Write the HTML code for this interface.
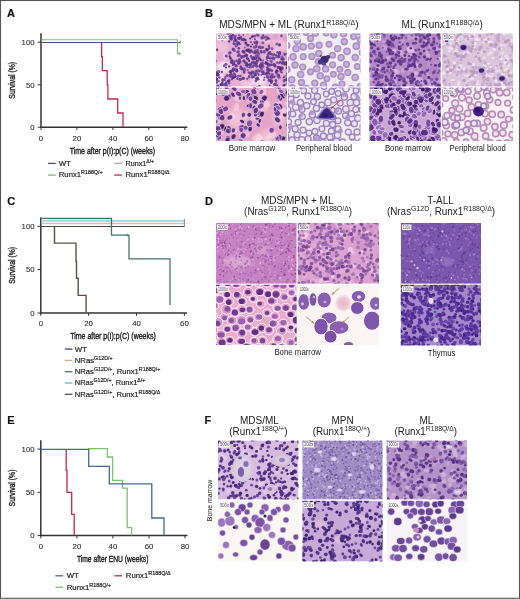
<!DOCTYPE html>
<html><head><meta charset="utf-8"><style>
html,body{margin:0;padding:0;background:#fff;}
body{width:520px;height:599px;overflow:hidden;position:relative;font-family:"Liberation Sans", sans-serif;}
svg{position:absolute;left:0;top:0;will-change:transform;}
text.p{stroke:#1e1e1e;stroke-width:.2px;}
text.yl,text.xt{stroke:#1e1e1e;stroke-width:.38px;}
text.tk{stroke:#2a2a2a;stroke-width:.08px;}
text.lb{stroke:none;}
</style></head><body>
<svg width="520" height="599" viewBox="0 0 520 599" font-family='"Liberation Sans", sans-serif'>
<text class="p" x="7" y="16.6" font-size="11" font-weight="bold" fill="#111">A</text>
<text class="p" x="205" y="16.7" font-size="11" font-weight="bold" fill="#111">B</text>
<text class="p" x="7.2" y="204.8" font-size="11" font-weight="bold" fill="#111">C</text>
<text class="p" x="205" y="204.6" font-size="11" font-weight="bold" fill="#111">D</text>
<text class="p" x="7.3" y="424.3" font-size="11" font-weight="bold" fill="#111">E</text>
<text class="p" x="204.6" y="424.2" font-size="11" font-weight="bold" fill="#111">F</text>
<line x1="41" y1="33.2" x2="41" y2="127.9" stroke="#333" stroke-width="1.5"/>
<line x1="40.3" y1="127.2" x2="187.3" y2="127.2" stroke="#333" stroke-width="1.5"/>
<line x1="37.7" y1="42.2" x2="41" y2="42.2" stroke="#333" stroke-width="1"/>
<text x="34.6" y="45.0" font-size="7.8" text-anchor="end" fill="#2a2a2a" class="tk">100</text>
<line x1="37.7" y1="84.8" x2="41" y2="84.8" stroke="#333" stroke-width="1"/>
<text x="34.6" y="87.6" font-size="7.8" text-anchor="end" fill="#2a2a2a" class="tk">50</text>
<line x1="37.7" y1="127.2" x2="41" y2="127.2" stroke="#333" stroke-width="1"/>
<text x="34.6" y="130.0" font-size="7.8" text-anchor="end" fill="#2a2a2a" class="tk">0</text>
<line x1="41" y1="127.2" x2="41" y2="130.0" stroke="#333" stroke-width="1"/>
<text x="41" y="140.6" font-size="7.8" text-anchor="middle" fill="#2a2a2a" class="tk">0</text>
<line x1="76.9" y1="127.2" x2="76.9" y2="130.0" stroke="#333" stroke-width="1"/>
<text x="76.9" y="140.6" font-size="7.8" text-anchor="middle" fill="#2a2a2a" class="tk">20</text>
<line x1="112.9" y1="127.2" x2="112.9" y2="130.0" stroke="#333" stroke-width="1"/>
<text x="112.9" y="140.6" font-size="7.8" text-anchor="middle" fill="#2a2a2a" class="tk">40</text>
<line x1="148.8" y1="127.2" x2="148.8" y2="130.0" stroke="#333" stroke-width="1"/>
<text x="148.8" y="140.6" font-size="7.8" text-anchor="middle" fill="#2a2a2a" class="tk">60</text>
<line x1="184.8" y1="127.2" x2="184.8" y2="130.0" stroke="#333" stroke-width="1"/>
<text x="184.8" y="140.6" font-size="7.8" text-anchor="middle" fill="#2a2a2a" class="tk">80</text>
<text class="yl" transform="translate(15.3,80.3) rotate(-90)" x="0" y="0" font-size="8.6" text-anchor="middle" textLength="36.7" lengthAdjust="spacingAndGlyphs" fill="#222">Survival (%)</text>
<text x="69.7" y="153.7" font-size="9" textLength="85.5" lengthAdjust="spacingAndGlyphs" fill="#1a1a1a" class="xt">Time after p(I):p(C)  (weeks)</text>
<polyline points="41.5,42.5 180.3,42.5" fill="none" stroke="#3d5378" stroke-width="1.1" stroke-linejoin="miter"/>
<polyline points="41.5,39.7 177.5,39.7 177.5,53.6 180,53.6" fill="none" stroke="#7dc26f" stroke-width="1.1" stroke-linejoin="miter"/>
<polyline points="101.6,42.4 101.6,42.4 101.6,56.5 102.3,56.5 102.3,70.6 107.2,70.6 107.2,84.9 107.9,84.9 107.9,99.0 117.7,99.0 117.7,113.0 123.0,113.0 123.0,127.0" fill="none" stroke="#c8274c" stroke-width="1.3" stroke-linejoin="miter"/>
<line x1="180.3" y1="34.5" x2="180.3" y2="37" stroke="#aaa" stroke-width="0.6"/>
<line x1="180.3" y1="40.5" x2="180.3" y2="43.5" stroke="#666" stroke-width="0.7"/>
<line x1="180" y1="52.3" x2="180" y2="55" stroke="#777" stroke-width="0.7"/>
<line x1="48" y1="163.4" x2="55.7" y2="163.4" stroke="#3d5378" stroke-width="1.3"/>
<text class="p" x="58.8" y="166" font-size="8" fill="#1a1a1a" textLength="12.2" lengthAdjust="spacingAndGlyphs">WT</text>
<line x1="114.3" y1="163.4" x2="122.0" y2="163.4" stroke="#b4a6c0" stroke-width="1.3"/>
<text class="p" x="125.6" y="166.2" font-size="8" fill="#1a1a1a" textLength="28.4" lengthAdjust="spacingAndGlyphs">Runx1<tspan font-size="5.6" dy="-3.0">Δ/+</tspan></text>
<line x1="48" y1="175.1" x2="55.7" y2="175.1" stroke="#7dc26f" stroke-width="1.3"/>
<text class="p" x="58.8" y="177.4" font-size="8" fill="#1a1a1a" textLength="43.9" lengthAdjust="spacingAndGlyphs">Runx1<tspan font-size="5.6" dy="-3.0">R188Q/+</tspan></text>
<line x1="114.3" y1="175.1" x2="122.0" y2="175.1" stroke="#c8274c" stroke-width="1.3"/>
<text class="p" x="125.6" y="177.4" font-size="8" fill="#1a1a1a" textLength="44.1" lengthAdjust="spacingAndGlyphs">Runx1<tspan font-size="5.6" dy="-3.0">R188Q/Δ</tspan></text>
<line x1="40.8" y1="217.5" x2="40.8" y2="313.7" stroke="#333" stroke-width="1.5"/>
<line x1="40.099999999999994" y1="313.0" x2="187.0" y2="313.0" stroke="#333" stroke-width="1.5"/>
<line x1="37.5" y1="226.3" x2="40.8" y2="226.3" stroke="#333" stroke-width="1"/>
<text x="34.6" y="229.10000000000002" font-size="7.8" text-anchor="end" fill="#2a2a2a" class="tk">100</text>
<line x1="37.5" y1="269.6" x2="40.8" y2="269.6" stroke="#333" stroke-width="1"/>
<text x="34.6" y="272.40000000000003" font-size="7.8" text-anchor="end" fill="#2a2a2a" class="tk">50</text>
<line x1="37.5" y1="313.0" x2="40.8" y2="313.0" stroke="#333" stroke-width="1"/>
<text x="34.6" y="315.8" font-size="7.8" text-anchor="end" fill="#2a2a2a" class="tk">0</text>
<line x1="40.8" y1="313.0" x2="40.8" y2="315.8" stroke="#333" stroke-width="1"/>
<text x="40.8" y="326.3" font-size="7.8" text-anchor="middle" fill="#2a2a2a" class="tk">0</text>
<line x1="88.6" y1="313.0" x2="88.6" y2="315.8" stroke="#333" stroke-width="1"/>
<text x="88.6" y="326.3" font-size="7.8" text-anchor="middle" fill="#2a2a2a" class="tk">20</text>
<line x1="136.5" y1="313.0" x2="136.5" y2="315.8" stroke="#333" stroke-width="1"/>
<text x="136.5" y="326.3" font-size="7.8" text-anchor="middle" fill="#2a2a2a" class="tk">40</text>
<line x1="184.4" y1="313.0" x2="184.4" y2="315.8" stroke="#333" stroke-width="1"/>
<text x="184.4" y="326.3" font-size="7.8" text-anchor="middle" fill="#2a2a2a" class="tk">60</text>
<text class="yl" transform="translate(15.3,265.3) rotate(-90)" x="0" y="0" font-size="8.6" text-anchor="middle" textLength="36.8" lengthAdjust="spacingAndGlyphs" fill="#222">Survival (%)</text>
<text x="70.2" y="339.0" font-size="9" textLength="85.6" lengthAdjust="spacingAndGlyphs" fill="#1a1a1a" class="xt">Time after p(I):p(C)  (weeks)</text>
<polyline points="41.5,223.5 184.4,223.5" fill="none" stroke="#e2c08e" stroke-width="1.3" stroke-linejoin="miter"/>
<polyline points="41.5,220.8 184.4,220.8" fill="none" stroke="#a2d6ec" stroke-width="1.8" stroke-linejoin="miter"/>
<polyline points="41.5,226.5 184.4,226.5" fill="none" stroke="#42474e" stroke-width="1.2" stroke-linejoin="miter"/>
<polyline points="41.5,218.4 111.5,218.4 111.5,235.1 129.0,235.1 129.0,258.9 170.0,258.9 170.0,305.0" fill="none" stroke="#40726a" stroke-width="1.25" stroke-linejoin="miter"/>
<polyline points="54.5,226.5 54.5,226.5 54.5,243.1 76.0,243.1 76.0,261.5 76.5,261.5 76.5,278.2 78.2,278.2 78.2,295.4 86.1,295.4 86.1,312.4" fill="none" stroke="#5c5046" stroke-width="1.4" stroke-linejoin="miter"/>
<line x1="184.4" y1="219" x2="184.4" y2="227" stroke="#555" stroke-width="0.7"/>
<line x1="127.2" y1="233.5" x2="127.2" y2="236.5" stroke="#40726a" stroke-width="0.7"/>
<line x1="64.8" y1="349.1" x2="72.5" y2="349.1" stroke="#3c4a6a" stroke-width="1.3"/>
<text class="p" x="74.8" y="351.6" font-size="8" fill="#1a1a1a" textLength="12.2" lengthAdjust="spacingAndGlyphs">WT</text>
<line x1="64.8" y1="360.4" x2="72.5" y2="360.4" stroke="#d8b080" stroke-width="1.3"/>
<text class="p" x="74.8" y="362.8" font-size="8" fill="#1a1a1a" textLength="37.9" lengthAdjust="spacingAndGlyphs">NRas<tspan font-size="5.6" dy="-3.0">G12D/+</tspan></text>
<line x1="64.8" y1="371.7" x2="72.5" y2="371.7" stroke="#4a7a6a" stroke-width="1.3"/>
<text class="p" x="74.8" y="374.1" font-size="8" fill="#1a1a1a" textLength="85.6" lengthAdjust="spacingAndGlyphs">NRas<tspan font-size="5.6" dy="-3.0">G12D/+</tspan><tspan dy="3.0">, Runx1</tspan><tspan font-size="5.6" dy="-3.0">R188Q/+</tspan></text>
<line x1="64.8" y1="383.0" x2="72.5" y2="383.0" stroke="#62b8d8" stroke-width="1.3"/>
<text class="p" x="74.8" y="385.4" font-size="8" fill="#1a1a1a" textLength="70.5" lengthAdjust="spacingAndGlyphs">NRas<tspan font-size="5.6" dy="-3.0">G12D/+</tspan><tspan dy="3.0">, Runx1</tspan><tspan font-size="5.6" dy="-3.0">Δ/+</tspan></text>
<line x1="64.8" y1="394.3" x2="72.5" y2="394.3" stroke="#5a5048" stroke-width="1.3"/>
<text class="p" x="74.8" y="396.5" font-size="8" fill="#1a1a1a" textLength="85.5" lengthAdjust="spacingAndGlyphs">NRas<tspan font-size="5.6" dy="-3.0">G12D/+</tspan><tspan dy="3.0">, Runx1</tspan><tspan font-size="5.6" dy="-3.0">R188Q/Δ</tspan></text>
<line x1="40.8" y1="440.2" x2="40.8" y2="536.3000000000001" stroke="#333" stroke-width="1.5"/>
<line x1="40.099999999999994" y1="535.6" x2="187.5" y2="535.6" stroke="#333" stroke-width="1.5"/>
<line x1="37.5" y1="449.1" x2="40.8" y2="449.1" stroke="#333" stroke-width="1"/>
<text x="34.6" y="451.90000000000003" font-size="7.8" text-anchor="end" fill="#2a2a2a" class="tk">100</text>
<line x1="37.5" y1="492.3" x2="40.8" y2="492.3" stroke="#333" stroke-width="1"/>
<text x="34.6" y="495.1" font-size="7.8" text-anchor="end" fill="#2a2a2a" class="tk">50</text>
<line x1="37.5" y1="535.6" x2="40.8" y2="535.6" stroke="#333" stroke-width="1"/>
<text x="34.6" y="538.4" font-size="7.8" text-anchor="end" fill="#2a2a2a" class="tk">0</text>
<line x1="40.8" y1="535.6" x2="40.8" y2="538.4" stroke="#333" stroke-width="1"/>
<text x="40.8" y="549.0" font-size="7.8" text-anchor="middle" fill="#2a2a2a" class="tk">0</text>
<line x1="76.9" y1="535.6" x2="76.9" y2="538.4" stroke="#333" stroke-width="1"/>
<text x="76.9" y="549.0" font-size="7.8" text-anchor="middle" fill="#2a2a2a" class="tk">20</text>
<line x1="112.9" y1="535.6" x2="112.9" y2="538.4" stroke="#333" stroke-width="1"/>
<text x="112.9" y="549.0" font-size="7.8" text-anchor="middle" fill="#2a2a2a" class="tk">40</text>
<line x1="149.0" y1="535.6" x2="149.0" y2="538.4" stroke="#333" stroke-width="1"/>
<text x="149.0" y="549.0" font-size="7.8" text-anchor="middle" fill="#2a2a2a" class="tk">60</text>
<line x1="185.0" y1="535.6" x2="185.0" y2="538.4" stroke="#333" stroke-width="1"/>
<text x="185.0" y="549.0" font-size="7.8" text-anchor="middle" fill="#2a2a2a" class="tk">80</text>
<text class="yl" transform="translate(15.3,488) rotate(-90)" x="0" y="0" font-size="8.6" text-anchor="middle" textLength="36.8" lengthAdjust="spacingAndGlyphs" fill="#222">Survival (%)</text>
<text x="76.9" y="562.3" font-size="9" textLength="71.5" lengthAdjust="spacingAndGlyphs" fill="#1a1a1a" class="xt">Time after ENU (weeks)</text>
<polyline points="88.0,448.7 107.4,448.7 107.4,457.0 112.6,457.0 112.6,480.4 122.5,480.4 122.5,488.2 127.2,488.2 127.2,527.7 131.6,527.7 131.6,535.4" fill="none" stroke="#7dc26f" stroke-width="1.3" stroke-linejoin="miter"/>
<polyline points="66.2,449.2 66.2,449.2 66.2,470.4 67.0,470.4 67.0,492.3 71.7,492.3 71.7,514.3 74.2,514.3 74.2,535.4" fill="none" stroke="#c8274c" stroke-width="1.3" stroke-linejoin="miter"/>
<polyline points="41.5,449.4 88.7,449.4 88.7,466.3 109.3,466.3 109.3,483.9 151.8,483.9 151.8,518.0 164.0,518.0 164.0,535.4" fill="none" stroke="#46689a" stroke-width="1.3" stroke-linejoin="miter"/>
<line x1="55.4" y1="575.8" x2="63.1" y2="575.8" stroke="#46689a" stroke-width="1.3"/>
<text class="p" x="66.7" y="577.8" font-size="8" fill="#1a1a1a" textLength="12.2" lengthAdjust="spacingAndGlyphs">WT</text>
<line x1="114.3" y1="575.8" x2="122.0" y2="575.8" stroke="#c8274c" stroke-width="1.3"/>
<text class="p" x="125.8" y="577.8" font-size="8" fill="#1a1a1a" textLength="44.8" lengthAdjust="spacingAndGlyphs">Runx1<tspan font-size="5.6" dy="-3.0">R188Q/Δ</tspan></text>
<line x1="55.4" y1="587.3" x2="63.1" y2="587.3" stroke="#7dc26f" stroke-width="1.3"/>
<text class="p" x="66.7" y="589.5" font-size="8" fill="#1a1a1a" textLength="44.6" lengthAdjust="spacingAndGlyphs">Runx1<tspan font-size="5.6" dy="-3.0">R188Q/+</tspan></text>
<rect x="0.5" y="0.5" width="519" height="597.8" fill="none" stroke="#555" stroke-width="1.1"/>
<defs><filter id="bl" x="-5%" y="-5%" width="110%" height="110%"><feGaussianBlur stdDeviation="0.5"/></filter></defs><clipPath id="c0"><rect x="216" y="33.3" width="71" height="53.3"/></clipPath><g clip-path="url(#c0)"><g filter="url(#bl)"><rect x="216" y="33.3" width="71" height="53.3" fill="#e6b0d2"/><g fill="#f4d2e6" fill-opacity="0.7"><ellipse cx="0" cy="0" rx="2.9" ry="2.1" transform="translate(224.1 79.9) rotate(89)"/><ellipse cx="0" cy="0" rx="2.1" ry="1.7" transform="translate(249.4 53.1) rotate(160)"/><ellipse cx="0" cy="0" rx="2.6" ry="2" transform="translate(271.3 85.1) rotate(121)"/><ellipse cx="0" cy="0" rx="3" ry="2.1" transform="translate(227.9 88.2) rotate(59)"/><ellipse cx="0" cy="0" rx="2.1" ry="1.5" transform="translate(252.1 83.5) rotate(175)"/><ellipse cx="0" cy="0" rx="2.6" ry="1.7" transform="translate(277.5 60.3) rotate(43)"/><circle cx="250.7" cy="33" r="1.9"/><ellipse cx="0" cy="0" rx="2.3" ry="1.9" transform="translate(250.9 85) rotate(3)"/><ellipse cx="0" cy="0" rx="2.3" ry="1.8" transform="translate(259 79.5) rotate(52)"/><ellipse cx="0" cy="0" rx="3" ry="2" transform="translate(220.9 37.9) rotate(43)"/><ellipse cx="0" cy="0" rx="2.8" ry="1.9" transform="translate(226.2 57.1) rotate(152)"/><circle cx="286.7" cy="86.9" r="2"/><ellipse cx="0" cy="0" rx="2.4" ry="1.9" transform="translate(272.3 70.4) rotate(45)"/><circle cx="259.9" cy="44.7" r="1.8"/><ellipse cx="0" cy="0" rx="3" ry="2.3" transform="translate(237.4 71) rotate(126)"/><ellipse cx="0" cy="0" rx="3.1" ry="2.8" transform="translate(225.7 55.8) rotate(140)"/><ellipse cx="0" cy="0" rx="3.2" ry="2.5" transform="translate(247.4 84.3) rotate(144)"/><ellipse cx="0" cy="0" rx="3" ry="2.8" transform="translate(254.9 59.4) rotate(102)"/><ellipse cx="0" cy="0" rx="2.3" ry="1.9" transform="translate(223.3 72.4) rotate(61)"/><ellipse cx="0" cy="0" rx="2.7" ry="2" transform="translate(266.7 57) rotate(94)"/><ellipse cx="0" cy="0" rx="2.7" ry="2.4" transform="translate(251 74) rotate(113)"/><ellipse cx="0" cy="0" rx="2.6" ry="2" transform="translate(271.6 78) rotate(47)"/></g><g fill="#f0c4de" fill-opacity="0.7"><circle cx="246.5" cy="75" r="1.8"/><ellipse cx="0" cy="0" rx="2.1" ry="1.7" transform="translate(284.4 53.1) rotate(5)"/><ellipse cx="0" cy="0" rx="2.1" ry="1.4" transform="translate(262.5 41) rotate(35)"/><circle cx="242.8" cy="80.4" r="3.1"/><ellipse cx="0" cy="0" rx="2.4" ry="1.6" transform="translate(252.9 63.5) rotate(156)"/><ellipse cx="0" cy="0" rx="2.2" ry="1.6" transform="translate(273.8 41.9) rotate(45)"/><ellipse cx="0" cy="0" rx="2.4" ry="1.7" transform="translate(215.8 53.4) rotate(19)"/><ellipse cx="0" cy="0" rx="2.8" ry="2.5" transform="translate(267.9 40.5) rotate(98)"/><ellipse cx="0" cy="0" rx="2.1" ry="1.8" transform="translate(242.3 51.2) rotate(77)"/><ellipse cx="0" cy="0" rx="2.1" ry="1.6" transform="translate(281.5 32.3) rotate(177)"/><circle cx="224.2" cy="62.9" r="1.9"/><ellipse cx="0" cy="0" rx="2.7" ry="2.5" transform="translate(276.1 50.8) rotate(68)"/><circle cx="232.4" cy="37.1" r="2.7"/><ellipse cx="0" cy="0" rx="2.9" ry="2.2" transform="translate(215.6 31.9) rotate(84)"/><ellipse cx="0" cy="0" rx="2.3" ry="1.9" transform="translate(221.6 75.9) rotate(119)"/><ellipse cx="0" cy="0" rx="2.6" ry="2.3" transform="translate(223.5 43.1) rotate(140)"/><ellipse cx="0" cy="0" rx="3.2" ry="2.1" transform="translate(273.5 84.7) rotate(124)"/><ellipse cx="0" cy="0" rx="3.2" ry="2.4" transform="translate(258.5 39.2) rotate(101)"/><ellipse cx="0" cy="0" rx="2.1" ry="1.6" transform="translate(283.8 67.9) rotate(123)"/><ellipse cx="0" cy="0" rx="2.7" ry="2.4" transform="translate(267.5 50.6) rotate(117)"/><circle cx="217.6" cy="35.4" r="2.5"/><circle cx="258.6" cy="80.4" r="3.1"/><ellipse cx="0" cy="0" rx="2.4" ry="2.1" transform="translate(243.8 83.4) rotate(87)"/><ellipse cx="0" cy="0" rx="2.4" ry="1.6" transform="translate(222.9 65.7) rotate(53)"/><ellipse cx="0" cy="0" rx="3" ry="2.1" transform="translate(261.1 66) rotate(51)"/><ellipse cx="0" cy="0" rx="2.2" ry="1.9" transform="translate(234.5 64.9) rotate(142)"/><ellipse cx="0" cy="0" rx="2.3" ry="2" transform="translate(222.5 83.9) rotate(179)"/><ellipse cx="0" cy="0" rx="2.9" ry="2.3" transform="translate(268.1 40.2) rotate(48)"/></g><g fill="#dc9cca" fill-opacity="0.7"><ellipse cx="0" cy="0" rx="2.2" ry="1.5" transform="translate(258.3 37.2) rotate(116)"/><circle cx="285.4" cy="84.4" r="2.4"/><ellipse cx="0" cy="0" rx="3" ry="2.3" transform="translate(244.3 51) rotate(163)"/><ellipse cx="0" cy="0" rx="2.1" ry="1.5" transform="translate(248.4 32.9) rotate(105)"/><ellipse cx="0" cy="0" rx="2.9" ry="2.2" transform="translate(273.9 77) rotate(151)"/><circle cx="220.2" cy="32.3" r="1.8"/><ellipse cx="0" cy="0" rx="2.2" ry="2" transform="translate(263.2 68.4) rotate(89)"/><ellipse cx="0" cy="0" rx="3.2" ry="2.3" transform="translate(286.4 56) rotate(71)"/><ellipse cx="0" cy="0" rx="2.8" ry="2.2" transform="translate(287.3 67.4) rotate(94)"/><ellipse cx="0" cy="0" rx="2.2" ry="1.4" transform="translate(269.8 55.1) rotate(158)"/><ellipse cx="0" cy="0" rx="3.1" ry="2.5" transform="translate(258.3 43.8) rotate(149)"/><ellipse cx="0" cy="0" rx="2.5" ry="2.3" transform="translate(282.6 79.3) rotate(95)"/><ellipse cx="0" cy="0" rx="2.3" ry="1.7" transform="translate(256.4 85.9) rotate(96)"/><circle cx="248.3" cy="47.2" r="2.9"/><ellipse cx="0" cy="0" rx="2.6" ry="1.9" transform="translate(263.6 46.1) rotate(44)"/><circle cx="215.5" cy="45.3" r="1.9"/><ellipse cx="0" cy="0" rx="2.4" ry="1.8" transform="translate(277.8 57.3) rotate(46)"/><ellipse cx="0" cy="0" rx="2.3" ry="1.9" transform="translate(265.1 72.4) rotate(29)"/><ellipse cx="0" cy="0" rx="2.2" ry="1.5" transform="translate(253.3 36.5) rotate(132)"/><circle cx="286" cy="39.3" r="2.9"/><ellipse cx="0" cy="0" rx="3.1" ry="2.6" transform="translate(242.4 63.4) rotate(104)"/><ellipse cx="0" cy="0" rx="3.1" ry="2" transform="translate(229.4 77.7) rotate(102)"/><ellipse cx="0" cy="0" rx="2.5" ry="1.9" transform="translate(256.9 49.1) rotate(95)"/><ellipse cx="0" cy="0" rx="2.3" ry="2" transform="translate(257.5 86.9) rotate(175)"/></g><g fill="#d09ccc" fill-opacity="0.7"><ellipse cx="0" cy="0" rx="2.6" ry="2.3" transform="translate(245.1 41.2) rotate(121)"/><circle cx="220.5" cy="69.3" r="2"/><ellipse cx="0" cy="0" rx="2.9" ry="2.3" transform="translate(284.6 55) rotate(0)"/><ellipse cx="0" cy="0" rx="2.2" ry="2" transform="translate(243.6 64.3) rotate(10)"/><circle cx="223.4" cy="43.5" r="1.9"/><circle cx="239.4" cy="43.5" r="2.7"/><circle cx="268.4" cy="36.2" r="2"/><circle cx="282.3" cy="53" r="3.2"/><ellipse cx="0" cy="0" rx="2.1" ry="1.6" transform="translate(267.4 49.3) rotate(4)"/><ellipse cx="0" cy="0" rx="2.3" ry="1.9" transform="translate(268.5 49.7) rotate(11)"/><ellipse cx="0" cy="0" rx="2.9" ry="1.9" transform="translate(275.5 36.4) rotate(103)"/><ellipse cx="0" cy="0" rx="2.2" ry="1.7" transform="translate(284.6 53.7) rotate(57)"/><ellipse cx="0" cy="0" rx="3" ry="2.2" transform="translate(272.2 87.7) rotate(19)"/><ellipse cx="0" cy="0" rx="2" ry="1.8" transform="translate(227.4 56.1) rotate(120)"/><circle cx="254.9" cy="86.6" r="2.9"/><ellipse cx="0" cy="0" rx="3" ry="2.4" transform="translate(288 57.7) rotate(134)"/></g><radialGradient id="g25334598"><stop offset="0" stop-color="#fcf0f6" stop-opacity="1.0"/><stop offset="0.6" stop-color="#fcf0f6" stop-opacity="0.7"/><stop offset="1" stop-color="#fcf0f6" stop-opacity="0"/></radialGradient><ellipse cx="224" cy="67" rx="9" ry="7" fill="url(#g25334598)"/><radialGradient id="g76341595"><stop offset="0" stop-color="#f8e2ee" stop-opacity="0.9"/><stop offset="0.6" stop-color="#f8e2ee" stop-opacity="0.63"/><stop offset="1" stop-color="#f8e2ee" stop-opacity="0"/></radialGradient><ellipse cx="220" cy="78" rx="5" ry="8" fill="url(#g76341595)"/><radialGradient id="g30926666"><stop offset="0" stop-color="#fae8f2" stop-opacity="1.0"/><stop offset="0.6" stop-color="#fae8f2" stop-opacity="0.7"/><stop offset="1" stop-color="#fae8f2" stop-opacity="0"/></radialGradient><ellipse cx="259" cy="80" rx="10" ry="8" fill="url(#g30926666)"/><radialGradient id="g54127196"><stop offset="0" stop-color="#f0c8dc" stop-opacity="0.9"/><stop offset="0.6" stop-color="#f0c8dc" stop-opacity="0.63"/><stop offset="1" stop-color="#f0c8dc" stop-opacity="0"/></radialGradient><ellipse cx="222" cy="47" rx="8" ry="7" fill="url(#g54127196)"/><radialGradient id="g23404595"><stop offset="0" stop-color="#f0c8dc" stop-opacity="0.9"/><stop offset="0.6" stop-color="#f0c8dc" stop-opacity="0.63"/><stop offset="1" stop-color="#f0c8dc" stop-opacity="0"/></radialGradient><ellipse cx="281" cy="46" rx="8" ry="7" fill="url(#g23404595)"/><g fill="#7650a2" fill-opacity="0.9"><circle cx="266.6" cy="59" r="1"/><circle cx="257.2" cy="34.9" r="1.4"/><circle cx="262.8" cy="42.7" r="1.5"/><circle cx="258.4" cy="56.7" r="1.4"/><circle cx="243.7" cy="72.5" r="1"/><circle cx="233.8" cy="43.8" r="1"/><circle cx="252.1" cy="58.1" r="1"/><circle cx="230.7" cy="58.4" r="1.3"/><circle cx="266" cy="36.7" r="1.1"/><circle cx="237.8" cy="76.5" r="1.4"/><circle cx="268.3" cy="49" r="1.2"/><circle cx="256.7" cy="42" r="1.7"/><circle cx="264" cy="79.9" r="1.1"/><circle cx="235" cy="69.5" r="1.8"/><circle cx="256.3" cy="73.2" r="1.6"/><circle cx="254.4" cy="47.2" r="1.8"/><circle cx="258.7" cy="53.9" r="1.6"/><circle cx="238.9" cy="35.2" r="1.1"/><circle cx="266.3" cy="39.7" r="1.3"/><circle cx="236.2" cy="45.9" r="1.6"/><circle cx="256.2" cy="71.3" r="1.7"/><circle cx="256.1" cy="75.6" r="1"/><circle cx="249.2" cy="49.6" r="1.4"/><circle cx="244.7" cy="47.4" r="1"/><circle cx="269.9" cy="74.1" r="1"/><circle cx="233.3" cy="49.4" r="1.8"/><circle cx="260.9" cy="51" r="1.5"/><circle cx="229.5" cy="53.1" r="1.6"/><circle cx="262.1" cy="63.3" r="1.8"/><circle cx="255.6" cy="59" r="1.5"/><circle cx="252.5" cy="76.7" r="1.7"/><circle cx="235.9" cy="40.1" r="1.7"/><circle cx="260.2" cy="67" r="1.6"/><circle cx="249.2" cy="77" r="1.4"/><circle cx="243.5" cy="50.9" r="1.4"/><circle cx="230.5" cy="71.5" r="1.6"/><circle cx="250.8" cy="67.2" r="1.3"/><circle cx="237.4" cy="42.3" r="1.5"/><circle cx="255" cy="36.1" r="1.3"/><circle cx="238" cy="55.9" r="1.2"/><circle cx="261.5" cy="68.8" r="1.6"/><circle cx="246.5" cy="44.7" r="0.9"/><circle cx="267.9" cy="38.5" r="1.6"/><circle cx="235.5" cy="36" r="1.2"/><circle cx="244.4" cy="69.2" r="1.7"/><circle cx="240.9" cy="55.8" r="1"/></g><g fill="#4e2a7c" fill-opacity="0.9"><circle cx="250.9" cy="46.5" r="1"/><circle cx="266.3" cy="49.2" r="1.1"/><circle cx="245.3" cy="40" r="1.3"/><circle cx="247.2" cy="64.5" r="1.5"/><circle cx="239.8" cy="78.9" r="1"/><circle cx="230.1" cy="58.1" r="1"/><circle cx="237.6" cy="51.9" r="1.2"/><circle cx="248.5" cy="50.8" r="1.6"/><circle cx="247.3" cy="65.1" r="1.4"/><circle cx="247.3" cy="50.2" r="1.8"/><circle cx="260.7" cy="60" r="1.2"/><circle cx="256.9" cy="42.6" r="0.9"/><circle cx="252.6" cy="58.6" r="1.2"/><circle cx="236.7" cy="71" r="1.5"/><circle cx="238.7" cy="63.2" r="1.6"/><circle cx="238.7" cy="43.2" r="1.4"/><circle cx="258.3" cy="79.3" r="1.2"/><circle cx="233" cy="49.1" r="0.9"/><circle cx="269.1" cy="52.8" r="1.4"/><circle cx="266.8" cy="49.9" r="1.5"/><circle cx="246.1" cy="55.4" r="1.4"/><circle cx="268.9" cy="45.9" r="1.1"/><circle cx="245.8" cy="43" r="1.5"/><circle cx="250.2" cy="64.8" r="1.7"/><circle cx="257.3" cy="61" r="1.6"/><circle cx="249.2" cy="60.8" r="1"/><circle cx="243.4" cy="78.3" r="1.6"/><circle cx="248" cy="45.2" r="1.4"/><circle cx="257.6" cy="77.8" r="1.3"/><circle cx="242" cy="69.2" r="1.3"/><circle cx="260.9" cy="48.1" r="0.9"/><circle cx="229.1" cy="66.4" r="1.2"/><circle cx="234.6" cy="76.4" r="1.8"/><circle cx="254" cy="58" r="1.7"/><circle cx="239.3" cy="59.5" r="1.3"/><circle cx="237.6" cy="44.5" r="1.1"/><circle cx="246.3" cy="50.5" r="0.9"/><circle cx="255" cy="75" r="1.4"/></g><g fill="#684096" fill-opacity="0.9"><circle cx="256.3" cy="46.7" r="1.2"/><circle cx="240.6" cy="62" r="1.1"/><circle cx="234" cy="43.5" r="1.5"/><circle cx="239" cy="54.7" r="1.6"/><circle cx="231.3" cy="38.2" r="1.6"/><circle cx="230.9" cy="71.5" r="1.5"/><circle cx="240.7" cy="68.4" r="1.4"/><circle cx="268.7" cy="70.9" r="1"/><circle cx="262.7" cy="66.3" r="1.6"/><circle cx="231.2" cy="38.6" r="1.4"/><circle cx="267.6" cy="76.6" r="1.7"/><circle cx="260.6" cy="65.2" r="1.7"/><circle cx="233.4" cy="68.9" r="1.6"/><circle cx="242.6" cy="56.7" r="1.2"/><circle cx="262.3" cy="71.8" r="1.6"/><circle cx="230.8" cy="37.6" r="1.6"/><circle cx="244.2" cy="71" r="1.5"/><circle cx="250.9" cy="42.1" r="1.1"/><circle cx="252.2" cy="77.5" r="1.1"/><circle cx="235.1" cy="74.4" r="1.1"/><circle cx="269.5" cy="38.7" r="0.9"/><circle cx="250.8" cy="50.4" r="1.1"/><circle cx="256.6" cy="56" r="1.8"/><circle cx="249.1" cy="67.3" r="1.1"/><circle cx="259" cy="71.2" r="1.3"/><circle cx="253.4" cy="72.9" r="1.6"/><circle cx="254.5" cy="62.3" r="1.6"/><circle cx="264.2" cy="51.7" r="1.7"/><circle cx="250.6" cy="73.3" r="1.8"/><circle cx="254.6" cy="42.7" r="1.4"/><circle cx="248.7" cy="72.4" r="1.1"/><circle cx="271.7" cy="70.6" r="1.7"/><circle cx="242.1" cy="68.5" r="1.6"/><circle cx="263" cy="60.5" r="1"/><circle cx="254.4" cy="52.6" r="1.7"/><circle cx="265.6" cy="62" r="0.9"/><circle cx="267.9" cy="77.8" r="1.3"/><circle cx="245.3" cy="62.6" r="1.5"/><circle cx="233.8" cy="63.7" r="1.6"/><circle cx="261.3" cy="63.4" r="1"/><circle cx="247.2" cy="66.9" r="0.9"/><circle cx="243.3" cy="34.9" r="0.9"/><circle cx="253.2" cy="57.3" r="1"/><circle cx="247.2" cy="45.4" r="0.9"/><circle cx="242.1" cy="78.7" r="1.2"/><circle cx="230.5" cy="36.2" r="1.8"/><circle cx="250.8" cy="74" r="1.7"/><circle cx="262.9" cy="73.7" r="1.3"/><circle cx="258.2" cy="73.9" r="1"/><circle cx="244" cy="56.5" r="1.4"/><circle cx="240.3" cy="79.6" r="1.5"/></g><g fill="#5e3a90" fill-opacity="0.9"><circle cx="240.6" cy="37.4" r="1.6"/><circle cx="253" cy="36.3" r="1.2"/><circle cx="248.9" cy="60.7" r="1.1"/><circle cx="263.1" cy="35.4" r="1.2"/><circle cx="239.6" cy="61" r="1.6"/><circle cx="256.5" cy="78.6" r="1.7"/><circle cx="263.7" cy="73.4" r="1.2"/><circle cx="233.5" cy="64" r="1.3"/><circle cx="239.8" cy="44.2" r="1"/><circle cx="251.1" cy="56.4" r="1.3"/><circle cx="252.3" cy="71.8" r="1.4"/><circle cx="256.7" cy="79.7" r="1.2"/><circle cx="246.6" cy="63" r="1.2"/><circle cx="231.4" cy="62.8" r="1.2"/><circle cx="240.8" cy="66.5" r="1.3"/><circle cx="240.6" cy="56.1" r="1.2"/><circle cx="234.2" cy="50" r="1"/><circle cx="246.4" cy="65.2" r="1.5"/><circle cx="269.2" cy="47.9" r="1.1"/><circle cx="232" cy="79" r="1.2"/><circle cx="258.4" cy="35.4" r="1.2"/><circle cx="234.1" cy="61.6" r="1.1"/><circle cx="270" cy="58.7" r="0.9"/><circle cx="256.8" cy="66.1" r="1.6"/><circle cx="263.5" cy="71.7" r="1.1"/><circle cx="252.4" cy="62.8" r="1.7"/><circle cx="261.9" cy="64.7" r="1.6"/><circle cx="236.6" cy="60.9" r="1.4"/><circle cx="235.4" cy="40" r="1.1"/><circle cx="230.3" cy="52.6" r="1.3"/><circle cx="244.3" cy="72.6" r="1.1"/><circle cx="241.5" cy="57.7" r="1.2"/><circle cx="252.4" cy="44.6" r="0.9"/><circle cx="231.8" cy="61.9" r="1.6"/><circle cx="267.5" cy="37.9" r="1.4"/><circle cx="261.2" cy="74.8" r="0.9"/><circle cx="247.3" cy="78.8" r="1.1"/><circle cx="255.4" cy="50.7" r="1.3"/><circle cx="256.8" cy="43" r="1.4"/><circle cx="253.2" cy="59.3" r="1.4"/><circle cx="267.9" cy="69.3" r="1.4"/><circle cx="231.3" cy="39.1" r="1.7"/><circle cx="271.7" cy="54.1" r="1.2"/><circle cx="232.8" cy="70.2" r="1.6"/><circle cx="255" cy="39.2" r="1"/><circle cx="268.4" cy="72.9" r="1.5"/><circle cx="243.7" cy="39.5" r="1.8"/><circle cx="259.6" cy="70.7" r="1"/><circle cx="238.8" cy="48.3" r="1.4"/><circle cx="242.6" cy="56.1" r="0.9"/></g><g fill="#5a3488" fill-opacity="0.9"><circle cx="265.6" cy="73.9" r="1.3"/><circle cx="254" cy="76.9" r="1"/><circle cx="235" cy="40.4" r="1.5"/><circle cx="250.2" cy="38.6" r="1.1"/><circle cx="242.7" cy="51.6" r="1.4"/><circle cx="232.9" cy="35.3" r="1.5"/><circle cx="257.5" cy="51.9" r="1.5"/><circle cx="259.2" cy="58.6" r="1.7"/><circle cx="246.3" cy="55.4" r="1.8"/><circle cx="231.9" cy="60.3" r="1.5"/><circle cx="259.5" cy="47.1" r="1.7"/><circle cx="244.2" cy="53.1" r="0.9"/><circle cx="269.8" cy="52.5" r="1.3"/><circle cx="234" cy="73.3" r="1"/><circle cx="252" cy="36.7" r="1.2"/><circle cx="251.8" cy="50.6" r="1"/><circle cx="255.5" cy="53.1" r="1.2"/><circle cx="256.3" cy="57.9" r="1"/><circle cx="229.9" cy="75.3" r="1.2"/><circle cx="247.9" cy="58.9" r="1.4"/><circle cx="264.5" cy="77.6" r="0.9"/><circle cx="252.1" cy="52" r="0.9"/><circle cx="257.5" cy="49.8" r="1.1"/><circle cx="260.2" cy="66.2" r="1.5"/><circle cx="256.2" cy="45.3" r="1.1"/><circle cx="250" cy="52.1" r="1.6"/><circle cx="233" cy="65.2" r="0.9"/><circle cx="229.1" cy="41.4" r="1.2"/><circle cx="261.4" cy="52.3" r="1.2"/><circle cx="239.1" cy="38.5" r="1.5"/><circle cx="264.3" cy="37.5" r="1.2"/><circle cx="229.6" cy="56.5" r="1"/><circle cx="261.9" cy="37.9" r="1.6"/><circle cx="238" cy="37.8" r="1"/><circle cx="262.6" cy="47.5" r="1.3"/><circle cx="247.1" cy="58.2" r="1.3"/><circle cx="247.8" cy="70.1" r="0.9"/><circle cx="232.8" cy="76.9" r="1.6"/><circle cx="244.1" cy="52.2" r="1.3"/><circle cx="242" cy="39.8" r="1.4"/><circle cx="234.8" cy="37.7" r="1.5"/><circle cx="237.4" cy="78.9" r="1.1"/><circle cx="237.4" cy="71" r="1.1"/><circle cx="229.9" cy="56.3" r="1.1"/><circle cx="236.1" cy="65.8" r="1.7"/></g><g fill="#7650a2" fill-opacity="0.9"><circle cx="271.2" cy="61.4" r="1.6"/><circle cx="266.9" cy="75" r="1"/><circle cx="279.1" cy="77.2" r="1.7"/><circle cx="273" cy="55.2" r="1.6"/><circle cx="268" cy="55.9" r="1.4"/><circle cx="276.3" cy="82.7" r="0.9"/><circle cx="283.2" cy="62" r="1.3"/><circle cx="286.4" cy="75.4" r="1"/><circle cx="269.5" cy="65.5" r="1.2"/><circle cx="282.6" cy="63.5" r="1.4"/><circle cx="270.5" cy="57.9" r="1.4"/><circle cx="270.8" cy="77.5" r="1.2"/><circle cx="276" cy="57.4" r="0.9"/><circle cx="276.8" cy="73.7" r="1"/><circle cx="280.8" cy="71.6" r="1.3"/><circle cx="283.8" cy="86.2" r="1.3"/><circle cx="276.5" cy="73.1" r="1.1"/><circle cx="284.7" cy="54.5" r="1.4"/><circle cx="270.9" cy="76.4" r="1.7"/><circle cx="284.4" cy="76.8" r="1.2"/></g><g fill="#5e3a90" fill-opacity="0.9"><circle cx="287.9" cy="62.6" r="1.5"/><circle cx="271" cy="64.8" r="1.5"/><circle cx="271.9" cy="58.2" r="1"/><circle cx="275.1" cy="65.9" r="1.6"/><circle cx="279.5" cy="53.9" r="1.6"/><circle cx="287.4" cy="53.6" r="1.2"/><circle cx="273.6" cy="58.5" r="1.7"/><circle cx="282.3" cy="68.9" r="1.4"/><circle cx="270.1" cy="79.9" r="1.4"/><circle cx="270" cy="69.6" r="1.3"/><circle cx="276" cy="81.1" r="1"/><circle cx="279.7" cy="52.7" r="1.6"/><circle cx="284.7" cy="79.8" r="1"/><circle cx="267.5" cy="60.6" r="0.9"/><circle cx="286.8" cy="80" r="1.4"/><circle cx="268.4" cy="64.8" r="1.7"/><circle cx="268" cy="70.4" r="1.7"/><circle cx="285.4" cy="63.1" r="1.8"/><circle cx="278.5" cy="56.5" r="1.8"/><circle cx="284.6" cy="80.3" r="1.2"/><circle cx="281.9" cy="72.4" r="1"/><circle cx="283.3" cy="59.2" r="1.4"/><circle cx="274.1" cy="76.8" r="1.4"/><circle cx="271.9" cy="76.9" r="1.8"/><circle cx="282.1" cy="67.7" r="1.4"/><circle cx="268.7" cy="69.9" r="1.5"/></g><g fill="#5a3488" fill-opacity="0.9"><circle cx="282" cy="58.9" r="1.8"/><circle cx="277.3" cy="52.3" r="1.1"/><circle cx="277.7" cy="87.6" r="1.8"/><circle cx="284.7" cy="64.3" r="1.3"/><circle cx="278.4" cy="67.4" r="1.7"/><circle cx="273.3" cy="64.6" r="1"/><circle cx="284.9" cy="84.7" r="1"/><circle cx="274.9" cy="84.5" r="1.8"/><circle cx="278.5" cy="75" r="1.5"/><circle cx="277.2" cy="85.2" r="1"/><circle cx="287.4" cy="65.8" r="1.3"/><circle cx="280.1" cy="62.2" r="1.3"/><circle cx="274.2" cy="64.8" r="1.7"/><circle cx="284.6" cy="54.1" r="1"/><circle cx="266" cy="63.2" r="1.6"/><circle cx="276" cy="71.9" r="1.3"/></g><g fill="#4e2a7c" fill-opacity="0.9"><circle cx="288" cy="73.3" r="1.6"/><circle cx="280.2" cy="67.8" r="1.6"/><circle cx="271.3" cy="82.6" r="1.3"/><circle cx="267.2" cy="63.6" r="1.5"/><circle cx="286.9" cy="63.3" r="1.8"/><circle cx="271.4" cy="81.6" r="1.2"/><circle cx="276.9" cy="71" r="1.7"/><circle cx="282.6" cy="62.9" r="1.1"/><circle cx="276.1" cy="55.4" r="1.1"/><circle cx="274.4" cy="54.2" r="1"/><circle cx="280.7" cy="69.4" r="1.6"/><circle cx="267.4" cy="67.4" r="1.2"/><circle cx="288.7" cy="72.2" r="1.3"/><circle cx="287.3" cy="68.1" r="1.4"/></g><g fill="#684096" fill-opacity="0.9"><circle cx="277.2" cy="62.5" r="1.2"/><circle cx="282.5" cy="62.9" r="1.5"/><circle cx="273.3" cy="87.8" r="1.3"/><circle cx="273.9" cy="65" r="1.4"/><circle cx="284.2" cy="81.4" r="1.1"/><circle cx="279.5" cy="56.7" r="1"/><circle cx="278" cy="75.5" r="1.5"/><circle cx="275.9" cy="80.3" r="1.3"/><circle cx="285.1" cy="63.4" r="1"/><circle cx="272.4" cy="74.3" r="1.3"/><circle cx="267.5" cy="57.3" r="1.8"/><circle cx="288.9" cy="88" r="1.7"/><circle cx="270.3" cy="54" r="1"/><circle cx="278.3" cy="52.9" r="1.1"/></g><g fill="#5e3a90" fill-opacity="0.9"><circle cx="221.9" cy="72" r="1.2"/><circle cx="224.8" cy="80.1" r="1.1"/><circle cx="229.3" cy="80.5" r="1.3"/><circle cx="231" cy="73.9" r="1.5"/><circle cx="214.8" cy="72.2" r="1.1"/><circle cx="222.2" cy="83.4" r="1.4"/><circle cx="232.9" cy="71.2" r="1"/><circle cx="214.3" cy="76.7" r="1.3"/><circle cx="218.2" cy="87.2" r="1.1"/></g><g fill="#5a3488" fill-opacity="0.9"><circle cx="218.7" cy="81.1" r="1.1"/><circle cx="215.9" cy="72.4" r="1.5"/><circle cx="230.5" cy="76.5" r="1.2"/><circle cx="216.1" cy="75.1" r="1"/><circle cx="215.8" cy="78" r="1.3"/><circle cx="230.6" cy="71.7" r="1.4"/><circle cx="224.9" cy="84.8" r="1.7"/><circle cx="227.2" cy="75.7" r="1.4"/></g><g fill="#684096" fill-opacity="0.9"><circle cx="226.9" cy="86.5" r="1.6"/><circle cx="225.3" cy="77" r="1"/><circle cx="217.9" cy="75.2" r="1.6"/><circle cx="232.1" cy="74.6" r="0.9"/><circle cx="229.2" cy="83.3" r="1.2"/><circle cx="218.1" cy="74.6" r="1.4"/><circle cx="214.8" cy="80.2" r="1.1"/><circle cx="219.4" cy="77.5" r="1.2"/><circle cx="217.8" cy="86.3" r="1.7"/><circle cx="226.1" cy="84" r="1.7"/><circle cx="213.6" cy="79.5" r="1"/><circle cx="226.1" cy="82.3" r="1.1"/></g><g fill="#7650a2" fill-opacity="0.9"><circle cx="213.6" cy="84.7" r="1.3"/><circle cx="230.1" cy="87.4" r="1.6"/><circle cx="218.6" cy="71.8" r="1.7"/><circle cx="223.9" cy="85.4" r="1"/><circle cx="217" cy="79.9" r="1.4"/><circle cx="225" cy="78.3" r="1.2"/></g><g fill="#4e2a7c" fill-opacity="0.9"><circle cx="214.8" cy="81.4" r="1.2"/><circle cx="222.6" cy="81.2" r="1.1"/><circle cx="213.9" cy="72.3" r="1.3"/><circle cx="217.1" cy="74.3" r="1.7"/><circle cx="233.7" cy="77.6" r="1.3"/><circle cx="216.8" cy="79.1" r="1.3"/><circle cx="228.3" cy="81.1" r="1.6"/><circle cx="216.5" cy="82.2" r="1.3"/><circle cx="214.6" cy="78.1" r="1.4"/><circle cx="221.4" cy="84.8" r="1.8"/></g><g fill="#4e2a7c" fill-opacity="0.85"><circle cx="256.2" cy="63.5" r="1.6"/><circle cx="279.5" cy="44.9" r="1.6"/><circle cx="217.1" cy="49.7" r="1.2"/><circle cx="267.2" cy="73" r="1.2"/><circle cx="257.2" cy="86.9" r="1"/><circle cx="214.8" cy="61.8" r="1.5"/><circle cx="288" cy="83.7" r="1.5"/><circle cx="226" cy="67.6" r="1.1"/><circle cx="248.9" cy="76.1" r="0.9"/><circle cx="243.9" cy="60.7" r="1.5"/><circle cx="283.8" cy="77.6" r="0.9"/><circle cx="237" cy="69.4" r="1"/></g><g fill="#7650a2" fill-opacity="0.85"><circle cx="234.2" cy="41.4" r="1.2"/><circle cx="215.7" cy="60.6" r="1.2"/><circle cx="276.8" cy="44" r="1.6"/><circle cx="228.2" cy="33.6" r="1.5"/><circle cx="234.4" cy="50.6" r="1.5"/><circle cx="260.7" cy="46.6" r="1.2"/><circle cx="233.8" cy="75.4" r="1.3"/><circle cx="240.7" cy="56.4" r="1.1"/><circle cx="235.8" cy="44.4" r="1.4"/><circle cx="272" cy="48.4" r="1.5"/><circle cx="282.2" cy="56.7" r="1.3"/><circle cx="257.8" cy="70.5" r="1.5"/><circle cx="257.7" cy="87.3" r="1.1"/></g><g fill="#5e3a90" fill-opacity="0.85"><circle cx="226.2" cy="56" r="1.5"/><circle cx="279.3" cy="62.9" r="1.1"/><circle cx="222.3" cy="40" r="1.2"/><circle cx="281.5" cy="35.9" r="1.3"/><circle cx="271.8" cy="80.8" r="1.5"/><circle cx="269.2" cy="80.4" r="1.6"/><circle cx="254.4" cy="65.3" r="1.5"/><circle cx="225.9" cy="64.2" r="1.5"/><circle cx="247.8" cy="31.3" r="1.4"/></g><g fill="#5a3488" fill-opacity="0.85"><circle cx="230.9" cy="32.4" r="1.4"/><circle cx="268.7" cy="58.1" r="0.9"/><circle cx="253.9" cy="58.6" r="1.4"/><circle cx="240.3" cy="76" r="1.3"/><circle cx="269.7" cy="85.6" r="1"/><circle cx="286.8" cy="79.1" r="1.5"/><circle cx="222.6" cy="79.6" r="1.5"/><circle cx="283.9" cy="85.5" r="1.4"/></g><g fill="#684096" fill-opacity="0.85"><circle cx="238.8" cy="51.5" r="1.2"/><circle cx="268" cy="54.3" r="1.3"/><circle cx="255.8" cy="81.1" r="1.4"/><circle cx="224.1" cy="65.9" r="1.3"/><circle cx="258.7" cy="75" r="1.1"/><circle cx="252.7" cy="66.4" r="1.5"/><circle cx="259.4" cy="86" r="1.2"/><circle cx="268.6" cy="64.5" r="1"/></g></g><rect x="217.2" y="34.8" width="10.5" height="5.6" fill="#fbf8fb"/><text class="lb" x="218" y="39.3" font-size="4.6" fill="#555" textLength="8.9" lengthAdjust="spacingAndGlyphs">500x</text></g><clipPath id="c1"><rect x="288" y="33.3" width="72.5" height="53.3"/></clipPath><g clip-path="url(#c1)"><g filter="url(#bl)"><rect x="288" y="33.3" width="72.5" height="53.3" fill="#f2ecf3"/><g fill="#c8b2da" stroke="#ae90c6" stroke-width="1.6"><circle cx="360" cy="86.5" r="2.7"/><circle cx="291.7" cy="79.8" r="3"/><circle cx="337.6" cy="48.6" r="2.9"/><circle cx="332.6" cy="64.8" r="2.8"/><circle cx="318.8" cy="53.6" r="3"/><circle cx="306.1" cy="32.4" r="2.7"/><circle cx="314.8" cy="83.2" r="2.9"/><circle cx="329" cy="44.3" r="2.7"/><circle cx="310.5" cy="38.4" r="2.9"/><circle cx="363.4" cy="70.3" r="2.8"/><circle cx="355.1" cy="77.5" r="3"/><circle cx="347" cy="51.3" r="3.1"/><circle cx="360.5" cy="39.9" r="3"/><circle cx="341.1" cy="57.7" r="2.9"/><circle cx="323.5" cy="85.1" r="2.9"/><circle cx="310.5" cy="71.8" r="2.8"/><circle cx="356.3" cy="46.2" r="3.1"/><circle cx="325.6" cy="68.9" r="2.9"/><circle cx="333.9" cy="34.8" r="3"/><circle cx="342" cy="84.1" r="2.8"/><circle cx="343.5" cy="33.8" r="3"/><circle cx="353.7" cy="36.6" r="2.9"/><circle cx="301.5" cy="82.5" r="2.9"/><circle cx="359.9" cy="31.8" r="3"/><circle cx="286.7" cy="45.5" r="3"/><circle cx="297.3" cy="41.2" r="3"/><circle cx="315.3" cy="32.9" r="3.1"/><circle cx="296.9" cy="32.5" r="2.8"/><circle cx="333.3" cy="74.3" r="2.7"/><circle cx="320.2" cy="75.7" r="3"/><circle cx="293" cy="56.9" r="3"/><circle cx="295" cy="65" r="2.9"/><circle cx="332.6" cy="55.2" r="2.7"/><circle cx="289.5" cy="32.3" r="2.8"/><circle cx="303.2" cy="56.7" r="2.8"/><circle cx="347.8" cy="72.4" r="2.8"/><circle cx="318.2" cy="61.5" r="2.7"/><circle cx="357.3" cy="66.5" r="2.8"/><circle cx="362.2" cy="52.4" r="2.7"/><circle cx="344.3" cy="41.7" r="2.9"/><circle cx="335.3" cy="87.2" r="3"/><circle cx="286.9" cy="69.4" r="3"/><circle cx="355.2" cy="57.6" r="3"/><circle cx="346.5" cy="64.3" r="2.8"/><circle cx="302.7" cy="67.1" r="2.9"/><circle cx="300.7" cy="74.4" r="2.9"/><circle cx="319.1" cy="45.3" r="2.9"/><circle cx="285.2" cy="59.1" r="3"/><circle cx="311.3" cy="46.1" r="2.9"/><circle cx="303.2" cy="46.8" r="3.1"/><circle cx="326.2" cy="33" r="2.7"/><circle cx="292.2" cy="87.9" r="3"/><circle cx="339.9" cy="69.3" r="2.7"/><circle cx="311.9" cy="56.4" r="2.9"/><circle cx="326.8" cy="78.8" r="2.7"/><circle cx="296" cy="48.7" r="3"/><circle cx="316.8" cy="68.7" r="3"/><circle cx="351.4" cy="88.5" r="2.8"/><circle cx="285.1" cy="84.5" r="2.7"/><circle cx="363.1" cy="61.3" r="2.7"/><circle cx="306.6" cy="88.6" r="3.1"/><circle cx="341" cy="76.6" r="3"/></g><ellipse cx="324.5" cy="59.5" rx="4.2" ry="3.8" fill="#3a2a7a"/><ellipse cx="320.5" cy="62" rx="2.6" ry="2.4" fill="#4a3688"/><ellipse cx="328" cy="57" rx="2.2" ry="2" fill="#40307e"/><ellipse cx="324" cy="64" rx="2.4" ry="1.8" fill="#5a4898"/><ellipse cx="320.5" cy="55.8" rx="0.9" ry="0.9" fill="#8a3040"/></g><rect x="289.2" y="34.8" width="10.5" height="5.6" fill="#fbf8fb"/><text class="lb" x="290" y="39.3" font-size="4.6" fill="#555" textLength="8.9" lengthAdjust="spacingAndGlyphs">500x</text></g><clipPath id="c2"><rect x="216" y="87.6" width="71" height="53.4"/></clipPath><g clip-path="url(#c2)"><g filter="url(#bl)"><rect x="216" y="87.6" width="71" height="53.4" fill="#e6a4c6"/><radialGradient id="g21907248"><stop offset="0" stop-color="#f4c4d8" stop-opacity="1.0"/><stop offset="0.6" stop-color="#f4c4d8" stop-opacity="0.7"/><stop offset="1" stop-color="#f4c4d8" stop-opacity="0"/></radialGradient><ellipse cx="236" cy="118" rx="11" ry="13" fill="url(#g21907248)"/><radialGradient id="g93601870"><stop offset="0" stop-color="#f4c4d8" stop-opacity="1.0"/><stop offset="0.6" stop-color="#f4c4d8" stop-opacity="0.7"/><stop offset="1" stop-color="#f4c4d8" stop-opacity="0"/></radialGradient><ellipse cx="263" cy="105" rx="8" ry="10" fill="url(#g93601870)"/><radialGradient id="g3695801"><stop offset="0" stop-color="#f2bed4" stop-opacity="1.0"/><stop offset="0.6" stop-color="#f2bed4" stop-opacity="0.7"/><stop offset="1" stop-color="#f2bed4" stop-opacity="0"/></radialGradient><ellipse cx="279" cy="116" rx="9" ry="13" fill="url(#g3695801)"/><radialGradient id="g92472400"><stop offset="0" stop-color="#f2bed4" stop-opacity="1.0"/><stop offset="0.6" stop-color="#f2bed4" stop-opacity="0.7"/><stop offset="1" stop-color="#f2bed4" stop-opacity="0"/></radialGradient><ellipse cx="268" cy="135" rx="11" ry="8" fill="url(#g92472400)"/><g fill="#f8dcea" fill-opacity="0.5"><ellipse cx="0" cy="0" rx="3.6" ry="3.1" transform="translate(231.8 116.8) rotate(112)"/><ellipse cx="0" cy="0" rx="3.7" ry="3.1" transform="translate(259.4 137.8) rotate(34)"/><circle cx="254.6" cy="117.1" r="3.6"/><ellipse cx="0" cy="0" rx="4.1" ry="3.6" transform="translate(279.1 115.6) rotate(11)"/><ellipse cx="0" cy="0" rx="4.3" ry="3.5" transform="translate(236.6 87.4) rotate(129)"/><circle cx="267.6" cy="138.5" r="3.6"/><ellipse cx="0" cy="0" rx="3.2" ry="2.3" transform="translate(279.9 91.2) rotate(173)"/><circle cx="272.4" cy="134.7" r="3.6"/><circle cx="257.8" cy="137.5" r="4"/><ellipse cx="0" cy="0" rx="3.8" ry="3.2" transform="translate(266.4 104.3) rotate(18)"/><ellipse cx="0" cy="0" rx="3.4" ry="2.4" transform="translate(261.5 142.3) rotate(86)"/><ellipse cx="0" cy="0" rx="3.6" ry="2.5" transform="translate(220.6 131.6) rotate(52)"/><ellipse cx="0" cy="0" rx="3.9" ry="2.6" transform="translate(279.5 88.1) rotate(129)"/><ellipse cx="0" cy="0" rx="3.4" ry="2.5" transform="translate(255.3 138.5) rotate(6)"/><ellipse cx="0" cy="0" rx="3" ry="2.2" transform="translate(219.8 120) rotate(73)"/><ellipse cx="0" cy="0" rx="4.3" ry="3.3" transform="translate(225.7 88) rotate(172)"/><circle cx="242.3" cy="135.5" r="3.6"/><ellipse cx="0" cy="0" rx="3.8" ry="3" transform="translate(260.5 139.6) rotate(129)"/><ellipse cx="0" cy="0" rx="3.4" ry="2.6" transform="translate(284.2 110.7) rotate(61)"/><ellipse cx="0" cy="0" rx="3.6" ry="3.1" transform="translate(288.1 103.7) rotate(23)"/><ellipse cx="0" cy="0" rx="3.5" ry="3.2" transform="translate(249 124.6) rotate(132)"/><ellipse cx="0" cy="0" rx="3" ry="2.4" transform="translate(258.2 140.4) rotate(113)"/><ellipse cx="0" cy="0" rx="3.5" ry="2.7" transform="translate(258.5 104) rotate(66)"/><ellipse cx="0" cy="0" rx="4.2" ry="2.7" transform="translate(236.5 107.2) rotate(102)"/><ellipse cx="0" cy="0" rx="4.2" ry="3.1" transform="translate(237.3 98.4) rotate(33)"/><circle cx="262.7" cy="91.2" r="3.9"/><ellipse cx="0" cy="0" rx="3.3" ry="2.5" transform="translate(246.9 134.7) rotate(117)"/><circle cx="234.3" cy="130.8" r="3.1"/><ellipse cx="0" cy="0" rx="4.2" ry="2.9" transform="translate(278.8 105.1) rotate(111)"/><ellipse cx="0" cy="0" rx="4.3" ry="3.5" transform="translate(245.6 115.4) rotate(114)"/></g><g fill="#4a2270" stroke="#f6e0ec" stroke-width="0.6"><ellipse cx="0" cy="0" rx="3.5" ry="2.3" transform="translate(245.9 91.7) rotate(0)"/><ellipse cx="0" cy="0" rx="3.5" ry="3.2" transform="translate(282.7 95.7) rotate(161)"/><ellipse cx="0" cy="0" rx="2.4" ry="1.6" transform="translate(286.2 91.9) rotate(48)"/><ellipse cx="0" cy="0" rx="3.4" ry="2.8" transform="translate(264.3 98.4) rotate(132)"/><ellipse cx="0" cy="0" rx="3.4" ry="2.1" transform="translate(286.4 94.1) rotate(138)"/><ellipse cx="0" cy="0" rx="3.1" ry="1.9" transform="translate(254.2 89.3) rotate(99)"/><ellipse cx="0" cy="0" rx="3.2" ry="2.9" transform="translate(254.9 96.9) rotate(107)"/></g><g fill="#62388e" stroke="#f6e0ec" stroke-width="0.6"><ellipse cx="0" cy="0" rx="3.5" ry="3.3" transform="translate(289 92.1) rotate(39)"/><ellipse cx="0" cy="0" rx="3.4" ry="2.2" transform="translate(287.6 93.8) rotate(124)"/><ellipse cx="0" cy="0" rx="2.4" ry="1.6" transform="translate(240 97.9) rotate(86)"/><ellipse cx="0" cy="0" rx="2.9" ry="1.9" transform="translate(256.3 99.5) rotate(167)"/><ellipse cx="0" cy="0" rx="3.1" ry="2.5" transform="translate(287.5 91.8) rotate(166)"/><ellipse cx="0" cy="0" rx="3.5" ry="2.3" transform="translate(250.8 95) rotate(17)"/><ellipse cx="0" cy="0" rx="3.1" ry="2.2" transform="translate(234.3 88.8) rotate(41)"/></g><g fill="#6d3792" stroke="#f6e0ec" stroke-width="0.6"><circle cx="248.7" cy="96.5" r="3.3"/><ellipse cx="0" cy="0" rx="2.6" ry="2.3" transform="translate(254.6 97.4) rotate(165)"/><ellipse cx="0" cy="0" rx="3.3" ry="2.4" transform="translate(223.4 93.8) rotate(14)"/><ellipse cx="0" cy="0" rx="3.4" ry="2.3" transform="translate(238.6 93.9) rotate(32)"/><ellipse cx="0" cy="0" rx="3.5" ry="2.9" transform="translate(250.7 95.8) rotate(154)"/></g><g fill="#5a2a80" stroke="#f6e0ec" stroke-width="0.6"><ellipse cx="0" cy="0" rx="3.6" ry="2.3" transform="translate(279.5 98) rotate(44)"/><ellipse cx="0" cy="0" rx="2.5" ry="2" transform="translate(217.8 92.7) rotate(43)"/><ellipse cx="0" cy="0" rx="3.4" ry="2.1" transform="translate(287.9 93.6) rotate(39)"/><ellipse cx="0" cy="0" rx="3" ry="1.9" transform="translate(232.9 94.7) rotate(58)"/><ellipse cx="0" cy="0" rx="2.5" ry="1.5" transform="translate(279.1 96.9) rotate(86)"/><ellipse cx="0" cy="0" rx="3.2" ry="2.5" transform="translate(217.3 92.5) rotate(114)"/><ellipse cx="0" cy="0" rx="2.5" ry="2.3" transform="translate(217.4 87.3) rotate(32)"/></g><g fill="#7a449c" stroke="#f6e0ec" stroke-width="0.6"><ellipse cx="0" cy="0" rx="3.5" ry="2.9" transform="translate(253.9 91.8) rotate(61)"/><ellipse cx="0" cy="0" rx="3.2" ry="2.8" transform="translate(276.6 86.1) rotate(8)"/><ellipse cx="0" cy="0" rx="3" ry="2.1" transform="translate(278.9 87.2) rotate(56)"/><ellipse cx="0" cy="0" rx="2.9" ry="2.6" transform="translate(219.4 91.9) rotate(168)"/><ellipse cx="0" cy="0" rx="3.5" ry="2.4" transform="translate(248.5 95.8) rotate(107)"/></g><g fill="#8a55a8" stroke="#f6e0ec" stroke-width="0.6"><ellipse cx="0" cy="0" rx="2.8" ry="1.9" transform="translate(243.3 91.5) rotate(177)"/><ellipse cx="0" cy="0" rx="2.8" ry="2.2" transform="translate(261.3 92) rotate(126)"/><ellipse cx="0" cy="0" rx="3.3" ry="2.5" transform="translate(254.4 97.4) rotate(42)"/></g><g fill="#8a55a8" stroke="#f6e0ec" stroke-width="0.6"><ellipse cx="0" cy="0" rx="2.7" ry="1.6" transform="translate(222.5 107.6) rotate(86)"/><ellipse cx="0" cy="0" rx="2.7" ry="2.1" transform="translate(215.6 121.8) rotate(155)"/><ellipse cx="0" cy="0" rx="2.7" ry="2.1" transform="translate(219.9 117.8) rotate(171)"/><ellipse cx="0" cy="0" rx="3.5" ry="2.2" transform="translate(214.3 110) rotate(77)"/><ellipse cx="0" cy="0" rx="2.6" ry="1.9" transform="translate(223.6 129.3) rotate(165)"/></g><g fill="#62388e" stroke="#f6e0ec" stroke-width="0.6"><ellipse cx="0" cy="0" rx="3.1" ry="2.4" transform="translate(229.8 117.5) rotate(150)"/><ellipse cx="0" cy="0" rx="3.3" ry="2.9" transform="translate(222 117.6) rotate(72)"/><ellipse cx="0" cy="0" rx="3.5" ry="3.2" transform="translate(227.9 97.2) rotate(116)"/><ellipse cx="0" cy="0" rx="2.8" ry="2.2" transform="translate(213.9 139.4) rotate(94)"/><ellipse cx="0" cy="0" rx="2.6" ry="2" transform="translate(219.6 109.1) rotate(140)"/></g><g fill="#6d3792" stroke="#f6e0ec" stroke-width="0.6"><ellipse cx="0" cy="0" rx="2.7" ry="2.5" transform="translate(213.2 105.2) rotate(139)"/><ellipse cx="0" cy="0" rx="3.3" ry="2.7" transform="translate(220.9 111.6) rotate(101)"/><ellipse cx="0" cy="0" rx="3.3" ry="2.8" transform="translate(213.8 100.3) rotate(33)"/></g><g fill="#5a2a80" stroke="#f6e0ec" stroke-width="0.6"><ellipse cx="0" cy="0" rx="3.4" ry="3.1" transform="translate(215.4 128.1) rotate(45)"/></g><g fill="#7a449c" stroke="#f6e0ec" stroke-width="0.6"><ellipse cx="0" cy="0" rx="3.3" ry="2.1" transform="translate(217.6 114.9) rotate(16)"/><ellipse cx="0" cy="0" rx="3.3" ry="2.4" transform="translate(212.7 116.3) rotate(5)"/><ellipse cx="0" cy="0" rx="2.5" ry="2.3" transform="translate(228 137.7) rotate(67)"/><ellipse cx="0" cy="0" rx="3.2" ry="2.7" transform="translate(225.6 108.9) rotate(145)"/><ellipse cx="0" cy="0" rx="3.3" ry="2.6" transform="translate(213.2 128.6) rotate(133)"/><ellipse cx="0" cy="0" rx="2.5" ry="1.6" transform="translate(213.8 107.7) rotate(86)"/></g><g fill="#4a2270" stroke="#f6e0ec" stroke-width="0.6"><ellipse cx="0" cy="0" rx="2.6" ry="1.8" transform="translate(214.2 138.8) rotate(129)"/><ellipse cx="0" cy="0" rx="2.8" ry="2" transform="translate(216.4 131.1) rotate(72)"/><circle cx="226.6" cy="98.3" r="3"/><circle cx="222.2" cy="126.5" r="2.9"/></g><g fill="#6d3792" stroke="#f6e0ec" stroke-width="0.6"><ellipse cx="0" cy="0" rx="2.6" ry="2.1" transform="translate(243.4 114.9) rotate(102)"/><ellipse cx="0" cy="0" rx="2.5" ry="1.6" transform="translate(257.4 118.8) rotate(14)"/><ellipse cx="0" cy="0" rx="3" ry="1.9" transform="translate(256.2 114.6) rotate(153)"/><ellipse cx="0" cy="0" rx="3" ry="2.6" transform="translate(254.9 110.7) rotate(72)"/><ellipse cx="0" cy="0" rx="2.4" ry="1.6" transform="translate(253.7 107.1) rotate(140)"/><ellipse cx="0" cy="0" rx="2.8" ry="1.7" transform="translate(259.4 115.1) rotate(128)"/></g><g fill="#8a55a8" stroke="#f6e0ec" stroke-width="0.6"><ellipse cx="0" cy="0" rx="2.8" ry="2.5" transform="translate(260 113.6) rotate(80)"/><ellipse cx="0" cy="0" rx="2.7" ry="2.3" transform="translate(261.8 102) rotate(27)"/></g><g fill="#4a2270" stroke="#f6e0ec" stroke-width="0.6"><ellipse cx="0" cy="0" rx="3.1" ry="2.5" transform="translate(261.8 114.2) rotate(114)"/><ellipse cx="0" cy="0" rx="2.6" ry="1.6" transform="translate(259.7 121) rotate(105)"/><ellipse cx="0" cy="0" rx="2.8" ry="1.8" transform="translate(248.9 105.6) rotate(164)"/><ellipse cx="0" cy="0" rx="3" ry="2.3" transform="translate(255.7 97.9) rotate(34)"/></g><g fill="#62388e" stroke="#f6e0ec" stroke-width="0.6"><ellipse cx="0" cy="0" rx="3.4" ry="2.6" transform="translate(255.8 110.5) rotate(108)"/><ellipse cx="0" cy="0" rx="3.3" ry="2.3" transform="translate(254.6 101.8) rotate(31)"/><ellipse cx="0" cy="0" rx="3" ry="1.9" transform="translate(250.6 105.7) rotate(90)"/><ellipse cx="0" cy="0" rx="2.8" ry="2" transform="translate(251.5 97.9) rotate(61)"/><ellipse cx="0" cy="0" rx="3.1" ry="2.9" transform="translate(243.1 135.6) rotate(128)"/><ellipse cx="0" cy="0" rx="2.6" ry="1.6" transform="translate(262.9 141.9) rotate(35)"/></g><g fill="#5a2a80" stroke="#f6e0ec" stroke-width="0.6"><ellipse cx="0" cy="0" rx="2.5" ry="1.8" transform="translate(258.2 125) rotate(42)"/><ellipse cx="0" cy="0" rx="2.5" ry="1.7" transform="translate(243.9 98.2) rotate(88)"/><circle cx="249.3" cy="114.8" r="2.4"/><ellipse cx="0" cy="0" rx="3.6" ry="2.9" transform="translate(242.2 127.7) rotate(0)"/></g><g fill="#7a449c" stroke="#f6e0ec" stroke-width="0.6"><ellipse cx="0" cy="0" rx="2.7" ry="2.4" transform="translate(250.5 98.7) rotate(80)"/><ellipse cx="0" cy="0" rx="2.7" ry="2.4" transform="translate(241.2 129.7) rotate(83)"/><ellipse cx="0" cy="0" rx="2.4" ry="1.7" transform="translate(251.2 122.3) rotate(178)"/><ellipse cx="0" cy="0" rx="3.6" ry="2.7" transform="translate(260.7 106) rotate(144)"/></g><g fill="#5a2a80" stroke="#f6e0ec" stroke-width="0.6"><ellipse cx="0" cy="0" rx="2.8" ry="2.2" transform="translate(249.8 126.5) rotate(170)"/><ellipse cx="0" cy="0" rx="2.5" ry="1.8" transform="translate(228 131.9) rotate(172)"/><ellipse cx="0" cy="0" rx="3.3" ry="2.5" transform="translate(227.5 140.1) rotate(112)"/><ellipse cx="0" cy="0" rx="3.2" ry="2.4" transform="translate(233.5 136.7) rotate(118)"/></g><g fill="#4a2270" stroke="#f6e0ec" stroke-width="0.6"><ellipse cx="0" cy="0" rx="2.9" ry="2.3" transform="translate(250.1 128.9) rotate(98)"/><ellipse cx="0" cy="0" rx="2.6" ry="2.2" transform="translate(240.5 140.9) rotate(132)"/><ellipse cx="0" cy="0" rx="3.4" ry="2.7" transform="translate(226.4 129.3) rotate(90)"/></g><g fill="#62388e" stroke="#f6e0ec" stroke-width="0.6"><ellipse cx="0" cy="0" rx="3.4" ry="2.5" transform="translate(228.9 128.9) rotate(80)"/><ellipse cx="0" cy="0" rx="2.6" ry="2.2" transform="translate(233.3 130.3) rotate(109)"/><ellipse cx="0" cy="0" rx="3.2" ry="2.3" transform="translate(219.3 137.1) rotate(108)"/><ellipse cx="0" cy="0" rx="2.5" ry="1.9" transform="translate(218 135.8) rotate(156)"/><ellipse cx="0" cy="0" rx="2.9" ry="2.6" transform="translate(228.2 131) rotate(37)"/><ellipse cx="0" cy="0" rx="2.7" ry="2.4" transform="translate(219.1 133.4) rotate(110)"/></g><g fill="#8a55a8" stroke="#f6e0ec" stroke-width="0.6"><ellipse cx="0" cy="0" rx="2.5" ry="1.6" transform="translate(241.1 141.2) rotate(135)"/></g><g fill="#6d3792" stroke="#f6e0ec" stroke-width="0.6"><ellipse cx="0" cy="0" rx="3.2" ry="2.6" transform="translate(217.8 128.4) rotate(2)"/></g><g fill="#7a449c" stroke="#f6e0ec" stroke-width="0.6"><circle cx="245.7" cy="127.8" r="2.4"/></g><g fill="#5a2a80" stroke="#f6e0ec" stroke-width="0.6"><ellipse cx="0" cy="0" rx="2.9" ry="2.1" transform="translate(277.3 139) rotate(21)"/><ellipse cx="0" cy="0" rx="2.5" ry="1.8" transform="translate(280.4 127.3) rotate(87)"/><ellipse cx="0" cy="0" rx="3.6" ry="2.6" transform="translate(275.9 106.9) rotate(77)"/><ellipse cx="0" cy="0" rx="3.3" ry="2.5" transform="translate(289.1 114.1) rotate(179)"/><ellipse cx="0" cy="0" rx="3.3" ry="2.8" transform="translate(279.8 106.6) rotate(51)"/></g><g fill="#4a2270" stroke="#f6e0ec" stroke-width="0.6"><ellipse cx="0" cy="0" rx="2.8" ry="2.5" transform="translate(288.6 125.1) rotate(12)"/><ellipse cx="0" cy="0" rx="3" ry="2.3" transform="translate(283 138.3) rotate(170)"/></g><g fill="#62388e" stroke="#f6e0ec" stroke-width="0.6"><ellipse cx="0" cy="0" rx="3.3" ry="2.2" transform="translate(276.5 105.5) rotate(39)"/><ellipse cx="0" cy="0" rx="2.9" ry="2" transform="translate(280 137.1) rotate(87)"/></g><g fill="#7a449c" stroke="#f6e0ec" stroke-width="0.6"><ellipse cx="0" cy="0" rx="2.6" ry="1.7" transform="translate(277.3 138.4) rotate(130)"/><ellipse cx="0" cy="0" rx="3" ry="2.4" transform="translate(277.6 113) rotate(64)"/></g><g fill="#8a55a8" stroke="#f6e0ec" stroke-width="0.6"><ellipse cx="0" cy="0" rx="3" ry="2" transform="translate(281.1 91.3) rotate(37)"/><ellipse cx="0" cy="0" rx="3.4" ry="2.8" transform="translate(277.1 108.3) rotate(169)"/></g><g fill="#6d3792" stroke="#f6e0ec" stroke-width="0.6"><ellipse cx="0" cy="0" rx="3.5" ry="3.1" transform="translate(277.1 113) rotate(53)"/></g><g fill="#5a2a80" stroke="#f6e0ec" stroke-width="0.6"><ellipse cx="0" cy="0" rx="2.4" ry="2" transform="translate(284.7 115.1) rotate(26)"/></g><g fill="#7a449c" stroke="#f6e0ec" stroke-width="0.6"><ellipse cx="0" cy="0" rx="2.6" ry="2.3" transform="translate(226.6 88.8) rotate(83)"/><ellipse cx="0" cy="0" rx="2.6" ry="1.6" transform="translate(288.4 88) rotate(77)"/><ellipse cx="0" cy="0" rx="3" ry="2.7" transform="translate(271.6 130.2) rotate(99)"/></g><g fill="#62388e" stroke="#f6e0ec" stroke-width="0.6"><ellipse cx="0" cy="0" rx="3.4" ry="2.6" transform="translate(277.5 119.8) rotate(47)"/><ellipse cx="0" cy="0" rx="2.7" ry="1.7" transform="translate(275 109.4) rotate(77)"/><ellipse cx="0" cy="0" rx="3.3" ry="2.6" transform="translate(289.7 95.3) rotate(171)"/></g><g fill="#8a55a8" stroke="#f6e0ec" stroke-width="0.6"><ellipse cx="0" cy="0" rx="3" ry="1.9" transform="translate(215.3 88.5) rotate(146)"/><ellipse cx="0" cy="0" rx="3.5" ry="3.1" transform="translate(249.5 123.3) rotate(108)"/></g><g fill="#4a2270" stroke="#f6e0ec" stroke-width="0.6"><ellipse cx="0" cy="0" rx="2.8" ry="1.7" transform="translate(242.2 121.4) rotate(25)"/></g></g><rect x="217.2" y="89.1" width="11.5" height="5.6" fill="#fbf8fb"/><text class="lb" x="218" y="93.6" font-size="4.6" fill="#555" textLength="9.9" lengthAdjust="spacingAndGlyphs">1000x</text></g><clipPath id="c3"><rect x="288" y="87.6" width="72.5" height="53.4"/></clipPath><g clip-path="url(#c3)"><g filter="url(#bl)"><rect x="288" y="87.6" width="72.5" height="53.4" fill="#f3edf5"/><g fill="#ece2f2" stroke="#9c82bc" stroke-width="1.3"><circle cx="303.5" cy="90.7" r="3"/><circle cx="297.2" cy="88.6" r="3"/><circle cx="357.1" cy="132.1" r="3.1"/><circle cx="302.4" cy="116.5" r="2.9"/><circle cx="301.8" cy="139.7" r="3.1"/><circle cx="348.3" cy="132.1" r="2.9"/><circle cx="309.3" cy="121.8" r="3.1"/><circle cx="352.1" cy="136.9" r="2.8"/><circle cx="332.6" cy="124.5" r="3"/><circle cx="292" cy="140.1" r="3.1"/><circle cx="328" cy="102.4" r="3.2"/><circle cx="329.9" cy="137" r="3.1"/><circle cx="332" cy="110.2" r="2.9"/><circle cx="309" cy="132.9" r="2.8"/><circle cx="288.6" cy="121.8" r="2.9"/><circle cx="311.9" cy="143.8" r="2.9"/><circle cx="317.4" cy="96.6" r="3.1"/><circle cx="306.7" cy="105.7" r="3.1"/><circle cx="356" cy="90.6" r="2.8"/><circle cx="303" cy="130.1" r="3"/><circle cx="342.7" cy="141.6" r="2.8"/><circle cx="345.9" cy="109" r="3.2"/><circle cx="308" cy="96" r="3"/><circle cx="295.7" cy="107.3" r="3.2"/><circle cx="311" cy="85.2" r="2.8"/><circle cx="313.5" cy="101.8" r="2.8"/><circle cx="362.1" cy="109.8" r="2.9"/><circle cx="289.7" cy="87.9" r="2.9"/><circle cx="338.1" cy="93.5" r="2.8"/><circle cx="363.3" cy="91.9" r="3"/><circle cx="287.9" cy="109.6" r="2.9"/><circle cx="324.1" cy="86.5" r="2.9"/><circle cx="357.9" cy="118.2" r="3.2"/><circle cx="316.6" cy="138.1" r="3.1"/><circle cx="347.8" cy="122.8" r="3.1"/><circle cx="326.4" cy="123.5" r="3.1"/><circle cx="361.2" cy="141.7" r="3.1"/><circle cx="298.1" cy="122.3" r="3"/><circle cx="302.2" cy="84.8" r="3.2"/><circle cx="286" cy="136.7" r="2.8"/><circle cx="354" cy="96.6" r="3.1"/><circle cx="323.4" cy="136" r="3"/><circle cx="345.3" cy="115.7" r="2.8"/><circle cx="314.9" cy="131.4" r="2.9"/><circle cx="346" cy="88.6" r="3.2"/><circle cx="300.4" cy="102.6" r="3.1"/><circle cx="340.8" cy="84.9" r="2.9"/><circle cx="290.9" cy="99.2" r="3.1"/><circle cx="338.1" cy="120.8" r="2.9"/><circle cx="356.5" cy="102.8" r="3.1"/><circle cx="338" cy="128.9" r="3"/><circle cx="350.3" cy="102.6" r="3.2"/><circle cx="316.9" cy="120.2" r="3.2"/><circle cx="340.2" cy="103" r="2.9"/><circle cx="316.4" cy="108.4" r="3.1"/><circle cx="286" cy="95.5" r="3"/><circle cx="326.2" cy="94" r="2.8"/><circle cx="362.9" cy="101.8" r="3.2"/><circle cx="336.4" cy="141.2" r="3.2"/><circle cx="297.1" cy="134.8" r="3"/><circle cx="363.2" cy="126.6" r="3.2"/><circle cx="354.3" cy="123.7" r="3.1"/><circle cx="333.8" cy="85.7" r="3.1"/><circle cx="333.7" cy="99.8" r="3"/><circle cx="287.1" cy="130.1" r="2.9"/><circle cx="322.8" cy="142.4" r="3"/><circle cx="332.5" cy="116.9" r="2.9"/><circle cx="317.7" cy="84.8" r="3"/><circle cx="363.4" cy="85.2" r="2.8"/><circle cx="353.1" cy="84.8" r="3.1"/><circle cx="354.2" cy="142.8" r="3.1"/><circle cx="321.9" cy="128.7" r="2.9"/><circle cx="312.3" cy="114.8" r="3.1"/><circle cx="296.3" cy="94.7" r="3"/><circle cx="292.9" cy="114" r="2.9"/><circle cx="351.4" cy="113.7" r="3"/><circle cx="302" cy="109.5" r="2.9"/><circle cx="344.4" cy="97" r="3.1"/><circle cx="338.4" cy="111.1" r="3.1"/><circle cx="331.4" cy="131" r="3"/><circle cx="331.7" cy="91.5" r="2.8"/><circle cx="321.8" cy="104.8" r="2.8"/><circle cx="355.8" cy="109.4" r="3"/><circle cx="337.6" cy="135.1" r="3.2"/><circle cx="363.2" cy="133.1" r="3.1"/><circle cx="314.6" cy="90.4" r="3"/><circle cx="295.2" cy="128.9" r="3"/><circle cx="285.3" cy="142.6" r="2.9"/><circle cx="286" cy="103.5" r="3.1"/><circle cx="297.2" cy="143.8" r="2.8"/><circle cx="330.7" cy="143.2" r="3.1"/><circle cx="286.3" cy="115.9" r="3.1"/><circle cx="308.1" cy="138.9" r="3"/></g><g fill="#a890c8" fill-opacity="0.8"><ellipse cx="0" cy="0" rx="2.6" ry="2.4" transform="translate(290.5 126.6) rotate(117)"/><ellipse cx="0" cy="0" rx="3.1" ry="2.5" transform="translate(292.4 102.3) rotate(27)"/><ellipse cx="0" cy="0" rx="3.1" ry="2.2" transform="translate(347.6 118.1) rotate(61)"/><ellipse cx="0" cy="0" rx="2.6" ry="1.9" transform="translate(301 108.2) rotate(86)"/><circle cx="336.8" cy="110" r="2.6"/><ellipse cx="0" cy="0" rx="3.3" ry="2.6" transform="translate(344.5 94.5) rotate(177)"/><ellipse cx="0" cy="0" rx="2.9" ry="1.9" transform="translate(300.5 116) rotate(148)"/><ellipse cx="0" cy="0" rx="2.6" ry="2.3" transform="translate(357.9 97.9) rotate(74)"/><circle cx="311.7" cy="112.7" r="2.5"/><ellipse cx="0" cy="0" rx="2.8" ry="2.4" transform="translate(340.3 131.3) rotate(145)"/><ellipse cx="0" cy="0" rx="3.2" ry="2.9" transform="translate(316.9 139) rotate(27)"/><ellipse cx="0" cy="0" rx="3" ry="2.1" transform="translate(360 87.9) rotate(60)"/><ellipse cx="0" cy="0" rx="2.7" ry="1.9" transform="translate(356.6 94.7) rotate(71)"/><ellipse cx="0" cy="0" rx="3" ry="2.6" transform="translate(362 86.7) rotate(162)"/></g><path d="M316,118.5 C319,113 323,107 327,106 C330,107 333,112 337,118 C334,120 320,120.5 316,118.5 Z" fill="#8a74bc" opacity="0.8"/><path d="M318.5,117.5 C321,113 324,109 327,108 C329.5,109 332,113 334.5,117 C331,119 322,119 318.5,117.5 Z" fill="#3e2688"/><ellipse cx="325" cy="115" rx="3" ry="2" fill="#2e1a70"/><line x1="340.5" y1="100.5" x2="331" y2="108.5" stroke="#d8302a" stroke-width="0.9"/><polygon points="331,108.5 332.1,106.1 333.5,107.9" fill="#d8302a"/></g><rect x="289.2" y="89.1" width="11.5" height="5.6" fill="#fbf8fb"/><text class="lb" x="290" y="93.6" font-size="4.6" fill="#555" textLength="9.9" lengthAdjust="spacingAndGlyphs">1000x</text></g><clipPath id="c4"><rect x="369.3" y="33.3" width="71.5" height="53.3"/></clipPath><g clip-path="url(#c4)"><g filter="url(#bl)"><rect x="369.3" y="33.3" width="71.5" height="53.3" fill="#b488c6"/><g fill="#dcb8de" fill-opacity="0.75"><circle cx="414.3" cy="73.8" r="2.6"/><ellipse cx="0" cy="0" rx="2.1" ry="1.4" transform="translate(395.4 81.1) rotate(44)"/><ellipse cx="0" cy="0" rx="2.7" ry="2.1" transform="translate(386.6 85.1) rotate(72)"/><ellipse cx="0" cy="0" rx="2.2" ry="2.1" transform="translate(393.3 51.6) rotate(19)"/><ellipse cx="0" cy="0" rx="2.7" ry="2.1" transform="translate(393 66.3) rotate(166)"/><circle cx="374.3" cy="70.6" r="2"/><circle cx="419.3" cy="88.4" r="1.8"/><ellipse cx="0" cy="0" rx="2.5" ry="1.9" transform="translate(437 33.1) rotate(45)"/><circle cx="380" cy="52.7" r="1.7"/><ellipse cx="0" cy="0" rx="2.7" ry="1.8" transform="translate(388 58.2) rotate(147)"/><circle cx="416.4" cy="64.6" r="1.6"/><ellipse cx="0" cy="0" rx="2.6" ry="2" transform="translate(415.9 73.6) rotate(151)"/><ellipse cx="0" cy="0" rx="2.2" ry="1.9" transform="translate(430.5 85) rotate(129)"/><circle cx="411.6" cy="67.1" r="1.8"/><ellipse cx="0" cy="0" rx="2.3" ry="1.8" transform="translate(440.4 59) rotate(63)"/><ellipse cx="0" cy="0" rx="2.7" ry="1.7" transform="translate(413.3 51.4) rotate(19)"/><ellipse cx="0" cy="0" rx="2.7" ry="1.9" transform="translate(438.7 48.9) rotate(4)"/><ellipse cx="0" cy="0" rx="2.6" ry="1.8" transform="translate(393.7 70.4) rotate(0)"/><circle cx="442.7" cy="71.5" r="1.7"/><circle cx="423.3" cy="81.6" r="1.8"/><circle cx="378.7" cy="67.5" r="2.2"/><ellipse cx="0" cy="0" rx="2.4" ry="1.6" transform="translate(416.8 36.2) rotate(22)"/><circle cx="401.5" cy="53.6" r="2.2"/><circle cx="369.5" cy="72.8" r="1.7"/><ellipse cx="0" cy="0" rx="2" ry="1.5" transform="translate(377.9 67.1) rotate(59)"/><ellipse cx="0" cy="0" rx="2.6" ry="2.2" transform="translate(428 56.1) rotate(106)"/><ellipse cx="0" cy="0" rx="2.7" ry="2.1" transform="translate(403.7 33.1) rotate(168)"/><circle cx="410.7" cy="68.9" r="2.3"/><circle cx="425.9" cy="41.4" r="1.9"/><ellipse cx="0" cy="0" rx="2.6" ry="2.2" transform="translate(369.8 79.2) rotate(169)"/><circle cx="390.4" cy="34.2" r="1.6"/><circle cx="440.4" cy="69.5" r="1.9"/><ellipse cx="0" cy="0" rx="2.6" ry="2.3" transform="translate(410.7 56.6) rotate(171)"/><circle cx="394.7" cy="50.2" r="1.6"/><ellipse cx="0" cy="0" rx="2.2" ry="1.5" transform="translate(403.3 58.2) rotate(35)"/><ellipse cx="0" cy="0" rx="2.2" ry="1.8" transform="translate(418.5 66.3) rotate(98)"/></g><g fill="#d0a8d8" fill-opacity="0.75"><ellipse cx="0" cy="0" rx="2.7" ry="2.4" transform="translate(369.5 58) rotate(162)"/><ellipse cx="0" cy="0" rx="2.7" ry="2.5" transform="translate(383.7 47.3) rotate(28)"/><circle cx="377.8" cy="66.7" r="1.8"/><circle cx="425.7" cy="86.3" r="1.8"/><circle cx="429.1" cy="58.8" r="2"/><ellipse cx="0" cy="0" rx="2.3" ry="1.5" transform="translate(426.8 52.3) rotate(8)"/><circle cx="426.3" cy="52.3" r="2"/><ellipse cx="0" cy="0" rx="2.7" ry="1.8" transform="translate(399.1 34.5) rotate(88)"/><ellipse cx="0" cy="0" rx="2.7" ry="2.4" transform="translate(377.2 73.2) rotate(141)"/><ellipse cx="0" cy="0" rx="2" ry="1.4" transform="translate(401.3 52.2) rotate(176)"/><ellipse cx="0" cy="0" rx="2.4" ry="2.1" transform="translate(414.4 75.7) rotate(4)"/><ellipse cx="0" cy="0" rx="2.6" ry="2.4" transform="translate(439.2 80.3) rotate(98)"/><ellipse cx="0" cy="0" rx="2.1" ry="1.7" transform="translate(402.6 40.3) rotate(35)"/><circle cx="399.9" cy="44.3" r="1.9"/><circle cx="414.2" cy="56.7" r="2"/><circle cx="406.4" cy="80.8" r="2.7"/><circle cx="403.2" cy="70.4" r="2.5"/><ellipse cx="0" cy="0" rx="2.4" ry="1.6" transform="translate(429.2 76.7) rotate(130)"/><ellipse cx="0" cy="0" rx="2.1" ry="1.5" transform="translate(378.6 66.3) rotate(112)"/><ellipse cx="0" cy="0" rx="2.5" ry="1.9" transform="translate(409.2 69.1) rotate(102)"/><circle cx="384" cy="34.9" r="1.9"/><ellipse cx="0" cy="0" rx="2.1" ry="1.7" transform="translate(428.3 80.8) rotate(23)"/><circle cx="427.3" cy="74.3" r="1.7"/><circle cx="383.5" cy="41.6" r="1.7"/><ellipse cx="0" cy="0" rx="2.7" ry="2.1" transform="translate(390 84.9) rotate(83)"/><ellipse cx="0" cy="0" rx="2" ry="1.6" transform="translate(379 40.4) rotate(158)"/><ellipse cx="0" cy="0" rx="2.6" ry="2.4" transform="translate(409 37.6) rotate(120)"/><ellipse cx="0" cy="0" rx="2.5" ry="1.8" transform="translate(389.3 69.9) rotate(36)"/><circle cx="390.8" cy="58.1" r="1.9"/><circle cx="440.9" cy="31.7" r="1.7"/><circle cx="372.7" cy="82.8" r="2.2"/><circle cx="415.7" cy="42.1" r="1.9"/><circle cx="408.2" cy="84.1" r="2.3"/><ellipse cx="0" cy="0" rx="2.1" ry="1.9" transform="translate(400.6 51.8) rotate(94)"/><circle cx="422.1" cy="83.6" r="2"/><circle cx="396" cy="75.4" r="1.6"/><circle cx="372.3" cy="41" r="1.9"/><ellipse cx="0" cy="0" rx="2.7" ry="1.8" transform="translate(400.2 46.1) rotate(94)"/><ellipse cx="0" cy="0" rx="2.6" ry="2.1" transform="translate(412.3 37.2) rotate(9)"/><circle cx="369.8" cy="64.4" r="2.2"/><circle cx="382.5" cy="78.4" r="2"/><ellipse cx="0" cy="0" rx="2.6" ry="2.3" transform="translate(395 77.6) rotate(163)"/><circle cx="414" cy="54.3" r="1.8"/></g><g fill="#c098cc" fill-opacity="0.75"><circle cx="408" cy="70.1" r="1.8"/><circle cx="389.9" cy="52" r="1.8"/><ellipse cx="0" cy="0" rx="2.3" ry="2.1" transform="translate(429 64.9) rotate(11)"/><circle cx="414.4" cy="86" r="1.7"/><ellipse cx="0" cy="0" rx="2.1" ry="1.8" transform="translate(431.6 87.2) rotate(131)"/><ellipse cx="0" cy="0" rx="2.2" ry="1.7" transform="translate(439.8 67.2) rotate(16)"/><ellipse cx="0" cy="0" rx="2.2" ry="1.5" transform="translate(406.2 62.7) rotate(143)"/><ellipse cx="0" cy="0" rx="2.5" ry="2" transform="translate(419.7 69.3) rotate(126)"/><ellipse cx="0" cy="0" rx="2.8" ry="2.5" transform="translate(430.4 46.5) rotate(172)"/><ellipse cx="0" cy="0" rx="2.2" ry="1.9" transform="translate(388 47.8) rotate(64)"/><ellipse cx="0" cy="0" rx="2.7" ry="2.3" transform="translate(398.8 66.6) rotate(168)"/><circle cx="370.5" cy="58.3" r="1.9"/><circle cx="413.5" cy="65.1" r="1.9"/><circle cx="408.8" cy="48.6" r="2"/><circle cx="439.7" cy="78.2" r="2.1"/><circle cx="436.5" cy="62.2" r="2"/><ellipse cx="0" cy="0" rx="2.8" ry="2.3" transform="translate(412.3 46.2) rotate(74)"/><circle cx="403.6" cy="63.4" r="1.9"/><ellipse cx="0" cy="0" rx="2.8" ry="2.1" transform="translate(387.5 40.2) rotate(109)"/><ellipse cx="0" cy="0" rx="2" ry="1.5" transform="translate(390 61.9) rotate(95)"/><ellipse cx="0" cy="0" rx="2.7" ry="2.2" transform="translate(401.7 83.8) rotate(2)"/><ellipse cx="0" cy="0" rx="2.7" ry="2.4" transform="translate(412.2 70.8) rotate(154)"/><ellipse cx="0" cy="0" rx="2.5" ry="2.2" transform="translate(390.2 31.5) rotate(116)"/><ellipse cx="0" cy="0" rx="2.2" ry="1.8" transform="translate(436.1 39.5) rotate(89)"/><ellipse cx="0" cy="0" rx="2.2" ry="1.5" transform="translate(407.9 55.7) rotate(131)"/><circle cx="429.5" cy="37.7" r="2.7"/><circle cx="404.3" cy="51.5" r="2.4"/><ellipse cx="0" cy="0" rx="2.1" ry="1.9" transform="translate(420.6 76.9) rotate(64)"/><ellipse cx="0" cy="0" rx="2.2" ry="2" transform="translate(370.3 82.3) rotate(0)"/><ellipse cx="0" cy="0" rx="2.6" ry="1.8" transform="translate(368.9 57.5) rotate(141)"/><ellipse cx="0" cy="0" rx="2.5" ry="1.7" transform="translate(415.9 59.8) rotate(150)"/><ellipse cx="0" cy="0" rx="2.2" ry="2" transform="translate(409.2 39.2) rotate(47)"/><circle cx="390.9" cy="38.7" r="1.7"/><ellipse cx="0" cy="0" rx="2" ry="1.4" transform="translate(382.4 47.7) rotate(75)"/><circle cx="370.9" cy="55.8" r="1.7"/><circle cx="408.3" cy="73.6" r="1.6"/><ellipse cx="0" cy="0" rx="2.3" ry="2" transform="translate(441.5 46.7) rotate(25)"/><circle cx="427.3" cy="38.1" r="2"/><ellipse cx="0" cy="0" rx="2.4" ry="1.7" transform="translate(380.3 34.1) rotate(85)"/><ellipse cx="0" cy="0" rx="2.5" ry="1.9" transform="translate(374.4 54) rotate(165)"/><ellipse cx="0" cy="0" rx="2.3" ry="1.6" transform="translate(368.1 60.6) rotate(70)"/></g><radialGradient id="g94463871"><stop offset="0" stop-color="#e8cde8" stop-opacity="0.9"/><stop offset="0.6" stop-color="#e8cde8" stop-opacity="0.63"/><stop offset="1" stop-color="#e8cde8" stop-opacity="0"/></radialGradient><ellipse cx="410" cy="50" rx="5" ry="4" fill="url(#g94463871)"/><radialGradient id="g94209143"><stop offset="0" stop-color="#e6c4e4" stop-opacity="0.8"/><stop offset="0.6" stop-color="#e6c4e4" stop-opacity="0.5599999999999999"/><stop offset="1" stop-color="#e6c4e4" stop-opacity="0"/></radialGradient><ellipse cx="395" cy="72" rx="6" ry="4" fill="url(#g94209143)"/><radialGradient id="g89889432"><stop offset="0" stop-color="#e6c4e4" stop-opacity="0.8"/><stop offset="0.6" stop-color="#e6c4e4" stop-opacity="0.5599999999999999"/><stop offset="1" stop-color="#e6c4e4" stop-opacity="0"/></radialGradient><ellipse cx="418" cy="80" rx="6" ry="4" fill="url(#g89889432)"/><g fill="#4e2a7c" fill-opacity="0.92"><circle cx="397.4" cy="87.6" r="1.7"/><circle cx="390.5" cy="84.5" r="1.2"/><circle cx="430.8" cy="58.6" r="1.1"/><circle cx="428.9" cy="77.4" r="1.6"/><circle cx="394.9" cy="78" r="1.2"/><circle cx="424" cy="42.5" r="1.3"/><circle cx="410.8" cy="48.3" r="1.3"/><circle cx="383.9" cy="87.8" r="1.2"/><circle cx="428.5" cy="32.5" r="1.5"/><circle cx="371.3" cy="43.8" r="1.9"/><circle cx="399.1" cy="46.8" r="1.4"/><circle cx="401.9" cy="58.1" r="1.1"/><circle cx="378.8" cy="61" r="1.9"/><circle cx="438.1" cy="85.7" r="1.9"/><circle cx="367.6" cy="63.7" r="1.5"/><circle cx="377.7" cy="34.3" r="1.7"/><circle cx="376.2" cy="72.6" r="1.6"/><circle cx="399.4" cy="79.8" r="1.5"/><circle cx="422" cy="46.2" r="1.4"/><circle cx="389.4" cy="50.6" r="1.9"/><circle cx="380.9" cy="85.4" r="1.7"/><circle cx="402.2" cy="35.4" r="1.4"/><circle cx="396" cy="37.9" r="1.3"/><circle cx="427.8" cy="58.9" r="1.3"/><circle cx="393" cy="73.2" r="1.5"/><circle cx="424.5" cy="56.8" r="1.6"/><circle cx="382.5" cy="61.9" r="1.8"/><circle cx="399.7" cy="48.5" r="1.7"/><circle cx="391" cy="35.9" r="1.3"/><circle cx="390.7" cy="70.1" r="1.1"/><circle cx="413.8" cy="64.1" r="1.9"/><circle cx="373.9" cy="50.9" r="1.2"/><circle cx="430" cy="59.8" r="1"/><circle cx="413.7" cy="54.5" r="1.4"/><circle cx="378.1" cy="48.8" r="1.5"/><circle cx="372.4" cy="36" r="1.6"/><circle cx="390.4" cy="50.7" r="1.6"/><circle cx="383.8" cy="69.4" r="1.1"/><circle cx="416" cy="39" r="1.4"/><circle cx="368.3" cy="71.3" r="1.6"/><circle cx="429.8" cy="35" r="1.4"/><circle cx="389" cy="44.8" r="1.8"/><circle cx="391.3" cy="85.5" r="1"/><circle cx="375.9" cy="79.1" r="1.5"/><circle cx="410.6" cy="80.8" r="1.4"/><circle cx="412.4" cy="74.4" r="1.8"/><circle cx="426" cy="83.4" r="1.4"/><circle cx="413.2" cy="75.7" r="1.2"/><circle cx="388.5" cy="67.1" r="1.5"/><circle cx="414.7" cy="54.7" r="1.2"/><circle cx="376.4" cy="72.7" r="1.8"/><circle cx="442.1" cy="50.7" r="1.4"/><circle cx="380.4" cy="77.5" r="1"/><circle cx="409.9" cy="78.5" r="1.1"/><circle cx="440.6" cy="85.6" r="1.5"/><circle cx="404.2" cy="85.4" r="1.9"/><circle cx="388.8" cy="87.9" r="1.4"/><circle cx="369.4" cy="68.8" r="1.5"/><circle cx="377.4" cy="69.6" r="1.5"/><circle cx="424.1" cy="50.9" r="1.1"/><circle cx="406" cy="52" r="1.4"/><circle cx="407.5" cy="43.9" r="1.3"/><circle cx="433.9" cy="41.7" r="1.5"/><circle cx="414.9" cy="66.5" r="1.4"/><circle cx="410.6" cy="31.4" r="1.2"/><circle cx="393.6" cy="67.9" r="1.2"/></g><g fill="#5a368c" fill-opacity="0.92"><circle cx="407.8" cy="77.1" r="1.3"/><circle cx="417.9" cy="86.1" r="1.8"/><circle cx="413.4" cy="43.3" r="1.5"/><circle cx="399.3" cy="86.8" r="1.6"/><circle cx="435.2" cy="83.5" r="1.6"/><circle cx="381.6" cy="58.1" r="1.3"/><circle cx="397" cy="75.9" r="1.4"/><circle cx="434.1" cy="42.6" r="1"/><circle cx="375" cy="38.4" r="1.8"/><circle cx="416" cy="34.5" r="1.2"/><circle cx="420.3" cy="65.2" r="1.8"/><circle cx="425.3" cy="37.9" r="1.5"/><circle cx="416" cy="84" r="1.2"/><circle cx="395.5" cy="64.7" r="1.2"/><circle cx="434.4" cy="82.8" r="1.4"/><circle cx="414.4" cy="79.1" r="1.6"/><circle cx="424.9" cy="81.2" r="1.8"/><circle cx="381.1" cy="62.5" r="1.6"/><circle cx="375.5" cy="60.8" r="1.7"/><circle cx="412.2" cy="82.3" r="1.3"/><circle cx="400" cy="48.3" r="1.6"/><circle cx="368" cy="70.5" r="1.3"/><circle cx="385.7" cy="59.9" r="1.5"/><circle cx="375.5" cy="71" r="1.1"/><circle cx="402.8" cy="44.6" r="1"/><circle cx="401.8" cy="38.2" r="1.1"/><circle cx="382.9" cy="84.1" r="1.1"/><circle cx="411.8" cy="77.2" r="1.6"/><circle cx="403.2" cy="61.2" r="1.8"/><circle cx="379.4" cy="76.4" r="1.3"/><circle cx="405.4" cy="69.2" r="1.3"/><circle cx="421.2" cy="86.9" r="1.4"/><circle cx="394.7" cy="86.5" r="1.8"/><circle cx="367.9" cy="58.8" r="1.7"/><circle cx="426" cy="45.3" r="1.4"/><circle cx="434.2" cy="48.3" r="1.9"/><circle cx="384" cy="67.9" r="1.3"/><circle cx="400.4" cy="76.7" r="1.8"/><circle cx="404.8" cy="55.5" r="1.4"/><circle cx="435.6" cy="65.3" r="1.2"/><circle cx="398.8" cy="52.5" r="1.5"/><circle cx="420.6" cy="53.6" r="1.7"/><circle cx="373.3" cy="52.6" r="1.1"/><circle cx="419.7" cy="35.9" r="1.3"/><circle cx="379.2" cy="37" r="1.7"/><circle cx="398.5" cy="61.5" r="1.8"/><circle cx="386.1" cy="77" r="1.4"/><circle cx="407.1" cy="68.9" r="1.6"/><circle cx="390" cy="83.8" r="1.9"/><circle cx="380.1" cy="85.4" r="1.8"/><circle cx="378.3" cy="78.4" r="1.2"/><circle cx="422.3" cy="71.7" r="1.2"/><circle cx="404.4" cy="59.9" r="1.9"/><circle cx="369.2" cy="41.5" r="1.6"/><circle cx="397.1" cy="55.2" r="1.2"/><circle cx="399" cy="38.2" r="1.4"/><circle cx="391.9" cy="58.8" r="1.6"/><circle cx="428.2" cy="42.3" r="1.6"/></g><g fill="#7e52a4" fill-opacity="0.92"><circle cx="382.9" cy="47.7" r="1"/><circle cx="384.3" cy="34.9" r="1.5"/><circle cx="377.3" cy="31.5" r="1.3"/><circle cx="415.3" cy="33.4" r="1"/><circle cx="390.2" cy="42.2" r="1.8"/><circle cx="425.4" cy="74.7" r="1.1"/><circle cx="375.3" cy="54.2" r="1.3"/><circle cx="440.2" cy="45.1" r="1.5"/><circle cx="377.4" cy="58.9" r="1.6"/><circle cx="370.2" cy="53.4" r="1.3"/><circle cx="389.9" cy="62.9" r="1.7"/><circle cx="419.7" cy="66.3" r="1.6"/><circle cx="391.1" cy="66.4" r="1.4"/><circle cx="391.9" cy="77.8" r="1.5"/><circle cx="408.3" cy="63.1" r="1.2"/><circle cx="390.9" cy="80.2" r="1.6"/><circle cx="378.4" cy="34.6" r="1"/><circle cx="434.8" cy="70.8" r="1.2"/><circle cx="402.5" cy="78.8" r="1.8"/><circle cx="378.7" cy="31.7" r="1.1"/><circle cx="387.3" cy="64" r="1.8"/><circle cx="411.8" cy="35.5" r="1.3"/><circle cx="390.4" cy="52.2" r="1.5"/><circle cx="431.7" cy="79.5" r="1.6"/><circle cx="378.2" cy="77.2" r="1.5"/><circle cx="406.3" cy="38.1" r="1.3"/><circle cx="404.1" cy="79.3" r="1.7"/><circle cx="394" cy="46.6" r="1.2"/><circle cx="390.8" cy="37.8" r="1.2"/><circle cx="400.7" cy="46.1" r="1.4"/><circle cx="410" cy="76.3" r="1.6"/><circle cx="404.5" cy="61.3" r="1.6"/><circle cx="400.8" cy="35.1" r="1.4"/><circle cx="382.5" cy="72" r="1"/><circle cx="392.8" cy="44.7" r="1.3"/><circle cx="419.1" cy="75.7" r="1.4"/><circle cx="439" cy="51.3" r="1.4"/><circle cx="392.1" cy="71.3" r="1.7"/><circle cx="420.1" cy="75.4" r="1.8"/><circle cx="419.5" cy="87.6" r="1.3"/><circle cx="420.9" cy="39.2" r="1.7"/><circle cx="391.6" cy="46.5" r="1.3"/><circle cx="398.7" cy="87.9" r="1.5"/><circle cx="428.9" cy="50" r="1.3"/><circle cx="381.9" cy="77.6" r="1.5"/><circle cx="418" cy="60.8" r="1.1"/><circle cx="373.6" cy="69.2" r="1.9"/><circle cx="387.4" cy="80.4" r="1.9"/><circle cx="439.3" cy="70.8" r="1.6"/><circle cx="433.6" cy="72.9" r="1.7"/><circle cx="382" cy="75.8" r="1.9"/><circle cx="414.4" cy="87.4" r="1.6"/><circle cx="416.4" cy="34.9" r="1.6"/><circle cx="420.9" cy="84.9" r="1.1"/><circle cx="432.6" cy="44.2" r="1.8"/><circle cx="399.8" cy="59.4" r="1.4"/><circle cx="393.3" cy="82.2" r="1.8"/><circle cx="384.2" cy="36.1" r="1.5"/><circle cx="387.3" cy="70.5" r="1.6"/><circle cx="392.9" cy="81.1" r="1.4"/><circle cx="379.1" cy="74.3" r="1.2"/><circle cx="389.4" cy="72.7" r="1.1"/><circle cx="416.2" cy="33" r="1.3"/><circle cx="405.8" cy="52.4" r="1.4"/></g><g fill="#6e4098" fill-opacity="0.92"><circle cx="419.3" cy="87.7" r="1.2"/><circle cx="398.8" cy="55.7" r="1.5"/><circle cx="373.7" cy="82.3" r="1.3"/><circle cx="409.8" cy="65.9" r="1.2"/><circle cx="422.3" cy="34.8" r="1.4"/><circle cx="392.6" cy="52.4" r="1.7"/><circle cx="385.9" cy="85.2" r="1.4"/><circle cx="424.7" cy="72.6" r="1.3"/><circle cx="374.2" cy="51.7" r="1.7"/><circle cx="420.6" cy="72.5" r="1.5"/><circle cx="416.3" cy="82.4" r="1.6"/><circle cx="376.4" cy="74.5" r="1.2"/><circle cx="406.2" cy="83" r="1.4"/><circle cx="419.2" cy="56.9" r="1.5"/><circle cx="399" cy="76.2" r="1.8"/><circle cx="439.5" cy="38" r="1.7"/><circle cx="431" cy="64.7" r="1"/><circle cx="415.6" cy="59.3" r="1.8"/><circle cx="379.3" cy="59.6" r="1"/><circle cx="382.7" cy="68.6" r="1.4"/><circle cx="439.9" cy="47" r="1.5"/><circle cx="433.9" cy="72.2" r="1.4"/><circle cx="394.9" cy="36.7" r="1.5"/><circle cx="380.2" cy="55.7" r="1.4"/><circle cx="370.4" cy="60.7" r="1.4"/><circle cx="442.6" cy="80" r="1.1"/><circle cx="382.1" cy="33.2" r="1.4"/><circle cx="436.8" cy="79.2" r="1.7"/><circle cx="390.4" cy="53.7" r="1.2"/><circle cx="378.6" cy="31.8" r="1.5"/><circle cx="387.7" cy="40.6" r="1.4"/><circle cx="392.5" cy="75.4" r="1.5"/><circle cx="386.9" cy="52.1" r="1"/><circle cx="414.2" cy="61.3" r="1.6"/><circle cx="403.8" cy="35.2" r="1.1"/><circle cx="437.9" cy="73" r="1.1"/><circle cx="399.6" cy="42.4" r="1.2"/><circle cx="392" cy="44.5" r="1.8"/><circle cx="381.9" cy="55.2" r="1.1"/><circle cx="411.7" cy="64.3" r="1.1"/><circle cx="377.2" cy="74.8" r="1.2"/><circle cx="412.8" cy="32" r="1.4"/><circle cx="426.5" cy="59.7" r="1.4"/><circle cx="407.9" cy="44.9" r="1.4"/><circle cx="375.9" cy="75.1" r="1.6"/><circle cx="433.9" cy="38.4" r="1.5"/><circle cx="378.1" cy="83.8" r="1.2"/><circle cx="387.1" cy="42.8" r="1.6"/><circle cx="435.9" cy="86.8" r="1.1"/><circle cx="426.2" cy="44.7" r="1.2"/><circle cx="415.6" cy="42.8" r="1.6"/><circle cx="377" cy="87.1" r="1.3"/><circle cx="395.8" cy="57.6" r="1.4"/><circle cx="415.7" cy="50.2" r="1.2"/><circle cx="386.5" cy="79.6" r="1.8"/><circle cx="381.8" cy="70.4" r="1.3"/><circle cx="367.9" cy="88.6" r="1.7"/><circle cx="431.9" cy="84" r="1.2"/><circle cx="415.6" cy="56" r="1.8"/><circle cx="375.2" cy="32.3" r="1.3"/><circle cx="428.6" cy="39.4" r="1.7"/><circle cx="380.9" cy="57.1" r="1.5"/><circle cx="409.5" cy="64.8" r="1.1"/><circle cx="436.9" cy="43.6" r="1"/><circle cx="424.5" cy="32.5" r="1.1"/><circle cx="394.1" cy="66.3" r="1.3"/><circle cx="379.1" cy="55.8" r="1.2"/><circle cx="426.9" cy="70.8" r="1.5"/></g><g fill="#5e348a" fill-opacity="0.92"><circle cx="427.5" cy="35.8" r="1.9"/><circle cx="409.1" cy="56.1" r="1.2"/><circle cx="439.5" cy="65.6" r="1.8"/><circle cx="436.4" cy="53" r="1.9"/><circle cx="381.3" cy="55.9" r="1.2"/><circle cx="384.8" cy="72.3" r="1.2"/><circle cx="393.1" cy="39.5" r="1.9"/><circle cx="423.3" cy="46.3" r="1.7"/><circle cx="400.4" cy="61" r="1.4"/><circle cx="409.8" cy="60.1" r="1.9"/><circle cx="418.8" cy="49.8" r="1.3"/><circle cx="383.1" cy="60.8" r="1.8"/><circle cx="390.4" cy="63" r="1.7"/><circle cx="423.5" cy="46" r="1.4"/><circle cx="412.3" cy="57.5" r="1.9"/><circle cx="377.4" cy="40.9" r="1.1"/><circle cx="371.7" cy="47.8" r="1.5"/><circle cx="389.2" cy="42.5" r="1.9"/><circle cx="370.6" cy="62" r="1.4"/><circle cx="431.7" cy="44.9" r="1.7"/><circle cx="421.4" cy="81" r="1"/><circle cx="393.5" cy="60.3" r="1.8"/><circle cx="438.5" cy="85.2" r="1.4"/><circle cx="426.8" cy="44" r="1.4"/><circle cx="374" cy="44.9" r="1.3"/><circle cx="404.1" cy="81.2" r="1.6"/><circle cx="413.4" cy="79.6" r="1.8"/><circle cx="438.2" cy="34.8" r="1.9"/><circle cx="428.3" cy="70.1" r="1.1"/><circle cx="400.7" cy="63.8" r="1.9"/><circle cx="373.7" cy="75.8" r="1.6"/><circle cx="391.7" cy="75.4" r="1.5"/><circle cx="381.7" cy="84.5" r="1.2"/><circle cx="414.8" cy="58.7" r="1.1"/><circle cx="417.7" cy="80.8" r="1.1"/><circle cx="367.8" cy="48.9" r="1.4"/><circle cx="441.9" cy="56.1" r="1.6"/><circle cx="371.1" cy="55.7" r="1.8"/><circle cx="418.7" cy="33.5" r="1.3"/><circle cx="396.1" cy="54.8" r="1.5"/><circle cx="419.2" cy="82.3" r="1.1"/><circle cx="411.2" cy="65.6" r="1.9"/><circle cx="386.7" cy="79.8" r="1.9"/><circle cx="423.8" cy="37" r="1.5"/><circle cx="411.2" cy="82.5" r="1.5"/><circle cx="408.7" cy="66.1" r="1.8"/><circle cx="424.3" cy="51.1" r="1.2"/><circle cx="440.4" cy="63.7" r="1.5"/><circle cx="437.6" cy="58.8" r="1"/><circle cx="381.2" cy="56" r="1.2"/><circle cx="435.7" cy="52.1" r="1.4"/><circle cx="374.9" cy="45.6" r="1.1"/><circle cx="435.2" cy="65.5" r="1.3"/><circle cx="378.6" cy="81.9" r="1.2"/><circle cx="420.3" cy="41.5" r="1.4"/><circle cx="392.2" cy="38.5" r="1.8"/><circle cx="392.8" cy="54" r="1.2"/><circle cx="379.8" cy="53.1" r="1.7"/><circle cx="390.2" cy="53.4" r="1.7"/><circle cx="377.1" cy="85.4" r="1.8"/><circle cx="422.1" cy="72.5" r="1.2"/><circle cx="378" cy="65.6" r="1.6"/><circle cx="415.2" cy="55.8" r="1.4"/><circle cx="388.6" cy="48.7" r="1.5"/></g></g><rect x="370.5" y="34.8" width="10.5" height="5.6" fill="#fbf8fb"/><text class="lb" x="371.3" y="39.3" font-size="4.6" fill="#555" textLength="8.9" lengthAdjust="spacingAndGlyphs">500x</text></g><clipPath id="c5"><rect x="441.8" y="33.3" width="71.3" height="53.3"/></clipPath><g clip-path="url(#c5)"><g filter="url(#bl)"><rect x="441.8" y="33.3" width="71.3" height="53.3" fill="#dcc6dc"/><g fill="#d0b4d2" fill-opacity="0.9"><circle cx="499.5" cy="78.4" r="1.5"/><circle cx="494.8" cy="55" r="1.5"/><circle cx="502.1" cy="83.6" r="1.5"/><circle cx="458.2" cy="55.9" r="1.4"/><circle cx="479.5" cy="47.9" r="1.7"/><circle cx="496" cy="54.1" r="2"/><circle cx="490.3" cy="82.3" r="1.4"/><circle cx="488.5" cy="87.2" r="1.7"/><circle cx="451.4" cy="46.7" r="1"/><circle cx="454" cy="49.9" r="1.4"/><circle cx="490.5" cy="65.4" r="1.1"/><circle cx="451.2" cy="53.8" r="1.5"/><circle cx="496.5" cy="83.6" r="1.1"/><circle cx="498.3" cy="59.3" r="1.4"/><circle cx="456.8" cy="38.5" r="1.5"/><circle cx="447.6" cy="56.8" r="1"/><circle cx="473.9" cy="87.5" r="1.7"/><circle cx="494.6" cy="71.6" r="1.9"/><circle cx="514.6" cy="62.5" r="1.9"/><circle cx="476" cy="67.8" r="1.6"/><circle cx="484" cy="37.9" r="1.3"/><circle cx="509.1" cy="85.4" r="1.6"/><circle cx="447.7" cy="60.6" r="1.2"/><circle cx="480.7" cy="74.4" r="1.9"/><circle cx="470.4" cy="51.8" r="1.4"/><circle cx="472.2" cy="82.8" r="1.6"/><circle cx="496.6" cy="53.2" r="1.6"/><circle cx="485.5" cy="51.6" r="1.6"/><circle cx="456.1" cy="63.8" r="1.6"/><circle cx="460.7" cy="63.6" r="1.4"/><circle cx="503.5" cy="69.5" r="1.9"/><circle cx="503.7" cy="43.6" r="1"/><circle cx="498.3" cy="78.9" r="1.9"/><circle cx="512.7" cy="32.1" r="1.9"/><circle cx="473.4" cy="55.6" r="1.4"/><circle cx="460.7" cy="73.4" r="1.5"/><circle cx="474.7" cy="56.8" r="1.5"/><circle cx="490.3" cy="68.7" r="1.9"/><circle cx="443.2" cy="47.4" r="1.4"/><circle cx="451.8" cy="37.9" r="1.6"/><circle cx="453.8" cy="80.9" r="1.6"/><circle cx="493.4" cy="68.7" r="1.8"/><circle cx="495.6" cy="42.1" r="1.1"/><circle cx="454.2" cy="57.9" r="1"/><circle cx="465.3" cy="56.5" r="2"/><circle cx="496.5" cy="36.4" r="1.4"/><circle cx="463.3" cy="87.1" r="1.5"/><circle cx="450.2" cy="63.9" r="1.7"/><circle cx="500.8" cy="84.4" r="1.6"/><circle cx="473.2" cy="77.3" r="1.7"/><circle cx="481.4" cy="31.6" r="1.2"/><circle cx="484.4" cy="59.1" r="1.2"/><circle cx="494.7" cy="37.5" r="1.2"/><circle cx="509.2" cy="73.9" r="1.9"/><circle cx="465.8" cy="69.8" r="1.9"/><circle cx="456.4" cy="69" r="1.2"/><circle cx="471.4" cy="41.7" r="1.1"/><circle cx="494.8" cy="41.6" r="1.1"/><circle cx="483.1" cy="78.6" r="2"/><circle cx="447.2" cy="75.8" r="1"/><circle cx="512.4" cy="39.1" r="1.1"/><circle cx="448.4" cy="72.2" r="1.5"/><circle cx="493.1" cy="33.8" r="1.5"/><circle cx="481.3" cy="88.2" r="1.7"/><circle cx="480.4" cy="86.9" r="1.2"/><circle cx="474.4" cy="42.4" r="1.8"/><circle cx="475.9" cy="41.4" r="1.5"/><circle cx="449" cy="64" r="1.7"/><circle cx="457.8" cy="62.8" r="1.3"/><circle cx="444.9" cy="80.2" r="1.9"/><circle cx="454.5" cy="72.1" r="1.4"/><circle cx="487.9" cy="31.8" r="1.3"/><circle cx="511.3" cy="75.4" r="1.5"/><circle cx="472.3" cy="83.6" r="1.5"/><circle cx="468.6" cy="34.5" r="1.2"/><circle cx="503.8" cy="38.8" r="1.6"/></g><g fill="#ecdcec" fill-opacity="0.9"><circle cx="475.2" cy="74.8" r="1.4"/><circle cx="496.7" cy="71.5" r="1.8"/><circle cx="454.8" cy="66.2" r="1.3"/><circle cx="450.2" cy="43.3" r="1.9"/><circle cx="491.2" cy="52.6" r="2"/><circle cx="476.8" cy="58.2" r="1.1"/><circle cx="460.4" cy="58.4" r="1.4"/><circle cx="495.7" cy="67.9" r="1.1"/><circle cx="499.8" cy="85.5" r="1.7"/><circle cx="459.1" cy="44.6" r="1.8"/><circle cx="446.4" cy="65.1" r="1.3"/><circle cx="486.7" cy="75.3" r="1.9"/><circle cx="456.1" cy="50.7" r="2"/><circle cx="468.7" cy="67" r="1.1"/><circle cx="467.7" cy="75" r="1.7"/><circle cx="476" cy="35.3" r="1.1"/><circle cx="512.9" cy="34.4" r="1.9"/><circle cx="488.1" cy="80.8" r="1.9"/><circle cx="481.9" cy="33.1" r="1.3"/><circle cx="454.3" cy="41.5" r="1.1"/><circle cx="484" cy="58" r="1.8"/><circle cx="488.3" cy="63.5" r="1.5"/><circle cx="459.2" cy="42.6" r="1.5"/><circle cx="450.1" cy="47.9" r="2"/><circle cx="504" cy="66" r="1.5"/><circle cx="464.4" cy="67.9" r="1.4"/><circle cx="493" cy="37" r="1.2"/><circle cx="458.3" cy="39.6" r="1.4"/><circle cx="471.6" cy="38.5" r="1"/><circle cx="488.8" cy="54.1" r="1.9"/><circle cx="480.3" cy="84.9" r="1.4"/><circle cx="487.3" cy="71.6" r="1.5"/><circle cx="449" cy="37.5" r="1.5"/><circle cx="461.1" cy="44.2" r="1"/><circle cx="441.8" cy="39.8" r="1.6"/><circle cx="451.3" cy="80.2" r="1.2"/><circle cx="456.9" cy="32.5" r="1.9"/><circle cx="465.6" cy="75.6" r="1.4"/><circle cx="457" cy="45.1" r="1.8"/><circle cx="443.4" cy="73.1" r="1.4"/><circle cx="502" cy="53.5" r="1.8"/><circle cx="466.7" cy="39" r="1.7"/><circle cx="458.7" cy="82.3" r="1.8"/><circle cx="484.2" cy="87.1" r="1.5"/><circle cx="507.2" cy="40.1" r="1.1"/><circle cx="508.7" cy="44.3" r="1.2"/><circle cx="504.1" cy="45.3" r="1.5"/><circle cx="464.9" cy="49.8" r="1.2"/><circle cx="470.4" cy="52.6" r="1.5"/><circle cx="448.8" cy="38.6" r="1.3"/><circle cx="493.1" cy="48.7" r="1.1"/><circle cx="467.6" cy="40.1" r="1.6"/><circle cx="496.8" cy="83.7" r="1.8"/><circle cx="478.5" cy="81.3" r="1.1"/><circle cx="462.7" cy="48" r="2"/><circle cx="485.6" cy="80.3" r="1.6"/><circle cx="483" cy="75.5" r="1.9"/><circle cx="459.5" cy="36.8" r="1.5"/><circle cx="453.6" cy="51.8" r="1"/><circle cx="461.9" cy="37.2" r="1.3"/><circle cx="474.8" cy="34.7" r="1.4"/><circle cx="455.1" cy="74.8" r="1.1"/><circle cx="499.2" cy="70.9" r="1.1"/><circle cx="462.3" cy="87.6" r="1.4"/><circle cx="481.7" cy="52.4" r="1.6"/><circle cx="477.4" cy="56.1" r="1.1"/><circle cx="443.4" cy="44.4" r="1.2"/><circle cx="488.8" cy="38.1" r="1.8"/><circle cx="500.4" cy="64.6" r="1.8"/><circle cx="505.2" cy="59.6" r="2"/></g><g fill="#f2e6f2" fill-opacity="0.9"><circle cx="492.5" cy="73.1" r="1.7"/><circle cx="441.1" cy="50.4" r="1.9"/><circle cx="513.7" cy="84.4" r="1.4"/><circle cx="485.5" cy="39.6" r="1.6"/><circle cx="451.9" cy="67.5" r="1.3"/><circle cx="492" cy="76.6" r="1.1"/><circle cx="442.2" cy="85.8" r="1.7"/><circle cx="465.7" cy="35.7" r="1.7"/><circle cx="479.4" cy="39.9" r="1.3"/><circle cx="496.8" cy="88.2" r="1.6"/><circle cx="458.1" cy="69.3" r="2"/><circle cx="500.9" cy="58.3" r="1.8"/><circle cx="484.1" cy="70.2" r="1.2"/><circle cx="440" cy="78" r="1.8"/><circle cx="463.8" cy="69.3" r="1.5"/><circle cx="506.8" cy="40.1" r="1.9"/><circle cx="507.5" cy="58.5" r="1.6"/><circle cx="508.9" cy="33.3" r="1.3"/><circle cx="468.2" cy="52" r="1.7"/><circle cx="487.9" cy="41.6" r="1.3"/><circle cx="479.5" cy="88.5" r="1.2"/><circle cx="458.8" cy="84.2" r="1.5"/><circle cx="442.6" cy="62.4" r="1.2"/><circle cx="503.1" cy="73.9" r="1.9"/><circle cx="490.1" cy="42.4" r="2"/><circle cx="473.4" cy="47.2" r="1.8"/><circle cx="443.6" cy="73.2" r="1.9"/><circle cx="503.5" cy="85.6" r="1.9"/><circle cx="474.3" cy="55.9" r="1.3"/><circle cx="497.8" cy="85.2" r="1.1"/><circle cx="492.4" cy="42.3" r="1.1"/><circle cx="493.1" cy="58.1" r="1.2"/><circle cx="449" cy="51.4" r="1.1"/><circle cx="457.4" cy="41.5" r="1.1"/><circle cx="512.2" cy="40.6" r="1.9"/><circle cx="507.3" cy="68.6" r="1.4"/><circle cx="453.5" cy="80" r="1.3"/><circle cx="478.5" cy="36.4" r="1.6"/><circle cx="506" cy="56.1" r="1.7"/><circle cx="451.9" cy="48.6" r="1.6"/><circle cx="446.5" cy="35.4" r="1.1"/><circle cx="476" cy="39.9" r="1.2"/><circle cx="472.7" cy="78.6" r="1.5"/><circle cx="503" cy="52.5" r="1.1"/><circle cx="476.2" cy="57.1" r="1.7"/><circle cx="474.3" cy="50.1" r="1.2"/><circle cx="475.1" cy="43.6" r="1.9"/><circle cx="483.3" cy="43.1" r="1.5"/><circle cx="473.7" cy="34.7" r="1.2"/><circle cx="468.3" cy="82" r="1.7"/><circle cx="501" cy="49.2" r="1.1"/><circle cx="514.9" cy="45.5" r="1.6"/><circle cx="477.7" cy="51.7" r="1.8"/><circle cx="486.9" cy="70.8" r="1.7"/><circle cx="464.6" cy="53.5" r="1.9"/><circle cx="508.7" cy="65.2" r="1.7"/><circle cx="454.4" cy="62.8" r="1.6"/><circle cx="477.2" cy="83.8" r="1.7"/><circle cx="450.1" cy="72.7" r="1.8"/><circle cx="505" cy="82.2" r="1.4"/><circle cx="458.4" cy="69.4" r="1.2"/><circle cx="490.5" cy="66.9" r="1.1"/><circle cx="473.2" cy="87.3" r="1.1"/><circle cx="460.6" cy="65.9" r="1.8"/><circle cx="445.9" cy="42.5" r="2"/><circle cx="470.5" cy="78.6" r="1.5"/><circle cx="456.7" cy="45.6" r="1.4"/><circle cx="447.8" cy="69.4" r="1.3"/><circle cx="510.6" cy="72.1" r="1.9"/><circle cx="500.7" cy="84.1" r="1.8"/><circle cx="484.3" cy="65.4" r="1.9"/><circle cx="470.1" cy="62.4" r="1.2"/><circle cx="473.5" cy="64.6" r="1.6"/><circle cx="458.3" cy="45.5" r="1.3"/><circle cx="450" cy="88.5" r="2"/><circle cx="501.8" cy="83.4" r="1.7"/><circle cx="501.4" cy="45.2" r="1.1"/><circle cx="505" cy="62.7" r="1.7"/><circle cx="468.9" cy="35.8" r="1.6"/><circle cx="495.9" cy="80.9" r="1.6"/><circle cx="475.6" cy="74.3" r="1.4"/><circle cx="473.2" cy="44.3" r="1.6"/><circle cx="504.3" cy="33.7" r="1.7"/><circle cx="506.4" cy="76.6" r="1.4"/><circle cx="500.2" cy="57.9" r="1.4"/><circle cx="476.5" cy="39.2" r="1.9"/><circle cx="506.2" cy="33.6" r="1"/><circle cx="473.3" cy="87.6" r="1.7"/><circle cx="489.8" cy="76.4" r="1.4"/><circle cx="494.4" cy="49.3" r="1.5"/></g><g fill="#c4a4c8" fill-opacity="0.9"><circle cx="465.1" cy="36.6" r="1.8"/><circle cx="440.3" cy="57" r="1.1"/><circle cx="474.6" cy="82.8" r="1.6"/><circle cx="460.3" cy="41.9" r="1.1"/><circle cx="444.4" cy="33.6" r="1.8"/><circle cx="491.6" cy="85.8" r="1.1"/><circle cx="452.5" cy="69.2" r="1.1"/><circle cx="498.3" cy="36.7" r="1.6"/><circle cx="456.8" cy="75" r="1.4"/><circle cx="509.7" cy="45.8" r="1.3"/><circle cx="500.7" cy="64.3" r="1.9"/><circle cx="469.1" cy="46.9" r="1.7"/><circle cx="448" cy="65.9" r="1.7"/><circle cx="498.7" cy="75.2" r="2"/><circle cx="486.9" cy="83.5" r="1.3"/><circle cx="475.9" cy="67.4" r="1.3"/><circle cx="512.9" cy="61.5" r="1.8"/><circle cx="509.4" cy="44" r="1.4"/><circle cx="479" cy="68" r="1.4"/><circle cx="465.8" cy="54.4" r="1.7"/><circle cx="461.1" cy="59.7" r="1.7"/><circle cx="482.7" cy="44.2" r="1"/><circle cx="445.2" cy="56.1" r="1.5"/><circle cx="513.3" cy="61.6" r="1.9"/><circle cx="513.1" cy="82" r="1.2"/><circle cx="460.1" cy="49.7" r="1.7"/><circle cx="483.4" cy="83.5" r="1.2"/><circle cx="447.9" cy="60.6" r="1.3"/><circle cx="498.7" cy="31.6" r="1.6"/><circle cx="461.1" cy="56.7" r="1.8"/><circle cx="497.6" cy="37.9" r="1.8"/><circle cx="460.5" cy="56.1" r="1.9"/><circle cx="483.9" cy="81.3" r="1.3"/><circle cx="445.7" cy="84" r="1.2"/><circle cx="497.8" cy="88.3" r="1.7"/><circle cx="487.7" cy="48.5" r="1.1"/><circle cx="487.7" cy="78.6" r="1.8"/><circle cx="505.7" cy="71.6" r="1.2"/><circle cx="458.4" cy="45.6" r="1.5"/><circle cx="489.1" cy="32.1" r="1.9"/><circle cx="511.6" cy="76.4" r="1"/><circle cx="445.1" cy="87.2" r="1.2"/><circle cx="480.2" cy="48.1" r="1.5"/><circle cx="511.9" cy="46.7" r="1.9"/><circle cx="509.3" cy="87.5" r="1.8"/><circle cx="515" cy="73.9" r="1.8"/><circle cx="474.1" cy="70" r="1.2"/><circle cx="440.7" cy="48.6" r="1.3"/><circle cx="482.2" cy="75.2" r="1.1"/><circle cx="456.9" cy="43.3" r="1.6"/><circle cx="505.7" cy="88.3" r="1.5"/><circle cx="452.7" cy="69.5" r="1.6"/><circle cx="487.2" cy="34.7" r="1.4"/><circle cx="488.7" cy="39" r="1.5"/><circle cx="462.2" cy="31.5" r="1.7"/><circle cx="440.1" cy="66.2" r="1.7"/><circle cx="458.1" cy="72.1" r="1.6"/><circle cx="461.7" cy="71.3" r="1.8"/><circle cx="474.3" cy="71.3" r="1.4"/><circle cx="508.9" cy="83.6" r="1.6"/><circle cx="498.2" cy="40.5" r="1.9"/><circle cx="508.4" cy="40.3" r="1.8"/><circle cx="491.9" cy="44.9" r="1.4"/><circle cx="512.8" cy="51.1" r="1.6"/><circle cx="470.3" cy="50.2" r="1.9"/><circle cx="479.4" cy="36.4" r="1.4"/><circle cx="494.8" cy="46.5" r="1.8"/><circle cx="498.9" cy="34.5" r="1.7"/><circle cx="450.5" cy="37.5" r="1.8"/><circle cx="487.7" cy="79.1" r="2"/><circle cx="454.1" cy="46.4" r="1.9"/><circle cx="482.1" cy="85" r="1.4"/><circle cx="448.7" cy="44.6" r="1"/><circle cx="459.4" cy="88.4" r="1.1"/><circle cx="485" cy="88.3" r="1.8"/><circle cx="496.7" cy="65.9" r="1.1"/><circle cx="479.1" cy="49.6" r="1.7"/><circle cx="515" cy="72.2" r="1.6"/><circle cx="446.8" cy="34.3" r="1.2"/><circle cx="498.4" cy="86" r="1.4"/><circle cx="467.3" cy="36.8" r="1.7"/><circle cx="475.6" cy="50" r="1.6"/><circle cx="484.9" cy="63" r="1.8"/><circle cx="512.5" cy="85.4" r="1.4"/><circle cx="468.7" cy="48.6" r="1.4"/><circle cx="445.1" cy="88.1" r="1.3"/><circle cx="461.8" cy="46" r="1.5"/><circle cx="510.5" cy="55.4" r="1.2"/><circle cx="503.9" cy="71.5" r="2"/><circle cx="508.6" cy="71.1" r="1.8"/><circle cx="488.2" cy="80.6" r="1.8"/><circle cx="490.4" cy="84.2" r="1.7"/><circle cx="466.3" cy="71.6" r="2"/><circle cx="513.5" cy="75.3" r="1.7"/><circle cx="486.2" cy="41.9" r="1.7"/><circle cx="472.9" cy="67.6" r="1.5"/><circle cx="447.3" cy="88.1" r="1.7"/></g><g fill="#b898c0" fill-opacity="0.9"><circle cx="488.3" cy="71.3" r="1.8"/><circle cx="471.9" cy="48.7" r="1.8"/><circle cx="473.8" cy="72.7" r="2"/><circle cx="484.2" cy="52" r="1.3"/><circle cx="476.8" cy="72.6" r="1.5"/><circle cx="489.4" cy="86.9" r="1.9"/><circle cx="475.9" cy="56.5" r="1.6"/><circle cx="513.4" cy="47.7" r="1.9"/><circle cx="501.3" cy="67.9" r="1.5"/><circle cx="481.3" cy="69.2" r="1.7"/><circle cx="491.3" cy="33" r="1.8"/><circle cx="460.7" cy="32.1" r="1.5"/><circle cx="465.7" cy="33" r="1.3"/><circle cx="505.3" cy="80.3" r="1.3"/><circle cx="450.1" cy="86.9" r="1.2"/><circle cx="472.8" cy="45.9" r="1.5"/><circle cx="464" cy="80.5" r="1.6"/><circle cx="487.9" cy="87" r="1.5"/><circle cx="472.2" cy="36.5" r="1.7"/><circle cx="509.2" cy="75.7" r="1.5"/><circle cx="506.7" cy="40.5" r="1.6"/><circle cx="467" cy="85.5" r="1.6"/><circle cx="468" cy="39.5" r="1.2"/><circle cx="471.2" cy="51.7" r="1.4"/><circle cx="456.4" cy="43.6" r="1.6"/><circle cx="504.8" cy="82.8" r="1.9"/><circle cx="471.5" cy="71.2" r="1.7"/><circle cx="457.3" cy="56" r="1.8"/><circle cx="444.7" cy="61.9" r="1.5"/><circle cx="444.2" cy="80.9" r="1.6"/><circle cx="499.9" cy="57.2" r="1.1"/><circle cx="454.9" cy="40.4" r="1"/><circle cx="459.1" cy="67.6" r="1.3"/><circle cx="456.5" cy="37.3" r="1.2"/><circle cx="482.6" cy="73.7" r="1.4"/><circle cx="463.7" cy="56.5" r="1.8"/><circle cx="460.5" cy="33.7" r="1.7"/><circle cx="514" cy="65.3" r="1.5"/><circle cx="492.4" cy="71.5" r="1.8"/><circle cx="495.9" cy="85" r="1.9"/><circle cx="483.6" cy="67.6" r="1.4"/><circle cx="480.9" cy="47.1" r="1.7"/><circle cx="484.1" cy="88.2" r="1.2"/><circle cx="440.4" cy="71.7" r="1.9"/><circle cx="505.7" cy="60" r="1.2"/><circle cx="509" cy="87.3" r="1.5"/><circle cx="496" cy="44.6" r="1.8"/><circle cx="506.2" cy="85.4" r="1.2"/><circle cx="478.1" cy="52.7" r="1.3"/><circle cx="479.9" cy="35.7" r="1.6"/><circle cx="472.8" cy="42.8" r="1.5"/><circle cx="507.1" cy="64" r="1"/><circle cx="491" cy="44.8" r="2"/><circle cx="511" cy="60.3" r="1.4"/><circle cx="447.1" cy="66.4" r="1.2"/><circle cx="493.9" cy="78" r="1.6"/><circle cx="511.7" cy="47.3" r="1"/><circle cx="499.5" cy="49" r="1.4"/><circle cx="446.3" cy="66.7" r="1.3"/><circle cx="447.1" cy="44" r="1.2"/><circle cx="455.7" cy="53.8" r="1.9"/><circle cx="471.9" cy="75.1" r="1.6"/><circle cx="454.3" cy="66.4" r="1.6"/><circle cx="440.8" cy="38.8" r="1.1"/><circle cx="484.6" cy="73.7" r="1.3"/><circle cx="458.2" cy="35.5" r="1.7"/><circle cx="449.6" cy="84.1" r="1.1"/><circle cx="504.9" cy="31.5" r="1.1"/><circle cx="469.8" cy="77.1" r="1.3"/><circle cx="483.8" cy="76.9" r="1.8"/><circle cx="510.9" cy="82.3" r="1.2"/><circle cx="468.6" cy="82.5" r="1"/><circle cx="447.4" cy="72" r="1.5"/><circle cx="444.4" cy="55.8" r="1.6"/><circle cx="480.3" cy="61.1" r="1.3"/><circle cx="506" cy="41.8" r="1.8"/><circle cx="485.5" cy="79.7" r="1.1"/><circle cx="450.5" cy="70.7" r="1.6"/><circle cx="479.1" cy="58.4" r="1.6"/><circle cx="450.8" cy="70.2" r="1.4"/><circle cx="508.4" cy="83.6" r="1.1"/><circle cx="448.7" cy="62.4" r="1.2"/><circle cx="499.4" cy="84.7" r="1.9"/><circle cx="481.5" cy="39.6" r="1"/><circle cx="470.8" cy="63.9" r="1.1"/><circle cx="469" cy="63.4" r="1.8"/><circle cx="501.4" cy="77.8" r="1.8"/></g><ellipse cx="463.5" cy="47.5" rx="4.4" ry="3.8" fill="#c0a8d4"/><ellipse cx="481.5" cy="70.5" rx="4" ry="3.6" fill="#c0a8d4"/><ellipse cx="502" cy="78.5" rx="4.2" ry="3.6" fill="#c0a8d4"/><ellipse cx="463.5" cy="47.5" rx="3" ry="2.4" fill="#3e1f6e"/><ellipse cx="481.5" cy="70.5" rx="2.6" ry="2.3" fill="#432575"/><ellipse cx="502" cy="78.5" rx="2.8" ry="2.2" fill="#3a2070"/><ellipse cx="446.5" cy="41" rx="1.9" ry="1.3" fill="#4e3080"/><radialGradient id="g99293796"><stop offset="0" stop-color="#f8f0d8" stop-opacity="0.8"/><stop offset="0.6" stop-color="#f8f0d8" stop-opacity="0.5599999999999999"/><stop offset="1" stop-color="#f8f0d8" stop-opacity="0"/></radialGradient><ellipse cx="505" cy="70" rx="3" ry="3" fill="url(#g99293796)"/></g><rect x="443" y="34.8" width="10.5" height="5.6" fill="#fbf8fb"/><text class="lb" x="443.8" y="39.3" font-size="4.6" fill="#555" textLength="8.9" lengthAdjust="spacingAndGlyphs">500x</text></g><clipPath id="c6"><rect x="369.3" y="87.6" width="71.5" height="53.4"/></clipPath><g clip-path="url(#c6)"><g filter="url(#bl)"><rect x="369.3" y="87.6" width="71.5" height="53.4" fill="#caa6d6"/><g fill="#8d5cb0" stroke="#f2e2f4" stroke-width="0.6"><ellipse cx="0" cy="0" rx="3.7" ry="2.3" transform="translate(391.7 94.3) rotate(96)"/><ellipse cx="0" cy="0" rx="2.9" ry="2.3" transform="translate(399.1 140.8) rotate(142)"/><ellipse cx="0" cy="0" rx="3.4" ry="2.9" transform="translate(410.9 124.7) rotate(159)"/><ellipse cx="0" cy="0" rx="3" ry="1.9" transform="translate(369 112.1) rotate(10)"/><ellipse cx="0" cy="0" rx="2.8" ry="2.5" transform="translate(378.7 123.4) rotate(32)"/><ellipse cx="0" cy="0" rx="3.5" ry="3" transform="translate(428 97.1) rotate(178)"/><ellipse cx="0" cy="0" rx="3.6" ry="2.7" transform="translate(421.8 86.7) rotate(3)"/><ellipse cx="0" cy="0" rx="3.2" ry="1.9" transform="translate(440.7 91.6) rotate(140)"/><ellipse cx="0" cy="0" rx="4" ry="2.7" transform="translate(391.7 87.6) rotate(32)"/><ellipse cx="0" cy="0" rx="3" ry="2.4" transform="translate(374.2 132.5) rotate(70)"/><ellipse cx="0" cy="0" rx="3.1" ry="1.9" transform="translate(418.9 125.4) rotate(23)"/><circle cx="368.6" cy="111.9" r="3.9"/><ellipse cx="0" cy="0" rx="3.6" ry="2.6" transform="translate(397 142.9) rotate(77)"/><ellipse cx="0" cy="0" rx="3.9" ry="3.1" transform="translate(373 114.3) rotate(81)"/><ellipse cx="0" cy="0" rx="3" ry="2" transform="translate(442.5 111.4) rotate(16)"/><ellipse cx="0" cy="0" rx="3.4" ry="2.6" transform="translate(423.9 109.3) rotate(67)"/><ellipse cx="0" cy="0" rx="3.4" ry="3" transform="translate(414.6 115.9) rotate(17)"/><circle cx="403.2" cy="99.1" r="3.1"/><ellipse cx="0" cy="0" rx="3.2" ry="2.2" transform="translate(424.6 130.4) rotate(48)"/><ellipse cx="0" cy="0" rx="2.9" ry="2.1" transform="translate(420.9 105.7) rotate(7)"/><ellipse cx="0" cy="0" rx="3.8" ry="2.8" transform="translate(374.2 95) rotate(50)"/><ellipse cx="0" cy="0" rx="4" ry="3.5" transform="translate(396.7 111.8) rotate(116)"/><ellipse cx="0" cy="0" rx="3.4" ry="2.1" transform="translate(430.5 132.1) rotate(64)"/><ellipse cx="0" cy="0" rx="3.1" ry="2.8" transform="translate(419.1 127) rotate(109)"/><ellipse cx="0" cy="0" rx="3.6" ry="3" transform="translate(440.1 113.2) rotate(42)"/><ellipse cx="0" cy="0" rx="3" ry="2.3" transform="translate(380 130.7) rotate(114)"/><ellipse cx="0" cy="0" rx="3.5" ry="3" transform="translate(440.2 111.6) rotate(161)"/><ellipse cx="0" cy="0" rx="3.4" ry="2.9" transform="translate(442.3 121.7) rotate(47)"/><ellipse cx="0" cy="0" rx="3.8" ry="3.3" transform="translate(437.4 137) rotate(39)"/><ellipse cx="0" cy="0" rx="4" ry="3.5" transform="translate(374.5 122.2) rotate(72)"/></g><g fill="#7c4ca4" stroke="#f2e2f4" stroke-width="0.6"><ellipse cx="0" cy="0" rx="3.1" ry="2" transform="translate(411.3 137.8) rotate(75)"/><ellipse cx="0" cy="0" rx="3.2" ry="2.8" transform="translate(411.5 111.6) rotate(125)"/><circle cx="398.7" cy="106.2" r="4"/><ellipse cx="0" cy="0" rx="2.9" ry="2.1" transform="translate(367.3 94.3) rotate(4)"/><ellipse cx="0" cy="0" rx="4.2" ry="3.2" transform="translate(376 113.6) rotate(56)"/><ellipse cx="0" cy="0" rx="2.9" ry="2.6" transform="translate(389.8 122.5) rotate(93)"/><ellipse cx="0" cy="0" rx="3.3" ry="2.2" transform="translate(441.9 140.4) rotate(40)"/><ellipse cx="0" cy="0" rx="4.1" ry="3.5" transform="translate(397.2 108.6) rotate(30)"/><ellipse cx="0" cy="0" rx="2.9" ry="2.5" transform="translate(427.7 127.3) rotate(25)"/><ellipse cx="0" cy="0" rx="3.5" ry="3.1" transform="translate(417.3 132.4) rotate(158)"/><ellipse cx="0" cy="0" rx="3.5" ry="3.1" transform="translate(382.4 101.5) rotate(91)"/><ellipse cx="0" cy="0" rx="4.1" ry="2.8" transform="translate(420.1 135.9) rotate(100)"/><ellipse cx="0" cy="0" rx="3" ry="2.2" transform="translate(430.7 93.5) rotate(13)"/><circle cx="439.2" cy="108.5" r="3.5"/><ellipse cx="0" cy="0" rx="4.1" ry="2.7" transform="translate(406.4 102.6) rotate(165)"/><ellipse cx="0" cy="0" rx="3" ry="1.9" transform="translate(407.1 99.3) rotate(9)"/><ellipse cx="0" cy="0" rx="2.9" ry="2.4" transform="translate(431.8 101.7) rotate(114)"/><ellipse cx="0" cy="0" rx="4.1" ry="3.1" transform="translate(382.7 90.2) rotate(110)"/><ellipse cx="0" cy="0" rx="3.6" ry="2.6" transform="translate(416.8 102.9) rotate(30)"/><ellipse cx="0" cy="0" rx="3.2" ry="2.9" transform="translate(416.1 110.4) rotate(174)"/><ellipse cx="0" cy="0" rx="4.1" ry="3.4" transform="translate(426.4 98.9) rotate(54)"/><ellipse cx="0" cy="0" rx="3.2" ry="2.3" transform="translate(407.9 142.8) rotate(151)"/><ellipse cx="0" cy="0" rx="4" ry="3.3" transform="translate(371.5 96.7) rotate(14)"/><ellipse cx="0" cy="0" rx="3.2" ry="2.9" transform="translate(382.8 141.3) rotate(41)"/><ellipse cx="0" cy="0" rx="3" ry="2.4" transform="translate(387.3 136.6) rotate(109)"/><ellipse cx="0" cy="0" rx="3.2" ry="2.1" transform="translate(401.2 126.5) rotate(14)"/><ellipse cx="0" cy="0" rx="4.1" ry="2.7" transform="translate(388.4 105.8) rotate(173)"/><ellipse cx="0" cy="0" rx="3.5" ry="3" transform="translate(373.6 91.1) rotate(80)"/><ellipse cx="0" cy="0" rx="4.2" ry="2.7" transform="translate(428.3 123.1) rotate(85)"/><ellipse cx="0" cy="0" rx="2.9" ry="2" transform="translate(430.8 138.1) rotate(21)"/><ellipse cx="0" cy="0" rx="3.1" ry="1.9" transform="translate(412.6 133.1) rotate(92)"/><ellipse cx="0" cy="0" rx="3.3" ry="2.2" transform="translate(432.6 142.8) rotate(131)"/><ellipse cx="0" cy="0" rx="3.6" ry="3.3" transform="translate(428.2 108.4) rotate(132)"/><circle cx="379.1" cy="106.2" r="3"/><ellipse cx="0" cy="0" rx="4.2" ry="3.2" transform="translate(428.8 96.7) rotate(172)"/><ellipse cx="0" cy="0" rx="3.5" ry="3.2" transform="translate(413.8 110.4) rotate(23)"/></g><g fill="#4a2274" stroke="#f2e2f4" stroke-width="0.6"><ellipse cx="0" cy="0" rx="4" ry="2.5" transform="translate(374.1 110) rotate(40)"/><ellipse cx="0" cy="0" rx="3" ry="1.9" transform="translate(432.1 102.2) rotate(55)"/><ellipse cx="0" cy="0" rx="3.7" ry="2.3" transform="translate(438.6 112.8) rotate(126)"/><ellipse cx="0" cy="0" rx="3" ry="2.2" transform="translate(397.6 101.5) rotate(99)"/><ellipse cx="0" cy="0" rx="3.3" ry="2.6" transform="translate(367.6 109.6) rotate(171)"/><ellipse cx="0" cy="0" rx="3.7" ry="3.2" transform="translate(432.2 140.1) rotate(82)"/><ellipse cx="0" cy="0" rx="4" ry="3.5" transform="translate(428.6 142.1) rotate(147)"/><ellipse cx="0" cy="0" rx="3.6" ry="2.6" transform="translate(403 96.7) rotate(145)"/><ellipse cx="0" cy="0" rx="4.2" ry="3.4" transform="translate(392.8 113.3) rotate(0)"/><ellipse cx="0" cy="0" rx="4" ry="2.5" transform="translate(393.3 122.5) rotate(69)"/><ellipse cx="0" cy="0" rx="3" ry="2.7" transform="translate(423.9 113) rotate(59)"/><ellipse cx="0" cy="0" rx="3.2" ry="2.1" transform="translate(399.6 97.8) rotate(139)"/><ellipse cx="0" cy="0" rx="3.2" ry="2" transform="translate(415.9 106.6) rotate(84)"/><ellipse cx="0" cy="0" rx="3.5" ry="2.4" transform="translate(437.7 121.7) rotate(80)"/><ellipse cx="0" cy="0" rx="2.8" ry="1.9" transform="translate(380.7 105.5) rotate(2)"/><ellipse cx="0" cy="0" rx="3.5" ry="2.4" transform="translate(405.5 141.7) rotate(80)"/><ellipse cx="0" cy="0" rx="3.1" ry="2.1" transform="translate(390.5 98) rotate(158)"/><ellipse cx="0" cy="0" rx="3.6" ry="2.8" transform="translate(390.3 99) rotate(135)"/><ellipse cx="0" cy="0" rx="2.8" ry="2.4" transform="translate(410.2 132.3) rotate(143)"/><ellipse cx="0" cy="0" rx="3.6" ry="2.6" transform="translate(415.1 97) rotate(117)"/><ellipse cx="0" cy="0" rx="2.8" ry="1.8" transform="translate(390.3 118.2) rotate(48)"/><ellipse cx="0" cy="0" rx="4.1" ry="2.6" transform="translate(396.5 138.2) rotate(16)"/><ellipse cx="0" cy="0" rx="3" ry="2.4" transform="translate(386.1 91.9) rotate(122)"/><ellipse cx="0" cy="0" rx="4.1" ry="3.5" transform="translate(392.2 96.2) rotate(5)"/><ellipse cx="0" cy="0" rx="3.2" ry="2.8" transform="translate(396 129.7) rotate(15)"/><ellipse cx="0" cy="0" rx="4.1" ry="3.4" transform="translate(392.9 101.2) rotate(47)"/><ellipse cx="0" cy="0" rx="3.2" ry="2.7" transform="translate(419.4 138.7) rotate(107)"/><ellipse cx="0" cy="0" rx="4" ry="2.8" transform="translate(377.3 112.1) rotate(96)"/><ellipse cx="0" cy="0" rx="3.2" ry="2.2" transform="translate(381.5 89.3) rotate(94)"/><ellipse cx="0" cy="0" rx="3" ry="1.8" transform="translate(434 112.1) rotate(99)"/><ellipse cx="0" cy="0" rx="2.9" ry="2.7" transform="translate(441 113.3) rotate(69)"/><ellipse cx="0" cy="0" rx="2.8" ry="1.8" transform="translate(416.6 130.6) rotate(110)"/><ellipse cx="0" cy="0" rx="3.9" ry="2.9" transform="translate(410.9 106.3) rotate(31)"/></g><g fill="#9a6ab8" stroke="#f2e2f4" stroke-width="0.6"><ellipse cx="0" cy="0" rx="3.6" ry="2.2" transform="translate(411.3 89.2) rotate(39)"/><ellipse cx="0" cy="0" rx="3.5" ry="2.5" transform="translate(373.5 102.8) rotate(80)"/><ellipse cx="0" cy="0" rx="3.3" ry="2.8" transform="translate(382.8 140.2) rotate(164)"/><ellipse cx="0" cy="0" rx="3.6" ry="2.8" transform="translate(394.2 98.4) rotate(114)"/><ellipse cx="0" cy="0" rx="3.5" ry="2.9" transform="translate(369.4 119.5) rotate(110)"/><ellipse cx="0" cy="0" rx="3.2" ry="2.2" transform="translate(429.7 97.7) rotate(43)"/><ellipse cx="0" cy="0" rx="3.6" ry="3.1" transform="translate(391.9 115.4) rotate(19)"/><ellipse cx="0" cy="0" rx="3.4" ry="2.8" transform="translate(424.7 138) rotate(90)"/><ellipse cx="0" cy="0" rx="3.5" ry="3.1" transform="translate(429.1 110.4) rotate(70)"/><ellipse cx="0" cy="0" rx="2.8" ry="2" transform="translate(381.3 101) rotate(59)"/><ellipse cx="0" cy="0" rx="3.7" ry="2.3" transform="translate(378.6 127.2) rotate(150)"/><ellipse cx="0" cy="0" rx="3.9" ry="2.6" transform="translate(414.7 127.7) rotate(94)"/><ellipse cx="0" cy="0" rx="3.4" ry="2.1" transform="translate(439.7 107.2) rotate(3)"/><ellipse cx="0" cy="0" rx="2.8" ry="2.5" transform="translate(418.7 113.7) rotate(134)"/><ellipse cx="0" cy="0" rx="3.5" ry="2.9" transform="translate(404.6 107.6) rotate(138)"/><ellipse cx="0" cy="0" rx="3.7" ry="3.4" transform="translate(434.1 132.2) rotate(169)"/><ellipse cx="0" cy="0" rx="3.6" ry="2.6" transform="translate(424.1 114.2) rotate(123)"/><ellipse cx="0" cy="0" rx="2.9" ry="1.9" transform="translate(402.3 131.7) rotate(11)"/><ellipse cx="0" cy="0" rx="3.8" ry="3.4" transform="translate(381.1 131.7) rotate(139)"/><ellipse cx="0" cy="0" rx="3.4" ry="3" transform="translate(385.1 135) rotate(107)"/><ellipse cx="0" cy="0" rx="3.1" ry="2" transform="translate(382.2 128.8) rotate(6)"/><ellipse cx="0" cy="0" rx="3.4" ry="2.2" transform="translate(408.4 94.8) rotate(12)"/><ellipse cx="0" cy="0" rx="3.1" ry="2.2" transform="translate(423 97) rotate(27)"/><circle cx="401.2" cy="100.5" r="3.9"/><ellipse cx="0" cy="0" rx="3.2" ry="2.2" transform="translate(418.5 96.2) rotate(143)"/><ellipse cx="0" cy="0" rx="3.9" ry="3.3" transform="translate(403.8 109) rotate(27)"/><ellipse cx="0" cy="0" rx="3" ry="1.9" transform="translate(438.4 110.5) rotate(16)"/><ellipse cx="0" cy="0" rx="3.5" ry="2.8" transform="translate(413.7 96.9) rotate(7)"/><ellipse cx="0" cy="0" rx="3.2" ry="2.8" transform="translate(379.3 137.1) rotate(25)"/><ellipse cx="0" cy="0" rx="3.5" ry="2.5" transform="translate(439.6 102.6) rotate(173)"/><ellipse cx="0" cy="0" rx="2.9" ry="2.3" transform="translate(413.5 88.2) rotate(54)"/><ellipse cx="0" cy="0" rx="3.6" ry="2.9" transform="translate(394.3 98.5) rotate(36)"/><ellipse cx="0" cy="0" rx="3.9" ry="3.6" transform="translate(440.3 88.8) rotate(107)"/><ellipse cx="0" cy="0" rx="4.1" ry="2.7" transform="translate(368.2 117.2) rotate(35)"/></g><g fill="#6a3c96" stroke="#f2e2f4" stroke-width="0.6"><ellipse cx="0" cy="0" rx="3.7" ry="2.7" transform="translate(380.9 119) rotate(98)"/><ellipse cx="0" cy="0" rx="3.5" ry="3.1" transform="translate(393 105.7) rotate(12)"/><ellipse cx="0" cy="0" rx="3.4" ry="2.1" transform="translate(427.5 108.1) rotate(114)"/><ellipse cx="0" cy="0" rx="3.4" ry="2.2" transform="translate(381.7 142.1) rotate(108)"/><ellipse cx="0" cy="0" rx="3.2" ry="2.3" transform="translate(413.7 94.1) rotate(65)"/><ellipse cx="0" cy="0" rx="3.2" ry="2.8" transform="translate(375 105.3) rotate(29)"/><ellipse cx="0" cy="0" rx="3.3" ry="2.6" transform="translate(441.3 123.3) rotate(23)"/><ellipse cx="0" cy="0" rx="2.8" ry="2.1" transform="translate(407.5 115.6) rotate(32)"/><ellipse cx="0" cy="0" rx="3" ry="2.4" transform="translate(425.9 94.2) rotate(21)"/><ellipse cx="0" cy="0" rx="2.9" ry="1.8" transform="translate(371.6 96.6) rotate(81)"/><ellipse cx="0" cy="0" rx="3.4" ry="2.5" transform="translate(420.6 142.7) rotate(64)"/><ellipse cx="0" cy="0" rx="3.6" ry="3" transform="translate(378.6 138.4) rotate(16)"/><ellipse cx="0" cy="0" rx="4.1" ry="2.8" transform="translate(427.7 96.1) rotate(3)"/><ellipse cx="0" cy="0" rx="3.4" ry="3.1" transform="translate(368.2 142.7) rotate(111)"/><ellipse cx="0" cy="0" rx="3.3" ry="2" transform="translate(415.3 108.8) rotate(23)"/><ellipse cx="0" cy="0" rx="3.5" ry="2.3" transform="translate(396.1 112.8) rotate(90)"/><ellipse cx="0" cy="0" rx="3.5" ry="3" transform="translate(435.1 90.9) rotate(85)"/><ellipse cx="0" cy="0" rx="3" ry="2.6" transform="translate(406.9 140.3) rotate(91)"/><ellipse cx="0" cy="0" rx="4.1" ry="3.1" transform="translate(420.4 98.9) rotate(4)"/><ellipse cx="0" cy="0" rx="2.8" ry="2.4" transform="translate(391.2 133.8) rotate(151)"/><ellipse cx="0" cy="0" rx="2.8" ry="2.4" transform="translate(438.3 96.8) rotate(45)"/><ellipse cx="0" cy="0" rx="3.3" ry="2.9" transform="translate(409.3 103.9) rotate(36)"/><ellipse cx="0" cy="0" rx="4.1" ry="3.1" transform="translate(369.7 126.3) rotate(105)"/><ellipse cx="0" cy="0" rx="4.1" ry="2.6" transform="translate(420.2 134.2) rotate(139)"/><ellipse cx="0" cy="0" rx="3.3" ry="2.3" transform="translate(406.9 119.1) rotate(108)"/><ellipse cx="0" cy="0" rx="2.8" ry="2" transform="translate(394.7 108.4) rotate(152)"/><ellipse cx="0" cy="0" rx="2.9" ry="2.3" transform="translate(403.9 137.9) rotate(165)"/><ellipse cx="0" cy="0" rx="4.2" ry="3.2" transform="translate(422.1 133.8) rotate(19)"/><ellipse cx="0" cy="0" rx="3.9" ry="3.4" transform="translate(369.6 109.2) rotate(7)"/><ellipse cx="0" cy="0" rx="3.8" ry="3.5" transform="translate(398.8 88.5) rotate(74)"/><ellipse cx="0" cy="0" rx="3.9" ry="2.8" transform="translate(424.2 131.1) rotate(150)"/><ellipse cx="0" cy="0" rx="3.9" ry="2.4" transform="translate(370.4 117.9) rotate(150)"/><ellipse cx="0" cy="0" rx="3.7" ry="2.8" transform="translate(411.3 110) rotate(78)"/><ellipse cx="0" cy="0" rx="3.5" ry="2.2" transform="translate(374.2 111) rotate(114)"/><ellipse cx="0" cy="0" rx="3.8" ry="2.6" transform="translate(400.8 139.4) rotate(162)"/><ellipse cx="0" cy="0" rx="3.1" ry="2" transform="translate(371.9 87) rotate(164)"/><ellipse cx="0" cy="0" rx="3.4" ry="2.8" transform="translate(415.8 122.8) rotate(91)"/></g><g fill="#5a2e88" stroke="#f2e2f4" stroke-width="0.6"><ellipse cx="0" cy="0" rx="3.5" ry="2.7" transform="translate(409.9 121.1) rotate(139)"/><ellipse cx="0" cy="0" rx="3.4" ry="2.9" transform="translate(441.3 92.4) rotate(27)"/><ellipse cx="0" cy="0" rx="3.3" ry="3" transform="translate(377.1 99.8) rotate(14)"/><ellipse cx="0" cy="0" rx="4" ry="2.5" transform="translate(391.9 116.8) rotate(133)"/><ellipse cx="0" cy="0" rx="4" ry="3.3" transform="translate(424.4 132.7) rotate(170)"/><ellipse cx="0" cy="0" rx="4" ry="2.5" transform="translate(427.8 90.4) rotate(155)"/><ellipse cx="0" cy="0" rx="3.4" ry="2.1" transform="translate(414.5 136.1) rotate(119)"/><ellipse cx="0" cy="0" rx="3.2" ry="2.2" transform="translate(433 124.1) rotate(52)"/><ellipse cx="0" cy="0" rx="3.6" ry="3.2" transform="translate(434.7 130.6) rotate(129)"/><ellipse cx="0" cy="0" rx="3.9" ry="2.6" transform="translate(431.2 99.1) rotate(116)"/><ellipse cx="0" cy="0" rx="3.5" ry="3" transform="translate(374.8 98.1) rotate(51)"/><ellipse cx="0" cy="0" rx="4.1" ry="2.7" transform="translate(402.5 92.4) rotate(176)"/><ellipse cx="0" cy="0" rx="3.4" ry="2.9" transform="translate(439 124.7) rotate(74)"/><ellipse cx="0" cy="0" rx="3.5" ry="2.3" transform="translate(386.1 100.9) rotate(67)"/><ellipse cx="0" cy="0" rx="2.9" ry="2.7" transform="translate(416 102) rotate(22)"/><ellipse cx="0" cy="0" rx="3.2" ry="2.7" transform="translate(398.6 101.8) rotate(117)"/><ellipse cx="0" cy="0" rx="3.1" ry="2.2" transform="translate(414.8 135.1) rotate(44)"/><ellipse cx="0" cy="0" rx="4.1" ry="3.2" transform="translate(372.8 139) rotate(84)"/><ellipse cx="0" cy="0" rx="3.1" ry="1.9" transform="translate(417.7 138.7) rotate(60)"/><ellipse cx="0" cy="0" rx="3" ry="1.9" transform="translate(383.4 141.5) rotate(10)"/><ellipse cx="0" cy="0" rx="4.1" ry="2.7" transform="translate(403 107) rotate(65)"/><ellipse cx="0" cy="0" rx="4" ry="2.5" transform="translate(438.8 89.4) rotate(128)"/><ellipse cx="0" cy="0" rx="3.2" ry="2.4" transform="translate(439.3 107.8) rotate(88)"/><ellipse cx="0" cy="0" rx="4.1" ry="3.6" transform="translate(370.2 127.6) rotate(147)"/><ellipse cx="0" cy="0" rx="3.5" ry="3.3" transform="translate(378.3 101.9) rotate(19)"/><ellipse cx="0" cy="0" rx="3" ry="2.6" transform="translate(414.1 132.9) rotate(39)"/><ellipse cx="0" cy="0" rx="3.5" ry="2.6" transform="translate(367.6 142.2) rotate(111)"/><ellipse cx="0" cy="0" rx="3.8" ry="2.4" transform="translate(436.9 103.6) rotate(135)"/><ellipse cx="0" cy="0" rx="3" ry="2.8" transform="translate(370.1 96.1) rotate(122)"/><ellipse cx="0" cy="0" rx="2.8" ry="2.5" transform="translate(429.8 94.7) rotate(127)"/></g><g fill="#3e1a68"><ellipse cx="0" cy="0" rx="2.3" ry="2.1" transform="translate(390 88.4) rotate(128)"/><ellipse cx="0" cy="0" rx="2.3" ry="1.6" transform="translate(395.6 110.7) rotate(117)"/><ellipse cx="0" cy="0" rx="2.3" ry="1.6" transform="translate(389.6 138.9) rotate(91)"/><circle cx="402.9" cy="116.1" r="1.4"/><circle cx="410.4" cy="103.3" r="1.6"/><circle cx="378.2" cy="87.1" r="1.5"/><circle cx="420.2" cy="87.4" r="1.5"/><circle cx="422.9" cy="89.4" r="2"/><ellipse cx="0" cy="0" rx="2.1" ry="1.7" transform="translate(433.7 129) rotate(44)"/><ellipse cx="0" cy="0" rx="2" ry="1.6" transform="translate(436 129.8) rotate(51)"/><circle cx="426.9" cy="87.4" r="1.9"/><ellipse cx="0" cy="0" rx="2.3" ry="1.5" transform="translate(407.9 98) rotate(147)"/><circle cx="439.6" cy="115.2" r="2"/><ellipse cx="0" cy="0" rx="2" ry="1.4" transform="translate(404.9 91.9) rotate(141)"/><circle cx="414.7" cy="106" r="1.8"/><circle cx="399.2" cy="122.7" r="1.8"/><circle cx="395.9" cy="136.3" r="1.6"/><circle cx="415.8" cy="125.6" r="1.9"/><ellipse cx="0" cy="0" rx="2.1" ry="1.8" transform="translate(421.9 141.6) rotate(62)"/></g><g fill="#4a2474"><circle cx="384.4" cy="91.6" r="1.6"/><circle cx="421" cy="100.9" r="2"/><circle cx="387" cy="99.2" r="2.1"/><ellipse cx="0" cy="0" rx="2" ry="1.6" transform="translate(381.8 107.9) rotate(153)"/><circle cx="375.8" cy="87.6" r="2.2"/><ellipse cx="0" cy="0" rx="2.2" ry="1.9" transform="translate(403.3 93.2) rotate(53)"/><circle cx="399.3" cy="86.8" r="1.7"/><circle cx="400.2" cy="115.7" r="1.7"/><ellipse cx="0" cy="0" rx="2.2" ry="1.6" transform="translate(404.4 113.8) rotate(89)"/><circle cx="393.6" cy="104.4" r="1.6"/><ellipse cx="0" cy="0" rx="2.2" ry="1.9" transform="translate(380.1 110.8) rotate(22)"/></g></g><rect x="370.5" y="89.1" width="11.5" height="5.6" fill="#fbf8fb"/><text class="lb" x="371.3" y="93.6" font-size="4.6" fill="#555" textLength="9.9" lengthAdjust="spacingAndGlyphs">1000x</text></g><clipPath id="c7"><rect x="441.8" y="87.6" width="71.3" height="53.4"/></clipPath><g clip-path="url(#c7)"><g filter="url(#bl)"><rect x="441.8" y="87.6" width="71.3" height="53.4" fill="#f8f2f6"/><g fill="#f2e4ee" stroke="#b88cb8" stroke-width="1.6"><circle cx="456.3" cy="141.8" r="2.9"/><circle cx="493.3" cy="89.7" r="2.9"/><circle cx="516" cy="97" r="3.1"/><circle cx="477.1" cy="96" r="3.2"/><circle cx="445.7" cy="98.5" r="2.8"/><circle cx="459.4" cy="108.8" r="3.3"/><circle cx="468.1" cy="91.4" r="2.9"/><circle cx="515.5" cy="88.3" r="3.1"/><circle cx="468" cy="123.9" r="3"/><circle cx="492.2" cy="114.2" r="3.1"/><circle cx="508.5" cy="119.1" r="2.9"/><circle cx="443.8" cy="140.8" r="3"/><circle cx="483.6" cy="127.9" r="3.2"/><circle cx="506.7" cy="92.6" r="3.2"/><circle cx="446.3" cy="125.6" r="3.2"/><circle cx="512.2" cy="134.7" r="3.1"/><circle cx="454.1" cy="93.5" r="3.1"/><circle cx="478.2" cy="88.8" r="3.3"/><circle cx="439.7" cy="105" r="2.9"/><circle cx="471.5" cy="107" r="3.2"/><circle cx="490.1" cy="142.5" r="2.9"/><circle cx="498" cy="102.4" r="2.8"/><circle cx="452" cy="110.5" r="2.9"/><circle cx="461.1" cy="90.2" r="2.8"/><circle cx="447" cy="115.5" r="3"/><circle cx="501.2" cy="114.6" r="3.2"/><circle cx="440.1" cy="92.9" r="3"/><circle cx="466" cy="141.9" r="2.8"/><circle cx="494.9" cy="126.7" r="3.1"/><circle cx="461.7" cy="117.1" r="3.3"/><circle cx="503.9" cy="125.2" r="3.3"/><circle cx="485.6" cy="106.1" r="3"/><circle cx="447.8" cy="133.9" r="2.9"/><circle cx="461.3" cy="132.4" r="3.1"/><circle cx="499.1" cy="143.6" r="3.3"/><circle cx="499.6" cy="92.7" r="3.1"/><circle cx="474.6" cy="136.2" r="3.3"/><circle cx="485.7" cy="136" r="3.1"/><circle cx="502.8" cy="133" r="3.2"/><circle cx="495.7" cy="133.6" r="3.1"/><circle cx="486.8" cy="93.1" r="3.1"/><circle cx="513.4" cy="109.9" r="3.1"/><circle cx="507.6" cy="103.2" r="2.8"/><circle cx="477.4" cy="123.4" r="3"/><circle cx="447.7" cy="86.8" r="3.2"/><circle cx="455.2" cy="103.3" r="3.3"/><circle cx="439.7" cy="132.9" r="3"/><circle cx="509.2" cy="84.6" r="3.3"/><circle cx="476" cy="143.2" r="3.2"/><circle cx="489.6" cy="99.6" r="3.1"/><circle cx="454.9" cy="125.7" r="3.2"/><circle cx="485.1" cy="113.6" r="3.1"/><circle cx="507.1" cy="142.6" r="2.9"/><circle cx="467.6" cy="113.4" r="3.1"/><circle cx="462" cy="97.6" r="3.3"/><circle cx="515.8" cy="126.3" r="2.8"/><circle cx="487.4" cy="121.6" r="3.1"/><circle cx="485.2" cy="86.2" r="3.1"/><circle cx="440" cy="119.1" r="3.1"/><circle cx="514.6" cy="141.8" r="3.1"/><circle cx="469.1" cy="100.1" r="3"/><circle cx="455" cy="86.7" r="3"/><circle cx="440.7" cy="84.6" r="3.2"/><circle cx="453.9" cy="117.4" r="3"/><circle cx="499" cy="85.5" r="3.1"/><circle cx="515.6" cy="119.1" r="2.9"/><circle cx="469.8" cy="84.7" r="2.9"/><circle cx="469.7" cy="131.3" r="3.3"/><circle cx="478.5" cy="104.8" r="3.1"/><circle cx="454.7" cy="135" r="3.2"/></g><g fill="#ece2f0" stroke="#9c84b8" stroke-width="1.5"><circle cx="444.8" cy="122.2" r="3.2"/><circle cx="460.2" cy="88.7" r="2.8"/><circle cx="466.1" cy="130.2" r="3"/><circle cx="456.4" cy="124.9" r="3.2"/><circle cx="474.1" cy="123.4" r="3.1"/><circle cx="487.7" cy="96.2" r="2.9"/><circle cx="483.7" cy="106.2" r="2.9"/><circle cx="483.9" cy="87.2" r="2.8"/><circle cx="457.6" cy="118" r="2.8"/></g><ellipse cx="478.5" cy="111.5" rx="5.4" ry="5" fill="#40208a"/><ellipse cx="477" cy="110" rx="2.8" ry="2.4" fill="#32186e"/><ellipse cx="452" cy="94" rx="2.5" ry="2" fill="#6a4a98"/></g><rect x="443" y="89.1" width="11.5" height="5.6" fill="#fbf8fb"/><text class="lb" x="443.8" y="93.6" font-size="4.6" fill="#555" textLength="9.9" lengthAdjust="spacingAndGlyphs">1000x</text></g><clipPath id="c8"><rect x="216" y="223" width="80.7" height="60.8"/></clipPath><g clip-path="url(#c8)"><g filter="url(#bl)"><rect x="216" y="223" width="80.7" height="60.8" fill="#c682c2"/><radialGradient id="g81210662"><stop offset="0" stop-color="#e4b4dc" stop-opacity="0.8"/><stop offset="0.6" stop-color="#e4b4dc" stop-opacity="0.5599999999999999"/><stop offset="1" stop-color="#e4b4dc" stop-opacity="0"/></radialGradient><ellipse cx="238" cy="262" rx="18" ry="9" fill="url(#g81210662)"/><radialGradient id="g23715212"><stop offset="0" stop-color="#dcaad6" stop-opacity="0.7"/><stop offset="0.6" stop-color="#dcaad6" stop-opacity="0.48999999999999994"/><stop offset="1" stop-color="#dcaad6" stop-opacity="0"/></radialGradient><ellipse cx="262" cy="250" rx="12" ry="6" fill="url(#g23715212)"/><radialGradient id="g28384682"><stop offset="0" stop-color="#b878bc" stop-opacity="0.6"/><stop offset="0.6" stop-color="#b878bc" stop-opacity="0.42"/><stop offset="1" stop-color="#b878bc" stop-opacity="0"/></radialGradient><ellipse cx="280" cy="270" rx="10" ry="8" fill="url(#g28384682)"/><g fill="#8a4c9c"><circle cx="252.3" cy="257.3" r="1"/><circle cx="295.7" cy="263.4" r="0.8"/><circle cx="249.5" cy="245.9" r="0.7"/><circle cx="239.8" cy="278.3" r="0.6"/><circle cx="264.9" cy="245.1" r="0.7"/><circle cx="225.5" cy="246" r="0.8"/><circle cx="258.1" cy="281.2" r="1"/><circle cx="221.8" cy="230" r="0.7"/><circle cx="275.7" cy="246.2" r="0.9"/><circle cx="292.4" cy="274.8" r="0.7"/><circle cx="229.2" cy="238.6" r="0.7"/><circle cx="263" cy="265.7" r="0.9"/><circle cx="294.9" cy="277.4" r="0.8"/><circle cx="258.4" cy="258.1" r="0.6"/><circle cx="245.9" cy="255.9" r="0.5"/><circle cx="274.8" cy="266.4" r="0.9"/><circle cx="222.1" cy="257.9" r="0.7"/><circle cx="220" cy="243.1" r="0.7"/><circle cx="235.3" cy="279.7" r="0.8"/><circle cx="246.7" cy="281.8" r="0.7"/><circle cx="265.8" cy="224.8" r="1"/><circle cx="244.2" cy="231" r="0.7"/><circle cx="294.7" cy="268.6" r="0.6"/><circle cx="266.9" cy="244.3" r="0.6"/><circle cx="288.4" cy="223.6" r="0.5"/><circle cx="255.9" cy="229.6" r="0.9"/><circle cx="251.1" cy="273" r="0.7"/><circle cx="281.4" cy="268.9" r="0.7"/><circle cx="282.3" cy="275" r="0.9"/><circle cx="268.9" cy="271.3" r="0.6"/><circle cx="254.7" cy="272.9" r="0.7"/><circle cx="248.1" cy="280" r="1"/><circle cx="254.6" cy="237.9" r="0.9"/><circle cx="290.9" cy="273.5" r="0.6"/><circle cx="269.4" cy="221.8" r="0.7"/><circle cx="223.6" cy="271" r="0.9"/><circle cx="297.6" cy="249.1" r="0.9"/><circle cx="223" cy="245.5" r="0.8"/><circle cx="274.4" cy="237.5" r="0.8"/><circle cx="288.8" cy="250.3" r="0.9"/><circle cx="241.2" cy="224.5" r="0.9"/><circle cx="287.4" cy="248.3" r="0.9"/><circle cx="224.4" cy="225.6" r="0.8"/><circle cx="285" cy="243.9" r="0.7"/><circle cx="280.3" cy="254.5" r="0.8"/><circle cx="266.8" cy="224.5" r="0.7"/><circle cx="249.9" cy="226" r="0.5"/><circle cx="263.6" cy="285.5" r="0.9"/><circle cx="225.6" cy="254.5" r="0.7"/><circle cx="261.9" cy="238" r="0.8"/><circle cx="288.5" cy="245.7" r="1"/><circle cx="214.3" cy="256.4" r="0.9"/><circle cx="285.4" cy="274.7" r="0.8"/><circle cx="218.1" cy="267.2" r="0.6"/><circle cx="288.6" cy="249" r="0.6"/><circle cx="255" cy="247.9" r="0.9"/><circle cx="294" cy="255.9" r="0.8"/><circle cx="248.1" cy="266.7" r="0.6"/><circle cx="267.1" cy="250.1" r="0.7"/><circle cx="222" cy="242.7" r="0.9"/><circle cx="250.5" cy="221.6" r="0.8"/><circle cx="285.1" cy="270.3" r="0.5"/><circle cx="250.9" cy="251.3" r="0.9"/><circle cx="262.5" cy="254.4" r="0.5"/><circle cx="246" cy="273.9" r="0.8"/><circle cx="271.3" cy="250.5" r="1"/><circle cx="264.3" cy="277.1" r="0.7"/><circle cx="282.6" cy="253.6" r="0.6"/><circle cx="281.5" cy="228.1" r="0.9"/><circle cx="241.8" cy="252.7" r="0.8"/><circle cx="297.1" cy="281.1" r="0.5"/><circle cx="270.4" cy="256.5" r="0.6"/><circle cx="241.8" cy="266.2" r="0.6"/><circle cx="246.8" cy="228.6" r="0.6"/><circle cx="265.6" cy="256.2" r="0.9"/><circle cx="279.7" cy="237.8" r="0.5"/><circle cx="233.8" cy="250.3" r="0.7"/><circle cx="236.9" cy="268.1" r="0.9"/><circle cx="293.7" cy="263.6" r="0.5"/><circle cx="225.9" cy="247.8" r="0.6"/><circle cx="259.9" cy="249.3" r="0.8"/><circle cx="286.7" cy="281.6" r="0.5"/><circle cx="280.4" cy="242.6" r="0.6"/><circle cx="262.6" cy="258.2" r="0.5"/><circle cx="224.4" cy="241.8" r="0.8"/><circle cx="295.7" cy="262.4" r="0.6"/><circle cx="235.2" cy="269.1" r="0.6"/><circle cx="271.4" cy="261.3" r="0.9"/><circle cx="297.4" cy="239.7" r="0.6"/><circle cx="272.1" cy="263.9" r="0.7"/><circle cx="281.6" cy="237.5" r="1"/><circle cx="218.9" cy="225.7" r="0.9"/><circle cx="287.8" cy="241.1" r="0.6"/><circle cx="219.6" cy="227.3" r="0.9"/><circle cx="242.8" cy="283.1" r="0.6"/><circle cx="250.4" cy="251.8" r="0.7"/><circle cx="229.4" cy="285" r="0.8"/><circle cx="256.2" cy="271.8" r="0.6"/><circle cx="287.9" cy="261.3" r="0.5"/><circle cx="289.1" cy="225.9" r="0.6"/><circle cx="270.2" cy="239.7" r="0.9"/><circle cx="259.7" cy="246.8" r="0.7"/><circle cx="274.9" cy="224.1" r="0.8"/><circle cx="264.8" cy="276.9" r="0.5"/><circle cx="223.6" cy="275.8" r="0.7"/><circle cx="215.1" cy="230.6" r="0.7"/><circle cx="219.8" cy="269.2" r="0.6"/><circle cx="265.2" cy="236.7" r="0.7"/><circle cx="216.4" cy="284.7" r="0.7"/><circle cx="268.5" cy="260.4" r="0.6"/><circle cx="220" cy="274.6" r="0.9"/><circle cx="223.5" cy="284.5" r="0.9"/><circle cx="285.1" cy="263.5" r="1"/><circle cx="240.9" cy="246.8" r="0.7"/><circle cx="286.2" cy="252.2" r="1"/><circle cx="231.7" cy="262.7" r="0.5"/><circle cx="229.3" cy="224.9" r="0.7"/><circle cx="271.1" cy="277.3" r="1"/><circle cx="292" cy="240.6" r="0.7"/><circle cx="243.9" cy="284" r="0.7"/><circle cx="224.5" cy="243.1" r="0.8"/><circle cx="227.4" cy="255.3" r="0.7"/><circle cx="250.3" cy="223.7" r="0.5"/><circle cx="291.1" cy="251.7" r="0.6"/><circle cx="231" cy="273.1" r="0.6"/><circle cx="279.6" cy="240.9" r="0.6"/><circle cx="284.6" cy="274.5" r="0.8"/><circle cx="295.4" cy="247.5" r="0.7"/><circle cx="269.8" cy="227.5" r="0.6"/><circle cx="294.5" cy="281" r="0.9"/><circle cx="291.9" cy="275.1" r="0.6"/><circle cx="295.3" cy="273.7" r="1"/><circle cx="219.1" cy="257.9" r="0.7"/><circle cx="258.3" cy="248" r="0.8"/><circle cx="236.5" cy="255.7" r="0.5"/><circle cx="285.1" cy="285.1" r="0.9"/><circle cx="228.4" cy="250.4" r="0.7"/><circle cx="237" cy="226.5" r="0.5"/><circle cx="249.6" cy="244.8" r="1"/><circle cx="232.9" cy="285" r="0.8"/><circle cx="225.6" cy="229.7" r="0.8"/><circle cx="239.6" cy="256.7" r="1"/><circle cx="265.7" cy="277.2" r="0.8"/><circle cx="284.2" cy="275.1" r="1"/><circle cx="214.6" cy="263.8" r="0.6"/><circle cx="281.4" cy="271.8" r="0.7"/><circle cx="272.3" cy="235" r="0.9"/><circle cx="283.2" cy="221.2" r="0.8"/></g><g fill="#d8a2d4"><circle cx="230.1" cy="273.1" r="0.7"/><circle cx="239.7" cy="226.9" r="0.9"/><circle cx="240.7" cy="235.9" r="0.6"/><circle cx="235.1" cy="233.3" r="0.9"/><circle cx="281.2" cy="280.3" r="0.7"/><circle cx="294" cy="223" r="0.7"/><circle cx="263.4" cy="260.5" r="0.5"/><circle cx="262.3" cy="241" r="0.9"/><circle cx="298.4" cy="231.3" r="0.9"/><circle cx="245.9" cy="257.9" r="0.9"/><circle cx="250.3" cy="223.3" r="0.8"/><circle cx="226.6" cy="254.5" r="0.9"/><circle cx="268.1" cy="254.9" r="0.9"/><circle cx="224.3" cy="227" r="0.6"/><circle cx="236.8" cy="251.7" r="0.6"/><circle cx="267.8" cy="243.3" r="1"/><circle cx="263.1" cy="229.7" r="0.8"/><circle cx="265.2" cy="227.1" r="0.9"/><circle cx="218.2" cy="238.7" r="1"/><circle cx="216.3" cy="271.1" r="0.8"/><circle cx="235" cy="244.4" r="0.7"/><circle cx="232.7" cy="224.7" r="0.6"/><circle cx="290.2" cy="226.5" r="0.8"/><circle cx="234.8" cy="235.3" r="0.9"/><circle cx="276.8" cy="285.2" r="0.7"/><circle cx="283.6" cy="226.3" r="0.6"/><circle cx="226.9" cy="261.7" r="1"/><circle cx="225.8" cy="234.3" r="0.6"/><circle cx="269.9" cy="260.4" r="0.5"/><circle cx="262.1" cy="222.7" r="0.8"/><circle cx="262.8" cy="266.2" r="0.7"/><circle cx="278.2" cy="244.5" r="0.6"/><circle cx="227.4" cy="247.7" r="0.5"/><circle cx="248.8" cy="261.4" r="0.8"/><circle cx="241.3" cy="272.2" r="0.9"/><circle cx="217.9" cy="223" r="0.9"/><circle cx="297.7" cy="223.2" r="0.7"/><circle cx="219.1" cy="225.1" r="0.9"/><circle cx="277" cy="255.5" r="0.8"/><circle cx="280.1" cy="270.6" r="0.7"/><circle cx="214.3" cy="247.6" r="0.8"/><circle cx="244.8" cy="242.8" r="1"/><circle cx="292.3" cy="232.5" r="0.9"/><circle cx="254.7" cy="246.9" r="0.8"/><circle cx="235.7" cy="277.9" r="0.8"/><circle cx="217.5" cy="230.8" r="0.8"/><circle cx="254.5" cy="266" r="0.8"/><circle cx="270.4" cy="230.5" r="0.6"/><circle cx="294.9" cy="277.3" r="0.6"/><circle cx="267.1" cy="261.2" r="0.7"/><circle cx="233.4" cy="265.1" r="0.6"/><circle cx="223.6" cy="250.3" r="0.9"/><circle cx="287.7" cy="224.5" r="0.6"/><circle cx="298.2" cy="228.8" r="0.7"/><circle cx="214.3" cy="242.8" r="0.6"/><circle cx="282" cy="274.6" r="0.9"/><circle cx="223.2" cy="285" r="0.7"/><circle cx="288.7" cy="271.4" r="0.8"/><circle cx="291.2" cy="224.6" r="0.8"/><circle cx="256.8" cy="257.8" r="0.6"/><circle cx="274.3" cy="237.2" r="0.9"/><circle cx="230.6" cy="239.1" r="0.8"/><circle cx="259.1" cy="241.5" r="1"/><circle cx="214.7" cy="225.5" r="0.6"/><circle cx="270.6" cy="231.1" r="0.5"/><circle cx="270.8" cy="260.2" r="1"/><circle cx="250.7" cy="235.9" r="0.8"/><circle cx="269.6" cy="272.2" r="1"/><circle cx="295.2" cy="266.1" r="0.9"/><circle cx="257.2" cy="241" r="0.7"/><circle cx="247" cy="240.4" r="0.6"/><circle cx="235.9" cy="244.8" r="0.7"/><circle cx="242.3" cy="228.6" r="0.7"/><circle cx="228.6" cy="226.4" r="0.8"/><circle cx="271.1" cy="281.1" r="0.7"/><circle cx="283.7" cy="263.2" r="0.7"/><circle cx="262.6" cy="275.6" r="0.7"/><circle cx="250.7" cy="261" r="0.8"/><circle cx="214.1" cy="225.4" r="0.9"/><circle cx="252.9" cy="260.1" r="0.9"/><circle cx="217.9" cy="247" r="0.9"/><circle cx="228.1" cy="284" r="0.7"/><circle cx="243.4" cy="257.2" r="0.7"/><circle cx="237.7" cy="249.7" r="0.5"/><circle cx="295" cy="263.6" r="0.7"/><circle cx="269" cy="269.5" r="0.8"/><circle cx="280.5" cy="277.6" r="0.8"/><circle cx="233.6" cy="261.1" r="0.6"/><circle cx="295.5" cy="271.2" r="0.7"/><circle cx="275.6" cy="241.7" r="0.9"/><circle cx="260.6" cy="221.1" r="0.7"/><circle cx="248.6" cy="226.6" r="0.8"/><circle cx="242.4" cy="222.4" r="0.9"/><circle cx="245" cy="249.3" r="0.7"/><circle cx="252.5" cy="245.4" r="0.9"/><circle cx="259.7" cy="284.5" r="0.7"/><circle cx="278.1" cy="243.2" r="1"/><circle cx="279.2" cy="241.6" r="0.9"/><circle cx="293.7" cy="222.6" r="0.7"/><circle cx="228.9" cy="238.7" r="0.8"/><circle cx="238.1" cy="240.2" r="0.7"/><circle cx="246.4" cy="274.4" r="0.6"/><circle cx="297" cy="264.4" r="0.8"/><circle cx="238.3" cy="271.2" r="0.8"/><circle cx="220.3" cy="260.4" r="0.7"/><circle cx="292.7" cy="265.2" r="0.9"/><circle cx="289.4" cy="269.5" r="0.5"/><circle cx="229.5" cy="284.6" r="0.6"/><circle cx="284.2" cy="280" r="0.6"/><circle cx="273.5" cy="259.7" r="0.8"/><circle cx="239.9" cy="252.1" r="0.6"/><circle cx="234.5" cy="251.3" r="0.7"/><circle cx="261.8" cy="239.1" r="0.9"/><circle cx="230.7" cy="255.5" r="0.8"/><circle cx="267.1" cy="251.8" r="0.8"/><circle cx="279.7" cy="249.3" r="0.7"/><circle cx="217.8" cy="246.1" r="0.7"/><circle cx="239" cy="280.1" r="0.9"/><circle cx="238.6" cy="222.1" r="0.8"/><circle cx="216.5" cy="252.1" r="0.5"/><circle cx="259.4" cy="231.5" r="0.7"/><circle cx="289.9" cy="270.2" r="0.6"/><circle cx="220.5" cy="249.6" r="0.6"/><circle cx="271.6" cy="278.2" r="1"/><circle cx="219.2" cy="268.3" r="0.7"/><circle cx="252.2" cy="265.1" r="0.8"/><circle cx="274.7" cy="255.2" r="0.5"/><circle cx="222.5" cy="226.9" r="1"/><circle cx="239" cy="253.6" r="0.7"/><circle cx="214.2" cy="280.4" r="0.9"/><circle cx="251.4" cy="273.4" r="0.6"/><circle cx="283.8" cy="238.2" r="0.8"/><circle cx="226.3" cy="257.9" r="0.5"/><circle cx="263.5" cy="262.9" r="0.8"/><circle cx="233.6" cy="261" r="0.6"/><circle cx="287.2" cy="267.7" r="0.6"/><circle cx="271.4" cy="257.1" r="0.8"/><circle cx="240.4" cy="227.9" r="1"/><circle cx="236.8" cy="269.9" r="0.6"/><circle cx="276.2" cy="267.6" r="0.6"/><circle cx="264.1" cy="267.6" r="0.8"/><circle cx="286.4" cy="244.9" r="0.6"/><circle cx="255.3" cy="239.7" r="0.6"/><circle cx="234.1" cy="284.3" r="0.8"/><circle cx="256.1" cy="285.3" r="0.8"/></g><g fill="#e2b2dc"><circle cx="219.4" cy="223.3" r="0.9"/><circle cx="252.7" cy="239" r="1"/><circle cx="222.5" cy="285.1" r="0.6"/><circle cx="288.7" cy="260.1" r="0.7"/><circle cx="234.2" cy="266.7" r="0.6"/><circle cx="266" cy="239.2" r="1"/><circle cx="263.5" cy="230.1" r="0.5"/><circle cx="295.5" cy="222.4" r="0.8"/><circle cx="245.2" cy="230.3" r="0.8"/><circle cx="274.2" cy="282.6" r="0.6"/><circle cx="252.3" cy="225.8" r="0.5"/><circle cx="232.1" cy="279.3" r="1"/><circle cx="236.2" cy="267.5" r="0.5"/><circle cx="266.5" cy="227.8" r="0.9"/><circle cx="286.1" cy="260.6" r="0.9"/><circle cx="262.3" cy="233.4" r="0.8"/><circle cx="291.2" cy="269.2" r="0.9"/><circle cx="278.5" cy="284.5" r="0.5"/><circle cx="251.6" cy="253.7" r="0.9"/><circle cx="240.5" cy="255.4" r="0.7"/><circle cx="218.5" cy="241.4" r="0.7"/><circle cx="260.6" cy="261.9" r="0.7"/><circle cx="220.4" cy="234.8" r="0.8"/><circle cx="241.3" cy="249.6" r="0.8"/><circle cx="258.8" cy="238.8" r="0.9"/><circle cx="233.9" cy="267.5" r="0.8"/><circle cx="274.4" cy="260.3" r="0.6"/><circle cx="217.2" cy="247.8" r="0.7"/><circle cx="240.3" cy="225.9" r="0.7"/><circle cx="261.1" cy="226.6" r="0.6"/><circle cx="261.5" cy="257.3" r="0.6"/><circle cx="216.7" cy="232.7" r="1"/><circle cx="275.1" cy="272" r="0.7"/><circle cx="260.2" cy="263.6" r="1"/><circle cx="288.4" cy="234.1" r="0.9"/><circle cx="242.4" cy="283" r="0.9"/><circle cx="224.2" cy="265.8" r="0.6"/><circle cx="264.8" cy="239.4" r="0.6"/><circle cx="218" cy="238.9" r="1"/><circle cx="215.7" cy="241.9" r="0.7"/><circle cx="232.3" cy="223.6" r="0.5"/><circle cx="224.1" cy="252.9" r="0.7"/><circle cx="258.1" cy="269.1" r="1"/><circle cx="273.4" cy="256.8" r="0.9"/><circle cx="291.1" cy="280.1" r="0.6"/><circle cx="253.7" cy="242.1" r="0.6"/><circle cx="237.1" cy="253.1" r="0.7"/><circle cx="227.5" cy="261.3" r="0.7"/><circle cx="291.7" cy="268.8" r="0.9"/><circle cx="276.7" cy="238.4" r="0.6"/><circle cx="260.2" cy="272.9" r="0.6"/><circle cx="226.2" cy="261.5" r="0.6"/><circle cx="279" cy="238.2" r="0.6"/><circle cx="225.9" cy="242" r="0.9"/><circle cx="280.1" cy="278.5" r="0.9"/><circle cx="217.9" cy="224.5" r="0.7"/><circle cx="281.5" cy="230.8" r="0.7"/><circle cx="231" cy="225.6" r="0.6"/><circle cx="232.7" cy="262.4" r="0.7"/><circle cx="260.4" cy="246.9" r="0.6"/><circle cx="244.5" cy="282.6" r="0.8"/><circle cx="248.4" cy="283.6" r="0.5"/><circle cx="232.1" cy="259.2" r="0.9"/><circle cx="248.1" cy="239.5" r="0.8"/><circle cx="298.7" cy="252.8" r="0.7"/><circle cx="281.9" cy="249.8" r="0.9"/><circle cx="222.9" cy="269.1" r="0.6"/><circle cx="285.8" cy="223.3" r="0.8"/><circle cx="227.8" cy="233.3" r="0.6"/><circle cx="244.8" cy="282.6" r="0.9"/><circle cx="223.4" cy="244.2" r="0.6"/><circle cx="235.4" cy="229.5" r="0.7"/><circle cx="272.7" cy="222.9" r="1"/><circle cx="249.5" cy="264.4" r="0.6"/><circle cx="256.6" cy="281" r="0.8"/><circle cx="296.9" cy="280.4" r="0.8"/><circle cx="293" cy="262.7" r="0.5"/><circle cx="237.1" cy="233.1" r="0.8"/><circle cx="241.8" cy="224.5" r="0.5"/><circle cx="243.2" cy="248.6" r="0.5"/><circle cx="284.9" cy="246.4" r="0.8"/><circle cx="225.6" cy="271.6" r="0.7"/><circle cx="218.1" cy="251" r="0.8"/><circle cx="243.9" cy="270.2" r="0.5"/><circle cx="236.4" cy="252.7" r="0.8"/><circle cx="285.6" cy="266.4" r="0.5"/><circle cx="280" cy="235.3" r="0.5"/><circle cx="281.7" cy="249.8" r="0.9"/><circle cx="238.2" cy="233.4" r="0.9"/><circle cx="220.3" cy="237" r="1"/><circle cx="241.1" cy="228.5" r="0.5"/><circle cx="222.2" cy="221.4" r="0.7"/><circle cx="293.2" cy="248.4" r="0.9"/><circle cx="273.2" cy="280.9" r="0.6"/><circle cx="246.2" cy="260.4" r="0.9"/><circle cx="281.9" cy="232.5" r="0.7"/><circle cx="272" cy="248.3" r="0.9"/><circle cx="296" cy="224.8" r="0.5"/><circle cx="254.3" cy="227.5" r="0.8"/><circle cx="224.8" cy="260.1" r="0.9"/><circle cx="288.9" cy="256.9" r="0.8"/><circle cx="225.1" cy="260.3" r="0.8"/><circle cx="260.7" cy="241.6" r="0.6"/><circle cx="222.1" cy="232" r="0.9"/><circle cx="248.4" cy="263" r="0.7"/><circle cx="243.9" cy="243.8" r="0.9"/><circle cx="243.9" cy="251.7" r="0.6"/><circle cx="221.8" cy="247.6" r="0.6"/><circle cx="214.1" cy="256.5" r="0.5"/><circle cx="291.9" cy="259.9" r="1"/><circle cx="214.6" cy="235.6" r="0.9"/><circle cx="229.4" cy="245.9" r="0.8"/><circle cx="230.8" cy="280.2" r="0.7"/><circle cx="222.7" cy="283.7" r="1"/><circle cx="279" cy="254" r="0.6"/><circle cx="291.3" cy="264.8" r="0.5"/><circle cx="265" cy="232" r="0.9"/><circle cx="253.2" cy="279.1" r="0.7"/><circle cx="292.4" cy="264.9" r="0.6"/><circle cx="274.9" cy="275.5" r="0.6"/><circle cx="227.8" cy="224.2" r="0.8"/><circle cx="294.3" cy="266" r="0.6"/><circle cx="238.5" cy="248.9" r="0.9"/><circle cx="248.9" cy="227" r="0.9"/><circle cx="262.8" cy="237" r="0.8"/><circle cx="257.9" cy="242.9" r="0.6"/><circle cx="285.5" cy="222.3" r="0.6"/></g><g fill="#9c58a6"><circle cx="251.3" cy="275.6" r="0.8"/><circle cx="231.8" cy="280" r="0.7"/><circle cx="262" cy="233.9" r="0.8"/><circle cx="295.7" cy="270.1" r="0.6"/><circle cx="284.3" cy="246" r="0.5"/><circle cx="295.1" cy="228.3" r="0.9"/><circle cx="263.4" cy="241.5" r="0.6"/><circle cx="230.1" cy="270.8" r="0.6"/><circle cx="230.9" cy="251.8" r="0.6"/><circle cx="293" cy="267.8" r="0.6"/><circle cx="241.7" cy="284.7" r="0.5"/><circle cx="260.6" cy="270.8" r="0.7"/><circle cx="258.5" cy="228" r="0.7"/><circle cx="289.2" cy="229.7" r="0.6"/><circle cx="250.8" cy="282" r="0.8"/><circle cx="230.1" cy="228.4" r="0.6"/><circle cx="253.6" cy="254.4" r="0.7"/><circle cx="262.2" cy="255.5" r="0.7"/><circle cx="285.7" cy="227.5" r="0.7"/><circle cx="265.1" cy="228.5" r="0.8"/><circle cx="250.2" cy="244.9" r="0.5"/><circle cx="250.6" cy="257.8" r="0.9"/><circle cx="238" cy="230.3" r="0.7"/><circle cx="261.7" cy="232.4" r="0.9"/><circle cx="219.4" cy="256.4" r="0.9"/><circle cx="243.7" cy="273.3" r="0.7"/><circle cx="274" cy="280.3" r="0.7"/><circle cx="281.9" cy="245.9" r="0.8"/><circle cx="272.8" cy="226.4" r="0.9"/><circle cx="220.3" cy="230.1" r="0.8"/><circle cx="294" cy="257.5" r="0.9"/><circle cx="278" cy="275.9" r="1"/><circle cx="228.7" cy="254.7" r="0.6"/><circle cx="289.3" cy="251" r="1"/><circle cx="261.9" cy="279.7" r="0.8"/><circle cx="294.5" cy="221" r="0.6"/><circle cx="231.1" cy="262" r="0.6"/><circle cx="296.8" cy="279" r="0.6"/><circle cx="253.2" cy="225.9" r="1"/><circle cx="265.5" cy="260.4" r="0.9"/><circle cx="235.6" cy="231.4" r="0.8"/><circle cx="255.5" cy="270.3" r="1"/><circle cx="298.1" cy="265" r="0.9"/><circle cx="257.4" cy="257.8" r="0.8"/><circle cx="227" cy="281.7" r="0.7"/><circle cx="269.9" cy="225.3" r="0.9"/><circle cx="242.9" cy="279.2" r="0.5"/><circle cx="288.9" cy="265.8" r="0.9"/><circle cx="260.7" cy="257.2" r="0.6"/><circle cx="298.2" cy="249.7" r="0.9"/><circle cx="240.3" cy="254.3" r="0.5"/><circle cx="284.2" cy="272.7" r="0.8"/><circle cx="288.3" cy="225.7" r="0.7"/><circle cx="294.9" cy="235.2" r="0.6"/><circle cx="231.7" cy="234.6" r="0.9"/><circle cx="255.7" cy="228.6" r="0.6"/><circle cx="222.8" cy="263.6" r="0.7"/><circle cx="245.7" cy="267.9" r="0.8"/><circle cx="279.7" cy="228.8" r="0.7"/><circle cx="223.2" cy="247.8" r="0.8"/><circle cx="239.5" cy="253.9" r="0.6"/><circle cx="218.6" cy="235.1" r="0.7"/><circle cx="216.4" cy="228.1" r="0.7"/><circle cx="295.6" cy="266" r="0.9"/><circle cx="240.7" cy="253.2" r="0.8"/><circle cx="241.8" cy="241.6" r="0.9"/><circle cx="268.1" cy="222.4" r="1"/><circle cx="283.8" cy="252.1" r="0.7"/><circle cx="223.6" cy="277.2" r="0.5"/><circle cx="280.4" cy="235.2" r="0.6"/><circle cx="295.4" cy="233.7" r="0.7"/><circle cx="256.3" cy="233.8" r="0.9"/><circle cx="265.9" cy="260.7" r="1"/><circle cx="284.3" cy="265.6" r="0.8"/><circle cx="243.7" cy="235.2" r="0.7"/><circle cx="241.9" cy="268.1" r="0.8"/><circle cx="261.6" cy="282.2" r="0.5"/><circle cx="288.8" cy="268.1" r="1"/><circle cx="292.2" cy="230.5" r="0.9"/><circle cx="251.5" cy="273.1" r="0.6"/><circle cx="281.7" cy="253.3" r="0.8"/><circle cx="248.2" cy="266.5" r="0.7"/><circle cx="253.2" cy="226.8" r="0.7"/><circle cx="281.9" cy="232.4" r="0.9"/><circle cx="235.2" cy="233.9" r="0.8"/><circle cx="249.1" cy="247.4" r="0.6"/><circle cx="219.1" cy="284.2" r="1"/><circle cx="286.2" cy="252.5" r="0.8"/><circle cx="269.5" cy="264.3" r="0.7"/><circle cx="263" cy="237.3" r="0.9"/><circle cx="284.2" cy="245.6" r="0.6"/><circle cx="217.3" cy="239.8" r="0.7"/><circle cx="218.8" cy="223.2" r="0.9"/><circle cx="269.5" cy="223.3" r="0.8"/><circle cx="219.6" cy="233.1" r="0.6"/><circle cx="214.6" cy="247.6" r="0.8"/><circle cx="267.1" cy="250.1" r="0.7"/><circle cx="266.1" cy="279.1" r="0.6"/><circle cx="293.6" cy="229.6" r="0.7"/><circle cx="290.9" cy="223.6" r="0.6"/><circle cx="241.3" cy="260.3" r="0.6"/><circle cx="271.9" cy="256.5" r="0.9"/><circle cx="259.2" cy="283.3" r="1"/><circle cx="275.7" cy="221.2" r="0.6"/><circle cx="230.8" cy="226" r="0.6"/><circle cx="289.6" cy="226.4" r="0.6"/><circle cx="230.2" cy="228.8" r="0.5"/><circle cx="295" cy="270.1" r="0.8"/><circle cx="262.3" cy="272.1" r="0.9"/><circle cx="293.4" cy="234.5" r="0.6"/><circle cx="270.6" cy="235.5" r="0.7"/><circle cx="229.6" cy="243.1" r="0.7"/><circle cx="230.9" cy="245.5" r="0.7"/><circle cx="252.3" cy="244" r="0.7"/><circle cx="271.7" cy="234.2" r="0.9"/><circle cx="220" cy="236.9" r="0.9"/><circle cx="271.1" cy="250.9" r="0.8"/><circle cx="293.2" cy="229" r="0.7"/><circle cx="240.5" cy="222.3" r="0.5"/><circle cx="276.8" cy="229.8" r="0.6"/><circle cx="286.4" cy="233.9" r="0.7"/><circle cx="266" cy="244" r="0.7"/><circle cx="286" cy="256.6" r="0.5"/><circle cx="239.9" cy="246.6" r="0.6"/><circle cx="242.8" cy="284.3" r="0.6"/><circle cx="225.3" cy="241.1" r="0.7"/><circle cx="251.1" cy="251" r="0.7"/><circle cx="297.9" cy="278.6" r="1"/><circle cx="286.6" cy="253.1" r="0.7"/><circle cx="272.3" cy="240" r="0.5"/><circle cx="218.3" cy="244.9" r="1"/><circle cx="253.9" cy="243.4" r="0.9"/><circle cx="254.7" cy="234.5" r="0.5"/><circle cx="294.2" cy="228.9" r="0.8"/><circle cx="225.6" cy="254" r="0.8"/><circle cx="261.3" cy="247.5" r="1"/><circle cx="289.5" cy="243.4" r="1"/><circle cx="240.3" cy="228.3" r="0.5"/><circle cx="230.2" cy="264.5" r="0.9"/><circle cx="225.5" cy="273.2" r="0.6"/><circle cx="265.2" cy="262.1" r="0.8"/><circle cx="228.4" cy="254.5" r="1"/><circle cx="294.5" cy="269.1" r="0.5"/><circle cx="288" cy="279.8" r="1"/></g><g fill="#a866b0"><circle cx="223.1" cy="239.9" r="0.5"/><circle cx="253.4" cy="252.5" r="0.8"/><circle cx="248.8" cy="237.1" r="0.5"/><circle cx="225.6" cy="225.7" r="0.7"/><circle cx="221.1" cy="269.6" r="0.5"/><circle cx="269.9" cy="249.6" r="0.9"/><circle cx="267.7" cy="273.1" r="0.9"/><circle cx="251.8" cy="261.8" r="0.8"/><circle cx="217" cy="231.1" r="0.5"/><circle cx="266.2" cy="255.9" r="0.9"/><circle cx="290.5" cy="241.5" r="0.7"/><circle cx="223" cy="223.4" r="0.8"/><circle cx="285.5" cy="232.7" r="0.7"/><circle cx="288.5" cy="266" r="0.9"/><circle cx="220.2" cy="279.7" r="0.7"/><circle cx="217.8" cy="227.4" r="0.9"/><circle cx="236.2" cy="258.7" r="0.7"/><circle cx="230.1" cy="239.1" r="0.6"/><circle cx="217.2" cy="235.4" r="0.6"/><circle cx="285" cy="270.8" r="0.7"/><circle cx="245.3" cy="263.4" r="1"/><circle cx="244.7" cy="221.7" r="0.6"/><circle cx="279.4" cy="227" r="0.9"/><circle cx="269.7" cy="236.4" r="0.5"/><circle cx="259.3" cy="230.8" r="0.9"/><circle cx="280.9" cy="248" r="1"/><circle cx="222.6" cy="261.3" r="0.6"/><circle cx="248.1" cy="275.2" r="0.8"/><circle cx="266.8" cy="268.1" r="0.8"/><circle cx="256.4" cy="230.2" r="0.9"/><circle cx="264.9" cy="228.9" r="0.9"/><circle cx="234.5" cy="277.6" r="1"/><circle cx="251.3" cy="250.2" r="0.8"/><circle cx="239.9" cy="274" r="1"/><circle cx="281" cy="245.1" r="0.8"/><circle cx="297.7" cy="233.3" r="0.6"/><circle cx="233.9" cy="249.5" r="0.9"/><circle cx="236" cy="256.3" r="0.9"/><circle cx="264.6" cy="267.3" r="0.8"/><circle cx="220.1" cy="279.8" r="0.8"/><circle cx="240.7" cy="251.3" r="0.8"/><circle cx="233.5" cy="237.4" r="0.8"/><circle cx="280.2" cy="235" r="0.7"/><circle cx="232.8" cy="281" r="0.6"/><circle cx="240.5" cy="267.4" r="0.8"/><circle cx="245.1" cy="264.3" r="0.7"/><circle cx="235.4" cy="262.1" r="0.7"/><circle cx="233.6" cy="233" r="0.5"/><circle cx="236.7" cy="238.6" r="0.6"/><circle cx="228.5" cy="225.4" r="0.7"/><circle cx="247.2" cy="261" r="0.9"/><circle cx="266.2" cy="274.6" r="0.6"/><circle cx="239.8" cy="234.3" r="0.7"/><circle cx="276.5" cy="241.3" r="0.9"/><circle cx="277.8" cy="279.1" r="0.6"/><circle cx="285.9" cy="261" r="1"/><circle cx="224.9" cy="228.5" r="1"/><circle cx="252.7" cy="253.8" r="1"/><circle cx="238.8" cy="266" r="0.8"/><circle cx="245.3" cy="230.3" r="0.7"/><circle cx="265.9" cy="277" r="1"/><circle cx="227.1" cy="238.8" r="0.7"/><circle cx="217.8" cy="280.7" r="0.9"/><circle cx="255.5" cy="249.9" r="1"/><circle cx="293.9" cy="230.9" r="0.7"/><circle cx="235.7" cy="235.2" r="0.6"/><circle cx="223.2" cy="240.3" r="0.7"/><circle cx="263.6" cy="255.1" r="0.7"/><circle cx="292.9" cy="247.8" r="0.6"/><circle cx="272" cy="253.6" r="0.7"/><circle cx="245.4" cy="244.1" r="1"/><circle cx="256.3" cy="245.6" r="0.5"/><circle cx="227.5" cy="252.9" r="0.6"/><circle cx="226" cy="267.3" r="1"/><circle cx="220.5" cy="241" r="0.9"/><circle cx="296.8" cy="222.6" r="0.9"/><circle cx="249.3" cy="256" r="0.7"/><circle cx="233.1" cy="267.1" r="0.5"/><circle cx="290.4" cy="237.3" r="0.8"/><circle cx="215.4" cy="225.7" r="0.7"/><circle cx="287.7" cy="233.4" r="0.5"/><circle cx="298.2" cy="233.7" r="1"/><circle cx="235.2" cy="232.5" r="0.6"/><circle cx="231.9" cy="266.6" r="0.8"/><circle cx="265.6" cy="285" r="0.6"/><circle cx="268.8" cy="280.7" r="0.9"/><circle cx="291.5" cy="264.9" r="0.6"/><circle cx="239.4" cy="222" r="0.7"/><circle cx="256.7" cy="251.4" r="0.8"/><circle cx="277.1" cy="250.5" r="0.7"/><circle cx="297.8" cy="279.1" r="0.8"/><circle cx="282.8" cy="285.1" r="1"/><circle cx="222.6" cy="262.3" r="0.6"/><circle cx="276.7" cy="278.4" r="0.8"/><circle cx="225" cy="245.9" r="0.6"/><circle cx="278.5" cy="267.8" r="0.5"/><circle cx="225.8" cy="243.2" r="1"/><circle cx="238.3" cy="233.4" r="0.6"/><circle cx="271.3" cy="258.4" r="0.9"/><circle cx="221.6" cy="271.4" r="0.8"/><circle cx="236.2" cy="244.7" r="0.8"/><circle cx="268.3" cy="251.4" r="0.8"/><circle cx="226.9" cy="271.7" r="1"/><circle cx="265" cy="270.5" r="0.7"/><circle cx="280.1" cy="228.1" r="0.5"/><circle cx="234.2" cy="275.7" r="0.8"/><circle cx="246.7" cy="262.6" r="0.6"/><circle cx="287" cy="283.4" r="0.9"/><circle cx="268.9" cy="264.2" r="0.9"/><circle cx="256.8" cy="282.6" r="0.9"/><circle cx="240.4" cy="229.9" r="0.8"/><circle cx="221.9" cy="261.3" r="0.5"/><circle cx="222.2" cy="246" r="0.6"/><circle cx="254.2" cy="245.3" r="1"/><circle cx="293.6" cy="281.4" r="1"/><circle cx="278.5" cy="245.5" r="0.9"/><circle cx="266.9" cy="284.8" r="0.8"/><circle cx="297.1" cy="245.9" r="0.5"/><circle cx="264.8" cy="273.5" r="0.7"/><circle cx="250.5" cy="251" r="0.7"/><circle cx="273.5" cy="236.1" r="0.8"/><circle cx="234.2" cy="276.3" r="0.6"/><circle cx="224.2" cy="281.6" r="0.9"/><circle cx="228.4" cy="268" r="1"/><circle cx="225.6" cy="240.7" r="0.6"/><circle cx="271.7" cy="273.4" r="0.7"/><circle cx="240.9" cy="234.1" r="0.7"/><circle cx="222.1" cy="269.6" r="0.6"/><circle cx="275.7" cy="257.4" r="0.6"/><circle cx="253.9" cy="283" r="0.8"/><circle cx="286.9" cy="256.5" r="0.5"/><circle cx="247.2" cy="261.2" r="0.6"/><circle cx="260.5" cy="234" r="1"/><circle cx="271.8" cy="243.1" r="0.8"/><circle cx="243.7" cy="278.6" r="0.7"/><circle cx="247.3" cy="248.4" r="0.6"/></g></g><rect x="217.2" y="224.5" width="10.5" height="5.6" fill="#fbf8fb"/><text class="lb" x="218" y="229" font-size="4.6" fill="#555" textLength="8.9" lengthAdjust="spacingAndGlyphs">200x</text></g><clipPath id="c9"><rect x="297.7" y="223" width="81.3" height="60.8"/></clipPath><g clip-path="url(#c9)"><g filter="url(#bl)"><rect x="297.7" y="223" width="81.3" height="60.8" fill="#dca2d0"/><g fill="#e6b2da" fill-opacity="0.8"><ellipse cx="0" cy="0" rx="2.6" ry="1.8" transform="translate(336.2 263.6) rotate(1)"/><ellipse cx="0" cy="0" rx="2.9" ry="2.4" transform="translate(297.3 224.9) rotate(16)"/><ellipse cx="0" cy="0" rx="2" ry="1.9" transform="translate(350.4 226.4) rotate(47)"/><ellipse cx="0" cy="0" rx="2.2" ry="1.6" transform="translate(369.6 246) rotate(60)"/><ellipse cx="0" cy="0" rx="2.4" ry="1.6" transform="translate(339.3 273.5) rotate(148)"/><ellipse cx="0" cy="0" rx="2" ry="1.8" transform="translate(304.5 256.6) rotate(6)"/><ellipse cx="0" cy="0" rx="2.7" ry="2.2" transform="translate(338.2 260) rotate(66)"/><ellipse cx="0" cy="0" rx="2.4" ry="1.8" transform="translate(362.6 253.5) rotate(123)"/><circle cx="312.8" cy="251.6" r="1.9"/><ellipse cx="0" cy="0" rx="2.8" ry="2.5" transform="translate(312.8 281.1) rotate(34)"/><ellipse cx="0" cy="0" rx="2.2" ry="1.5" transform="translate(351.9 281.6) rotate(87)"/><ellipse cx="0" cy="0" rx="2.2" ry="1.7" transform="translate(376.2 221.5) rotate(36)"/><ellipse cx="0" cy="0" rx="2.9" ry="2.5" transform="translate(297.2 271.2) rotate(30)"/><ellipse cx="0" cy="0" rx="2.1" ry="1.4" transform="translate(315 256.3) rotate(144)"/><circle cx="323.1" cy="229.2" r="2.6"/><ellipse cx="0" cy="0" rx="2.1" ry="1.7" transform="translate(330.9 261) rotate(68)"/><ellipse cx="0" cy="0" rx="2.2" ry="1.5" transform="translate(309.6 267.4) rotate(33)"/><ellipse cx="0" cy="0" rx="2.8" ry="2.3" transform="translate(304.5 275.6) rotate(173)"/><ellipse cx="0" cy="0" rx="2.8" ry="2.4" transform="translate(346.3 259) rotate(82)"/><ellipse cx="0" cy="0" rx="2.9" ry="2.7" transform="translate(306.5 256.1) rotate(45)"/><ellipse cx="0" cy="0" rx="2.3" ry="1.7" transform="translate(346.5 258.4) rotate(63)"/><circle cx="376.2" cy="259.8" r="1.9"/><circle cx="363.4" cy="235.8" r="1.9"/><ellipse cx="0" cy="0" rx="2.5" ry="2.1" transform="translate(350.1 262.3) rotate(172)"/><ellipse cx="0" cy="0" rx="2.3" ry="1.5" transform="translate(367.3 262.7) rotate(88)"/><ellipse cx="0" cy="0" rx="2.4" ry="1.9" transform="translate(329.8 221.5) rotate(25)"/><circle cx="363.6" cy="255.2" r="2.5"/><circle cx="366.7" cy="222.3" r="2"/><ellipse cx="0" cy="0" rx="2.7" ry="2" transform="translate(359.8 274.4) rotate(135)"/><circle cx="332.4" cy="274.1" r="2.6"/><ellipse cx="0" cy="0" rx="2.2" ry="1.9" transform="translate(314.4 245.2) rotate(177)"/><ellipse cx="0" cy="0" rx="2.8" ry="2" transform="translate(352.7 253) rotate(36)"/><circle cx="351.2" cy="263.1" r="2"/><ellipse cx="0" cy="0" rx="2.5" ry="2.1" transform="translate(371.9 254.5) rotate(113)"/><ellipse cx="0" cy="0" rx="2.4" ry="1.7" transform="translate(374.3 275.4) rotate(31)"/><ellipse cx="0" cy="0" rx="3" ry="2.4" transform="translate(370.6 249.3) rotate(170)"/><ellipse cx="0" cy="0" rx="2.1" ry="1.9" transform="translate(380.9 227.9) rotate(159)"/><circle cx="315.2" cy="281.4" r="2.6"/><circle cx="321.1" cy="268.1" r="1.9"/><circle cx="343.5" cy="270" r="3"/><ellipse cx="0" cy="0" rx="3" ry="1.9" transform="translate(306.9 261.4) rotate(83)"/><circle cx="378.2" cy="261.4" r="1.9"/><ellipse cx="0" cy="0" rx="2.3" ry="1.6" transform="translate(311.6 230.8) rotate(11)"/><ellipse cx="0" cy="0" rx="2.1" ry="1.6" transform="translate(300.6 254.3) rotate(2)"/><ellipse cx="0" cy="0" rx="2.5" ry="2.2" transform="translate(377.9 271.4) rotate(86)"/><ellipse cx="0" cy="0" rx="2.3" ry="2" transform="translate(345 256.5) rotate(105)"/></g><g fill="#f0d0e8" fill-opacity="0.8"><circle cx="336.9" cy="262.7" r="2.4"/><ellipse cx="0" cy="0" rx="2.3" ry="1.6" transform="translate(352.1 230.4) rotate(163)"/><circle cx="344.9" cy="233.9" r="2.4"/><ellipse cx="0" cy="0" rx="2.9" ry="2.4" transform="translate(343.3 284.3) rotate(91)"/><ellipse cx="0" cy="0" rx="2.5" ry="2.1" transform="translate(329.9 248.1) rotate(69)"/><ellipse cx="0" cy="0" rx="3" ry="2.4" transform="translate(319.7 251.9) rotate(172)"/><ellipse cx="0" cy="0" rx="2.7" ry="2.1" transform="translate(296.3 238.4) rotate(43)"/><circle cx="338.5" cy="237" r="1.9"/><circle cx="297.7" cy="241.9" r="2.7"/><ellipse cx="0" cy="0" rx="2.8" ry="2.5" transform="translate(350.3 249.8) rotate(93)"/><circle cx="354" cy="266" r="2"/><ellipse cx="0" cy="0" rx="2.5" ry="1.7" transform="translate(346.8 265) rotate(64)"/><ellipse cx="0" cy="0" rx="2.5" ry="2" transform="translate(337.1 224.7) rotate(159)"/><ellipse cx="0" cy="0" rx="2.8" ry="2.1" transform="translate(335.3 260.3) rotate(82)"/><ellipse cx="0" cy="0" rx="2" ry="1.9" transform="translate(375.9 273.8) rotate(150)"/><ellipse cx="0" cy="0" rx="2.2" ry="1.5" transform="translate(326.3 268.6) rotate(155)"/><ellipse cx="0" cy="0" rx="2.5" ry="1.6" transform="translate(359.6 276.7) rotate(145)"/><ellipse cx="0" cy="0" rx="2.9" ry="2.2" transform="translate(342.3 222.4) rotate(89)"/><circle cx="320.7" cy="244.1" r="2.8"/><circle cx="360" cy="275.4" r="2"/><ellipse cx="0" cy="0" rx="3" ry="2.7" transform="translate(348.2 283.6) rotate(170)"/><ellipse cx="0" cy="0" rx="2.8" ry="2.5" transform="translate(324.5 224.8) rotate(177)"/><ellipse cx="0" cy="0" rx="2.5" ry="2.2" transform="translate(321.1 280.8) rotate(2)"/><ellipse cx="0" cy="0" rx="2.5" ry="2.1" transform="translate(380.2 228.7) rotate(65)"/><circle cx="304.3" cy="237.2" r="2.8"/><ellipse cx="0" cy="0" rx="2.3" ry="1.8" transform="translate(307 252.3) rotate(49)"/><ellipse cx="0" cy="0" rx="2.1" ry="1.7" transform="translate(331.6 241.4) rotate(9)"/><circle cx="328.1" cy="252.8" r="2.5"/><circle cx="328.1" cy="255.3" r="2.1"/><ellipse cx="0" cy="0" rx="2.8" ry="1.9" transform="translate(306.4 234.4) rotate(43)"/><ellipse cx="0" cy="0" rx="2.3" ry="1.5" transform="translate(319.6 254.4) rotate(122)"/><ellipse cx="0" cy="0" rx="2.2" ry="1.7" transform="translate(369.8 263.1) rotate(14)"/><circle cx="341.1" cy="232.5" r="2.8"/><circle cx="348.8" cy="257" r="1.8"/><ellipse cx="0" cy="0" rx="2" ry="1.5" transform="translate(352 252.1) rotate(12)"/><ellipse cx="0" cy="0" rx="2.2" ry="1.6" transform="translate(341.2 246.3) rotate(165)"/><ellipse cx="0" cy="0" rx="2.4" ry="1.9" transform="translate(346.1 231.9) rotate(27)"/><circle cx="343.6" cy="235.9" r="2.9"/><ellipse cx="0" cy="0" rx="2" ry="1.4" transform="translate(332.8 276.9) rotate(163)"/><circle cx="301.6" cy="231.6" r="2.3"/><ellipse cx="0" cy="0" rx="2.5" ry="2" transform="translate(326.2 280.4) rotate(143)"/><ellipse cx="0" cy="0" rx="2.2" ry="1.5" transform="translate(362 252) rotate(72)"/><ellipse cx="0" cy="0" rx="2.3" ry="1.5" transform="translate(371.2 270.6) rotate(160)"/><circle cx="302.2" cy="242.9" r="1.8"/><ellipse cx="0" cy="0" rx="2.9" ry="2.6" transform="translate(300.8 229.7) rotate(176)"/><circle cx="356.1" cy="222.4" r="2.2"/><ellipse cx="0" cy="0" rx="2.6" ry="2.3" transform="translate(367.3 233) rotate(60)"/><ellipse cx="0" cy="0" rx="2.3" ry="1.6" transform="translate(309.8 248.3) rotate(154)"/></g><g fill="#d294c8" fill-opacity="0.8"><ellipse cx="0" cy="0" rx="2.3" ry="1.6" transform="translate(376.5 228.3) rotate(56)"/><ellipse cx="0" cy="0" rx="2.6" ry="1.7" transform="translate(298.5 222.7) rotate(36)"/><ellipse cx="0" cy="0" rx="2" ry="1.9" transform="translate(335.3 256.6) rotate(39)"/><circle cx="372" cy="231.5" r="2.1"/><circle cx="360.6" cy="248.1" r="2.5"/><ellipse cx="0" cy="0" rx="2.6" ry="2" transform="translate(343.2 284.5) rotate(28)"/><circle cx="356.3" cy="279.6" r="2.8"/><ellipse cx="0" cy="0" rx="2.4" ry="2.1" transform="translate(375.4 265.7) rotate(22)"/><circle cx="354.2" cy="230.2" r="1.9"/><circle cx="321" cy="254.5" r="2"/><ellipse cx="0" cy="0" rx="2.4" ry="2.2" transform="translate(366.6 235.7) rotate(71)"/><circle cx="333.2" cy="224.4" r="1.9"/><circle cx="330.5" cy="261.7" r="2.1"/><circle cx="378.5" cy="254.9" r="1.9"/><circle cx="334" cy="255.2" r="2.6"/><ellipse cx="0" cy="0" rx="2.9" ry="2.4" transform="translate(356.7 239) rotate(153)"/><ellipse cx="0" cy="0" rx="2.9" ry="1.9" transform="translate(364.4 275.2) rotate(123)"/><ellipse cx="0" cy="0" rx="2.2" ry="1.6" transform="translate(331.8 256.2) rotate(15)"/><ellipse cx="0" cy="0" rx="2.2" ry="1.7" transform="translate(306.2 249.2) rotate(57)"/><ellipse cx="0" cy="0" rx="3" ry="2.4" transform="translate(328.3 276.9) rotate(35)"/><circle cx="349.9" cy="261.1" r="1.9"/><ellipse cx="0" cy="0" rx="2.8" ry="2" transform="translate(348.6 260.9) rotate(60)"/><ellipse cx="0" cy="0" rx="2.2" ry="1.8" transform="translate(350.5 223.8) rotate(150)"/><ellipse cx="0" cy="0" rx="2.7" ry="2.2" transform="translate(316.1 255.1) rotate(119)"/><ellipse cx="0" cy="0" rx="2.3" ry="1.6" transform="translate(368.1 243) rotate(13)"/><circle cx="363.1" cy="246.3" r="3"/><ellipse cx="0" cy="0" rx="2.1" ry="1.5" transform="translate(334.3 255.4) rotate(140)"/><circle cx="341.2" cy="279.7" r="1.9"/><circle cx="367.5" cy="226.5" r="2.5"/><ellipse cx="0" cy="0" rx="2.8" ry="1.9" transform="translate(366.1 228.4) rotate(27)"/><ellipse cx="0" cy="0" rx="2.9" ry="2.3" transform="translate(313.3 282.8) rotate(52)"/><ellipse cx="0" cy="0" rx="2.2" ry="1.9" transform="translate(337.5 247.9) rotate(96)"/><circle cx="375.6" cy="224.7" r="2.2"/><circle cx="371.9" cy="278.3" r="1.9"/><ellipse cx="0" cy="0" rx="2.1" ry="1.4" transform="translate(351.1 234.8) rotate(84)"/><circle cx="334.1" cy="226.9" r="2.6"/><circle cx="349.1" cy="264" r="1.9"/><circle cx="371.6" cy="231.3" r="1.9"/><circle cx="302.4" cy="231.6" r="2.1"/><ellipse cx="0" cy="0" rx="2.3" ry="1.9" transform="translate(298.2 259.9) rotate(173)"/><ellipse cx="0" cy="0" rx="2.3" ry="1.9" transform="translate(306.1 255.5) rotate(16)"/><circle cx="308.6" cy="226.2" r="2.1"/><circle cx="347.5" cy="231.9" r="3"/><circle cx="358.7" cy="235.7" r="1.9"/><circle cx="337.2" cy="275.8" r="1.9"/><ellipse cx="0" cy="0" rx="2.7" ry="1.9" transform="translate(361.6 242.4) rotate(86)"/></g><g fill="#7a4a9a" fill-opacity="0.85"><circle cx="346.4" cy="271.5" r="1.4"/><circle cx="298.4" cy="270.5" r="1.6"/><circle cx="331.4" cy="241.2" r="1.9"/><circle cx="306" cy="270.3" r="1.9"/><circle cx="372.5" cy="275.1" r="1.7"/><circle cx="324.6" cy="278.8" r="1.9"/><circle cx="297.5" cy="247.7" r="1.8"/><circle cx="329" cy="253.3" r="1.9"/><circle cx="304.1" cy="274.4" r="1.4"/><circle cx="320.6" cy="263.9" r="1.6"/><circle cx="337.9" cy="277.1" r="1.3"/><circle cx="354.7" cy="227" r="1.6"/><circle cx="326.5" cy="248" r="1.6"/><circle cx="362.5" cy="237.5" r="1.4"/><circle cx="378" cy="276.9" r="1.6"/><circle cx="350.8" cy="266.4" r="2"/><circle cx="375.1" cy="235.7" r="1.5"/><circle cx="330.6" cy="237.7" r="1.3"/><circle cx="307.6" cy="258.6" r="1.2"/><circle cx="342.9" cy="248.6" r="1.4"/><circle cx="302.4" cy="282.3" r="1.2"/><circle cx="327.2" cy="235.3" r="1.9"/><circle cx="311.7" cy="263.6" r="1.8"/><circle cx="304" cy="262.7" r="1.5"/><circle cx="329.5" cy="223.2" r="1.7"/><circle cx="342.3" cy="262.9" r="1.7"/><circle cx="303.7" cy="224.6" r="1.5"/><circle cx="331" cy="259.2" r="1.3"/><circle cx="338.7" cy="275.6" r="2"/><circle cx="371" cy="258.2" r="1.6"/><circle cx="363.7" cy="235.3" r="1.9"/><circle cx="307.1" cy="266.5" r="1.4"/><circle cx="374.4" cy="285.1" r="1.2"/><circle cx="325.9" cy="222.3" r="1.8"/><circle cx="319.8" cy="258" r="1.3"/><circle cx="337.9" cy="247.7" r="1.3"/><circle cx="336.6" cy="221.8" r="1.4"/><circle cx="367.5" cy="238.9" r="1.9"/><circle cx="376.6" cy="222.9" r="1.5"/><circle cx="338.6" cy="276" r="1.6"/><circle cx="303.5" cy="228.7" r="1.3"/><circle cx="301.2" cy="258.5" r="1.6"/><circle cx="352.7" cy="222.9" r="1.5"/><circle cx="308.9" cy="269.7" r="1.3"/><circle cx="371.5" cy="255.1" r="1.8"/><circle cx="345.7" cy="257" r="1.9"/><circle cx="370.6" cy="234.2" r="1.5"/><circle cx="346.9" cy="231.3" r="1.2"/><circle cx="327.6" cy="278.9" r="1.7"/><circle cx="362.3" cy="276" r="1.9"/><circle cx="303.5" cy="235.6" r="1.2"/><circle cx="340.6" cy="228.6" r="1.3"/><circle cx="364" cy="228.9" r="1.9"/><circle cx="314" cy="273.3" r="1.4"/><circle cx="381" cy="232.6" r="1.2"/><circle cx="360.1" cy="283.3" r="1.5"/><circle cx="329.1" cy="227.9" r="2"/><circle cx="320.7" cy="228.3" r="1.6"/><circle cx="322.2" cy="225.2" r="1.3"/><circle cx="317" cy="268.9" r="1.4"/><circle cx="366.7" cy="271.1" r="1.7"/><circle cx="362.3" cy="268.3" r="1.4"/><circle cx="335.7" cy="284.7" r="1.7"/><circle cx="370.5" cy="262.4" r="1.5"/><circle cx="330.9" cy="237.4" r="1.8"/><circle cx="347.8" cy="270.6" r="1.9"/><circle cx="298.5" cy="283.3" r="1.6"/><circle cx="336.3" cy="256" r="1.3"/><circle cx="380.8" cy="275.6" r="2"/><circle cx="325.3" cy="261.5" r="1.2"/><circle cx="337.3" cy="231.2" r="1.8"/><circle cx="348.9" cy="277.2" r="1.2"/><circle cx="315.9" cy="260.6" r="1.9"/><circle cx="330.2" cy="250.2" r="1.2"/></g><g fill="#a070b4" fill-opacity="0.85"><circle cx="310.2" cy="257.3" r="1.9"/><circle cx="355.1" cy="264" r="1.3"/><circle cx="338.1" cy="265.2" r="1.9"/><circle cx="304.5" cy="282.5" r="1.8"/><circle cx="319.9" cy="242.8" r="2"/><circle cx="296.2" cy="262.4" r="1.8"/><circle cx="299.4" cy="243.7" r="1.4"/><circle cx="315.4" cy="223.8" r="1.7"/><circle cx="326.6" cy="270.8" r="1.9"/><circle cx="301.2" cy="269.7" r="1.3"/><circle cx="313" cy="282.6" r="1.5"/><circle cx="337.9" cy="238.5" r="1.9"/><circle cx="359" cy="233.8" r="1.7"/><circle cx="336.1" cy="260.8" r="1.7"/><circle cx="365.6" cy="273.9" r="1.5"/><circle cx="364.2" cy="230.3" r="1.7"/><circle cx="343.5" cy="231.4" r="1.9"/><circle cx="374.7" cy="268.2" r="1.6"/><circle cx="357.7" cy="247.3" r="1.9"/><circle cx="338.8" cy="247.5" r="1.7"/><circle cx="366.5" cy="235.3" r="1.8"/><circle cx="341" cy="248.8" r="1.8"/><circle cx="329.9" cy="262.9" r="1.7"/><circle cx="308.8" cy="284.6" r="1.6"/><circle cx="362.4" cy="225.7" r="1.7"/><circle cx="326.8" cy="234.1" r="1.9"/><circle cx="358.3" cy="242.7" r="1.9"/><circle cx="305.1" cy="269.5" r="1.9"/><circle cx="366.2" cy="241.1" r="1.4"/><circle cx="348.7" cy="262.2" r="1.6"/><circle cx="367.2" cy="257.1" r="1.3"/><circle cx="370.8" cy="226.4" r="2"/><circle cx="329.1" cy="232.5" r="1.7"/><circle cx="353.7" cy="231" r="2"/><circle cx="321.3" cy="231" r="1.7"/><circle cx="361.2" cy="284.8" r="1.4"/><circle cx="378.3" cy="258.2" r="1.2"/><circle cx="316.7" cy="274.9" r="1.5"/><circle cx="333.4" cy="263.2" r="1.8"/><circle cx="314.3" cy="237.3" r="1.7"/><circle cx="308" cy="252.4" r="2"/><circle cx="374.2" cy="280.2" r="1.6"/><circle cx="319" cy="259.7" r="1.5"/><circle cx="353" cy="237.7" r="1.4"/><circle cx="307.3" cy="245.3" r="1.3"/><circle cx="338.8" cy="235.2" r="1.5"/><circle cx="322.5" cy="244.8" r="1.8"/><circle cx="349.6" cy="278.4" r="1.6"/><circle cx="339.9" cy="243.1" r="1.7"/><circle cx="353.1" cy="274.2" r="1.9"/><circle cx="378.9" cy="232.9" r="1.8"/><circle cx="315.6" cy="262" r="1.4"/><circle cx="379.8" cy="238.6" r="1.8"/><circle cx="330" cy="232.9" r="2"/><circle cx="308.4" cy="281.5" r="1.9"/><circle cx="334.4" cy="273.9" r="1.3"/><circle cx="340.4" cy="264.9" r="2"/><circle cx="373.4" cy="244.1" r="1.7"/><circle cx="334.5" cy="229.7" r="1.4"/><circle cx="330.8" cy="268.4" r="1.7"/><circle cx="352.6" cy="229.3" r="1.4"/><circle cx="330.2" cy="246.4" r="1.8"/><circle cx="340.2" cy="221.4" r="1.3"/><circle cx="367.1" cy="239.8" r="1.8"/><circle cx="321.7" cy="238.1" r="1.6"/><circle cx="341.2" cy="260.4" r="1.6"/></g><g fill="#6a3a8c" fill-opacity="0.85"><circle cx="332.6" cy="249.4" r="2"/><circle cx="349.1" cy="256" r="1.3"/><circle cx="327.3" cy="253.7" r="1.7"/><circle cx="346.1" cy="261.3" r="1.9"/><circle cx="327.6" cy="257.5" r="1.8"/><circle cx="318.6" cy="252.1" r="1.7"/><circle cx="348.1" cy="254.9" r="1.6"/><circle cx="344.6" cy="235.2" r="1.9"/><circle cx="296.3" cy="282.9" r="1.9"/><circle cx="317.5" cy="227.7" r="1.9"/><circle cx="299.5" cy="273" r="2"/><circle cx="297.4" cy="250.8" r="1.9"/><circle cx="308.6" cy="223" r="1.6"/><circle cx="309.2" cy="242.2" r="1.8"/><circle cx="323.9" cy="225.2" r="1.9"/><circle cx="379.7" cy="243.3" r="1.8"/><circle cx="297.8" cy="232" r="1.7"/><circle cx="323.1" cy="243.1" r="1.2"/><circle cx="345" cy="277.9" r="1.6"/><circle cx="304.2" cy="240.6" r="1.7"/><circle cx="374.4" cy="221.8" r="1.9"/><circle cx="359.5" cy="230.9" r="1.4"/><circle cx="321.5" cy="237.3" r="1.3"/><circle cx="332" cy="264.2" r="1.8"/><circle cx="317.2" cy="237.2" r="1.3"/><circle cx="341.9" cy="266.7" r="1.3"/><circle cx="306.7" cy="247.1" r="1.8"/><circle cx="327.2" cy="268.3" r="1.8"/><circle cx="332.6" cy="273.2" r="1.7"/><circle cx="361.8" cy="278.3" r="1.4"/><circle cx="309.5" cy="269.7" r="1.9"/><circle cx="323.3" cy="265.4" r="1.3"/><circle cx="371.1" cy="241.1" r="1.7"/><circle cx="299.9" cy="224.7" r="1.6"/><circle cx="342.1" cy="244.3" r="1.5"/><circle cx="342.6" cy="267.3" r="1.2"/><circle cx="363.9" cy="270.8" r="1.9"/><circle cx="303.6" cy="246.6" r="2"/><circle cx="323.1" cy="260.1" r="1.8"/><circle cx="347.2" cy="266.1" r="1.4"/><circle cx="303.3" cy="250.3" r="1.3"/><circle cx="359.8" cy="253" r="1.4"/><circle cx="318.4" cy="251.6" r="1.6"/><circle cx="348.8" cy="280.1" r="1.4"/><circle cx="351" cy="234.1" r="2"/><circle cx="377.2" cy="260.5" r="1.9"/><circle cx="331.8" cy="231.7" r="1.6"/><circle cx="378" cy="279.7" r="1.4"/><circle cx="365" cy="249.8" r="1.8"/><circle cx="360.9" cy="274.4" r="1.7"/><circle cx="336.8" cy="268.4" r="1.5"/><circle cx="305.8" cy="267.3" r="1.5"/><circle cx="342.6" cy="240.6" r="1.4"/><circle cx="378.7" cy="281.1" r="1.5"/><circle cx="326.5" cy="262.9" r="1.5"/><circle cx="325.6" cy="279.3" r="1.5"/><circle cx="310.6" cy="267.4" r="1.9"/><circle cx="361.3" cy="224" r="1.8"/><circle cx="339.1" cy="267.8" r="1.4"/><circle cx="342.7" cy="266.4" r="1.7"/><circle cx="303" cy="266.4" r="1.3"/></g><g fill="#8a5aa6" fill-opacity="0.85"><circle cx="319.6" cy="257.1" r="1.7"/><circle cx="313.4" cy="252.7" r="1.6"/><circle cx="320.1" cy="234.3" r="1.8"/><circle cx="331.5" cy="270.5" r="1.7"/><circle cx="374.9" cy="271.3" r="1.9"/><circle cx="307.1" cy="253.1" r="1.5"/><circle cx="374" cy="266.8" r="1.3"/><circle cx="373" cy="264" r="1.3"/><circle cx="301.2" cy="249.9" r="2"/><circle cx="354.3" cy="230.5" r="1.4"/><circle cx="349" cy="257.4" r="1.5"/><circle cx="339.2" cy="263" r="1.8"/><circle cx="311.3" cy="232.2" r="1.5"/><circle cx="341.4" cy="231.5" r="1.6"/><circle cx="335.1" cy="248.2" r="1.2"/><circle cx="324.4" cy="261.8" r="1.9"/><circle cx="313.5" cy="257.9" r="1.9"/><circle cx="325.6" cy="242" r="1.6"/><circle cx="314.8" cy="230.8" r="1.5"/><circle cx="359.3" cy="265.6" r="1.4"/><circle cx="375.2" cy="280.7" r="1.4"/><circle cx="304.5" cy="260.2" r="1.6"/><circle cx="321.7" cy="284.8" r="1.5"/><circle cx="336.3" cy="252.3" r="1.5"/><circle cx="364.9" cy="238.4" r="1.7"/><circle cx="348.7" cy="234.8" r="1.3"/><circle cx="368.7" cy="264.3" r="1.9"/><circle cx="379.2" cy="267.1" r="1.6"/><circle cx="312.8" cy="236.5" r="1.7"/><circle cx="371" cy="241.9" r="1.2"/><circle cx="331.8" cy="238" r="1.6"/><circle cx="360.4" cy="275.5" r="1.4"/><circle cx="324.3" cy="237.6" r="1.8"/><circle cx="370.9" cy="250" r="1.6"/><circle cx="339.1" cy="224.3" r="1.7"/><circle cx="352.2" cy="239.4" r="1.8"/><circle cx="333.9" cy="280.7" r="1.7"/><circle cx="372" cy="285.4" r="1.3"/><circle cx="357.3" cy="277.3" r="1.2"/><circle cx="334" cy="268.5" r="1.5"/><circle cx="298.6" cy="239" r="1.9"/><circle cx="320.4" cy="276.3" r="1.8"/><circle cx="313.8" cy="252.9" r="1.9"/><circle cx="367.3" cy="266.8" r="1.4"/><circle cx="324.6" cy="239.2" r="1.3"/><circle cx="320.2" cy="272.9" r="1.8"/><circle cx="344.4" cy="267" r="1.2"/><circle cx="369.1" cy="269.6" r="2"/><circle cx="309.3" cy="246.9" r="1.4"/><circle cx="376.7" cy="274.8" r="1.3"/><circle cx="349.7" cy="253" r="1.6"/><circle cx="320.2" cy="248.8" r="1.3"/><circle cx="366.9" cy="234.1" r="1.2"/><circle cx="341.3" cy="238.6" r="2"/></g><g fill="#9a6ab0" fill-opacity="0.85"><circle cx="300.5" cy="235.4" r="1.4"/><circle cx="303.1" cy="283.9" r="1.9"/><circle cx="347.8" cy="223.8" r="1.5"/><circle cx="347" cy="279" r="1.4"/><circle cx="338.8" cy="261.7" r="1.3"/><circle cx="327.1" cy="244.8" r="1.8"/><circle cx="298" cy="255.6" r="1.8"/><circle cx="326" cy="266.4" r="1.6"/><circle cx="365.7" cy="244.4" r="1.4"/><circle cx="327.3" cy="235" r="1.4"/><circle cx="364" cy="253.5" r="1.5"/><circle cx="317.9" cy="244.6" r="1.5"/><circle cx="303.8" cy="283.9" r="1.6"/><circle cx="336.7" cy="265.8" r="1.3"/><circle cx="322.1" cy="227.9" r="2"/><circle cx="377" cy="261.3" r="1.4"/><circle cx="308" cy="241.4" r="1.6"/><circle cx="313" cy="271.3" r="1.5"/><circle cx="334.4" cy="233.1" r="1.8"/><circle cx="324.1" cy="222.5" r="1.3"/><circle cx="314.6" cy="249.7" r="1.8"/><circle cx="301.4" cy="265.9" r="1.5"/><circle cx="325" cy="228.4" r="1.3"/><circle cx="318" cy="247.2" r="1.9"/><circle cx="324.2" cy="237.7" r="1.8"/><circle cx="370.6" cy="246.2" r="1.9"/><circle cx="377" cy="278.2" r="2"/><circle cx="296.9" cy="259.8" r="1.4"/><circle cx="324.7" cy="244.4" r="1.7"/><circle cx="368" cy="245.4" r="1.8"/><circle cx="312.2" cy="238.7" r="2"/><circle cx="331.2" cy="273.8" r="1.4"/><circle cx="301.7" cy="240.9" r="1.5"/><circle cx="338.5" cy="282.6" r="1.5"/><circle cx="330" cy="227.2" r="1.9"/><circle cx="304.5" cy="263.7" r="1.7"/><circle cx="347.3" cy="262" r="1.4"/><circle cx="328.9" cy="271.7" r="1.7"/><circle cx="341.6" cy="248" r="1.8"/><circle cx="301.3" cy="244.1" r="1.4"/><circle cx="358" cy="267.6" r="1.6"/><circle cx="369.7" cy="233.7" r="1.8"/><circle cx="361.5" cy="237.4" r="1.7"/><circle cx="369.2" cy="243.9" r="1.5"/><circle cx="340.9" cy="224.5" r="1.6"/><circle cx="319.5" cy="235.5" r="1.3"/><circle cx="299.2" cy="267" r="1.3"/><circle cx="314" cy="285.6" r="1.4"/><circle cx="361.4" cy="281.1" r="1.9"/><circle cx="380.1" cy="243.4" r="1.6"/><circle cx="329.7" cy="258.3" r="1.3"/><circle cx="346.9" cy="283.7" r="1.9"/><circle cx="378.9" cy="277.8" r="1.9"/><circle cx="316.6" cy="269.3" r="1.9"/><circle cx="362.5" cy="258.3" r="1.7"/><circle cx="366.6" cy="285.7" r="1.7"/><circle cx="333" cy="285.6" r="1.8"/><circle cx="302.1" cy="229.7" r="1.7"/><circle cx="311.6" cy="254.4" r="1.5"/><circle cx="352.4" cy="241.8" r="1.3"/><circle cx="378" cy="237.7" r="1.3"/><circle cx="339.4" cy="285.7" r="1.3"/><circle cx="337.9" cy="254.8" r="1.6"/><circle cx="301.9" cy="268.1" r="1.9"/><circle cx="323.9" cy="254.4" r="1.4"/><circle cx="359.1" cy="265.9" r="1.6"/><circle cx="299" cy="227.2" r="1.7"/><circle cx="296.8" cy="243.2" r="1.8"/><circle cx="379.7" cy="222.5" r="1.4"/><circle cx="360" cy="268.8" r="1.4"/><circle cx="304.2" cy="241.1" r="1.3"/><circle cx="368" cy="223" r="1.4"/><circle cx="363.6" cy="261.2" r="1.3"/><circle cx="372.9" cy="221.5" r="1.7"/><circle cx="370.1" cy="243.1" r="2"/></g></g><rect x="298.9" y="224.5" width="10.5" height="5.6" fill="#fbf8fb"/><text class="lb" x="299.7" y="229" font-size="4.6" fill="#555" textLength="8.9" lengthAdjust="spacingAndGlyphs">500x</text></g><clipPath id="c10"><rect x="216" y="284.8" width="80.7" height="60.2"/></clipPath><g clip-path="url(#c10)"><g filter="url(#bl)"><rect x="216" y="284.8" width="80.7" height="60.2" fill="#e9aacb"/><ellipse cx="235.3" cy="327.2" rx="5" ry="4.9" fill="#e4a0c8" stroke="#fbeef6" stroke-width="1.0"/><ellipse cx="224.2" cy="317.1" rx="4.5" ry="3.8" fill="#dc98c4" stroke="#fbeef6" stroke-width="1.0"/><ellipse cx="220.3" cy="334.4" rx="5.3" ry="4.5" fill="#dc98c4" stroke="#fbeef6" stroke-width="1.0"/><ellipse cx="254.9" cy="331.8" rx="4.9" ry="4.3" fill="#dc98c4" stroke="#fbeef6" stroke-width="1.0"/><ellipse cx="281.7" cy="347.1" rx="5" ry="4.6" fill="#eab0d2" stroke="#fbeef6" stroke-width="1.0"/><ellipse cx="234.8" cy="312.3" rx="4.9" ry="4.3" fill="#e4a0c8" stroke="#fbeef6" stroke-width="1.0"/><ellipse cx="267.1" cy="312.6" rx="4.2" ry="3.7" fill="#e4a0c8" stroke="#fbeef6" stroke-width="1.0"/><ellipse cx="226.7" cy="309.3" rx="5.2" ry="5.1" fill="#dc98c4" stroke="#fbeef6" stroke-width="1.0"/><ellipse cx="290.5" cy="328.5" rx="4.5" ry="4" fill="#eab0d2" stroke="#fbeef6" stroke-width="1.0"/><ellipse cx="242.4" cy="301.5" rx="4.4" ry="4.1" fill="#e4a0c8" stroke="#fbeef6" stroke-width="1.0"/><ellipse cx="272.8" cy="346.1" rx="5.2" ry="4.8" fill="#eab0d2" stroke="#fbeef6" stroke-width="1.0"/><ellipse cx="261.6" cy="328.1" rx="5.3" ry="4.8" fill="#e4a0c8" stroke="#fbeef6" stroke-width="1.0"/><ellipse cx="283.9" cy="296.7" rx="4.4" ry="4.3" fill="#dc98c4" stroke="#fbeef6" stroke-width="1.0"/><ellipse cx="237.7" cy="295.5" rx="4.6" ry="3.7" fill="#dc98c4" stroke="#fbeef6" stroke-width="1.0"/><ellipse cx="260.7" cy="304" rx="4.5" ry="4" fill="#e4a0c8" stroke="#fbeef6" stroke-width="1.0"/><ellipse cx="215.9" cy="290.5" rx="4.6" ry="4.1" fill="#eab0d2" stroke="#fbeef6" stroke-width="1.0"/><ellipse cx="240.8" cy="340.9" rx="4.9" ry="4" fill="#e4a0c8" stroke="#fbeef6" stroke-width="1.0"/><ellipse cx="219.1" cy="299.4" rx="5.2" ry="4.2" fill="#e4a0c8" stroke="#fbeef6" stroke-width="1.0"/><ellipse cx="217.5" cy="322.5" rx="5.3" ry="5.1" fill="#dc98c4" stroke="#fbeef6" stroke-width="1.0"/><ellipse cx="227.4" cy="283" rx="4.8" ry="4.1" fill="#e4a0c8" stroke="#fbeef6" stroke-width="1.0"/><ellipse cx="292" cy="284.7" rx="4.3" ry="3.8" fill="#dc98c4" stroke="#fbeef6" stroke-width="1.0"/><ellipse cx="258.3" cy="317.1" rx="4.5" ry="3.8" fill="#e4a0c8" stroke="#fbeef6" stroke-width="1.0"/><ellipse cx="248.2" cy="292.2" rx="4.9" ry="4.9" fill="#dc98c4" stroke="#fbeef6" stroke-width="1.0"/><ellipse cx="290.9" cy="313.8" rx="4.8" ry="4" fill="#e4a0c8" stroke="#fbeef6" stroke-width="1.0"/><ellipse cx="275.3" cy="285.7" rx="5" ry="5" fill="#eab0d2" stroke="#fbeef6" stroke-width="1.0"/><ellipse cx="268.9" cy="330.3" rx="4.7" ry="4.5" fill="#e4a0c8" stroke="#fbeef6" stroke-width="1.0"/><ellipse cx="262.1" cy="340.9" rx="5.3" ry="4.9" fill="#eab0d2" stroke="#fbeef6" stroke-width="1.0"/><ellipse cx="221.6" cy="342.3" rx="5.3" ry="5.1" fill="#e4a0c8" stroke="#fbeef6" stroke-width="1.0"/><ellipse cx="260" cy="291.4" rx="5.1" ry="4.1" fill="#dc98c4" stroke="#fbeef6" stroke-width="1.0"/><ellipse cx="241.2" cy="320.3" rx="5.1" ry="5" fill="#dc98c4" stroke="#fbeef6" stroke-width="1.0"/><ellipse cx="254.4" cy="341" rx="4.3" ry="3.6" fill="#e4a0c8" stroke="#fbeef6" stroke-width="1.0"/><ellipse cx="250.1" cy="319.1" rx="4.2" ry="3.9" fill="#e4a0c8" stroke="#fbeef6" stroke-width="1.0"/><ellipse cx="226.8" cy="294.2" rx="4.3" ry="3.8" fill="#e4a0c8" stroke="#fbeef6" stroke-width="1.0"/><ellipse cx="249.7" cy="309.8" rx="4.5" ry="3.8" fill="#eab0d2" stroke="#fbeef6" stroke-width="1.0"/><ellipse cx="296" cy="298.8" rx="5.2" ry="4.4" fill="#dc98c4" stroke="#fbeef6" stroke-width="1.0"/><ellipse cx="273.7" cy="323.7" rx="4.4" ry="3.8" fill="#dc98c4" stroke="#fbeef6" stroke-width="1.0"/><ellipse cx="283.3" cy="322.9" rx="4.7" ry="3.7" fill="#dc98c4" stroke="#fbeef6" stroke-width="1.0"/><ellipse cx="229.5" cy="340" rx="4.4" ry="3.6" fill="#e4a0c8" stroke="#fbeef6" stroke-width="1.0"/><ellipse cx="267.7" cy="293.6" rx="4.4" ry="3.7" fill="#eab0d2" stroke="#fbeef6" stroke-width="1.0"/><ellipse cx="275.1" cy="315.8" rx="4.4" ry="4.1" fill="#e4a0c8" stroke="#fbeef6" stroke-width="1.0"/><ellipse cx="213.1" cy="315.8" rx="4.2" ry="3.9" fill="#eab0d2" stroke="#fbeef6" stroke-width="1.0"/><ellipse cx="272.1" cy="300.8" rx="5.2" ry="4.6" fill="#e4a0c8" stroke="#fbeef6" stroke-width="1.0"/><ellipse cx="281.6" cy="331" rx="5.1" ry="4.5" fill="#dc98c4" stroke="#fbeef6" stroke-width="1.0"/><ellipse cx="267.3" cy="282.8" rx="5.1" ry="4.3" fill="#dc98c4" stroke="#fbeef6" stroke-width="1.0"/><ellipse cx="248.4" cy="327.4" rx="4.7" ry="3.8" fill="#eab0d2" stroke="#fbeef6" stroke-width="1.0"/><ellipse cx="277.1" cy="307.6" rx="4.4" ry="4.1" fill="#eab0d2" stroke="#fbeef6" stroke-width="1.0"/><ellipse cx="296" cy="306.7" rx="4.5" ry="3.9" fill="#dc98c4" stroke="#fbeef6" stroke-width="1.0"/><ellipse cx="277.9" cy="339.1" rx="5.3" ry="5.2" fill="#eab0d2" stroke="#fbeef6" stroke-width="1.0"/><ellipse cx="290.5" cy="342.4" rx="4.8" ry="4.1" fill="#dc98c4" stroke="#fbeef6" stroke-width="1.0"/><ellipse cx="253.4" cy="298.8" rx="4.3" ry="4" fill="#eab0d2" stroke="#fbeef6" stroke-width="1.0"/><ellipse cx="236.8" cy="283.9" rx="4.9" ry="4.1" fill="#dc98c4" stroke="#fbeef6" stroke-width="1.0"/><ellipse cx="298.5" cy="338.6" rx="4.5" ry="4.5" fill="#e4a0c8" stroke="#fbeef6" stroke-width="1.0"/><ellipse cx="285.9" cy="307.4" rx="4.8" ry="4.1" fill="#e4a0c8" stroke="#fbeef6" stroke-width="1.0"/><ellipse cx="241.7" cy="333.2" rx="4.7" ry="4.6" fill="#dc98c4" stroke="#fbeef6" stroke-width="1.0"/><ellipse cx="248.7" cy="283.3" rx="4.6" ry="3.9" fill="#e4a0c8" stroke="#fbeef6" stroke-width="1.0"/><ellipse cx="214.7" cy="347.1" rx="4.8" ry="4" fill="#eab0d2" stroke="#fbeef6" stroke-width="1.0"/><ellipse cx="227.5" cy="328.8" rx="4.4" ry="3.6" fill="#e4a0c8" stroke="#fbeef6" stroke-width="1.0"/><ellipse cx="241.8" cy="309.2" rx="5" ry="4.6" fill="#eab0d2" stroke="#fbeef6" stroke-width="1.0"/><ellipse cx="296.1" cy="320.9" rx="5.3" ry="4.6" fill="#eab0d2" stroke="#fbeef6" stroke-width="1.0"/><ellipse cx="298.7" cy="289.3" rx="4.6" ry="4.3" fill="#eab0d2" stroke="#fbeef6" stroke-width="1.0"/><ellipse cx="229.2" cy="301.5" rx="4.5" ry="4.1" fill="#e4a0c8" stroke="#fbeef6" stroke-width="1.0"/><ellipse cx="214.3" cy="305.8" rx="4.6" ry="4.1" fill="#dc98c4" stroke="#fbeef6" stroke-width="1.0"/><ellipse cx="283.1" cy="285.7" rx="4.8" ry="4.2" fill="#dc98c4" stroke="#fbeef6" stroke-width="1.0"/><ellipse cx="234.2" cy="347.9" rx="4.5" ry="3.8" fill="#eab0d2" stroke="#fbeef6" stroke-width="1.0"/><ellipse cx="218.3" cy="283.2" rx="4.6" ry="4.2" fill="#eab0d2" stroke="#fbeef6" stroke-width="1.0"/><ellipse cx="213.1" cy="329.9" rx="4.9" ry="4.2" fill="#dc98c4" stroke="#fbeef6" stroke-width="1.0"/><ellipse cx="298.5" cy="346.5" rx="5" ry="4.3" fill="#dc98c4" stroke="#fbeef6" stroke-width="1.0"/><ellipse cx="257.9" cy="282.2" rx="4.6" ry="4.2" fill="#dc98c4" stroke="#fbeef6" stroke-width="1.0"/><ellipse cx="246.9" cy="347.3" rx="5.2" ry="4.7" fill="#dc98c4" stroke="#fbeef6" stroke-width="1.0"/><ellipse cx="291.6" cy="292.5" rx="4.3" ry="4.1" fill="#eab0d2" stroke="#fbeef6" stroke-width="1.0"/><ellipse cx="258.3" cy="347.7" rx="4.5" ry="4.1" fill="#eab0d2" stroke="#fbeef6" stroke-width="1.0"/><ellipse cx="213.2" cy="337.8" rx="4.7" ry="3.9" fill="#eab0d2" stroke="#fbeef6" stroke-width="1.0"/><ellipse cx="232" cy="320.4" rx="5" ry="4.3" fill="#dc98c4" stroke="#fbeef6" stroke-width="1.0"/><ellipse cx="298.5" cy="330" rx="5.1" ry="4.6" fill="#eab0d2" stroke="#fbeef6" stroke-width="1.0"/><ellipse cx="276.1" cy="293.9" rx="4.6" ry="4.3" fill="#dc98c4" stroke="#fbeef6" stroke-width="1.0"/><ellipse cx="235.6" cy="328" rx="3.2" ry="2.9" fill="#8a54a6"/><ellipse cx="224.6" cy="318.1" rx="2.4" ry="2.3" fill="#8a54a6"/><ellipse cx="221.2" cy="335" rx="3.5" ry="2.8" fill="#8a54a6"/><ellipse cx="255.1" cy="332.1" rx="3.4" ry="2.8" fill="#5e2e84"/><ellipse cx="281.5" cy="347.5" rx="3.6" ry="3.2" fill="#6a3a8e"/><ellipse cx="234.9" cy="312.5" rx="3.1" ry="3" fill="#6a3a8e"/><ellipse cx="267.1" cy="313" rx="2.3" ry="2" fill="#6a3a8e"/><ellipse cx="227.4" cy="309" rx="2.9" ry="2.7" fill="#8a54a6"/><ellipse cx="290.9" cy="327.5" rx="2.3" ry="2" fill="#5e2e84"/><ellipse cx="241.7" cy="301.3" rx="3.1" ry="2.8" fill="#5e2e84"/><ellipse cx="273.8" cy="345.3" rx="2.6" ry="2.1" fill="#6a3a8e"/><ellipse cx="261.3" cy="328.1" rx="2.7" ry="2.6" fill="#5e2e84"/><ellipse cx="284.7" cy="297.2" rx="2.7" ry="2.2" fill="#8a54a6"/><ellipse cx="236.8" cy="294.5" rx="2.8" ry="2.7" fill="#6a3a8e"/><ellipse cx="259.8" cy="303.7" rx="2.4" ry="1.9" fill="#6a3a8e"/><ellipse cx="215" cy="290.5" rx="3.3" ry="2.6" fill="#7a449a"/><ellipse cx="241.6" cy="341.3" rx="3.4" ry="2.6" fill="#6a3a8e"/><ellipse cx="219.9" cy="299.5" rx="3.4" ry="3.3" fill="#9a62b0"/><ellipse cx="217.1" cy="323.4" rx="3.3" ry="2.7" fill="#7a449a"/><ellipse cx="228" cy="282.9" rx="3.5" ry="3.1" fill="#6a3a8e"/><ellipse cx="291.5" cy="285.3" rx="2.6" ry="2.2" fill="#7a449a"/><ellipse cx="259.2" cy="316.9" rx="3.2" ry="2.5" fill="#9a62b0"/><ellipse cx="247.9" cy="292.2" rx="2.7" ry="2.1" fill="#5e2e84"/><ellipse cx="290.5" cy="314.6" rx="3" ry="2.6" fill="#5e2e84"/><ellipse cx="276.2" cy="284.7" rx="3" ry="2.9" fill="#8a54a6"/><ellipse cx="269.1" cy="329.8" rx="2.9" ry="2.5" fill="#7a449a"/><ellipse cx="262.5" cy="340.7" rx="2.7" ry="2.6" fill="#7a449a"/><ellipse cx="222.1" cy="342.7" rx="3.5" ry="3.1" fill="#6a3a8e"/><ellipse cx="259.8" cy="292" rx="3.5" ry="3.1" fill="#5e2e84"/><ellipse cx="241.7" cy="321.2" rx="3.5" ry="3" fill="#9a62b0"/><ellipse cx="254.1" cy="340.6" rx="2.3" ry="2.3" fill="#8a54a6"/><ellipse cx="250.4" cy="320" rx="2.8" ry="2.5" fill="#8a54a6"/><ellipse cx="227.2" cy="294.6" rx="2.8" ry="2.6" fill="#5e2e84"/><ellipse cx="249.5" cy="309.4" rx="3" ry="2.8" fill="#8a54a6"/><ellipse cx="296" cy="299" rx="2.7" ry="2.1" fill="#5e2e84"/><ellipse cx="272.8" cy="323.4" rx="3.1" ry="2.9" fill="#8a54a6"/><ellipse cx="283.2" cy="322.5" rx="2.7" ry="2.4" fill="#9a62b0"/><ellipse cx="229.9" cy="340.2" rx="2.7" ry="2.3" fill="#5e2e84"/><ellipse cx="268.1" cy="294.2" rx="3.1" ry="2.9" fill="#5e2e84"/><ellipse cx="274.7" cy="316.4" rx="3" ry="2.2" fill="#9a62b0"/><ellipse cx="212.8" cy="316.5" rx="2.8" ry="2.6" fill="#7a449a"/><ellipse cx="271.3" cy="300.9" rx="3.2" ry="2.6" fill="#7a449a"/><ellipse cx="282.5" cy="330.1" rx="2.7" ry="2.1" fill="#6a3a8e"/><ellipse cx="266.4" cy="283.2" rx="3.6" ry="2.9" fill="#7a449a"/><ellipse cx="247.8" cy="327" rx="2.8" ry="2.5" fill="#9a62b0"/><ellipse cx="277.8" cy="308.3" rx="3.1" ry="2.4" fill="#8a54a6"/><ellipse cx="295.1" cy="307.6" rx="3.1" ry="2.9" fill="#8a54a6"/><ellipse cx="277.9" cy="338.5" rx="3.1" ry="2.6" fill="#9a62b0"/><ellipse cx="291.1" cy="342.7" rx="2.4" ry="2.4" fill="#9a62b0"/><ellipse cx="252.9" cy="298.8" rx="2.2" ry="1.9" fill="#5e2e84"/><ellipse cx="235.9" cy="284" rx="3.1" ry="2.9" fill="#7a449a"/><ellipse cx="297.6" cy="339.4" rx="3.2" ry="2.5" fill="#7a449a"/><ellipse cx="285.8" cy="308" rx="3.1" ry="2.8" fill="#7a449a"/><ellipse cx="242.2" cy="332.6" rx="2.9" ry="2.8" fill="#6a3a8e"/><ellipse cx="248.7" cy="283.3" rx="3.3" ry="2.7" fill="#6a3a8e"/><ellipse cx="214.9" cy="346.4" rx="3.3" ry="3" fill="#9a62b0"/><ellipse cx="227.4" cy="329.2" rx="2.8" ry="2.5" fill="#6a3a8e"/><ellipse cx="242.4" cy="309.7" rx="2.9" ry="2.3" fill="#6a3a8e"/><ellipse cx="296.6" cy="320" rx="3.7" ry="3.6" fill="#5e2e84"/><ellipse cx="299.5" cy="290" rx="2.6" ry="2.4" fill="#7a449a"/><ellipse cx="228.8" cy="302.2" rx="2.7" ry="2.7" fill="#5e2e84"/><ellipse cx="213.6" cy="305.4" rx="3" ry="2.9" fill="#5e2e84"/><ellipse cx="283.2" cy="286" rx="2.9" ry="2.2" fill="#9a62b0"/><ellipse cx="234.7" cy="348.4" rx="2.4" ry="1.8" fill="#9a62b0"/><ellipse cx="217.7" cy="283.5" rx="2.6" ry="2.6" fill="#5e2e84"/><ellipse cx="212.8" cy="329.8" rx="2.8" ry="2.5" fill="#9a62b0"/><ellipse cx="298.1" cy="346.5" rx="3.4" ry="2.9" fill="#8a54a6"/><ellipse cx="257.4" cy="282.7" rx="2.4" ry="2.3" fill="#7a449a"/><ellipse cx="246.4" cy="346.9" rx="3.6" ry="3.2" fill="#7a449a"/><ellipse cx="291.5" cy="292.7" rx="2.7" ry="2.2" fill="#9a62b0"/><ellipse cx="258.6" cy="348.5" rx="2.4" ry="1.8" fill="#7a449a"/><ellipse cx="212.8" cy="337.9" rx="3.2" ry="3" fill="#8a54a6"/><ellipse cx="231.4" cy="320.6" rx="2.5" ry="2.5" fill="#8a54a6"/><ellipse cx="298.1" cy="330.6" rx="3.6" ry="3.2" fill="#6a3a8e"/><ellipse cx="276" cy="294.4" rx="3.3" ry="3.1" fill="#6a3a8e"/></g><rect x="217.2" y="286.3" width="11.5" height="5.6" fill="#fbf8fb"/><text class="lb" x="218" y="290.8" font-size="4.6" fill="#555" textLength="9.9" lengthAdjust="spacingAndGlyphs">1000x</text></g><clipPath id="c11"><rect x="297.7" y="284.8" width="81.3" height="60.2"/></clipPath><g clip-path="url(#c11)"><g filter="url(#bl)"><rect x="297.7" y="284.8" width="81.3" height="60.2" fill="#faf5f4"/><radialGradient id="g76702141"><stop offset="0" stop-color="#e2a0b8" stop-opacity="0.75"/><stop offset="0.6" stop-color="#e2a0b8" stop-opacity="0.5249999999999999"/><stop offset="1" stop-color="#e2a0b8" stop-opacity="0"/></radialGradient><ellipse cx="343.3" cy="303.2" rx="9" ry="9" fill="url(#g76702141)"/><ellipse cx="303.8" cy="302" rx="6" ry="8.3" fill="#8a5cb0" stroke="#fbf6fa" stroke-width="1.0"/><ellipse cx="313" cy="299.5" rx="4" ry="6.8" fill="#7e54a8" stroke="#fbf6fa" stroke-width="1.0"/><ellipse cx="324.2" cy="300" rx="7.2" ry="8" fill="#8a5eb0" stroke="#fbf6fa" stroke-width="1.0"/><ellipse cx="329" cy="318" rx="8" ry="6" fill="#8c60b2" stroke="#fbf6fa" stroke-width="1.0"/><ellipse cx="321" cy="326.6" rx="7.2" ry="8.4" fill="#7e54a8" stroke="#fbf6fa" stroke-width="1.0"/><ellipse cx="339" cy="327.5" rx="10" ry="6.8" fill="#8a5eae" stroke="#fbf6fa" stroke-width="1.0"/><ellipse cx="330.5" cy="336.7" rx="6.5" ry="6.4" fill="#7a50a6" stroke="#fbf6fa" stroke-width="1.0"/><ellipse cx="358.5" cy="296.4" rx="7.2" ry="6" fill="#8660b0" stroke="#fbf6fa" stroke-width="1.0"/><ellipse cx="357.3" cy="308" rx="6.8" ry="6.4" fill="#7a52a8" stroke="#fbf6fa" stroke-width="1.0"/><ellipse cx="375.5" cy="303.5" rx="6" ry="6.8" fill="#8a62b2" stroke="#fbf6fa" stroke-width="1.0"/><ellipse cx="372" cy="320.7" rx="8.5" ry="9.6" fill="#7e56aa" stroke="#fbf6fa" stroke-width="1.0"/><ellipse cx="348.5" cy="345" rx="5.2" ry="3.5" fill="#8058ac" stroke="#fbf6fa" stroke-width="1.0"/><ellipse cx="302.5" cy="304" rx="1.6" ry="1.4" fill="#d8c0e6"/><ellipse cx="325" cy="302" rx="1.6" ry="1.3" fill="#c8aede"/><ellipse cx="359" cy="297" rx="2" ry="1.8" fill="#efe0f2"/><ellipse cx="376" cy="305" rx="1.3" ry="1.3" fill="#d8c2e6"/><ellipse cx="342" cy="329" rx="1.5" ry="1.5" fill="#a888c8"/><ellipse cx="314" cy="297" rx="1.2" ry="1.2" fill="#d0b8e0"/><line x1="339.3" y1="288" x2="332.1" y2="294.4" stroke="#c8703a" stroke-width="0.8"/><polygon points="332.1,294.4 333.1,292 334.6,293.7" fill="#c8703a"/><line x1="305.8" y1="316.7" x2="313.8" y2="323.1" stroke="#c8703a" stroke-width="0.8"/><polygon points="313.8,323.1 311.3,322.5 312.7,320.8" fill="#c8703a"/><line x1="348.9" y1="316.7" x2="342.5" y2="323.1" stroke="#c8703a" stroke-width="0.8"/><polygon points="342.5,323.1 343.4,320.6 345,322.2" fill="#c8703a"/><text class="lb" x="300" y="290.5" font-size="4.6" fill="#444" textLength="8.6" lengthAdjust="spacingAndGlyphs">1000x</text></g></g><clipPath id="c12"><rect x="400.7" y="223" width="80.3" height="60.8"/></clipPath><g clip-path="url(#c12)"><g filter="url(#bl)"><rect x="400.7" y="223" width="80.3" height="60.8" fill="#7a56ac"/><g fill="#5e3896"><circle cx="480.1" cy="221.8" r="1"/><circle cx="403.3" cy="273.2" r="0.7"/><circle cx="446.7" cy="281.3" r="1"/><circle cx="440" cy="282.2" r="0.6"/><circle cx="422.9" cy="253.1" r="1.1"/><circle cx="438.7" cy="228.5" r="0.9"/><circle cx="446.3" cy="277.5" r="0.9"/><circle cx="428" cy="261.1" r="1"/><circle cx="462" cy="244.9" r="0.7"/><circle cx="443.8" cy="278.3" r="0.7"/><circle cx="404.5" cy="238.8" r="0.9"/><circle cx="436.8" cy="247.2" r="1"/><circle cx="442.5" cy="234.8" r="0.7"/><circle cx="425.8" cy="245.7" r="1.2"/><circle cx="464" cy="253.2" r="1.2"/><circle cx="443.9" cy="249.2" r="0.7"/><circle cx="422.4" cy="225.7" r="0.9"/><circle cx="460.4" cy="261.2" r="0.7"/><circle cx="446.4" cy="237.2" r="0.6"/><circle cx="453.3" cy="266.1" r="1.1"/><circle cx="430.6" cy="230.3" r="1"/><circle cx="404.5" cy="285.8" r="0.7"/><circle cx="480.9" cy="232.8" r="0.8"/><circle cx="479" cy="266.9" r="0.8"/><circle cx="452" cy="238.7" r="0.7"/><circle cx="458.8" cy="248.6" r="1.1"/><circle cx="444.1" cy="229.5" r="0.7"/><circle cx="420.7" cy="279.5" r="1"/><circle cx="404.7" cy="232.9" r="0.7"/><circle cx="404.2" cy="281.4" r="1.2"/><circle cx="421.7" cy="222.1" r="0.9"/><circle cx="470.6" cy="250.4" r="0.8"/><circle cx="462" cy="257.4" r="1"/><circle cx="472.5" cy="244.3" r="1.1"/><circle cx="409.6" cy="269.3" r="1"/><circle cx="461" cy="229.1" r="0.6"/><circle cx="444.2" cy="262" r="0.9"/><circle cx="409.6" cy="236.3" r="0.9"/><circle cx="480.7" cy="254.6" r="0.6"/><circle cx="440.4" cy="227.1" r="0.6"/><circle cx="421.9" cy="260.3" r="1.1"/><circle cx="474.9" cy="244.3" r="0.8"/><circle cx="480.5" cy="284.6" r="0.7"/><circle cx="438.8" cy="249.1" r="1.1"/><circle cx="468.7" cy="224.2" r="0.9"/><circle cx="473.3" cy="225" r="1.1"/><circle cx="399.6" cy="264.4" r="0.6"/><circle cx="434.9" cy="284.8" r="1.1"/><circle cx="458.8" cy="259.5" r="1.1"/><circle cx="424.6" cy="230.8" r="1.2"/><circle cx="438" cy="284" r="1.1"/><circle cx="439.8" cy="223.9" r="0.6"/><circle cx="475.5" cy="231.2" r="0.8"/><circle cx="407.1" cy="241.5" r="0.7"/><circle cx="422.5" cy="276.1" r="0.8"/><circle cx="438" cy="246.3" r="0.8"/><circle cx="478" cy="247.3" r="1.1"/><circle cx="452.9" cy="226" r="0.7"/><circle cx="398.9" cy="240.3" r="1.1"/><circle cx="457.9" cy="267.9" r="0.8"/><circle cx="474.1" cy="266.7" r="0.6"/><circle cx="459.3" cy="236.2" r="1.1"/><circle cx="472.6" cy="248.6" r="0.7"/><circle cx="414.9" cy="250.4" r="0.9"/><circle cx="443.3" cy="265.6" r="0.7"/><circle cx="416.5" cy="274.8" r="1.1"/><circle cx="461.6" cy="268.5" r="1.1"/><circle cx="473.4" cy="231.4" r="1"/><circle cx="439.5" cy="259.1" r="1.1"/><circle cx="473.1" cy="229.7" r="0.8"/><circle cx="440.7" cy="236.4" r="0.9"/><circle cx="462.4" cy="226.2" r="0.8"/><circle cx="429" cy="265.1" r="1"/><circle cx="425.6" cy="258.2" r="0.7"/><circle cx="436.5" cy="276.1" r="1"/><circle cx="457.9" cy="264.9" r="0.8"/><circle cx="412.3" cy="223.1" r="0.9"/><circle cx="476.6" cy="258.4" r="1"/><circle cx="430" cy="243.2" r="0.7"/><circle cx="453.3" cy="227.3" r="1"/><circle cx="432.2" cy="258.3" r="0.9"/><circle cx="439.2" cy="229.7" r="0.6"/><circle cx="430.3" cy="223.2" r="0.6"/><circle cx="422.7" cy="245.5" r="1"/><circle cx="473.7" cy="224.3" r="0.8"/><circle cx="428.1" cy="242.5" r="0.8"/><circle cx="475.2" cy="271.9" r="0.8"/><circle cx="463.2" cy="264.6" r="0.8"/><circle cx="467.7" cy="225.8" r="1"/><circle cx="481.3" cy="269.8" r="1"/><circle cx="481.2" cy="225.6" r="0.9"/><circle cx="465.7" cy="236.7" r="0.7"/><circle cx="462.8" cy="262.1" r="1.1"/><circle cx="465.8" cy="251.4" r="0.7"/><circle cx="465.6" cy="233" r="1.1"/><circle cx="427.7" cy="277" r="1.1"/><circle cx="436.5" cy="279.4" r="0.6"/><circle cx="431" cy="277.2" r="1.1"/><circle cx="451.2" cy="252" r="0.7"/><circle cx="474.8" cy="222.1" r="1.1"/><circle cx="419" cy="235.5" r="0.8"/><circle cx="451.4" cy="223" r="0.9"/><circle cx="420.7" cy="257.3" r="1.1"/><circle cx="453.1" cy="285.4" r="0.7"/><circle cx="458.3" cy="239.4" r="0.9"/><circle cx="432.7" cy="240.2" r="0.8"/><circle cx="438.5" cy="235.8" r="1.1"/><circle cx="440.3" cy="233.1" r="1.1"/><circle cx="436.8" cy="265.3" r="0.7"/><circle cx="407.5" cy="256.1" r="0.8"/><circle cx="408.3" cy="246.8" r="0.7"/><circle cx="441.5" cy="266.5" r="1"/><circle cx="473.1" cy="233.8" r="0.7"/></g><g fill="#6c44a0"><circle cx="427.2" cy="266.9" r="0.8"/><circle cx="472.4" cy="272.7" r="0.7"/><circle cx="404.9" cy="268" r="1.2"/><circle cx="460.1" cy="228" r="1.1"/><circle cx="475.1" cy="246.5" r="1.1"/><circle cx="429.7" cy="235.6" r="1"/><circle cx="431.6" cy="273.2" r="0.8"/><circle cx="457.3" cy="265.2" r="0.8"/><circle cx="477.4" cy="238.6" r="0.8"/><circle cx="421.5" cy="258.3" r="1.2"/><circle cx="479.3" cy="252.2" r="0.9"/><circle cx="453.4" cy="264.8" r="1"/><circle cx="473.5" cy="275.5" r="1"/><circle cx="417.4" cy="230.4" r="0.7"/><circle cx="423.7" cy="265.2" r="0.7"/><circle cx="482.9" cy="278.1" r="0.8"/><circle cx="469" cy="236.1" r="1"/><circle cx="449.6" cy="279" r="0.7"/><circle cx="450.3" cy="278.9" r="0.6"/><circle cx="461" cy="285.5" r="1.1"/><circle cx="479.3" cy="265.1" r="0.9"/><circle cx="476.7" cy="250.8" r="0.7"/><circle cx="455.3" cy="272.5" r="1"/><circle cx="441.8" cy="252.3" r="0.9"/><circle cx="464.8" cy="222.5" r="1.1"/><circle cx="442" cy="238.2" r="0.6"/><circle cx="422" cy="244.5" r="0.7"/><circle cx="473.2" cy="276.8" r="0.9"/><circle cx="449.3" cy="224.4" r="0.7"/><circle cx="448.4" cy="233.1" r="0.9"/><circle cx="433.2" cy="232.7" r="1"/><circle cx="481" cy="228.6" r="1.1"/><circle cx="462.2" cy="275.4" r="0.8"/><circle cx="476.5" cy="269.9" r="1.1"/><circle cx="427.8" cy="282.1" r="0.6"/><circle cx="421.2" cy="278.6" r="0.8"/><circle cx="448.3" cy="275.8" r="0.9"/><circle cx="449.2" cy="272.4" r="0.9"/><circle cx="420.2" cy="254.9" r="1.1"/><circle cx="456.5" cy="283.6" r="1.1"/><circle cx="446.2" cy="241.1" r="1"/><circle cx="462.4" cy="255.3" r="1.1"/><circle cx="427.9" cy="226.1" r="1.2"/><circle cx="421.7" cy="247" r="1.2"/><circle cx="445" cy="262.2" r="0.9"/><circle cx="422.3" cy="251.6" r="0.8"/><circle cx="462.7" cy="259.9" r="1.2"/><circle cx="405.6" cy="242.7" r="0.7"/><circle cx="407.4" cy="281.5" r="0.7"/><circle cx="439.7" cy="263" r="1"/><circle cx="410.8" cy="256.7" r="0.7"/><circle cx="482.2" cy="281" r="1.2"/><circle cx="430.8" cy="249.8" r="1.1"/><circle cx="466.2" cy="270" r="0.6"/><circle cx="465.7" cy="269.5" r="0.8"/><circle cx="406.2" cy="229.6" r="1"/><circle cx="400.7" cy="255.3" r="1.2"/><circle cx="420.4" cy="276.6" r="0.9"/><circle cx="417.3" cy="232.3" r="0.8"/><circle cx="472.9" cy="243.3" r="1.1"/><circle cx="403.7" cy="260.5" r="0.6"/><circle cx="415.6" cy="234.9" r="0.8"/><circle cx="479.8" cy="233.6" r="0.8"/><circle cx="470.4" cy="238.8" r="1.2"/><circle cx="405.7" cy="226.8" r="1.2"/><circle cx="444.8" cy="267.1" r="0.8"/><circle cx="439.9" cy="275.4" r="1.2"/><circle cx="472.8" cy="225.2" r="0.8"/><circle cx="429.5" cy="240.6" r="1.1"/><circle cx="419.1" cy="231.8" r="0.9"/><circle cx="401.4" cy="229.7" r="0.8"/><circle cx="460.8" cy="268.1" r="0.9"/><circle cx="430.8" cy="237.7" r="0.9"/><circle cx="469.7" cy="248.3" r="1.1"/><circle cx="465.9" cy="260.4" r="1.1"/><circle cx="462.4" cy="234.4" r="0.9"/><circle cx="425.3" cy="257.9" r="0.8"/><circle cx="403.2" cy="236.8" r="1.1"/><circle cx="417.3" cy="276.6" r="1"/><circle cx="478.6" cy="247.9" r="0.7"/><circle cx="475.1" cy="228.9" r="0.7"/><circle cx="411.1" cy="263.5" r="0.8"/><circle cx="445.1" cy="232.4" r="1.1"/><circle cx="435.9" cy="270.5" r="1"/><circle cx="430.5" cy="278.6" r="0.7"/><circle cx="477.4" cy="254.1" r="0.7"/><circle cx="428.9" cy="222" r="0.9"/><circle cx="430.6" cy="265" r="0.7"/><circle cx="413.6" cy="283" r="0.8"/><circle cx="434.7" cy="242.1" r="0.9"/><circle cx="413.9" cy="263.2" r="0.7"/><circle cx="420.7" cy="279.5" r="1.1"/><circle cx="424.1" cy="242.4" r="1.1"/><circle cx="480.6" cy="239.9" r="0.7"/><circle cx="422" cy="251.2" r="1.1"/><circle cx="473.9" cy="252.5" r="1"/><circle cx="481.2" cy="262" r="0.9"/><circle cx="430.5" cy="284.7" r="0.9"/><circle cx="411.7" cy="243.3" r="0.7"/><circle cx="445.2" cy="222.1" r="1.1"/><circle cx="414.3" cy="222.2" r="0.8"/><circle cx="472.3" cy="240.6" r="0.6"/><circle cx="480.1" cy="244.4" r="1"/><circle cx="401.9" cy="224" r="0.8"/><circle cx="480.5" cy="276.2" r="1"/><circle cx="466.9" cy="257.7" r="0.7"/><circle cx="469.3" cy="255" r="1.1"/><circle cx="480" cy="226" r="0.6"/><circle cx="473.3" cy="269.6" r="0.9"/><circle cx="407.5" cy="227.5" r="0.9"/><circle cx="458.9" cy="232.8" r="1.1"/><circle cx="412.4" cy="250.1" r="0.6"/><circle cx="432.7" cy="274.1" r="1"/></g><g fill="#8c60b4"><circle cx="447.4" cy="275.5" r="0.9"/><circle cx="422.9" cy="223.7" r="1.1"/><circle cx="455.9" cy="260.6" r="0.6"/><circle cx="464.8" cy="227.4" r="1"/><circle cx="441" cy="252" r="0.9"/><circle cx="455.1" cy="241.3" r="1.1"/><circle cx="432" cy="248.8" r="1"/><circle cx="413.8" cy="255.3" r="0.8"/><circle cx="429.1" cy="263.5" r="1.2"/><circle cx="402.8" cy="253.5" r="0.7"/><circle cx="481.4" cy="283.7" r="1.2"/><circle cx="480.3" cy="254.5" r="0.6"/><circle cx="465.9" cy="262.6" r="1.1"/><circle cx="441.4" cy="282.1" r="1.1"/><circle cx="472.8" cy="224.5" r="1.1"/><circle cx="445.1" cy="258.7" r="1.2"/><circle cx="446.5" cy="240.3" r="1"/><circle cx="435.7" cy="237.4" r="0.9"/><circle cx="410.3" cy="247" r="1.1"/><circle cx="475.8" cy="274.3" r="0.6"/><circle cx="453" cy="284.4" r="0.8"/><circle cx="415.9" cy="257.8" r="0.7"/><circle cx="482.3" cy="280.3" r="0.9"/><circle cx="410" cy="232.6" r="1.2"/><circle cx="478.6" cy="270.5" r="1.1"/><circle cx="454.7" cy="246.8" r="0.7"/><circle cx="426.3" cy="283.1" r="0.9"/><circle cx="473.1" cy="229.3" r="0.8"/><circle cx="438.3" cy="259.5" r="1"/><circle cx="410.9" cy="257.1" r="0.6"/><circle cx="445.6" cy="223.5" r="1.2"/><circle cx="457" cy="281.8" r="1.2"/><circle cx="481.7" cy="263.9" r="0.8"/><circle cx="399.2" cy="250.6" r="0.7"/><circle cx="419.4" cy="223.2" r="1"/><circle cx="432.5" cy="284" r="0.9"/><circle cx="463.7" cy="244.7" r="1"/><circle cx="416.5" cy="232.1" r="1.1"/><circle cx="468.3" cy="226.3" r="1.1"/><circle cx="461.6" cy="224.7" r="1"/><circle cx="409.5" cy="224.2" r="1"/><circle cx="430.3" cy="227.6" r="1"/><circle cx="406.5" cy="284.7" r="0.8"/><circle cx="439.9" cy="228.3" r="0.9"/><circle cx="477.6" cy="250.6" r="1.1"/><circle cx="467.7" cy="223.9" r="1.1"/><circle cx="461.3" cy="270.3" r="0.9"/><circle cx="442.1" cy="281.2" r="0.7"/><circle cx="479.9" cy="232.8" r="0.7"/><circle cx="471.6" cy="280.9" r="1"/><circle cx="439.9" cy="257.8" r="0.7"/><circle cx="467.1" cy="242.1" r="0.9"/><circle cx="446.1" cy="240.1" r="1"/><circle cx="472.1" cy="237.7" r="1"/><circle cx="466.4" cy="241.9" r="0.8"/><circle cx="413.2" cy="224.8" r="1.2"/><circle cx="403.9" cy="284.9" r="1.1"/><circle cx="467.9" cy="235.6" r="1"/><circle cx="424.2" cy="239.1" r="0.8"/><circle cx="439.2" cy="253.5" r="0.7"/><circle cx="431.4" cy="247.3" r="0.8"/><circle cx="404.9" cy="266.9" r="0.7"/><circle cx="434.7" cy="265.1" r="1"/><circle cx="429.8" cy="235.9" r="0.8"/><circle cx="427.8" cy="232.5" r="1.1"/><circle cx="469.3" cy="243.5" r="0.9"/><circle cx="448.4" cy="254.6" r="0.7"/><circle cx="398.9" cy="223.3" r="0.9"/><circle cx="460.9" cy="274.5" r="0.9"/><circle cx="429" cy="257.4" r="1.2"/><circle cx="431.8" cy="241.8" r="0.8"/><circle cx="418.4" cy="223.1" r="0.6"/><circle cx="445.8" cy="262.7" r="0.7"/><circle cx="424.5" cy="223.9" r="0.9"/><circle cx="434.7" cy="230.8" r="0.8"/><circle cx="461.4" cy="249" r="0.8"/><circle cx="409.4" cy="242.2" r="0.9"/><circle cx="430.4" cy="231.2" r="0.6"/><circle cx="480.7" cy="258.9" r="0.6"/><circle cx="439.4" cy="242" r="0.7"/><circle cx="402.3" cy="279" r="1.1"/><circle cx="415.1" cy="246.1" r="1"/><circle cx="459.8" cy="234.1" r="0.9"/><circle cx="482.3" cy="280.8" r="1"/><circle cx="406" cy="239.1" r="0.8"/><circle cx="459.2" cy="258" r="0.6"/><circle cx="429.9" cy="240.4" r="0.7"/><circle cx="480.2" cy="284.1" r="0.8"/><circle cx="418.6" cy="244.5" r="0.9"/><circle cx="425.8" cy="255.5" r="0.7"/><circle cx="416" cy="272.7" r="0.6"/><circle cx="471.3" cy="260" r="0.9"/><circle cx="464.1" cy="284.8" r="0.8"/><circle cx="400.9" cy="264.2" r="0.6"/><circle cx="414.4" cy="248.6" r="0.6"/><circle cx="415.5" cy="233.8" r="0.6"/><circle cx="482.3" cy="237.3" r="1.1"/><circle cx="420.1" cy="284.4" r="1"/><circle cx="467.1" cy="280" r="1.2"/><circle cx="432.5" cy="265.3" r="1.2"/><circle cx="459.2" cy="259.4" r="1.1"/><circle cx="452.1" cy="279.3" r="0.6"/><circle cx="476.8" cy="268.3" r="1"/></g><g fill="#9a72c0"><circle cx="413.8" cy="282.4" r="0.8"/><circle cx="431.3" cy="251.9" r="1.1"/><circle cx="446.7" cy="251" r="1.1"/><circle cx="466.2" cy="278.9" r="1.1"/><circle cx="482.6" cy="267.9" r="1"/><circle cx="437.4" cy="260.2" r="0.9"/><circle cx="450.3" cy="250.8" r="0.6"/><circle cx="453.3" cy="234.9" r="1.2"/><circle cx="451.2" cy="273.6" r="0.6"/><circle cx="470.1" cy="242.4" r="0.8"/><circle cx="422.6" cy="279.7" r="1.1"/><circle cx="482.8" cy="263.7" r="1"/><circle cx="435.8" cy="258.6" r="1.1"/><circle cx="429.8" cy="263.7" r="1.1"/><circle cx="405.2" cy="233.9" r="1.2"/><circle cx="462.8" cy="277.9" r="0.8"/><circle cx="477.6" cy="255.9" r="0.7"/><circle cx="418.6" cy="267" r="0.8"/><circle cx="409.3" cy="243.8" r="0.9"/><circle cx="420" cy="271.1" r="1.1"/><circle cx="458.4" cy="278.4" r="0.9"/><circle cx="401" cy="282.7" r="1.2"/><circle cx="411" cy="250" r="0.7"/><circle cx="426.4" cy="234.5" r="1.1"/><circle cx="400.9" cy="283" r="0.6"/><circle cx="429.7" cy="281.4" r="0.7"/><circle cx="431.1" cy="242.6" r="0.6"/><circle cx="473" cy="227.1" r="1"/><circle cx="442.6" cy="256.9" r="0.7"/><circle cx="418.8" cy="230.7" r="0.7"/><circle cx="444.3" cy="234.7" r="0.9"/><circle cx="465.3" cy="237.5" r="0.8"/><circle cx="441.9" cy="226.6" r="0.6"/><circle cx="472.5" cy="264.2" r="0.8"/><circle cx="424.2" cy="234.9" r="1.1"/><circle cx="406.2" cy="278.1" r="0.8"/><circle cx="477.1" cy="238.3" r="0.6"/><circle cx="435.6" cy="259.5" r="0.9"/><circle cx="410.9" cy="280.2" r="0.8"/><circle cx="427.1" cy="244.6" r="0.9"/><circle cx="399.4" cy="254.5" r="0.6"/><circle cx="442.6" cy="269.8" r="0.9"/><circle cx="458.1" cy="277.1" r="1.1"/><circle cx="461.8" cy="248.9" r="1.1"/><circle cx="446" cy="264" r="0.8"/><circle cx="433" cy="246.3" r="0.9"/><circle cx="416" cy="242.2" r="0.9"/><circle cx="476.8" cy="236.8" r="1"/><circle cx="432.5" cy="221.2" r="0.8"/><circle cx="421.3" cy="244.8" r="0.7"/><circle cx="428.5" cy="223.8" r="0.9"/><circle cx="451.2" cy="238.9" r="1"/><circle cx="441.2" cy="275.3" r="0.8"/><circle cx="442.2" cy="236.8" r="1.1"/><circle cx="426.7" cy="253.1" r="1"/><circle cx="428.4" cy="231.1" r="0.9"/><circle cx="429" cy="268" r="1.1"/><circle cx="431.7" cy="249.1" r="1"/><circle cx="451" cy="246.8" r="0.7"/><circle cx="471.8" cy="270.7" r="0.9"/><circle cx="477.6" cy="257.5" r="0.8"/><circle cx="463.7" cy="278.7" r="1"/><circle cx="454.3" cy="251.7" r="0.7"/><circle cx="468.6" cy="239.3" r="0.7"/><circle cx="426.4" cy="263" r="0.9"/><circle cx="444.8" cy="239.9" r="0.9"/><circle cx="451.1" cy="274.1" r="1"/><circle cx="409.9" cy="238.8" r="0.8"/><circle cx="405.9" cy="224.5" r="0.7"/><circle cx="462.2" cy="246.8" r="0.9"/><circle cx="467.2" cy="263.8" r="0.6"/><circle cx="427.1" cy="230.3" r="0.7"/><circle cx="463.9" cy="265.4" r="0.8"/><circle cx="451.7" cy="233.3" r="0.6"/><circle cx="471.8" cy="228.4" r="0.8"/><circle cx="447.5" cy="250.1" r="0.7"/><circle cx="457.2" cy="237.5" r="1.1"/><circle cx="466.1" cy="238.4" r="1.2"/><circle cx="404.9" cy="238.9" r="0.7"/><circle cx="414.7" cy="249.3" r="1"/><circle cx="448.7" cy="252.8" r="1.1"/><circle cx="479.4" cy="274" r="1"/><circle cx="408" cy="270.9" r="0.9"/><circle cx="461.9" cy="230.6" r="0.8"/><circle cx="460" cy="223.9" r="0.6"/><circle cx="455.1" cy="266.4" r="0.9"/><circle cx="433.6" cy="272.7" r="0.7"/><circle cx="412.7" cy="255.1" r="0.7"/><circle cx="447" cy="251" r="0.9"/><circle cx="481.4" cy="256" r="1"/><circle cx="439.4" cy="270" r="0.8"/><circle cx="423.4" cy="247" r="0.8"/><circle cx="417.4" cy="233.9" r="1.1"/><circle cx="407.2" cy="261.2" r="0.9"/><circle cx="474.2" cy="254.6" r="1.2"/><circle cx="454.9" cy="230.8" r="0.9"/><circle cx="446.7" cy="260.8" r="0.8"/></g><g fill="#a07cc4"><circle cx="450.7" cy="279.9" r="0.6"/><circle cx="426.6" cy="280.2" r="1"/><circle cx="428.7" cy="235.6" r="1.2"/><circle cx="427" cy="241.4" r="0.9"/><circle cx="458.4" cy="250.9" r="0.7"/><circle cx="409.7" cy="238.7" r="1.2"/><circle cx="470.6" cy="275.3" r="1.1"/><circle cx="435.5" cy="228.9" r="1"/><circle cx="478" cy="224.5" r="0.9"/><circle cx="402.7" cy="270.8" r="0.9"/><circle cx="468.4" cy="245.7" r="0.7"/><circle cx="409.5" cy="239.4" r="0.9"/><circle cx="462.2" cy="269.3" r="1.2"/><circle cx="403" cy="258.3" r="1.1"/><circle cx="442.3" cy="257.7" r="1.1"/><circle cx="429.2" cy="280.9" r="0.8"/><circle cx="437.3" cy="281.6" r="0.9"/><circle cx="469.7" cy="231.4" r="1.1"/><circle cx="430.3" cy="260.2" r="0.7"/><circle cx="441.3" cy="236.1" r="1"/><circle cx="413.5" cy="230.3" r="0.9"/><circle cx="450" cy="244.6" r="1.1"/><circle cx="434.5" cy="229.5" r="0.7"/><circle cx="471.8" cy="233.2" r="0.7"/><circle cx="409.1" cy="243" r="0.8"/><circle cx="443.5" cy="223.9" r="0.9"/><circle cx="459.1" cy="250.2" r="0.8"/><circle cx="453.9" cy="228.7" r="0.8"/><circle cx="420.2" cy="257.3" r="1"/><circle cx="462.5" cy="283.5" r="1.1"/><circle cx="456.3" cy="273.1" r="0.6"/><circle cx="447.9" cy="237.9" r="0.9"/><circle cx="415.3" cy="239.9" r="1.2"/><circle cx="434.9" cy="285.6" r="1.1"/><circle cx="473.9" cy="283.1" r="0.7"/><circle cx="455" cy="279.4" r="1"/><circle cx="409.2" cy="240.3" r="1.1"/><circle cx="422.7" cy="242" r="0.9"/><circle cx="446.5" cy="243.7" r="0.7"/><circle cx="473.9" cy="254.2" r="1.1"/><circle cx="460.8" cy="249.3" r="1.1"/><circle cx="431.9" cy="227.9" r="1.1"/><circle cx="423.1" cy="272.7" r="0.8"/><circle cx="449" cy="285.4" r="1.2"/><circle cx="472.2" cy="270" r="0.8"/><circle cx="421.4" cy="276" r="1"/><circle cx="418" cy="280.3" r="1"/><circle cx="464.3" cy="270.6" r="0.9"/><circle cx="464" cy="275" r="0.9"/><circle cx="482.6" cy="221.1" r="0.8"/><circle cx="408.8" cy="254" r="0.7"/><circle cx="405.3" cy="273.1" r="0.9"/><circle cx="480.5" cy="270.4" r="1.1"/><circle cx="403.8" cy="233.6" r="1.1"/><circle cx="470" cy="255.1" r="1.1"/><circle cx="435.5" cy="266.1" r="0.7"/><circle cx="466.2" cy="229.3" r="0.9"/><circle cx="469" cy="284" r="1.1"/><circle cx="436.7" cy="244.4" r="0.7"/><circle cx="418.5" cy="228.5" r="1.2"/><circle cx="473.8" cy="234.8" r="1"/><circle cx="433.7" cy="243.9" r="0.9"/><circle cx="470.1" cy="266.6" r="1.1"/><circle cx="459.2" cy="233.7" r="0.9"/><circle cx="415.7" cy="279.7" r="0.6"/><circle cx="453.4" cy="275.5" r="1.1"/><circle cx="480" cy="234.7" r="0.7"/><circle cx="419.2" cy="284.8" r="1.2"/><circle cx="453" cy="260.1" r="1"/><circle cx="418.1" cy="239.6" r="1.1"/><circle cx="432.8" cy="262.1" r="1.1"/><circle cx="431.9" cy="274.5" r="0.9"/><circle cx="442.7" cy="244" r="1.1"/><circle cx="457" cy="224.4" r="0.6"/><circle cx="428.5" cy="268.1" r="0.9"/><circle cx="413.4" cy="223.1" r="1.1"/><circle cx="480" cy="265.4" r="0.9"/><circle cx="409.3" cy="272.3" r="1"/><circle cx="419.8" cy="244.1" r="0.8"/><circle cx="415.8" cy="273.1" r="1"/><circle cx="437.3" cy="264" r="1.1"/><circle cx="433.7" cy="253.9" r="0.6"/><circle cx="409.4" cy="261.6" r="0.7"/><circle cx="476.1" cy="223.1" r="1.1"/><circle cx="404.9" cy="233.6" r="1"/><circle cx="414.4" cy="227.6" r="1.1"/><circle cx="412.3" cy="281.6" r="1.2"/><circle cx="449.4" cy="242.1" r="0.9"/><circle cx="469.9" cy="285.3" r="1"/><circle cx="425.9" cy="233.5" r="0.7"/><circle cx="465.1" cy="229.8" r="0.7"/><circle cx="433" cy="271.8" r="0.8"/><circle cx="422" cy="259.5" r="0.7"/><circle cx="421.8" cy="232.4" r="0.6"/></g><radialGradient id="g86782072"><stop offset="0" stop-color="#a488cc" stop-opacity="0.6"/><stop offset="0.6" stop-color="#a488cc" stop-opacity="0.42"/><stop offset="1" stop-color="#a488cc" stop-opacity="0"/></radialGradient><ellipse cx="447" cy="262" rx="8" ry="6" fill="url(#g86782072)"/><radialGradient id="g96937974"><stop offset="0" stop-color="#9a7cc4" stop-opacity="0.5"/><stop offset="0.6" stop-color="#9a7cc4" stop-opacity="0.35"/><stop offset="1" stop-color="#9a7cc4" stop-opacity="0"/></radialGradient><ellipse cx="430" cy="250" rx="7" ry="5" fill="url(#g96937974)"/><g fill="#c8b4e4"><circle cx="400.1" cy="277.7" r="0.9"/><circle cx="421.2" cy="222.1" r="0.8"/><circle cx="411.6" cy="261.4" r="1.1"/><circle cx="424" cy="260" r="0.9"/><circle cx="414.5" cy="265.1" r="1"/></g><g fill="#d8c8ec"><circle cx="470.7" cy="226.9" r="0.7"/><circle cx="451.3" cy="277.9" r="0.8"/><circle cx="446.2" cy="236.1" r="0.8"/><circle cx="471.8" cy="277.4" r="0.7"/><circle cx="439.4" cy="285.3" r="1.1"/><circle cx="441.2" cy="260" r="0.8"/><circle cx="405.3" cy="281.4" r="0.8"/><circle cx="406.9" cy="275.1" r="0.9"/><circle cx="417.4" cy="268.2" r="1.1"/><circle cx="446" cy="280.8" r="0.6"/><circle cx="435.7" cy="284.8" r="0.7"/><circle cx="419.9" cy="230.8" r="0.7"/><circle cx="442.5" cy="231.4" r="1.1"/></g></g><rect x="401.9" y="224.5" width="9.5" height="5.6" fill="#fbf8fb"/><text class="lb" x="402.7" y="229" font-size="4.6" fill="#555" textLength="7.9" lengthAdjust="spacingAndGlyphs">100x</text></g><clipPath id="c13"><rect x="400.7" y="284.8" width="80.3" height="60.7"/></clipPath><g clip-path="url(#c13)"><g filter="url(#bl)"><rect x="400.7" y="284.8" width="80.3" height="60.7" fill="#a888cc"/><g fill="#3e2480"><circle cx="429.2" cy="313.9" r="1.6"/><circle cx="468.3" cy="338.5" r="1.4"/><circle cx="441.2" cy="337.5" r="1.9"/><circle cx="403" cy="341" r="1.7"/><circle cx="449.8" cy="288" r="1.7"/><circle cx="450.7" cy="302.1" r="1.5"/><circle cx="472.3" cy="334.5" r="1.4"/><circle cx="406.4" cy="299.9" r="2"/><circle cx="469.2" cy="298.6" r="1.6"/><circle cx="418.5" cy="343.2" r="1.5"/><circle cx="458.4" cy="303.8" r="1.5"/><circle cx="403.7" cy="305.3" r="1.3"/><circle cx="434.5" cy="301.5" r="1.4"/><circle cx="431.4" cy="306.2" r="1.5"/><circle cx="430.3" cy="309.5" r="1.3"/><circle cx="422.6" cy="289" r="1.6"/><circle cx="425.9" cy="336.4" r="1.6"/><circle cx="474.7" cy="343.1" r="1.4"/><circle cx="424.7" cy="301.2" r="1.9"/><circle cx="400.6" cy="285.3" r="1.9"/><circle cx="476.1" cy="328.6" r="1.5"/><circle cx="428.1" cy="305.4" r="1.8"/><circle cx="408.5" cy="337.3" r="1.9"/><circle cx="404.1" cy="293.7" r="1.8"/><circle cx="455.3" cy="334.1" r="1.3"/><circle cx="473.9" cy="314.6" r="1.4"/><circle cx="452.6" cy="339" r="1.3"/><circle cx="464.7" cy="287.1" r="1.4"/><circle cx="400.4" cy="298.2" r="1.5"/><circle cx="414.9" cy="331.8" r="1.7"/><circle cx="438.3" cy="305" r="1.7"/><circle cx="435.4" cy="284.4" r="1.8"/><circle cx="434" cy="305.6" r="1.4"/><circle cx="470.3" cy="326" r="1.4"/><circle cx="400.9" cy="331.3" r="1.6"/><circle cx="424.3" cy="304" r="1.5"/><circle cx="472.3" cy="301.2" r="2"/><circle cx="482.4" cy="306.5" r="1.6"/><circle cx="459.5" cy="325.6" r="1.3"/><circle cx="433.2" cy="295.3" r="1.7"/><circle cx="480.4" cy="325.8" r="1.5"/><circle cx="479.1" cy="310.8" r="1.7"/><circle cx="455.5" cy="294.8" r="1.9"/><circle cx="451.2" cy="310.1" r="1.7"/><circle cx="452.8" cy="334.2" r="1.8"/><circle cx="456.6" cy="311.3" r="1.3"/><circle cx="431.3" cy="338.9" r="1.9"/><circle cx="420.8" cy="299.8" r="1.6"/><circle cx="430.8" cy="288.5" r="2"/><circle cx="414.2" cy="337.9" r="1.9"/><circle cx="464.3" cy="313.1" r="1.9"/><circle cx="480.4" cy="347.4" r="1.9"/><circle cx="431.7" cy="318.2" r="1.5"/><circle cx="405.4" cy="286.6" r="1.5"/><circle cx="462.3" cy="318" r="1.7"/><circle cx="436.5" cy="289.8" r="1.3"/><circle cx="441.4" cy="322.3" r="1.9"/><circle cx="464.7" cy="334.6" r="2"/><circle cx="442.2" cy="330.6" r="1.9"/><circle cx="412.5" cy="284.7" r="1.6"/><circle cx="480.4" cy="311.5" r="1.8"/><circle cx="422.5" cy="303.1" r="1.5"/><circle cx="475.3" cy="328.1" r="1.9"/><circle cx="420.5" cy="339.2" r="1.3"/><circle cx="411.3" cy="321.3" r="1.6"/><circle cx="403" cy="313.9" r="1.8"/><circle cx="406.2" cy="284.6" r="1.6"/><circle cx="410.5" cy="347" r="1.5"/><circle cx="422.7" cy="339" r="1.8"/><circle cx="422.3" cy="337.8" r="1.4"/><circle cx="426.4" cy="289.5" r="2"/><circle cx="440.4" cy="304.2" r="1.9"/><circle cx="451.9" cy="347" r="1.3"/><circle cx="418.1" cy="293.4" r="1.9"/><circle cx="408.9" cy="302.9" r="1.6"/><circle cx="460.3" cy="316.2" r="1.4"/><circle cx="477" cy="330.7" r="1.9"/><circle cx="463.5" cy="285.1" r="1.6"/><circle cx="462.4" cy="299.9" r="1.6"/><circle cx="438.9" cy="302.3" r="1.9"/><circle cx="471.6" cy="330.4" r="1.3"/><circle cx="411.4" cy="295.7" r="1.8"/><circle cx="422.4" cy="340.4" r="1.6"/><circle cx="403" cy="319.1" r="1.9"/><circle cx="477.2" cy="292.4" r="1.5"/><circle cx="405" cy="328.7" r="1.4"/><circle cx="401.6" cy="343.6" r="1.7"/><circle cx="463.9" cy="337.8" r="1.9"/><circle cx="414.4" cy="309.8" r="1.9"/><circle cx="457.1" cy="322.5" r="1.4"/><circle cx="447.4" cy="327.1" r="1.4"/><circle cx="460.8" cy="330.1" r="1.4"/><circle cx="422.9" cy="329.9" r="1.7"/><circle cx="467.8" cy="306.7" r="1.3"/><circle cx="472.8" cy="309.1" r="1.5"/><circle cx="461.5" cy="310.6" r="1.6"/><circle cx="437.5" cy="308.3" r="1.5"/><circle cx="419.6" cy="340.1" r="1.8"/><circle cx="452.1" cy="321.7" r="1.6"/><circle cx="474.5" cy="283.5" r="1.8"/><circle cx="413.1" cy="317.8" r="1.4"/><circle cx="476.5" cy="335.4" r="1.9"/><circle cx="447.8" cy="288.2" r="1.5"/><circle cx="474.9" cy="328.9" r="1.5"/><circle cx="482.3" cy="333.8" r="1.6"/><circle cx="451.9" cy="293.3" r="1.7"/><circle cx="418.6" cy="328.6" r="1.3"/><circle cx="398.9" cy="310.7" r="1.7"/><circle cx="449.3" cy="317.7" r="1.9"/><circle cx="404.2" cy="328.9" r="1.4"/><circle cx="460.3" cy="308" r="1.5"/><circle cx="482" cy="306.6" r="1.5"/></g><g fill="#6a48a8"><circle cx="418.8" cy="297.2" r="1.5"/><circle cx="424.8" cy="333.9" r="2"/><circle cx="464.7" cy="306.2" r="1.6"/><circle cx="419.1" cy="324.5" r="1.4"/><circle cx="442" cy="322.6" r="1.9"/><circle cx="416.6" cy="307.6" r="1.9"/><circle cx="405" cy="335.5" r="1.9"/><circle cx="480.3" cy="324.4" r="1.7"/><circle cx="475.7" cy="325.6" r="1.3"/><circle cx="452" cy="298.7" r="1.5"/><circle cx="446.8" cy="333.9" r="1.4"/><circle cx="449.1" cy="332" r="1.6"/><circle cx="427.6" cy="322.3" r="1.4"/><circle cx="432.6" cy="337.5" r="1.7"/><circle cx="452.7" cy="291.8" r="1.6"/><circle cx="424.8" cy="332.1" r="1.8"/><circle cx="405.4" cy="306.1" r="1.9"/><circle cx="403.2" cy="322.5" r="1.4"/><circle cx="422.5" cy="302.6" r="2"/><circle cx="430.6" cy="289.4" r="1.6"/><circle cx="481.3" cy="340.8" r="1.9"/><circle cx="480.2" cy="343.6" r="1.5"/><circle cx="410.5" cy="314.3" r="1.3"/><circle cx="469.6" cy="334.8" r="1.5"/><circle cx="431.2" cy="302.6" r="1.8"/><circle cx="401.6" cy="286.2" r="1.6"/><circle cx="481.2" cy="294.2" r="1.4"/><circle cx="462.2" cy="325.1" r="1.8"/><circle cx="453.4" cy="328.4" r="1.9"/><circle cx="449.7" cy="319.4" r="1.8"/><circle cx="437.9" cy="305.8" r="1.6"/><circle cx="469.1" cy="289" r="1.6"/><circle cx="414.4" cy="340.6" r="1.6"/><circle cx="427.5" cy="311.8" r="1.8"/><circle cx="426.4" cy="299.9" r="1.5"/><circle cx="466.8" cy="325.7" r="1.5"/><circle cx="407.1" cy="336.6" r="1.7"/><circle cx="430.8" cy="316" r="1.4"/><circle cx="451.7" cy="331.3" r="1.9"/><circle cx="482.7" cy="308.3" r="2"/><circle cx="423.1" cy="343.1" r="1.7"/><circle cx="425.8" cy="301.6" r="1.3"/><circle cx="447.5" cy="333.2" r="1.5"/><circle cx="406.6" cy="287.6" r="1.8"/><circle cx="475.9" cy="347.3" r="1.3"/><circle cx="467.4" cy="306.6" r="1.5"/><circle cx="443.6" cy="305.8" r="2"/><circle cx="479.1" cy="289.6" r="1.5"/><circle cx="427" cy="317.6" r="1.3"/><circle cx="430" cy="333.1" r="1.5"/><circle cx="410.1" cy="342.5" r="1.5"/><circle cx="478.2" cy="321.7" r="1.9"/><circle cx="449.2" cy="338.1" r="1.4"/><circle cx="426.9" cy="292.5" r="1.7"/><circle cx="431.1" cy="296.6" r="1.7"/><circle cx="444.7" cy="288.9" r="1.9"/><circle cx="419.9" cy="327.1" r="1.3"/><circle cx="456.7" cy="297.3" r="1.8"/><circle cx="465.1" cy="320.1" r="1.5"/><circle cx="480.2" cy="308.1" r="1.4"/><circle cx="474.5" cy="305.3" r="1.5"/><circle cx="462.8" cy="286.1" r="1.4"/><circle cx="408.3" cy="321.6" r="1.8"/><circle cx="477.2" cy="331.4" r="2"/><circle cx="473.8" cy="295" r="1.6"/><circle cx="425.3" cy="302.9" r="1.7"/><circle cx="420.3" cy="331.6" r="1.8"/><circle cx="438.2" cy="314.9" r="1.8"/><circle cx="443.7" cy="314.5" r="1.8"/><circle cx="438.7" cy="329.3" r="1.6"/><circle cx="418.1" cy="340.9" r="1.5"/><circle cx="445.7" cy="321.4" r="1.9"/><circle cx="436.6" cy="316.3" r="1.7"/><circle cx="414.6" cy="311.9" r="1.9"/><circle cx="481.5" cy="345.5" r="1.6"/><circle cx="441.4" cy="324.2" r="1.5"/><circle cx="410.9" cy="311.3" r="1.7"/><circle cx="476.2" cy="328.9" r="1.4"/><circle cx="420.5" cy="300.3" r="1.7"/><circle cx="460.8" cy="335.9" r="1.6"/><circle cx="412.7" cy="329.9" r="1.4"/><circle cx="460.9" cy="342.4" r="1.9"/><circle cx="461.4" cy="302.2" r="1.8"/><circle cx="462.2" cy="328.9" r="1.9"/><circle cx="470.9" cy="311.2" r="1.5"/><circle cx="408.8" cy="325.3" r="2"/><circle cx="433.1" cy="324.4" r="1.9"/><circle cx="460" cy="334.5" r="1.4"/><circle cx="454.1" cy="289" r="2"/><circle cx="445.5" cy="326.4" r="1.7"/><circle cx="473.4" cy="328.8" r="1.7"/><circle cx="476.7" cy="327.6" r="1.8"/><circle cx="403.9" cy="313.7" r="1.8"/><circle cx="433.5" cy="284.7" r="1.4"/><circle cx="434.8" cy="307.9" r="1.7"/><circle cx="460.9" cy="340.9" r="2"/><circle cx="404.8" cy="345" r="1.5"/><circle cx="429" cy="336.6" r="1.9"/><circle cx="463.9" cy="317.6" r="1.7"/><circle cx="451.6" cy="340.1" r="1.4"/><circle cx="460.7" cy="341.4" r="1.4"/><circle cx="452.7" cy="317.7" r="1.9"/><circle cx="465.7" cy="326.5" r="1.5"/><circle cx="402.4" cy="312.6" r="1.4"/><circle cx="452.9" cy="321.5" r="1.9"/><circle cx="407.6" cy="293.8" r="1.8"/><circle cx="419.3" cy="315.6" r="1.3"/><circle cx="417.4" cy="343.4" r="1.7"/><circle cx="438.9" cy="293.3" r="2"/><circle cx="450.2" cy="326.7" r="1.9"/><circle cx="441.6" cy="321.9" r="1.8"/><circle cx="450.1" cy="287.3" r="2"/><circle cx="402.3" cy="294.6" r="1.4"/><circle cx="423.2" cy="344.9" r="1.6"/><circle cx="482.4" cy="291.7" r="1.5"/><circle cx="481.8" cy="329.7" r="1.9"/><circle cx="447.3" cy="337" r="1.8"/><circle cx="451.5" cy="324.7" r="1.7"/><circle cx="468.6" cy="294.5" r="1.5"/><circle cx="455" cy="336.7" r="1.8"/></g><g fill="#54309a"><circle cx="455" cy="284.6" r="1.6"/><circle cx="476.2" cy="290.1" r="1.8"/><circle cx="474.5" cy="327.7" r="1.5"/><circle cx="452" cy="301.2" r="1.6"/><circle cx="431.3" cy="286.5" r="1.8"/><circle cx="439.3" cy="291.6" r="1.6"/><circle cx="411.8" cy="294.8" r="1.7"/><circle cx="427.5" cy="316.2" r="1.6"/><circle cx="453.6" cy="285.1" r="1.9"/><circle cx="446.2" cy="334.9" r="1.7"/><circle cx="423.1" cy="333.5" r="1.5"/><circle cx="425.5" cy="293.8" r="1.6"/><circle cx="426.4" cy="321.4" r="1.6"/><circle cx="417.5" cy="294.6" r="1.6"/><circle cx="475.9" cy="288.6" r="1.4"/><circle cx="402.3" cy="299.8" r="1.6"/><circle cx="419.3" cy="309.6" r="1.3"/><circle cx="425.1" cy="304.4" r="1.5"/><circle cx="429.6" cy="315.9" r="1.5"/><circle cx="445.3" cy="330.5" r="1.7"/><circle cx="466.4" cy="328.1" r="1.8"/><circle cx="451.4" cy="308.4" r="2"/><circle cx="482" cy="335" r="1.3"/><circle cx="419.8" cy="322.4" r="1.8"/><circle cx="468.2" cy="311.6" r="1.5"/><circle cx="436.4" cy="286.6" r="1.9"/><circle cx="439.3" cy="339.9" r="1.6"/><circle cx="474.8" cy="343.9" r="1.4"/><circle cx="440.7" cy="342.1" r="1.4"/><circle cx="411.3" cy="322.5" r="1.9"/><circle cx="471.1" cy="311.7" r="1.8"/><circle cx="413.7" cy="332.4" r="1.8"/><circle cx="441.1" cy="336.1" r="1.6"/><circle cx="419.6" cy="319.6" r="1.7"/><circle cx="399.7" cy="285.5" r="1.3"/><circle cx="472.5" cy="295.7" r="1.3"/><circle cx="447.8" cy="298.3" r="1.9"/><circle cx="447.4" cy="345.5" r="2"/><circle cx="411.8" cy="290" r="1.4"/><circle cx="420.1" cy="298.6" r="1.7"/><circle cx="428.2" cy="313.1" r="2"/><circle cx="420.1" cy="289.7" r="1.3"/><circle cx="421.9" cy="309.4" r="1.4"/><circle cx="473.2" cy="343.7" r="2"/><circle cx="421.1" cy="322" r="1.9"/><circle cx="476.4" cy="285.7" r="1.6"/><circle cx="448.5" cy="338.3" r="1.6"/><circle cx="458" cy="310.8" r="1.8"/><circle cx="441.4" cy="346" r="1.3"/><circle cx="436.8" cy="287.7" r="1.5"/><circle cx="460.3" cy="296.5" r="1.8"/><circle cx="407.7" cy="345.1" r="1.5"/><circle cx="469" cy="332.9" r="1.4"/><circle cx="462.9" cy="299" r="1.6"/><circle cx="440.5" cy="316.1" r="1.8"/><circle cx="452.6" cy="286.4" r="1.8"/><circle cx="406.5" cy="319.1" r="1.6"/><circle cx="401" cy="284.3" r="1.5"/><circle cx="410.7" cy="304.1" r="1.9"/><circle cx="474.5" cy="288.3" r="1.9"/><circle cx="475.7" cy="327.2" r="1.5"/><circle cx="412.8" cy="317.5" r="1.9"/><circle cx="427.5" cy="324.1" r="1.4"/><circle cx="408.7" cy="325.4" r="1.8"/><circle cx="473.9" cy="333.2" r="1.7"/><circle cx="424.3" cy="332.1" r="1.4"/><circle cx="475.9" cy="344.4" r="1.6"/><circle cx="414.5" cy="327.7" r="2"/><circle cx="481.4" cy="299.5" r="1.6"/><circle cx="399.9" cy="335.1" r="1.6"/><circle cx="412.6" cy="314.1" r="1.7"/><circle cx="425.5" cy="297.7" r="1.6"/><circle cx="459" cy="297.6" r="1.9"/><circle cx="443.8" cy="295.1" r="1.9"/><circle cx="436.9" cy="340.8" r="1.9"/><circle cx="452.2" cy="333.6" r="1.6"/><circle cx="481.4" cy="324.9" r="1.4"/><circle cx="467.1" cy="342.7" r="1.3"/><circle cx="463.7" cy="337.7" r="1.7"/><circle cx="406.4" cy="333.1" r="1.7"/><circle cx="459.5" cy="309.8" r="1.7"/><circle cx="471" cy="304.3" r="1.7"/><circle cx="441.1" cy="346.5" r="1.3"/><circle cx="408.8" cy="315.7" r="1.8"/><circle cx="421.9" cy="312.8" r="1.8"/><circle cx="411.3" cy="284.2" r="1.6"/><circle cx="424.7" cy="340.4" r="1.3"/><circle cx="454.5" cy="298.3" r="1.8"/><circle cx="420.2" cy="307.1" r="1.5"/><circle cx="448.1" cy="331.7" r="1.9"/><circle cx="455.9" cy="293.7" r="1.8"/><circle cx="462.8" cy="308.9" r="1.5"/><circle cx="442" cy="339.3" r="1.4"/><circle cx="420.6" cy="330.2" r="1.4"/><circle cx="407.6" cy="301.9" r="2"/><circle cx="465.2" cy="337.7" r="1.9"/><circle cx="478.2" cy="293.5" r="1.4"/><circle cx="414.8" cy="343.2" r="1.8"/><circle cx="440.7" cy="306.6" r="2"/><circle cx="425.8" cy="319" r="1.7"/><circle cx="480.8" cy="322.7" r="1.9"/><circle cx="466.9" cy="341.8" r="1.9"/><circle cx="462.9" cy="317.9" r="1.6"/><circle cx="404.8" cy="337" r="1.5"/><circle cx="420.3" cy="311" r="1.7"/><circle cx="445" cy="342.3" r="1.7"/><circle cx="399.1" cy="316.6" r="1.4"/><circle cx="467.9" cy="328.9" r="1.9"/><circle cx="460.4" cy="295.7" r="1.4"/><circle cx="443.7" cy="314.2" r="1.9"/><circle cx="438" cy="303.8" r="1.8"/><circle cx="423.3" cy="345.3" r="1.9"/><circle cx="456.3" cy="330.1" r="1.5"/></g><g fill="#4a2a8c"><circle cx="452.9" cy="344.2" r="1.5"/><circle cx="442.8" cy="298" r="1.4"/><circle cx="412.5" cy="314" r="1.9"/><circle cx="453.9" cy="345.4" r="1.8"/><circle cx="444.2" cy="325.5" r="1.6"/><circle cx="417.9" cy="289.3" r="1.4"/><circle cx="405.5" cy="314.9" r="1.8"/><circle cx="458.6" cy="308.8" r="1.6"/><circle cx="451.9" cy="297.1" r="1.6"/><circle cx="400.6" cy="343.1" r="1.8"/><circle cx="427.7" cy="319.5" r="1.4"/><circle cx="447.1" cy="292.7" r="1.8"/><circle cx="448.9" cy="305.7" r="1.6"/><circle cx="454.8" cy="301.8" r="1.8"/><circle cx="433.2" cy="332.6" r="1.8"/><circle cx="453.9" cy="334.9" r="1.7"/><circle cx="428.8" cy="283" r="1.3"/><circle cx="457.3" cy="303.8" r="2"/><circle cx="469.1" cy="318.9" r="1.5"/><circle cx="447.1" cy="283.7" r="1.8"/><circle cx="429.1" cy="303.2" r="1.7"/><circle cx="430.3" cy="295.6" r="1.9"/><circle cx="419.2" cy="345.6" r="1.7"/><circle cx="408.2" cy="326" r="1.4"/><circle cx="406.4" cy="298.5" r="1.6"/><circle cx="422.7" cy="337.7" r="1.7"/><circle cx="414.5" cy="308.2" r="1.6"/><circle cx="471.2" cy="283.4" r="1.9"/><circle cx="470.7" cy="329" r="1.8"/><circle cx="471" cy="323.7" r="1.5"/><circle cx="411.6" cy="317.9" r="1.9"/><circle cx="414.6" cy="317.1" r="2"/><circle cx="441.7" cy="344.9" r="1.5"/><circle cx="409.3" cy="339.6" r="1.9"/><circle cx="464.4" cy="311.2" r="1.8"/><circle cx="457.9" cy="284.7" r="1.6"/><circle cx="481.8" cy="302" r="1.5"/><circle cx="443" cy="313.1" r="1.6"/><circle cx="404" cy="320.6" r="1.7"/><circle cx="402" cy="290.9" r="1.8"/><circle cx="424.9" cy="284" r="2"/><circle cx="422.5" cy="301.6" r="1.4"/><circle cx="482.9" cy="305" r="1.6"/><circle cx="478.8" cy="304.6" r="2"/><circle cx="415.4" cy="308.4" r="1.3"/><circle cx="406.3" cy="295.7" r="1.9"/><circle cx="450.2" cy="326.2" r="1.9"/><circle cx="435.3" cy="331.6" r="1.4"/><circle cx="427.8" cy="339.8" r="1.3"/><circle cx="467.6" cy="306.9" r="1.7"/><circle cx="444.4" cy="337.9" r="1.5"/><circle cx="410.3" cy="326.3" r="1.7"/><circle cx="408.5" cy="294.3" r="1.3"/><circle cx="420.8" cy="297.1" r="1.8"/><circle cx="428.5" cy="292.9" r="1.5"/><circle cx="447.5" cy="285.1" r="1.7"/><circle cx="431.4" cy="314.5" r="1.9"/><circle cx="422.8" cy="337" r="1.8"/><circle cx="439.5" cy="314.6" r="1.9"/><circle cx="470.5" cy="346" r="1.9"/><circle cx="454.6" cy="317" r="1.9"/><circle cx="444.3" cy="339.4" r="1.5"/><circle cx="474.5" cy="325.7" r="1.7"/><circle cx="439" cy="289.6" r="1.4"/><circle cx="410.3" cy="283.1" r="1.5"/><circle cx="443.7" cy="290.8" r="1.6"/><circle cx="455.6" cy="314.5" r="1.4"/><circle cx="453.2" cy="344.7" r="1.5"/><circle cx="471.1" cy="317.4" r="2"/><circle cx="450.4" cy="331.7" r="1.7"/><circle cx="461.4" cy="288.2" r="1.9"/><circle cx="433.5" cy="294.4" r="1.5"/><circle cx="403" cy="295.3" r="1.5"/><circle cx="413.6" cy="344.4" r="1.5"/><circle cx="427" cy="290.9" r="1.6"/><circle cx="473" cy="320.7" r="1.8"/><circle cx="460.2" cy="290.3" r="1.4"/><circle cx="469.1" cy="342.8" r="1.7"/><circle cx="429.1" cy="309.4" r="1.4"/><circle cx="444.1" cy="339.2" r="1.9"/><circle cx="400" cy="329.4" r="1.3"/><circle cx="438" cy="346.3" r="1.6"/><circle cx="420.5" cy="330.2" r="1.9"/><circle cx="449.8" cy="308.5" r="1.5"/><circle cx="451.7" cy="290" r="1.3"/><circle cx="406.4" cy="333" r="1.4"/><circle cx="467.7" cy="311.7" r="1.9"/><circle cx="480.9" cy="331.2" r="1.4"/><circle cx="406.4" cy="293.2" r="1.8"/><circle cx="410.3" cy="345.8" r="1.8"/><circle cx="413.1" cy="304.7" r="1.7"/><circle cx="402.1" cy="312.7" r="1.5"/><circle cx="428.3" cy="345.7" r="1.7"/><circle cx="449.8" cy="332.8" r="1.7"/><circle cx="468.4" cy="333.3" r="1.8"/><circle cx="408.1" cy="310.8" r="1.5"/><circle cx="414.2" cy="297.6" r="2"/><circle cx="439.9" cy="305.5" r="1.4"/><circle cx="441" cy="336.6" r="1.3"/><circle cx="467.6" cy="302.2" r="1.8"/><circle cx="461.8" cy="305.6" r="1.9"/><circle cx="401.3" cy="303.2" r="1.8"/><circle cx="441.2" cy="291.8" r="1.9"/><circle cx="452" cy="307.8" r="1.7"/><circle cx="482.3" cy="312.1" r="1.8"/><circle cx="445.4" cy="283.3" r="1.9"/><circle cx="467.7" cy="316.4" r="1.3"/><circle cx="474.8" cy="345.7" r="1.3"/><circle cx="401.7" cy="286.5" r="1.7"/><circle cx="431.1" cy="295.8" r="1.5"/><circle cx="453.4" cy="288.8" r="1.3"/></g><g fill="#5e3aa0"><circle cx="476.2" cy="313.5" r="1.9"/><circle cx="476.2" cy="289.5" r="1.4"/><circle cx="473.2" cy="313" r="1.5"/><circle cx="454.9" cy="342.6" r="1.7"/><circle cx="473.1" cy="339.5" r="1.6"/><circle cx="447" cy="345.8" r="1.9"/><circle cx="405.4" cy="323.7" r="1.8"/><circle cx="462.2" cy="290.3" r="1.9"/><circle cx="479.8" cy="293.6" r="1.3"/><circle cx="465" cy="284.2" r="1.4"/><circle cx="445.1" cy="337.4" r="1.9"/><circle cx="401" cy="296" r="1.4"/><circle cx="444.1" cy="284" r="1.3"/><circle cx="450.4" cy="340.6" r="1.8"/><circle cx="444" cy="309.3" r="1.4"/><circle cx="440" cy="292" r="1.5"/><circle cx="454.1" cy="306.9" r="1.7"/><circle cx="445.7" cy="304.4" r="1.9"/><circle cx="412.6" cy="317.2" r="1.5"/><circle cx="430.7" cy="319.7" r="1.5"/><circle cx="424.7" cy="289.5" r="1.7"/><circle cx="441" cy="287.4" r="1.4"/><circle cx="399.6" cy="285.2" r="1.8"/><circle cx="419" cy="312.6" r="2"/><circle cx="419.6" cy="293.4" r="1.5"/><circle cx="446.9" cy="338.4" r="1.4"/><circle cx="445" cy="285.4" r="1.4"/><circle cx="451.8" cy="310.2" r="1.8"/><circle cx="444.6" cy="290.5" r="1.9"/><circle cx="401.3" cy="319.8" r="1.5"/><circle cx="442.9" cy="312.9" r="1.5"/><circle cx="405.1" cy="283.8" r="1.5"/><circle cx="403.9" cy="310.8" r="1.4"/><circle cx="471.8" cy="326" r="1.7"/><circle cx="461" cy="329.1" r="1.6"/><circle cx="417.7" cy="325.8" r="1.5"/><circle cx="400.6" cy="345.3" r="1.8"/><circle cx="439.6" cy="335.8" r="1.8"/><circle cx="429.1" cy="304.4" r="2"/><circle cx="441.4" cy="286" r="1.4"/><circle cx="440.6" cy="346.5" r="1.5"/><circle cx="468.3" cy="316.5" r="1.8"/><circle cx="471" cy="309.1" r="1.8"/><circle cx="453.4" cy="283.3" r="1.7"/><circle cx="437.2" cy="324.1" r="1.4"/><circle cx="467.3" cy="335.1" r="1.9"/><circle cx="482.2" cy="303.4" r="1.4"/><circle cx="407.8" cy="312.3" r="2"/><circle cx="440.8" cy="298.5" r="1.7"/><circle cx="436.2" cy="288.7" r="2"/><circle cx="478.6" cy="303.8" r="1.3"/><circle cx="465.9" cy="333.3" r="1.4"/><circle cx="438.1" cy="300.6" r="1.9"/><circle cx="406" cy="341.2" r="2"/><circle cx="426.8" cy="334.9" r="2"/><circle cx="407.8" cy="283.5" r="1.9"/><circle cx="412.5" cy="339" r="1.7"/><circle cx="452.8" cy="307.7" r="1.4"/><circle cx="420.5" cy="337" r="1.8"/><circle cx="471.7" cy="341.5" r="1.5"/><circle cx="462.8" cy="301" r="1.7"/><circle cx="423.1" cy="342.9" r="1.3"/><circle cx="435.4" cy="332.5" r="1.7"/><circle cx="417.3" cy="338.8" r="1.5"/><circle cx="467.2" cy="341.1" r="1.6"/><circle cx="438.2" cy="288.1" r="1.7"/><circle cx="438.7" cy="298.6" r="1.4"/><circle cx="426.7" cy="296.1" r="1.3"/><circle cx="471" cy="325.8" r="1.4"/><circle cx="462.8" cy="298.5" r="1.6"/><circle cx="482.6" cy="341.3" r="1.7"/><circle cx="406.4" cy="316.4" r="1.5"/><circle cx="479.1" cy="308" r="1.7"/><circle cx="461.1" cy="287" r="2"/><circle cx="440.5" cy="285.7" r="1.9"/><circle cx="406.9" cy="322.7" r="1.9"/><circle cx="406.8" cy="338.7" r="1.7"/><circle cx="476.2" cy="332.7" r="1.7"/><circle cx="470.8" cy="291.9" r="1.9"/><circle cx="462" cy="307.2" r="1.6"/><circle cx="448.4" cy="296.5" r="1.6"/><circle cx="457.2" cy="307.4" r="1.5"/><circle cx="409" cy="303" r="1.4"/><circle cx="473.4" cy="298" r="1.7"/><circle cx="419.9" cy="297.5" r="1.7"/><circle cx="457.5" cy="337.8" r="1.5"/><circle cx="448.7" cy="323.1" r="1.9"/><circle cx="456.2" cy="304.9" r="1.4"/><circle cx="402" cy="295.2" r="1.5"/><circle cx="467.4" cy="319.6" r="2"/><circle cx="429.8" cy="305.7" r="1.4"/><circle cx="472.3" cy="306.3" r="1.5"/><circle cx="440.4" cy="319.5" r="1.9"/><circle cx="459.4" cy="330.9" r="1.6"/><circle cx="481.4" cy="313.6" r="1.4"/><circle cx="471.2" cy="306.4" r="1.7"/><circle cx="462.7" cy="298.8" r="1.4"/><circle cx="401.5" cy="336.9" r="1.9"/><circle cx="416.7" cy="307.9" r="2"/><circle cx="415.8" cy="288.7" r="1.4"/><circle cx="433" cy="329.6" r="1.8"/><circle cx="401.7" cy="283.1" r="1.9"/><circle cx="475" cy="293.3" r="1.8"/><circle cx="459.3" cy="288.1" r="1.5"/></g><ellipse cx="431" cy="301" rx="2.5" ry="3" fill="#e8dcf2"/><ellipse cx="436" cy="340" rx="2.5" ry="2.5" fill="#e8dcf2"/><ellipse cx="435" cy="312" rx="1.3" ry="1.3" fill="#2a6a8a"/><ellipse cx="432" cy="318" rx="1.3" ry="1.3" fill="#2a6a8a"/></g><rect x="401.9" y="286.3" width="11.5" height="5.6" fill="#fbf8fb"/><text class="lb" x="402.7" y="290.8" font-size="4.6" fill="#555" textLength="9.9" lengthAdjust="spacingAndGlyphs">1000x</text></g><clipPath id="c14"><rect x="218" y="440.4" width="80.5" height="59.2"/></clipPath><g clip-path="url(#c14)"><g filter="url(#bl)"><rect x="218" y="440.4" width="80.5" height="59.2" fill="#d8bce0"/><g fill="#cfb0d8" fill-opacity="0.7"><ellipse cx="0" cy="0" rx="2.6" ry="2.1" transform="translate(229.9 482) rotate(38)"/><ellipse cx="0" cy="0" rx="2.4" ry="1.8" transform="translate(284.3 470.8) rotate(0)"/><ellipse cx="0" cy="0" rx="2.7" ry="2.2" transform="translate(252.9 501.3) rotate(79)"/><ellipse cx="0" cy="0" rx="2.3" ry="2" transform="translate(226.6 497) rotate(61)"/><ellipse cx="0" cy="0" rx="2.8" ry="2" transform="translate(226.3 468.5) rotate(166)"/><ellipse cx="0" cy="0" rx="2.4" ry="1.8" transform="translate(240.7 498.7) rotate(87)"/><circle cx="218.3" cy="444.3" r="2.7"/><circle cx="231.3" cy="449.1" r="2.2"/><ellipse cx="0" cy="0" rx="2.5" ry="2" transform="translate(295.1 453.9) rotate(73)"/><circle cx="230.4" cy="442.8" r="2.2"/><circle cx="292" cy="461.5" r="2"/><ellipse cx="0" cy="0" rx="2.1" ry="1.6" transform="translate(222.1 445.9) rotate(169)"/><ellipse cx="0" cy="0" rx="2.7" ry="1.8" transform="translate(267 470.3) rotate(167)"/><ellipse cx="0" cy="0" rx="2.7" ry="1.9" transform="translate(255.2 442.4) rotate(128)"/><ellipse cx="0" cy="0" rx="2.7" ry="2" transform="translate(297.5 476.6) rotate(28)"/><ellipse cx="0" cy="0" rx="3" ry="2.3" transform="translate(221.4 489.9) rotate(57)"/><circle cx="225.1" cy="443.2" r="1.9"/><ellipse cx="0" cy="0" rx="2.6" ry="2.3" transform="translate(258.7 498.3) rotate(84)"/><circle cx="290" cy="442.8" r="1.8"/><ellipse cx="0" cy="0" rx="2.7" ry="2.2" transform="translate(275.5 490.1) rotate(42)"/><ellipse cx="0" cy="0" rx="2.9" ry="2.6" transform="translate(257.6 483.7) rotate(112)"/><circle cx="272.4" cy="477.7" r="1.9"/><circle cx="264.2" cy="496" r="2.3"/><circle cx="250.1" cy="473.3" r="2.1"/><ellipse cx="0" cy="0" rx="2.4" ry="2" transform="translate(228.9 469.8) rotate(88)"/><circle cx="272.5" cy="450.2" r="1.9"/><ellipse cx="0" cy="0" rx="2.6" ry="2.2" transform="translate(277.5 476.7) rotate(3)"/><ellipse cx="0" cy="0" rx="2.9" ry="2.4" transform="translate(234.4 487.5) rotate(163)"/><ellipse cx="0" cy="0" rx="2.9" ry="2.7" transform="translate(249 497.9) rotate(2)"/><ellipse cx="0" cy="0" rx="2.9" ry="2.1" transform="translate(294.7 472.3) rotate(179)"/><ellipse cx="0" cy="0" rx="2.9" ry="2.2" transform="translate(281.5 485.2) rotate(14)"/><ellipse cx="0" cy="0" rx="2.3" ry="1.9" transform="translate(237.4 465.6) rotate(47)"/><ellipse cx="0" cy="0" rx="2.3" ry="1.8" transform="translate(277.8 501.2) rotate(0)"/><ellipse cx="0" cy="0" rx="2" ry="1.5" transform="translate(264.7 501.5) rotate(132)"/><ellipse cx="0" cy="0" rx="2.9" ry="2" transform="translate(272.9 440.1) rotate(60)"/><ellipse cx="0" cy="0" rx="2.7" ry="2.2" transform="translate(259.4 446.9) rotate(5)"/></g><g fill="#e6d0ec" fill-opacity="0.7"><circle cx="294.8" cy="465.5" r="2"/><circle cx="261.6" cy="482.3" r="2.6"/><circle cx="228.8" cy="480.4" r="2.4"/><ellipse cx="0" cy="0" rx="2.9" ry="2.6" transform="translate(233.6 499.6) rotate(137)"/><ellipse cx="0" cy="0" rx="2.4" ry="2.1" transform="translate(221.9 476.3) rotate(57)"/><ellipse cx="0" cy="0" rx="2.9" ry="2.1" transform="translate(236.8 449.1) rotate(77)"/><circle cx="273.7" cy="481.1" r="2.9"/><ellipse cx="0" cy="0" rx="2.9" ry="2.4" transform="translate(297.2 475.7) rotate(67)"/><ellipse cx="0" cy="0" rx="2.8" ry="2.5" transform="translate(220.9 456.6) rotate(6)"/><circle cx="220.2" cy="447.2" r="2.6"/><ellipse cx="0" cy="0" rx="2.2" ry="1.8" transform="translate(265.1 492.1) rotate(49)"/><ellipse cx="0" cy="0" rx="2.7" ry="2" transform="translate(248.3 446.4) rotate(58)"/><ellipse cx="0" cy="0" rx="2.1" ry="1.7" transform="translate(288 475.3) rotate(172)"/><circle cx="227.3" cy="444.4" r="1.9"/><circle cx="257.7" cy="452.3" r="2"/><ellipse cx="0" cy="0" rx="2.4" ry="2" transform="translate(285.1 489.2) rotate(98)"/><ellipse cx="0" cy="0" rx="3" ry="2.2" transform="translate(258.9 484.8) rotate(125)"/><ellipse cx="0" cy="0" rx="2.9" ry="2.5" transform="translate(243.7 452.8) rotate(6)"/><ellipse cx="0" cy="0" rx="2.3" ry="2" transform="translate(236.7 496.3) rotate(148)"/><ellipse cx="0" cy="0" rx="2.9" ry="2.6" transform="translate(229.7 451.2) rotate(16)"/><ellipse cx="0" cy="0" rx="2.9" ry="2.7" transform="translate(222.7 457.5) rotate(83)"/><ellipse cx="0" cy="0" rx="2.3" ry="2.1" transform="translate(299.7 448.9) rotate(66)"/><ellipse cx="0" cy="0" rx="2.2" ry="1.6" transform="translate(238 498.5) rotate(152)"/><ellipse cx="0" cy="0" rx="2.1" ry="1.9" transform="translate(292 470.4) rotate(128)"/><ellipse cx="0" cy="0" rx="2.3" ry="2" transform="translate(295.5 467.9) rotate(50)"/><ellipse cx="0" cy="0" rx="2.6" ry="1.7" transform="translate(284.5 497.5) rotate(90)"/><circle cx="249.6" cy="466.3" r="2.3"/><circle cx="224" cy="457.9" r="2.3"/><ellipse cx="0" cy="0" rx="2.5" ry="1.7" transform="translate(290.7 439.5) rotate(161)"/><ellipse cx="0" cy="0" rx="2.1" ry="1.9" transform="translate(228.9 448.1) rotate(1)"/><ellipse cx="0" cy="0" rx="2.4" ry="2.1" transform="translate(221 440.7) rotate(117)"/><ellipse cx="0" cy="0" rx="2.2" ry="1.6" transform="translate(218.7 453.1) rotate(35)"/><circle cx="277.5" cy="471.6" r="1.9"/><circle cx="257.7" cy="448.6" r="2.8"/><circle cx="230.6" cy="455.2" r="1.8"/><circle cx="266.6" cy="460.6" r="2.6"/><circle cx="293" cy="498.7" r="2.7"/><circle cx="234" cy="472.1" r="2.2"/><ellipse cx="0" cy="0" rx="2.6" ry="2.4" transform="translate(236.3 465.2) rotate(135)"/><ellipse cx="0" cy="0" rx="2.2" ry="1.8" transform="translate(233.4 488.3) rotate(54)"/><ellipse cx="0" cy="0" rx="2.5" ry="2.2" transform="translate(248.9 478.1) rotate(155)"/><ellipse cx="0" cy="0" rx="2.7" ry="2.5" transform="translate(247.7 454.2) rotate(167)"/><ellipse cx="0" cy="0" rx="2.8" ry="2.6" transform="translate(266.3 459.5) rotate(44)"/><ellipse cx="0" cy="0" rx="2.1" ry="1.9" transform="translate(228.4 490.9) rotate(53)"/></g><g fill="#56348c" fill-opacity="0.95"><circle cx="293.9" cy="471.4" r="1.1"/><circle cx="300.2" cy="453.1" r="1.7"/><circle cx="245.1" cy="448.2" r="1.1"/><circle cx="219.2" cy="478.9" r="1.7"/><circle cx="239.7" cy="476" r="1.8"/><circle cx="279.7" cy="448.9" r="1.2"/><circle cx="286.6" cy="500.3" r="1.3"/><circle cx="282.7" cy="482.2" r="1.5"/><circle cx="267.3" cy="450.9" r="1.2"/><circle cx="224" cy="484.1" r="1.3"/><circle cx="252.4" cy="439.4" r="1.3"/><circle cx="283.2" cy="468.6" r="1.2"/><circle cx="248.1" cy="460" r="1.9"/><circle cx="298.9" cy="442.8" r="1.2"/><circle cx="293.6" cy="488.8" r="1.4"/><circle cx="242.6" cy="483" r="1.7"/><circle cx="233.1" cy="461.5" r="1.5"/><circle cx="260.7" cy="478.6" r="1.6"/><circle cx="251.6" cy="497.9" r="1.1"/><circle cx="292" cy="478.7" r="1.5"/><circle cx="234.1" cy="453" r="1.5"/><circle cx="223.3" cy="488.9" r="1.5"/><circle cx="259.6" cy="493.4" r="1.7"/><circle cx="233.3" cy="495.5" r="1.8"/><circle cx="287.9" cy="464.4" r="1.8"/><circle cx="247.5" cy="476.5" r="1.7"/><circle cx="284.5" cy="443" r="1.5"/><circle cx="281.9" cy="445.7" r="1.6"/><circle cx="239.8" cy="495.2" r="1.6"/><circle cx="294.1" cy="495" r="1.6"/><circle cx="233.2" cy="459.6" r="1.2"/><circle cx="220.6" cy="450.5" r="1.6"/><circle cx="217" cy="449.9" r="1.5"/><circle cx="239.1" cy="484.2" r="1.4"/><circle cx="281.1" cy="462.5" r="1.2"/><circle cx="275" cy="478.4" r="1.8"/><circle cx="236.2" cy="486.2" r="1.7"/><circle cx="281.9" cy="472.7" r="1.4"/><circle cx="279.6" cy="488.4" r="1.8"/><circle cx="260" cy="492.7" r="1.2"/><circle cx="268.8" cy="490.5" r="1.5"/><circle cx="297.2" cy="458" r="1.5"/><circle cx="280.1" cy="445.8" r="1.2"/><circle cx="294.7" cy="470.4" r="1.2"/><circle cx="234.9" cy="451.5" r="1.4"/><circle cx="238.7" cy="456.6" r="1.6"/><circle cx="280.8" cy="492.5" r="1.6"/><circle cx="265.4" cy="471.6" r="1.6"/><circle cx="261.3" cy="476.1" r="1.3"/><circle cx="239.3" cy="461.5" r="1.3"/><circle cx="272.5" cy="465.8" r="1.6"/><circle cx="296.7" cy="479.2" r="1.2"/><circle cx="237.3" cy="444.8" r="1.1"/><circle cx="236" cy="461.7" r="1.8"/><circle cx="259.3" cy="472.2" r="1.5"/><circle cx="227.6" cy="486.2" r="1.2"/><circle cx="276.4" cy="439.1" r="1.3"/><circle cx="217.2" cy="442.9" r="1.5"/><circle cx="244.5" cy="461.6" r="1.5"/><circle cx="238.6" cy="487.6" r="1.7"/><circle cx="277.9" cy="465.8" r="1.8"/><circle cx="298.4" cy="457.5" r="1.6"/><circle cx="291.1" cy="473.4" r="1.5"/><circle cx="262.3" cy="445.6" r="1.9"/><circle cx="223" cy="467.8" r="1.9"/><circle cx="271.3" cy="472.2" r="1.4"/><circle cx="293.1" cy="472.6" r="1.5"/><circle cx="232.7" cy="492.7" r="1.8"/><circle cx="270.3" cy="478.4" r="1.3"/></g><g fill="#3e2270" fill-opacity="0.95"><circle cx="274.8" cy="464.5" r="1.2"/><circle cx="269.7" cy="467.3" r="1.5"/><circle cx="288" cy="495.1" r="1.8"/><circle cx="234.7" cy="445.5" r="1.5"/><circle cx="233.2" cy="482.6" r="1.5"/><circle cx="236.7" cy="465.7" r="1.7"/><circle cx="292.6" cy="441.5" r="1.7"/><circle cx="247.1" cy="495.4" r="1.6"/><circle cx="272.1" cy="457" r="1.2"/><circle cx="234.3" cy="463.4" r="1.7"/><circle cx="236.6" cy="458.7" r="1.3"/><circle cx="231.8" cy="477.3" r="1.9"/><circle cx="292.2" cy="473.5" r="1.8"/><circle cx="268.1" cy="439" r="1.7"/><circle cx="229.5" cy="464.4" r="1.4"/><circle cx="237" cy="454.6" r="1.8"/><circle cx="287.6" cy="474" r="1.2"/><circle cx="221" cy="461.3" r="1.4"/><circle cx="230.5" cy="475.1" r="1.4"/><circle cx="245" cy="480.9" r="1.3"/><circle cx="287.1" cy="456.4" r="1.8"/><circle cx="266.5" cy="484.9" r="1.6"/><circle cx="284.9" cy="481.8" r="1.3"/><circle cx="248.8" cy="471.4" r="1.7"/><circle cx="297.9" cy="485.1" r="1.4"/><circle cx="252.8" cy="479.2" r="1.2"/><circle cx="260" cy="488.3" r="1.4"/><circle cx="222" cy="477.2" r="1.4"/><circle cx="274" cy="495.3" r="1.3"/><circle cx="263.8" cy="479.2" r="1.4"/><circle cx="228.1" cy="450.1" r="1.5"/><circle cx="237.9" cy="474.1" r="1.2"/><circle cx="252.7" cy="456.4" r="1.4"/><circle cx="216.3" cy="501.3" r="1.4"/><circle cx="283.7" cy="450" r="1.4"/><circle cx="275.2" cy="489.3" r="1.5"/><circle cx="228.6" cy="498.3" r="1.2"/><circle cx="268.3" cy="469.9" r="1.3"/><circle cx="245.1" cy="465.4" r="1.6"/><circle cx="270.5" cy="486.5" r="1.5"/><circle cx="285.2" cy="499.2" r="1.1"/><circle cx="297.6" cy="449.2" r="1.2"/><circle cx="293.2" cy="478.6" r="1.8"/><circle cx="291.8" cy="488.2" r="1.4"/><circle cx="238.6" cy="440.4" r="1.7"/><circle cx="266.4" cy="460" r="1.3"/><circle cx="235.5" cy="485.4" r="1.7"/><circle cx="240.5" cy="493.3" r="1.7"/><circle cx="276.1" cy="448.4" r="1.5"/><circle cx="293.3" cy="471.7" r="1.4"/><circle cx="231.6" cy="442.5" r="1.7"/><circle cx="238.8" cy="453" r="1.4"/><circle cx="242.7" cy="438.9" r="1.1"/><circle cx="256.5" cy="451.3" r="1.5"/><circle cx="285.9" cy="448.4" r="1.4"/><circle cx="238.3" cy="473.9" r="1.6"/><circle cx="291.5" cy="452.8" r="1.1"/><circle cx="252" cy="448.1" r="1.5"/><circle cx="277.9" cy="466.2" r="1.8"/><circle cx="290.9" cy="461" r="1.3"/><circle cx="280.3" cy="481.7" r="1.2"/><circle cx="275.2" cy="461.9" r="1.2"/><circle cx="219.5" cy="488.7" r="1.1"/><circle cx="291.9" cy="489.8" r="1.7"/><circle cx="245.5" cy="454.2" r="1.8"/><circle cx="231.5" cy="457" r="1.7"/><circle cx="247.5" cy="466.2" r="1.8"/><circle cx="285.9" cy="462.5" r="1.9"/><circle cx="286.6" cy="470.5" r="1.4"/><circle cx="267.1" cy="442.6" r="1.7"/><circle cx="276" cy="482.4" r="1.1"/><circle cx="281.1" cy="478.5" r="1.1"/><circle cx="296.3" cy="449.5" r="1.5"/></g><g fill="#62409a" fill-opacity="0.95"><circle cx="252.5" cy="439.7" r="1.9"/><circle cx="249.8" cy="499" r="1.7"/><circle cx="260.8" cy="448.8" r="1.4"/><circle cx="279.7" cy="447.8" r="1.3"/><circle cx="269" cy="468.3" r="1.5"/><circle cx="282.7" cy="493.5" r="1.8"/><circle cx="271" cy="480.5" r="1.3"/><circle cx="225.4" cy="470.7" r="1.3"/><circle cx="280.8" cy="498.5" r="1.5"/><circle cx="269.2" cy="442.4" r="1.9"/><circle cx="247.1" cy="470.7" r="1.8"/><circle cx="259.1" cy="473.4" r="1.9"/><circle cx="228.3" cy="497.6" r="1.4"/><circle cx="298.8" cy="440.9" r="1.9"/><circle cx="228.4" cy="471" r="1.2"/><circle cx="271.4" cy="490" r="1.7"/><circle cx="255.9" cy="455.6" r="1.7"/><circle cx="231" cy="485.8" r="1.2"/><circle cx="257.5" cy="495.5" r="1.7"/><circle cx="239.3" cy="451.4" r="1.2"/><circle cx="218.1" cy="472.5" r="1.2"/><circle cx="283.1" cy="460.3" r="1.5"/><circle cx="244.6" cy="473.2" r="1.7"/><circle cx="229.2" cy="480.9" r="1.5"/><circle cx="244.9" cy="445.9" r="1.5"/><circle cx="221.7" cy="459.5" r="1.7"/><circle cx="284.2" cy="486.9" r="1.8"/><circle cx="273.9" cy="484.1" r="1.1"/><circle cx="264.1" cy="487.9" r="1.6"/><circle cx="241.1" cy="464.4" r="1.7"/><circle cx="221.3" cy="457.8" r="1.4"/><circle cx="218" cy="493.3" r="1.7"/><circle cx="241.4" cy="498.5" r="1.7"/><circle cx="254.5" cy="496.9" r="1.6"/><circle cx="224.5" cy="471.7" r="1.2"/><circle cx="251.6" cy="485.2" r="1.4"/><circle cx="216.9" cy="447.9" r="1.8"/><circle cx="241.6" cy="485.5" r="1.5"/><circle cx="223.3" cy="490.4" r="1.1"/><circle cx="263" cy="456.4" r="1.2"/><circle cx="233" cy="463" r="1.7"/><circle cx="258.6" cy="467.8" r="1.8"/><circle cx="246.5" cy="453.8" r="1.4"/><circle cx="268.4" cy="447" r="1.6"/><circle cx="218.3" cy="451.2" r="1.7"/><circle cx="264.7" cy="498" r="1.5"/><circle cx="283.9" cy="468.3" r="1.1"/><circle cx="272.9" cy="473.1" r="1.2"/><circle cx="219.9" cy="449.1" r="1.3"/><circle cx="294.4" cy="458.1" r="1.2"/><circle cx="269.5" cy="464.3" r="1.2"/><circle cx="259.9" cy="461.2" r="1.5"/><circle cx="267.9" cy="489.3" r="1.8"/><circle cx="274.8" cy="490.9" r="1.5"/><circle cx="250.8" cy="499.3" r="1.7"/><circle cx="265.5" cy="472.3" r="1.3"/><circle cx="232.4" cy="441.1" r="1.7"/><circle cx="257.3" cy="472.8" r="1.1"/><circle cx="294" cy="501.2" r="1.1"/><circle cx="224.6" cy="477.8" r="1.5"/><circle cx="235.6" cy="460.4" r="1.3"/><circle cx="230.5" cy="455.5" r="1.3"/><circle cx="256.8" cy="480" r="1.4"/><circle cx="263.6" cy="497.7" r="1.2"/><circle cx="284.1" cy="487.5" r="1.8"/><circle cx="299.1" cy="457.6" r="1.1"/><circle cx="234.5" cy="497.5" r="1.8"/><circle cx="270" cy="463.6" r="1.6"/><circle cx="278.3" cy="481" r="1.7"/><circle cx="223.7" cy="479.4" r="1.8"/><circle cx="264.1" cy="499.9" r="1.2"/></g><g fill="#4a2a80" fill-opacity="0.95"><circle cx="234.2" cy="441.4" r="1.2"/><circle cx="218.9" cy="469.9" r="1.8"/><circle cx="293.4" cy="456.9" r="1.2"/><circle cx="268.9" cy="476.8" r="1.4"/><circle cx="229.8" cy="452.2" r="1.2"/><circle cx="287.8" cy="499.3" r="1.3"/><circle cx="290.3" cy="454" r="1.9"/><circle cx="277" cy="440.2" r="1.6"/><circle cx="287.5" cy="446.9" r="1.4"/><circle cx="285.2" cy="456" r="1.7"/><circle cx="264.4" cy="473.4" r="1.8"/><circle cx="268.2" cy="495.3" r="1.5"/><circle cx="246.7" cy="476.7" r="1.4"/><circle cx="263.8" cy="478.8" r="1.9"/><circle cx="244.9" cy="456.8" r="1.8"/><circle cx="274" cy="458.3" r="1.6"/><circle cx="269.5" cy="497" r="1.3"/><circle cx="275" cy="501.4" r="1.8"/><circle cx="294.7" cy="478.2" r="1.8"/><circle cx="238.3" cy="448.5" r="1.8"/><circle cx="218.9" cy="441.6" r="1.6"/><circle cx="230.2" cy="463.5" r="1.8"/><circle cx="236.6" cy="495.8" r="1.7"/><circle cx="282.8" cy="499.9" r="1.4"/><circle cx="296" cy="483.6" r="1.8"/><circle cx="285.8" cy="496.3" r="1.8"/><circle cx="227.1" cy="476.2" r="1.2"/><circle cx="229.3" cy="468.5" r="1.6"/><circle cx="216.1" cy="439.4" r="1.9"/><circle cx="238" cy="441" r="1.6"/><circle cx="239.9" cy="480.8" r="1.3"/><circle cx="289.8" cy="493.4" r="1.8"/><circle cx="295.1" cy="456.4" r="1.1"/><circle cx="246.2" cy="490.3" r="1.3"/><circle cx="277" cy="469.4" r="1.6"/><circle cx="248.5" cy="458.3" r="1.3"/><circle cx="230.7" cy="486.3" r="1.4"/><circle cx="248.5" cy="478.3" r="1.8"/><circle cx="256.6" cy="486.5" r="1.8"/><circle cx="244.6" cy="499.4" r="1.1"/><circle cx="284.5" cy="460.4" r="1.5"/><circle cx="261.6" cy="479.7" r="1.8"/><circle cx="268.4" cy="455.4" r="1.3"/><circle cx="262.6" cy="459.3" r="1.5"/><circle cx="293.5" cy="500.2" r="1.2"/><circle cx="231.2" cy="461.8" r="1.6"/><circle cx="216.8" cy="488.6" r="1.2"/><circle cx="255.5" cy="456.4" r="1.3"/><circle cx="293.5" cy="463.6" r="1.4"/><circle cx="283.4" cy="488.4" r="1.2"/><circle cx="223.6" cy="476.3" r="1.1"/><circle cx="269.4" cy="474.1" r="1.5"/><circle cx="260" cy="472.8" r="1.2"/><circle cx="269.7" cy="469.7" r="1.4"/><circle cx="282.6" cy="454.6" r="1.3"/><circle cx="245.1" cy="460.1" r="1.2"/><circle cx="275" cy="492.7" r="1.2"/><circle cx="240.1" cy="485.4" r="1.5"/><circle cx="220.4" cy="466" r="1.5"/><circle cx="269" cy="464.6" r="1.9"/><circle cx="295.7" cy="465.2" r="1.8"/><circle cx="300.1" cy="449.8" r="1.4"/><circle cx="242.7" cy="442.6" r="1.5"/><circle cx="287.1" cy="454.2" r="1.4"/><circle cx="262.9" cy="444.8" r="1.4"/><circle cx="292.3" cy="459.7" r="1.7"/><circle cx="299.5" cy="486" r="1.9"/><circle cx="249.4" cy="478.4" r="1.7"/><circle cx="239" cy="440.8" r="1.9"/><circle cx="275.8" cy="498.7" r="1.9"/><circle cx="281.1" cy="491.2" r="1.8"/><circle cx="298.8" cy="498.4" r="1.5"/><circle cx="269.2" cy="497.2" r="1.7"/><circle cx="230.5" cy="496" r="1.5"/><circle cx="297.6" cy="485.3" r="1.8"/><circle cx="228.8" cy="443.5" r="1.5"/><circle cx="240.5" cy="470.7" r="1.8"/><circle cx="249" cy="500" r="1.4"/><circle cx="285.8" cy="487.2" r="1.5"/><circle cx="275.9" cy="491.8" r="1.6"/><circle cx="295.4" cy="471.9" r="1.8"/><circle cx="268.6" cy="439.7" r="1.3"/><circle cx="271.8" cy="483.4" r="1.8"/><circle cx="224.7" cy="451" r="1.8"/><circle cx="250.3" cy="446.7" r="1.7"/><circle cx="281.6" cy="495" r="1.7"/><circle cx="262.9" cy="461" r="1.7"/></g><ellipse cx="243" cy="468" rx="10.5" ry="14" fill="#d6c6de"/><ellipse cx="281.5" cy="460" rx="10" ry="7" fill="#d2bcd8"/><ellipse cx="271" cy="489" rx="6" ry="5" fill="#d8c4de"/><radialGradient id="g89210449"><stop offset="0" stop-color="#e4d8ea" stop-opacity="0.8"/><stop offset="0.6" stop-color="#e4d8ea" stop-opacity="0.5599999999999999"/><stop offset="1" stop-color="#e4d8ea" stop-opacity="0"/></radialGradient><ellipse cx="243" cy="468" rx="10" ry="13" fill="url(#g89210449)"/><radialGradient id="g40830532"><stop offset="0" stop-color="#e2d4e8" stop-opacity="0.8"/><stop offset="0.6" stop-color="#e2d4e8" stop-opacity="0.5599999999999999"/><stop offset="1" stop-color="#e2d4e8" stop-opacity="0"/></radialGradient><ellipse cx="281.5" cy="460" rx="9" ry="6" fill="url(#g40830532)"/><ellipse cx="241" cy="472" rx="3.2" ry="5" fill="#7c62a8"/><ellipse cx="246" cy="464" rx="2.6" ry="3" fill="#8a70b4"/><ellipse cx="240" cy="458" rx="2" ry="1.4" fill="#7058a0"/><ellipse cx="282" cy="460" rx="3" ry="2.2" fill="#9a84bc"/><ellipse cx="270" cy="489" rx="2.5" ry="2" fill="#9a80b8"/></g><rect x="219.2" y="441.9" width="10.5" height="5.6" fill="#fbf8fb"/><text class="lb" x="220" y="446.4" font-size="4.6" fill="#555" textLength="8.9" lengthAdjust="spacingAndGlyphs">500x</text></g><clipPath id="c15"><rect x="302.3" y="440.4" width="80.4" height="59.2"/></clipPath><g clip-path="url(#c15)"><g filter="url(#bl)"><rect x="302.3" y="440.4" width="80.4" height="59.2" fill="#a28cc4"/><g fill="#765ea8"><circle cx="381.2" cy="447.3" r="0.6"/><circle cx="362.7" cy="493.9" r="1"/><circle cx="327.3" cy="476.4" r="1.1"/><circle cx="349" cy="439.7" r="0.7"/><circle cx="332.1" cy="449.7" r="1.1"/><circle cx="345.5" cy="488.7" r="0.9"/><circle cx="316.8" cy="446.1" r="0.7"/><circle cx="322.1" cy="446" r="0.7"/><circle cx="302.3" cy="486" r="0.9"/><circle cx="344.6" cy="492.1" r="0.7"/><circle cx="344.8" cy="486.9" r="0.6"/><circle cx="348.8" cy="471.6" r="0.9"/><circle cx="320.8" cy="445.9" r="0.8"/><circle cx="378.6" cy="477" r="0.7"/><circle cx="349.3" cy="452.8" r="0.8"/><circle cx="359.2" cy="474.9" r="0.7"/><circle cx="370.7" cy="456.9" r="0.7"/><circle cx="364.2" cy="486.8" r="0.7"/><circle cx="382.4" cy="455.7" r="0.8"/><circle cx="349.3" cy="439.9" r="0.8"/><circle cx="361.3" cy="499.1" r="0.8"/><circle cx="359.9" cy="474.4" r="0.8"/><circle cx="363.6" cy="470.9" r="0.7"/><circle cx="348.6" cy="442.5" r="1"/><circle cx="367.9" cy="494.7" r="1.1"/><circle cx="302.9" cy="477.1" r="0.8"/><circle cx="327.4" cy="461.3" r="0.7"/><circle cx="371.4" cy="485.6" r="1"/><circle cx="324.9" cy="438.5" r="0.6"/><circle cx="374.5" cy="485.9" r="1"/><circle cx="342.5" cy="447.8" r="0.7"/><circle cx="301.1" cy="454.6" r="0.8"/><circle cx="379.6" cy="454" r="1"/><circle cx="344.5" cy="486.4" r="0.9"/><circle cx="341.7" cy="489.1" r="0.9"/><circle cx="330.7" cy="449.4" r="0.8"/><circle cx="345.3" cy="466.6" r="0.8"/><circle cx="310.3" cy="440.6" r="0.9"/><circle cx="380.1" cy="497.1" r="1.1"/><circle cx="308" cy="445.5" r="0.7"/><circle cx="302" cy="448.9" r="1"/><circle cx="309.2" cy="479.9" r="0.7"/><circle cx="347.4" cy="493.5" r="0.8"/><circle cx="366.4" cy="464.4" r="0.9"/><circle cx="373" cy="462.5" r="0.9"/><circle cx="340.8" cy="501.1" r="1"/><circle cx="381.6" cy="452.6" r="0.8"/><circle cx="379" cy="443.9" r="1"/><circle cx="344.9" cy="460.1" r="0.8"/><circle cx="358.5" cy="459.3" r="0.7"/><circle cx="303.4" cy="470" r="0.8"/><circle cx="357.8" cy="484" r="1"/><circle cx="370.1" cy="481.8" r="0.8"/><circle cx="315.1" cy="449.6" r="1"/><circle cx="334.2" cy="459.6" r="0.8"/><circle cx="324.8" cy="466.4" r="1"/><circle cx="376.7" cy="490.2" r="1"/><circle cx="337.8" cy="478.4" r="0.9"/><circle cx="345" cy="476.1" r="0.8"/><circle cx="337.1" cy="485.6" r="0.9"/><circle cx="356.2" cy="442.3" r="1"/><circle cx="341" cy="449.6" r="0.7"/><circle cx="336.5" cy="467.8" r="0.9"/><circle cx="370" cy="455" r="0.9"/><circle cx="325" cy="455.1" r="0.9"/><circle cx="351.3" cy="459.7" r="0.9"/><circle cx="327.6" cy="460.9" r="1.1"/><circle cx="320.2" cy="495.1" r="0.8"/><circle cx="303.8" cy="494" r="0.8"/><circle cx="378.7" cy="494.1" r="0.8"/><circle cx="353.9" cy="454.3" r="0.7"/><circle cx="346.7" cy="445.6" r="0.9"/><circle cx="309.7" cy="453.2" r="0.8"/><circle cx="335.1" cy="441" r="0.9"/><circle cx="330.8" cy="492.3" r="1"/><circle cx="328.9" cy="457.3" r="0.8"/><circle cx="335.9" cy="448.9" r="0.7"/><circle cx="383.4" cy="457" r="0.9"/><circle cx="361.1" cy="475.4" r="0.7"/><circle cx="331.5" cy="473.9" r="1.1"/><circle cx="358.1" cy="460.6" r="0.8"/><circle cx="312.3" cy="459.4" r="0.9"/><circle cx="332.8" cy="455.5" r="0.7"/><circle cx="379.2" cy="452.4" r="0.7"/><circle cx="335.5" cy="454.9" r="0.8"/><circle cx="357.2" cy="462" r="0.7"/><circle cx="331.2" cy="480.6" r="1"/><circle cx="370" cy="469" r="0.9"/><circle cx="331" cy="451.5" r="0.8"/><circle cx="355.6" cy="489" r="0.7"/><circle cx="335.2" cy="483.1" r="0.7"/><circle cx="382.9" cy="482.4" r="0.9"/><circle cx="364.7" cy="472.2" r="0.7"/><circle cx="365.9" cy="490.1" r="0.7"/><circle cx="372.8" cy="466.2" r="0.8"/><circle cx="314.4" cy="498.3" r="0.8"/><circle cx="368.9" cy="496.3" r="1.1"/><circle cx="302" cy="461.5" r="0.9"/><circle cx="366.8" cy="461.4" r="0.9"/><circle cx="368.4" cy="447.9" r="0.9"/><circle cx="382.2" cy="449.1" r="1.1"/><circle cx="349.1" cy="466.7" r="1"/><circle cx="332.6" cy="479.5" r="0.7"/><circle cx="349.1" cy="440.8" r="1"/><circle cx="304.6" cy="454.1" r="0.7"/><circle cx="384.5" cy="457" r="0.8"/><circle cx="361.3" cy="467.9" r="0.8"/><circle cx="329.1" cy="447.4" r="0.7"/><circle cx="327.9" cy="480" r="1"/><circle cx="336.1" cy="495" r="0.8"/><circle cx="313.3" cy="450.2" r="0.9"/><circle cx="370.7" cy="486.7" r="1.1"/><circle cx="309.8" cy="481.8" r="0.8"/><circle cx="341.2" cy="439.6" r="1"/><circle cx="347" cy="468" r="0.9"/><circle cx="300.5" cy="458.2" r="0.9"/><circle cx="376.9" cy="495.6" r="0.8"/><circle cx="311.4" cy="472.9" r="1.1"/><circle cx="381.7" cy="453.1" r="0.9"/><circle cx="340.9" cy="500.8" r="0.9"/><circle cx="373.5" cy="444.8" r="1.1"/><circle cx="350" cy="468.3" r="0.9"/><circle cx="370.5" cy="472.8" r="0.9"/><circle cx="343.5" cy="452.7" r="0.9"/><circle cx="319.5" cy="462.9" r="1.1"/><circle cx="374.9" cy="500" r="0.8"/><circle cx="380.8" cy="484.4" r="0.7"/><circle cx="321.1" cy="445.3" r="0.8"/><circle cx="312.9" cy="493.5" r="0.8"/><circle cx="307.9" cy="495.6" r="0.8"/><circle cx="330.4" cy="443.8" r="0.6"/><circle cx="333" cy="461.2" r="1.1"/><circle cx="325.5" cy="481.9" r="0.7"/><circle cx="341.5" cy="448.5" r="0.7"/><circle cx="383.9" cy="482.2" r="0.7"/><circle cx="325.4" cy="475.2" r="0.7"/><circle cx="307.6" cy="491.2" r="0.6"/><circle cx="332.8" cy="451.9" r="1"/><circle cx="314.9" cy="453.1" r="0.9"/><circle cx="375.5" cy="466.2" r="0.9"/><circle cx="344.2" cy="496.6" r="0.7"/><circle cx="326.2" cy="451.6" r="1.1"/><circle cx="360.6" cy="480.3" r="0.8"/><circle cx="378.7" cy="463.8" r="0.8"/><circle cx="307.5" cy="495.2" r="0.9"/><circle cx="344.5" cy="497.5" r="0.9"/><circle cx="374.7" cy="443.6" r="0.8"/><circle cx="374" cy="500.5" r="1"/><circle cx="334.7" cy="452.9" r="0.8"/><circle cx="364.9" cy="487.6" r="1.1"/><circle cx="364.9" cy="444.5" r="0.9"/><circle cx="378.2" cy="470.3" r="0.7"/><circle cx="333.6" cy="464" r="1"/><circle cx="336.8" cy="455.9" r="1"/><circle cx="311.6" cy="459.9" r="0.6"/><circle cx="303.2" cy="481.4" r="0.6"/></g><g fill="#c8bce0"><circle cx="349.5" cy="497.7" r="1"/><circle cx="356.1" cy="496.3" r="0.8"/><circle cx="354.3" cy="449.5" r="1"/><circle cx="323.8" cy="491.8" r="0.7"/><circle cx="308.1" cy="490.4" r="1"/><circle cx="360.6" cy="453.1" r="0.7"/><circle cx="360.6" cy="482.3" r="0.9"/><circle cx="322.6" cy="474.4" r="0.9"/><circle cx="337.7" cy="489.9" r="0.6"/><circle cx="370.5" cy="467.1" r="0.7"/><circle cx="335.9" cy="479.2" r="0.8"/><circle cx="335.9" cy="448" r="1"/><circle cx="377.4" cy="481.5" r="0.8"/><circle cx="357.4" cy="473.5" r="0.7"/><circle cx="373.9" cy="463.1" r="0.7"/><circle cx="305" cy="484.3" r="1"/><circle cx="320.8" cy="468.5" r="0.8"/><circle cx="341.1" cy="498.3" r="1"/><circle cx="324.3" cy="450" r="0.8"/><circle cx="362.9" cy="475.5" r="0.7"/><circle cx="362.3" cy="444.1" r="1"/><circle cx="358.2" cy="454" r="1.1"/><circle cx="343.1" cy="471.9" r="0.6"/><circle cx="348.7" cy="501.3" r="0.7"/><circle cx="304.2" cy="487.5" r="0.7"/><circle cx="329.8" cy="495.5" r="0.9"/><circle cx="317.3" cy="488.5" r="1"/><circle cx="365.8" cy="499.3" r="1"/><circle cx="326.7" cy="490.8" r="1.1"/><circle cx="312.2" cy="500.2" r="0.9"/><circle cx="366.7" cy="453.3" r="0.8"/><circle cx="312.6" cy="473" r="1"/><circle cx="365.7" cy="480.8" r="0.7"/><circle cx="319.4" cy="475.5" r="0.9"/><circle cx="359.7" cy="464.2" r="0.6"/><circle cx="322.5" cy="485.6" r="0.8"/><circle cx="363.5" cy="477.9" r="0.9"/><circle cx="336.4" cy="493.5" r="1"/><circle cx="375.7" cy="456.5" r="0.8"/><circle cx="314.4" cy="447.8" r="0.9"/><circle cx="317" cy="446.8" r="0.8"/><circle cx="306" cy="499" r="1"/><circle cx="327.9" cy="471.5" r="0.6"/><circle cx="331.2" cy="497.2" r="0.7"/><circle cx="322.8" cy="467.1" r="0.6"/><circle cx="337.7" cy="462.2" r="0.9"/><circle cx="305.5" cy="485.5" r="1"/><circle cx="357.9" cy="481" r="0.9"/><circle cx="312.2" cy="475.9" r="0.6"/><circle cx="332.4" cy="494.9" r="0.7"/><circle cx="308.7" cy="493.7" r="1"/><circle cx="326.1" cy="495" r="1"/><circle cx="325.3" cy="475.7" r="0.9"/><circle cx="320.3" cy="438.7" r="0.9"/><circle cx="306.6" cy="479" r="1.1"/><circle cx="373.6" cy="442.3" r="0.8"/><circle cx="375.5" cy="493" r="1"/><circle cx="303.1" cy="448.4" r="0.7"/><circle cx="326.5" cy="474.6" r="1"/><circle cx="303.2" cy="443.6" r="0.9"/><circle cx="307" cy="463" r="1"/><circle cx="326.7" cy="468" r="0.6"/><circle cx="349.8" cy="487" r="0.7"/><circle cx="336.2" cy="501.6" r="0.6"/><circle cx="336.1" cy="476.8" r="0.9"/><circle cx="313.2" cy="478.8" r="0.9"/><circle cx="366.4" cy="454.5" r="1"/><circle cx="356.1" cy="455.3" r="0.8"/><circle cx="308" cy="443.6" r="0.9"/><circle cx="367.6" cy="458.7" r="0.9"/><circle cx="384.6" cy="441.5" r="0.7"/><circle cx="352.5" cy="443.5" r="0.8"/><circle cx="356.3" cy="443.8" r="0.8"/><circle cx="314.7" cy="494.4" r="1"/><circle cx="352.7" cy="498.3" r="0.7"/><circle cx="364.1" cy="465.5" r="1"/><circle cx="381.6" cy="464.2" r="0.6"/><circle cx="331.3" cy="480.7" r="0.8"/><circle cx="364.5" cy="483.6" r="0.7"/><circle cx="331.4" cy="479.3" r="0.6"/><circle cx="318.4" cy="441.9" r="0.9"/><circle cx="356.7" cy="454.3" r="0.9"/><circle cx="359.8" cy="456" r="0.6"/><circle cx="377.8" cy="447.4" r="1"/><circle cx="375.7" cy="482.7" r="1"/><circle cx="348" cy="441.1" r="0.8"/><circle cx="304.4" cy="452.1" r="0.8"/><circle cx="310.6" cy="459.3" r="1"/><circle cx="321.3" cy="438.9" r="0.8"/><circle cx="384" cy="477.8" r="0.8"/><circle cx="303.9" cy="455.2" r="1"/><circle cx="345.1" cy="460" r="0.8"/><circle cx="318.7" cy="471.5" r="0.8"/><circle cx="324.1" cy="487.3" r="1.1"/><circle cx="322.2" cy="462.7" r="0.9"/><circle cx="316.9" cy="446.2" r="0.9"/><circle cx="376.9" cy="483.6" r="0.8"/><circle cx="361.7" cy="473.1" r="1"/><circle cx="325.6" cy="492.4" r="0.6"/><circle cx="324.6" cy="477.7" r="0.9"/><circle cx="303.5" cy="491.1" r="1"/><circle cx="371.3" cy="445.7" r="0.7"/><circle cx="327.6" cy="495.8" r="1.1"/><circle cx="362.8" cy="442" r="1"/><circle cx="369.3" cy="442.8" r="0.6"/><circle cx="367.6" cy="456.7" r="1"/><circle cx="378.1" cy="480.5" r="0.8"/><circle cx="373" cy="500.7" r="0.7"/><circle cx="362.5" cy="447.2" r="1.1"/><circle cx="330.9" cy="448.5" r="0.7"/><circle cx="346.7" cy="455.8" r="0.6"/><circle cx="378.5" cy="500.3" r="0.6"/><circle cx="328.6" cy="442.7" r="0.6"/><circle cx="378.5" cy="441.8" r="0.8"/><circle cx="321" cy="450.9" r="0.9"/><circle cx="367.6" cy="445.9" r="0.9"/><circle cx="354.2" cy="486.9" r="0.8"/><circle cx="309.2" cy="441.6" r="1"/><circle cx="378.8" cy="467" r="1"/><circle cx="363.5" cy="450.3" r="1.1"/><circle cx="344.7" cy="439.2" r="1.1"/><circle cx="384.1" cy="474.1" r="0.9"/><circle cx="369.5" cy="465.9" r="0.8"/><circle cx="327" cy="498.9" r="0.9"/><circle cx="308.9" cy="482.6" r="0.9"/><circle cx="349.9" cy="450.2" r="0.8"/><circle cx="334" cy="453.8" r="0.8"/><circle cx="376.4" cy="441.4" r="0.8"/><circle cx="342.9" cy="471.5" r="0.9"/><circle cx="302.3" cy="466.1" r="1"/><circle cx="306.2" cy="442.4" r="0.9"/><circle cx="315.1" cy="469.3" r="1"/><circle cx="376" cy="496.8" r="0.9"/><circle cx="322" cy="456.5" r="0.8"/><circle cx="370" cy="463.6" r="0.8"/><circle cx="310.8" cy="455.6" r="0.6"/><circle cx="323.7" cy="444.6" r="1"/><circle cx="333.1" cy="488.7" r="0.7"/><circle cx="371.1" cy="440.3" r="1.1"/><circle cx="349.2" cy="478" r="1.1"/><circle cx="329.7" cy="448.2" r="0.8"/><circle cx="320.9" cy="455.2" r="1.1"/><circle cx="377.1" cy="439.1" r="0.6"/><circle cx="365.5" cy="491.2" r="1"/><circle cx="369.3" cy="447.5" r="0.8"/><circle cx="346.6" cy="447.7" r="1"/><circle cx="352.5" cy="446.1" r="0.9"/><circle cx="345.4" cy="445.5" r="1"/><circle cx="379.8" cy="485.6" r="0.8"/><circle cx="370.1" cy="456.6" r="1"/><circle cx="319.3" cy="463.1" r="1.1"/><circle cx="340.2" cy="480.9" r="1"/></g><g fill="#6a529e"><circle cx="352" cy="454.7" r="1.1"/><circle cx="312.3" cy="490.6" r="0.9"/><circle cx="343.5" cy="463.7" r="0.6"/><circle cx="340.5" cy="442.6" r="1"/><circle cx="362.3" cy="496.9" r="1"/><circle cx="339.5" cy="454.1" r="0.7"/><circle cx="313.6" cy="494.6" r="0.9"/><circle cx="330.3" cy="454.8" r="1.1"/><circle cx="342.4" cy="460.1" r="1"/><circle cx="316.8" cy="448.6" r="0.6"/><circle cx="333.6" cy="447.2" r="0.8"/><circle cx="384.2" cy="490.2" r="0.7"/><circle cx="366.4" cy="452.6" r="0.9"/><circle cx="346.8" cy="470.3" r="0.9"/><circle cx="362.5" cy="439.1" r="1"/><circle cx="330.2" cy="471" r="0.9"/><circle cx="339.7" cy="441.6" r="0.7"/><circle cx="322.5" cy="461.2" r="0.6"/><circle cx="304.4" cy="456.6" r="0.6"/><circle cx="356.5" cy="446.6" r="0.8"/><circle cx="325" cy="448.4" r="1"/><circle cx="335.7" cy="500.8" r="1"/><circle cx="360.7" cy="450" r="0.9"/><circle cx="378.8" cy="463.8" r="0.9"/><circle cx="358.7" cy="465.9" r="0.7"/><circle cx="354.9" cy="454.1" r="0.9"/><circle cx="336.5" cy="472.2" r="0.7"/><circle cx="303.7" cy="478.4" r="1"/><circle cx="371.4" cy="449.6" r="0.9"/><circle cx="310.8" cy="483.7" r="0.8"/><circle cx="380.6" cy="470.6" r="0.6"/><circle cx="330.6" cy="477.7" r="0.7"/><circle cx="375.3" cy="460.7" r="0.7"/><circle cx="311" cy="471.7" r="0.9"/><circle cx="306.1" cy="443.3" r="1"/><circle cx="331.5" cy="497.5" r="0.7"/><circle cx="342.4" cy="478.6" r="0.8"/><circle cx="336.6" cy="447.8" r="1"/><circle cx="331.9" cy="474" r="1"/><circle cx="352.2" cy="486.5" r="1"/><circle cx="371" cy="493.1" r="1"/><circle cx="363.3" cy="495" r="1.1"/><circle cx="362.8" cy="443.9" r="1.1"/><circle cx="321.9" cy="466" r="0.9"/><circle cx="343.5" cy="475.4" r="1"/><circle cx="371.6" cy="462.6" r="0.9"/><circle cx="336.1" cy="474.8" r="1.1"/><circle cx="339.3" cy="438.7" r="1"/><circle cx="360" cy="498.8" r="0.9"/><circle cx="311.2" cy="487.8" r="0.9"/><circle cx="374.3" cy="467.1" r="0.7"/><circle cx="311.1" cy="456.5" r="0.7"/><circle cx="353.5" cy="441.5" r="1"/><circle cx="323.7" cy="500.5" r="0.7"/><circle cx="323.6" cy="461.5" r="0.7"/><circle cx="360.2" cy="477.1" r="1.1"/><circle cx="369.6" cy="479.4" r="0.9"/><circle cx="345.3" cy="469" r="0.8"/><circle cx="349.4" cy="472.5" r="1"/><circle cx="317.5" cy="473.4" r="1"/><circle cx="355.2" cy="470.6" r="0.8"/><circle cx="333.7" cy="487.6" r="1"/><circle cx="324.3" cy="480.8" r="0.8"/><circle cx="379.4" cy="490.5" r="0.8"/><circle cx="336.6" cy="457.6" r="0.7"/><circle cx="309.6" cy="440.5" r="0.7"/><circle cx="363.2" cy="457.2" r="0.8"/><circle cx="361.1" cy="470.2" r="0.8"/><circle cx="344.9" cy="472.8" r="0.9"/><circle cx="367.6" cy="485.4" r="1"/><circle cx="328.3" cy="469.9" r="0.9"/><circle cx="325.9" cy="447.2" r="0.9"/><circle cx="327.1" cy="477.4" r="1"/><circle cx="348.4" cy="453" r="1"/><circle cx="350.1" cy="443.2" r="0.7"/><circle cx="326" cy="495.6" r="0.8"/><circle cx="353.1" cy="445.1" r="1.1"/><circle cx="333.7" cy="493.6" r="0.8"/><circle cx="314.1" cy="465.3" r="0.7"/><circle cx="323.8" cy="478.6" r="0.8"/><circle cx="360.8" cy="445.2" r="1"/><circle cx="300.4" cy="467.1" r="0.6"/><circle cx="361" cy="468.3" r="0.7"/><circle cx="339.9" cy="440.9" r="0.8"/><circle cx="339" cy="482" r="0.7"/><circle cx="371.9" cy="485" r="0.7"/><circle cx="313.8" cy="458.2" r="1"/><circle cx="327" cy="473.2" r="0.8"/><circle cx="355.6" cy="479.6" r="1"/><circle cx="339.8" cy="498.1" r="0.7"/><circle cx="334.1" cy="484.1" r="0.9"/><circle cx="329.8" cy="479.5" r="0.8"/><circle cx="324.7" cy="495.3" r="1"/><circle cx="369.8" cy="448.3" r="0.9"/><circle cx="347.5" cy="499.4" r="0.8"/><circle cx="303.4" cy="479.1" r="1"/><circle cx="318.9" cy="501" r="0.8"/><circle cx="361.9" cy="452" r="0.7"/><circle cx="377.3" cy="440.6" r="1"/><circle cx="336.6" cy="459.8" r="0.8"/><circle cx="360.2" cy="489.1" r="0.8"/><circle cx="375" cy="476.8" r="0.7"/><circle cx="353.7" cy="498" r="0.8"/><circle cx="336.2" cy="491" r="0.9"/><circle cx="359.3" cy="480.6" r="0.6"/><circle cx="355.5" cy="459.2" r="1.1"/><circle cx="368" cy="440.4" r="1.1"/><circle cx="374.1" cy="465.2" r="1"/><circle cx="371.6" cy="476.5" r="0.6"/><circle cx="307.5" cy="480.7" r="0.8"/><circle cx="334.6" cy="475.4" r="1"/><circle cx="340.5" cy="496.8" r="1.1"/><circle cx="381.5" cy="493.8" r="1"/><circle cx="334.8" cy="441" r="0.8"/><circle cx="380.5" cy="471.5" r="0.8"/><circle cx="367.1" cy="446.1" r="0.8"/><circle cx="360.8" cy="442.3" r="0.9"/><circle cx="352.5" cy="495" r="1"/><circle cx="346.2" cy="457.1" r="1"/><circle cx="378.3" cy="489.9" r="0.7"/><circle cx="324.2" cy="440.7" r="0.6"/><circle cx="331.7" cy="465.1" r="1"/><circle cx="380.8" cy="440.6" r="1"/><circle cx="374.9" cy="446.4" r="0.7"/><circle cx="308.8" cy="479.4" r="0.8"/><circle cx="343.5" cy="493.3" r="0.8"/><circle cx="321.5" cy="491.1" r="1.1"/><circle cx="374.9" cy="451.2" r="0.7"/><circle cx="357.1" cy="451.4" r="0.9"/><circle cx="380.6" cy="475.9" r="0.8"/><circle cx="315.2" cy="459.7" r="0.9"/><circle cx="309" cy="492.5" r="0.8"/><circle cx="368.5" cy="478.7" r="1"/><circle cx="318.7" cy="482.1" r="1"/><circle cx="330.9" cy="471.9" r="0.8"/><circle cx="344.3" cy="447.2" r="0.8"/><circle cx="341.5" cy="488.7" r="1.1"/><circle cx="350.1" cy="479.9" r="0.9"/><circle cx="380.8" cy="486.3" r="1"/><circle cx="376.7" cy="453.5" r="0.8"/><circle cx="329.1" cy="452.8" r="1"/><circle cx="315.5" cy="474.4" r="1.1"/><circle cx="301.7" cy="442.2" r="1"/><circle cx="377.8" cy="460.5" r="1"/><circle cx="354.3" cy="491.3" r="0.7"/><circle cx="335.8" cy="478.4" r="0.8"/><circle cx="329.2" cy="470.7" r="0.9"/><circle cx="370.5" cy="469.4" r="0.8"/><circle cx="357.8" cy="477.3" r="1"/><circle cx="333.4" cy="469.2" r="0.8"/><circle cx="321.8" cy="471.2" r="0.7"/><circle cx="332.7" cy="488.5" r="0.6"/><circle cx="320.8" cy="449.3" r="0.9"/><circle cx="321.6" cy="476.1" r="1"/><circle cx="359.5" cy="455.8" r="1"/><circle cx="379.4" cy="473.5" r="0.7"/></g><g fill="#bcaad8"><circle cx="376.4" cy="464.9" r="0.7"/><circle cx="348.9" cy="473.9" r="0.9"/><circle cx="342.4" cy="471.5" r="0.9"/><circle cx="303.1" cy="451.2" r="0.8"/><circle cx="308.6" cy="442.6" r="0.7"/><circle cx="309" cy="466.5" r="0.8"/><circle cx="332.1" cy="481" r="0.7"/><circle cx="336.9" cy="472.4" r="0.8"/><circle cx="330.8" cy="456.5" r="0.6"/><circle cx="379" cy="459.7" r="0.8"/><circle cx="352.1" cy="461.4" r="0.6"/><circle cx="353.2" cy="459.6" r="0.8"/><circle cx="379.1" cy="501.6" r="0.7"/><circle cx="340.7" cy="440" r="0.7"/><circle cx="310.3" cy="460.5" r="0.7"/><circle cx="314.7" cy="454.8" r="1.1"/><circle cx="321.7" cy="499.1" r="1.1"/><circle cx="360.1" cy="479.8" r="1"/><circle cx="344.5" cy="487.6" r="0.6"/><circle cx="325.5" cy="456" r="0.7"/><circle cx="345.7" cy="500.7" r="0.9"/><circle cx="332.2" cy="463.7" r="0.7"/><circle cx="318" cy="468.7" r="0.6"/><circle cx="372.4" cy="482.6" r="1"/><circle cx="352.3" cy="497.6" r="1"/><circle cx="305.9" cy="490.6" r="0.8"/><circle cx="304.5" cy="439.1" r="0.9"/><circle cx="325.2" cy="479.8" r="0.6"/><circle cx="303.1" cy="468.5" r="0.9"/><circle cx="332.8" cy="473.5" r="0.6"/><circle cx="379.9" cy="483.9" r="0.6"/><circle cx="336.7" cy="490.9" r="1.1"/><circle cx="332.6" cy="446.2" r="0.9"/><circle cx="376.8" cy="449.8" r="0.7"/><circle cx="311.6" cy="446.3" r="0.8"/><circle cx="379.9" cy="442.5" r="0.7"/><circle cx="309.3" cy="439.5" r="0.8"/><circle cx="308.8" cy="454.1" r="0.9"/><circle cx="324.2" cy="487.4" r="0.9"/><circle cx="311.9" cy="465.7" r="0.9"/><circle cx="372.4" cy="499.5" r="0.9"/><circle cx="347.2" cy="449.4" r="0.8"/><circle cx="372.8" cy="472.7" r="1"/><circle cx="359.3" cy="479.3" r="1.1"/><circle cx="370.9" cy="490.9" r="1"/><circle cx="350.5" cy="444.5" r="0.7"/><circle cx="314.3" cy="468.7" r="1.1"/><circle cx="343.2" cy="453.6" r="1"/><circle cx="331.8" cy="444.7" r="0.9"/><circle cx="338.4" cy="460.2" r="0.7"/><circle cx="358.1" cy="491.5" r="0.9"/><circle cx="381.7" cy="449.3" r="1.1"/><circle cx="312.3" cy="466.6" r="0.6"/><circle cx="369.4" cy="457.5" r="0.9"/><circle cx="377.6" cy="440" r="0.9"/><circle cx="366" cy="487.2" r="0.8"/><circle cx="319.6" cy="481.4" r="1"/><circle cx="343.9" cy="449.4" r="0.7"/><circle cx="378.9" cy="469" r="1.1"/><circle cx="309.4" cy="492.8" r="0.7"/><circle cx="314" cy="492.7" r="1"/><circle cx="325.5" cy="450.9" r="0.8"/><circle cx="367.6" cy="470.7" r="0.8"/><circle cx="348.7" cy="457.4" r="0.7"/><circle cx="318.3" cy="476.3" r="0.9"/><circle cx="304.7" cy="474.3" r="0.6"/><circle cx="371.5" cy="447.2" r="0.9"/><circle cx="308.5" cy="455.6" r="0.9"/><circle cx="366.7" cy="484.4" r="0.9"/><circle cx="305.8" cy="455.6" r="0.8"/><circle cx="324.1" cy="476.5" r="0.7"/><circle cx="306" cy="468.4" r="0.6"/><circle cx="310.8" cy="492.9" r="0.9"/><circle cx="327.1" cy="461.4" r="0.8"/><circle cx="360.5" cy="501.5" r="0.7"/><circle cx="340.8" cy="471.1" r="1"/><circle cx="305.3" cy="450.8" r="0.8"/><circle cx="316.2" cy="465.4" r="1.1"/><circle cx="308.1" cy="461.8" r="1.1"/><circle cx="373.9" cy="445.4" r="0.7"/><circle cx="327.1" cy="455.6" r="0.7"/><circle cx="323.6" cy="499.7" r="0.7"/><circle cx="360.8" cy="487.3" r="0.8"/><circle cx="352.9" cy="489.9" r="1.1"/><circle cx="337.4" cy="499.1" r="0.7"/><circle cx="372.5" cy="450.6" r="0.8"/><circle cx="383.9" cy="472.7" r="0.6"/><circle cx="352.4" cy="484.8" r="0.9"/><circle cx="322" cy="438.6" r="0.8"/><circle cx="304.2" cy="476.3" r="0.8"/><circle cx="376" cy="497.3" r="0.8"/><circle cx="355.3" cy="442.2" r="0.8"/><circle cx="315.7" cy="466.2" r="0.8"/><circle cx="334.2" cy="440.7" r="0.8"/><circle cx="312.9" cy="443.2" r="0.8"/><circle cx="314.4" cy="471" r="0.9"/><circle cx="354.7" cy="478.4" r="0.8"/><circle cx="349.1" cy="467.7" r="1"/><circle cx="361.9" cy="476.5" r="0.8"/><circle cx="325.3" cy="486.5" r="0.6"/><circle cx="372.3" cy="493.7" r="1"/><circle cx="323.5" cy="476.1" r="0.6"/><circle cx="328.4" cy="470.6" r="0.7"/><circle cx="383.8" cy="482.2" r="0.9"/><circle cx="384.6" cy="451" r="0.8"/><circle cx="335.6" cy="446.3" r="0.9"/><circle cx="347.2" cy="479.2" r="0.6"/><circle cx="313.7" cy="459.3" r="0.6"/><circle cx="355.7" cy="493.5" r="1"/><circle cx="320.3" cy="483.7" r="0.8"/><circle cx="307.4" cy="449.1" r="1"/><circle cx="322.2" cy="475.3" r="0.9"/><circle cx="331.9" cy="463.6" r="0.9"/><circle cx="360.1" cy="440.2" r="0.7"/><circle cx="334" cy="480.9" r="0.9"/><circle cx="315.6" cy="439.4" r="0.8"/><circle cx="316.8" cy="466.6" r="0.9"/><circle cx="381.9" cy="456.3" r="0.7"/><circle cx="368.1" cy="455.8" r="0.9"/><circle cx="343.7" cy="485.8" r="1"/><circle cx="370" cy="486.3" r="0.9"/><circle cx="338.8" cy="450.6" r="0.8"/><circle cx="329.3" cy="488.8" r="0.9"/><circle cx="382.2" cy="482.8" r="0.7"/><circle cx="346.8" cy="495.2" r="0.9"/><circle cx="357.8" cy="462.7" r="0.8"/><circle cx="304.9" cy="479.1" r="0.9"/><circle cx="318.2" cy="443.7" r="1.1"/><circle cx="304.8" cy="452.5" r="0.6"/><circle cx="327.4" cy="488.6" r="0.9"/><circle cx="331" cy="500.3" r="0.8"/><circle cx="375.6" cy="458" r="1"/><circle cx="368.3" cy="453.1" r="0.6"/><circle cx="312.6" cy="490.6" r="1.1"/><circle cx="355.5" cy="479.8" r="0.7"/><circle cx="355.5" cy="446.5" r="0.9"/><circle cx="326" cy="462.5" r="0.6"/><circle cx="346.6" cy="485.5" r="0.7"/></g><g fill="#8470b4"><circle cx="307.7" cy="501.4" r="0.8"/><circle cx="314.8" cy="482.1" r="0.8"/><circle cx="330" cy="445.9" r="0.7"/><circle cx="323.9" cy="491.9" r="1"/><circle cx="353.6" cy="500.7" r="1"/><circle cx="371.1" cy="470.6" r="0.9"/><circle cx="376.4" cy="489" r="0.9"/><circle cx="381.2" cy="462.1" r="0.6"/><circle cx="363.9" cy="443.4" r="0.9"/><circle cx="302" cy="496.6" r="0.9"/><circle cx="356.6" cy="466.9" r="1"/><circle cx="301.4" cy="448.9" r="1.1"/><circle cx="343.2" cy="448.5" r="0.7"/><circle cx="378.5" cy="470.7" r="1.1"/><circle cx="352.6" cy="492.4" r="0.8"/><circle cx="362.1" cy="461.6" r="0.6"/><circle cx="310" cy="493.2" r="0.7"/><circle cx="358.1" cy="488.1" r="0.8"/><circle cx="305" cy="472.6" r="0.7"/><circle cx="324" cy="460.3" r="0.8"/><circle cx="364.5" cy="485.4" r="0.8"/><circle cx="349.6" cy="446" r="0.9"/><circle cx="381.9" cy="485.1" r="1"/><circle cx="345.5" cy="449.4" r="0.9"/><circle cx="332.6" cy="457.1" r="0.9"/><circle cx="343.6" cy="476.2" r="0.7"/><circle cx="363.4" cy="461.5" r="0.8"/><circle cx="357.9" cy="483.5" r="0.6"/><circle cx="320.4" cy="496.6" r="0.9"/><circle cx="375.1" cy="478.9" r="0.9"/><circle cx="318.8" cy="462.7" r="0.6"/><circle cx="325.4" cy="468.5" r="0.7"/><circle cx="374.7" cy="467.7" r="0.9"/><circle cx="326.8" cy="442.2" r="0.9"/><circle cx="364.7" cy="453.3" r="0.9"/><circle cx="373.8" cy="471.4" r="1"/><circle cx="356.2" cy="454.7" r="0.8"/><circle cx="312.3" cy="472.3" r="1"/><circle cx="340.2" cy="491.8" r="0.7"/><circle cx="364" cy="443.1" r="0.6"/><circle cx="374.5" cy="472" r="0.6"/><circle cx="327.7" cy="479" r="0.8"/><circle cx="306" cy="464.4" r="0.7"/><circle cx="303.1" cy="490.7" r="0.6"/><circle cx="372.6" cy="446.2" r="1"/><circle cx="355.2" cy="491.4" r="0.7"/><circle cx="338.6" cy="477.9" r="1.1"/><circle cx="357.1" cy="469.7" r="0.8"/><circle cx="335" cy="465.8" r="0.9"/><circle cx="310.1" cy="461.7" r="0.9"/><circle cx="323.5" cy="478.5" r="0.7"/><circle cx="337.8" cy="477" r="0.7"/><circle cx="362.1" cy="442.3" r="0.7"/><circle cx="313.8" cy="469.4" r="1"/><circle cx="314.2" cy="491" r="0.7"/><circle cx="345.2" cy="456.5" r="0.6"/><circle cx="312.4" cy="441.2" r="0.9"/><circle cx="381.7" cy="498.4" r="0.8"/><circle cx="381.7" cy="494.2" r="0.9"/><circle cx="368.8" cy="448" r="1.1"/><circle cx="382.5" cy="466.9" r="0.7"/><circle cx="375.1" cy="446.4" r="0.6"/><circle cx="368.1" cy="480" r="1"/><circle cx="359.2" cy="494.8" r="1"/><circle cx="362.6" cy="469.7" r="0.7"/><circle cx="338.7" cy="451.6" r="0.9"/><circle cx="347.7" cy="486.6" r="0.6"/><circle cx="322.7" cy="466.8" r="0.8"/><circle cx="317.3" cy="475.5" r="0.7"/><circle cx="333.3" cy="490.5" r="1.1"/><circle cx="325.4" cy="491" r="0.8"/><circle cx="369" cy="480.4" r="0.8"/><circle cx="336.2" cy="492.4" r="0.9"/><circle cx="305" cy="498.9" r="1.1"/><circle cx="342.9" cy="493.4" r="0.8"/><circle cx="372.7" cy="498.8" r="0.9"/><circle cx="371.6" cy="475.7" r="0.7"/><circle cx="303.2" cy="440.5" r="0.8"/><circle cx="378.8" cy="478.3" r="0.9"/><circle cx="329.8" cy="462.1" r="0.9"/><circle cx="368.2" cy="447.4" r="0.7"/><circle cx="345.5" cy="486.8" r="0.7"/><circle cx="350.9" cy="476.7" r="1.1"/><circle cx="353.8" cy="479.3" r="0.8"/><circle cx="373.7" cy="477.1" r="0.9"/><circle cx="359" cy="483" r="1"/><circle cx="365.8" cy="448.2" r="0.7"/><circle cx="329.4" cy="440.6" r="0.7"/><circle cx="338.6" cy="475.8" r="0.9"/><circle cx="344.2" cy="448.7" r="0.6"/><circle cx="338.6" cy="500.5" r="0.8"/><circle cx="323" cy="480.7" r="0.9"/><circle cx="300.7" cy="478.8" r="0.7"/><circle cx="317.7" cy="466.9" r="0.9"/><circle cx="367.7" cy="476.9" r="0.9"/><circle cx="357.2" cy="470.6" r="1"/><circle cx="380.7" cy="463.8" r="0.7"/><circle cx="309.2" cy="453.7" r="1"/><circle cx="338.3" cy="479.9" r="0.8"/><circle cx="305.2" cy="454.1" r="0.9"/><circle cx="361.7" cy="468.1" r="0.6"/><circle cx="336" cy="461.1" r="1.1"/><circle cx="330.4" cy="489.9" r="1.1"/><circle cx="303.8" cy="486.8" r="0.6"/><circle cx="365.7" cy="473.3" r="1"/><circle cx="312.2" cy="477.1" r="1.1"/><circle cx="301.4" cy="449.9" r="0.7"/><circle cx="367.6" cy="470" r="1.1"/><circle cx="347.3" cy="470.2" r="1.1"/><circle cx="305.4" cy="448.3" r="0.6"/><circle cx="315.5" cy="487.2" r="1"/><circle cx="360.5" cy="445.3" r="0.7"/><circle cx="357.6" cy="486.6" r="0.7"/><circle cx="377.7" cy="478.4" r="1"/><circle cx="312.3" cy="455.4" r="1"/><circle cx="345" cy="484.1" r="0.9"/><circle cx="305.2" cy="491.1" r="1"/><circle cx="363.4" cy="478.1" r="0.7"/><circle cx="335.6" cy="469.8" r="0.7"/><circle cx="364.8" cy="449.4" r="1.1"/><circle cx="311.4" cy="485" r="0.9"/><circle cx="324" cy="496.6" r="1"/><circle cx="345.6" cy="462.1" r="1"/><circle cx="309.6" cy="491.7" r="0.7"/><circle cx="346.4" cy="450.1" r="1"/><circle cx="324.6" cy="492.7" r="1.1"/><circle cx="322.9" cy="443.9" r="0.7"/><circle cx="366.6" cy="495.8" r="0.7"/><circle cx="381.6" cy="477.7" r="0.7"/><circle cx="309.7" cy="482.1" r="0.7"/><circle cx="325.3" cy="463" r="0.7"/><circle cx="308.8" cy="488.8" r="0.8"/><circle cx="301.7" cy="473.8" r="0.8"/><circle cx="314.7" cy="497.1" r="1"/><circle cx="307.2" cy="454.8" r="0.7"/><circle cx="304.5" cy="475.6" r="0.8"/><circle cx="331.6" cy="443" r="0.7"/><circle cx="384.3" cy="497.6" r="0.8"/><circle cx="340.7" cy="484.1" r="0.8"/><circle cx="381.4" cy="468.7" r="0.9"/><circle cx="382.9" cy="457.3" r="0.9"/><circle cx="344.2" cy="490.5" r="0.8"/><circle cx="358.2" cy="469.5" r="1"/><circle cx="358.5" cy="500.8" r="0.8"/><circle cx="323.7" cy="458.4" r="0.9"/><circle cx="377.9" cy="489.9" r="0.9"/><circle cx="301.5" cy="472.1" r="0.8"/><circle cx="363.9" cy="449.4" r="0.6"/></g><radialGradient id="g66755231"><stop offset="0" stop-color="#ece4f4" stop-opacity="1.0"/><stop offset="0.6" stop-color="#ece4f4" stop-opacity="0.7"/><stop offset="1" stop-color="#ece4f4" stop-opacity="0"/></radialGradient><ellipse cx="334" cy="459" rx="4" ry="3" fill="url(#g66755231)"/><radialGradient id="g99100472"><stop offset="0" stop-color="#ece4f4" stop-opacity="1.0"/><stop offset="0.6" stop-color="#ece4f4" stop-opacity="0.7"/><stop offset="1" stop-color="#ece4f4" stop-opacity="0"/></radialGradient><ellipse cx="317" cy="470" rx="4" ry="3" fill="url(#g99100472)"/><radialGradient id="g38604729"><stop offset="0" stop-color="#ece4f4" stop-opacity="1.0"/><stop offset="0.6" stop-color="#ece4f4" stop-opacity="0.7"/><stop offset="1" stop-color="#ece4f4" stop-opacity="0"/></radialGradient><ellipse cx="354" cy="454" rx="3" ry="2.5" fill="url(#g38604729)"/><radialGradient id="g42055147"><stop offset="0" stop-color="#ece4f4" stop-opacity="1.0"/><stop offset="0.6" stop-color="#ece4f4" stop-opacity="0.7"/><stop offset="1" stop-color="#ece4f4" stop-opacity="0"/></radialGradient><ellipse cx="372" cy="467" rx="3" ry="4" fill="url(#g42055147)"/><radialGradient id="g48351197"><stop offset="0" stop-color="#ece4f4" stop-opacity="1.0"/><stop offset="0.6" stop-color="#ece4f4" stop-opacity="0.7"/><stop offset="1" stop-color="#ece4f4" stop-opacity="0"/></radialGradient><ellipse cx="340" cy="490" rx="3" ry="2" fill="url(#g48351197)"/><radialGradient id="g69376502"><stop offset="0" stop-color="#ece4f4" stop-opacity="1.0"/><stop offset="0.6" stop-color="#ece4f4" stop-opacity="0.7"/><stop offset="1" stop-color="#ece4f4" stop-opacity="0"/></radialGradient><ellipse cx="362" cy="492" rx="4" ry="2.5" fill="url(#g69376502)"/><radialGradient id="g57086816"><stop offset="0" stop-color="#ece4f4" stop-opacity="1.0"/><stop offset="0.6" stop-color="#ece4f4" stop-opacity="0.7"/><stop offset="1" stop-color="#ece4f4" stop-opacity="0"/></radialGradient><ellipse cx="330" cy="487" rx="3" ry="2" fill="url(#g57086816)"/><radialGradient id="g99057788"><stop offset="0" stop-color="#ece4f4" stop-opacity="1.0"/><stop offset="0.6" stop-color="#ece4f4" stop-opacity="0.7"/><stop offset="1" stop-color="#ece4f4" stop-opacity="0"/></radialGradient><ellipse cx="320" cy="452" rx="3" ry="2" fill="url(#g99057788)"/><radialGradient id="g62154941"><stop offset="0" stop-color="#ece4f4" stop-opacity="1.0"/><stop offset="0.6" stop-color="#ece4f4" stop-opacity="0.7"/><stop offset="1" stop-color="#ece4f4" stop-opacity="0"/></radialGradient><ellipse cx="350" cy="475" rx="3" ry="2" fill="url(#g62154941)"/></g><rect x="303.5" y="441.9" width="10.5" height="5.6" fill="#fbf8fb"/><text class="lb" x="304.3" y="446.4" font-size="4.6" fill="#555" textLength="8.9" lengthAdjust="spacingAndGlyphs">200x</text></g><clipPath id="c16"><rect x="386.5" y="440.4" width="80.5" height="59.2"/></clipPath><g clip-path="url(#c16)"><g filter="url(#bl)"><rect x="386.5" y="440.4" width="80.5" height="59.2" fill="#b494c8"/><g fill="#c4a4d4" fill-opacity="0.8"><ellipse cx="0" cy="0" rx="2.9" ry="2" transform="translate(462.7 498.4) rotate(106)"/><ellipse cx="0" cy="0" rx="2.7" ry="2" transform="translate(416.5 461) rotate(2)"/><ellipse cx="0" cy="0" rx="3" ry="2.5" transform="translate(460.7 445.1) rotate(3)"/><ellipse cx="0" cy="0" rx="2.7" ry="2.1" transform="translate(466.5 461.3) rotate(102)"/><circle cx="391.5" cy="465.3" r="2.5"/><ellipse cx="0" cy="0" rx="2.7" ry="1.8" transform="translate(412.2 447.4) rotate(68)"/><ellipse cx="0" cy="0" rx="2.3" ry="1.6" transform="translate(413.7 500) rotate(13)"/><circle cx="422.1" cy="460.1" r="2.9"/><ellipse cx="0" cy="0" rx="2.9" ry="2.6" transform="translate(390.4 499.1) rotate(98)"/><ellipse cx="0" cy="0" rx="2.5" ry="2.1" transform="translate(464.9 443.4) rotate(42)"/><ellipse cx="0" cy="0" rx="2.8" ry="1.8" transform="translate(447.8 463.8) rotate(117)"/><ellipse cx="0" cy="0" rx="2.9" ry="2" transform="translate(429 457.2) rotate(157)"/><ellipse cx="0" cy="0" rx="2.3" ry="1.9" transform="translate(416.4 439.5) rotate(122)"/><ellipse cx="0" cy="0" rx="3" ry="2.3" transform="translate(414 457.5) rotate(69)"/><ellipse cx="0" cy="0" rx="3" ry="2.1" transform="translate(416.9 494.9) rotate(66)"/><ellipse cx="0" cy="0" rx="2.6" ry="1.7" transform="translate(405.4 500.5) rotate(145)"/><ellipse cx="0" cy="0" rx="2.5" ry="2.4" transform="translate(401.4 474.1) rotate(32)"/><ellipse cx="0" cy="0" rx="2.3" ry="1.8" transform="translate(429.6 492.7) rotate(117)"/><ellipse cx="0" cy="0" rx="2.9" ry="2.6" transform="translate(423.1 480.1) rotate(64)"/><ellipse cx="0" cy="0" rx="2.1" ry="1.6" transform="translate(434.3 464.6) rotate(120)"/><ellipse cx="0" cy="0" rx="2.2" ry="1.8" transform="translate(453.7 463.6) rotate(2)"/><ellipse cx="0" cy="0" rx="2.6" ry="1.9" transform="translate(423.1 438.6) rotate(132)"/><ellipse cx="0" cy="0" rx="2.7" ry="2.4" transform="translate(417.5 500) rotate(120)"/><ellipse cx="0" cy="0" rx="3" ry="2.7" transform="translate(445.3 447.5) rotate(146)"/><circle cx="430.3" cy="446.1" r="1.9"/><ellipse cx="0" cy="0" rx="2.4" ry="1.8" transform="translate(394.4 439.5) rotate(116)"/><ellipse cx="0" cy="0" rx="2.6" ry="2.1" transform="translate(450.7 458.1) rotate(164)"/><circle cx="389.9" cy="487.7" r="2"/><ellipse cx="0" cy="0" rx="2.6" ry="2.1" transform="translate(445.3 498.9) rotate(48)"/><ellipse cx="0" cy="0" rx="2.5" ry="2" transform="translate(406.5 497) rotate(8)"/><circle cx="451.9" cy="478.6" r="2"/><circle cx="394.2" cy="465.6" r="1.9"/><ellipse cx="0" cy="0" rx="2.1" ry="1.6" transform="translate(449.4 444.7) rotate(159)"/><ellipse cx="0" cy="0" rx="2.9" ry="2.2" transform="translate(422.2 441.8) rotate(132)"/><ellipse cx="0" cy="0" rx="2.7" ry="2.4" transform="translate(386.5 492.7) rotate(19)"/><ellipse cx="0" cy="0" rx="2.9" ry="2" transform="translate(464.5 478.4) rotate(53)"/><ellipse cx="0" cy="0" rx="2.6" ry="2.2" transform="translate(428.7 498.6) rotate(111)"/><circle cx="460.8" cy="461.5" r="2.9"/><ellipse cx="0" cy="0" rx="2.6" ry="2" transform="translate(414.5 444.8) rotate(102)"/><ellipse cx="0" cy="0" rx="2" ry="1.7" transform="translate(462 501.5) rotate(71)"/><ellipse cx="0" cy="0" rx="2.6" ry="1.7" transform="translate(454.2 472.6) rotate(85)"/><ellipse cx="0" cy="0" rx="2.8" ry="2" transform="translate(444 456.1) rotate(55)"/><ellipse cx="0" cy="0" rx="2.3" ry="1.7" transform="translate(456.2 501.1) rotate(127)"/><circle cx="466.8" cy="493.3" r="1.9"/><ellipse cx="0" cy="0" rx="2" ry="1.3" transform="translate(390.5 439.7) rotate(103)"/><ellipse cx="0" cy="0" rx="2.8" ry="2.5" transform="translate(468.9 498.1) rotate(79)"/><circle cx="385.1" cy="470.4" r="2.5"/><circle cx="425.7" cy="443.9" r="2.8"/></g><g fill="#d0b4dc" fill-opacity="0.8"><ellipse cx="0" cy="0" rx="2.7" ry="2.3" transform="translate(414.8 442) rotate(118)"/><ellipse cx="0" cy="0" rx="2" ry="1.6" transform="translate(432.9 489.9) rotate(142)"/><circle cx="399.9" cy="449.7" r="2.2"/><circle cx="393.7" cy="495.3" r="2.5"/><ellipse cx="0" cy="0" rx="2.7" ry="2.5" transform="translate(406.3 445.2) rotate(149)"/><ellipse cx="0" cy="0" rx="2.3" ry="1.5" transform="translate(466.9 441.9) rotate(145)"/><ellipse cx="0" cy="0" rx="2.9" ry="2.5" transform="translate(466.8 489.3) rotate(177)"/><ellipse cx="0" cy="0" rx="2.4" ry="1.8" transform="translate(430.8 486.1) rotate(16)"/><ellipse cx="0" cy="0" rx="2.1" ry="1.4" transform="translate(442.9 473.7) rotate(29)"/><ellipse cx="0" cy="0" rx="2.5" ry="2.1" transform="translate(419.1 487.2) rotate(148)"/><ellipse cx="0" cy="0" rx="3" ry="2.7" transform="translate(386.6 447.2) rotate(77)"/><ellipse cx="0" cy="0" rx="2.1" ry="1.6" transform="translate(452.1 500.9) rotate(4)"/><ellipse cx="0" cy="0" rx="2.1" ry="1.8" transform="translate(465.2 464.9) rotate(178)"/><circle cx="459.4" cy="480.6" r="2.7"/><ellipse cx="0" cy="0" rx="2.7" ry="1.8" transform="translate(468.1 455.9) rotate(6)"/><ellipse cx="0" cy="0" rx="3" ry="2.6" transform="translate(436.1 461.2) rotate(125)"/><circle cx="388" cy="446" r="2.7"/><ellipse cx="0" cy="0" rx="2.9" ry="2.2" transform="translate(463.3 457) rotate(143)"/><ellipse cx="0" cy="0" rx="2.5" ry="1.9" transform="translate(453.9 476.5) rotate(24)"/><circle cx="398" cy="451.9" r="3"/><ellipse cx="0" cy="0" rx="2.3" ry="2.1" transform="translate(454.7 440.9) rotate(136)"/><circle cx="402.3" cy="464.1" r="1.9"/><ellipse cx="0" cy="0" rx="2.3" ry="1.7" transform="translate(453.3 449.9) rotate(139)"/><ellipse cx="0" cy="0" rx="2.1" ry="1.8" transform="translate(413.1 485.1) rotate(141)"/><ellipse cx="0" cy="0" rx="2.8" ry="1.9" transform="translate(466.4 445.4) rotate(14)"/><ellipse cx="0" cy="0" rx="2.9" ry="2" transform="translate(468.4 479.3) rotate(132)"/><ellipse cx="0" cy="0" rx="2.8" ry="2.3" transform="translate(440 446.7) rotate(132)"/><ellipse cx="0" cy="0" rx="2.3" ry="1.8" transform="translate(385.2 469.8) rotate(129)"/><ellipse cx="0" cy="0" rx="2.8" ry="2.6" transform="translate(454.8 451.5) rotate(25)"/><circle cx="453.8" cy="480.7" r="1.9"/><ellipse cx="0" cy="0" rx="2.4" ry="2.1" transform="translate(452.9 471.4) rotate(167)"/><circle cx="455.4" cy="455.2" r="2.5"/><ellipse cx="0" cy="0" rx="2.8" ry="2.1" transform="translate(402.8 473.7) rotate(101)"/><circle cx="450.1" cy="484.9" r="2"/><circle cx="444.1" cy="481" r="2.2"/><ellipse cx="0" cy="0" rx="2.3" ry="2" transform="translate(418.6 480.5) rotate(31)"/><ellipse cx="0" cy="0" rx="2.1" ry="1.9" transform="translate(441.5 449.6) rotate(130)"/><circle cx="459.8" cy="488.1" r="2.5"/><ellipse cx="0" cy="0" rx="2.8" ry="2.1" transform="translate(450.5 480.4) rotate(20)"/><ellipse cx="0" cy="0" rx="3" ry="2.6" transform="translate(406.1 497) rotate(176)"/><ellipse cx="0" cy="0" rx="2.7" ry="2.2" transform="translate(426.1 458.7) rotate(66)"/><circle cx="434.2" cy="492.1" r="1.9"/><circle cx="390" cy="446.5" r="2"/><ellipse cx="0" cy="0" rx="2.6" ry="1.8" transform="translate(468.2 440.7) rotate(115)"/><ellipse cx="0" cy="0" rx="2.3" ry="1.7" transform="translate(461.7 492) rotate(159)"/><ellipse cx="0" cy="0" rx="2.8" ry="2" transform="translate(434.1 486.3) rotate(94)"/><ellipse cx="0" cy="0" rx="2.1" ry="1.8" transform="translate(454.8 452.6) rotate(52)"/><ellipse cx="0" cy="0" rx="2.3" ry="1.7" transform="translate(419.5 499.3) rotate(174)"/><ellipse cx="0" cy="0" rx="2.9" ry="2.6" transform="translate(443.6 474.8) rotate(159)"/><circle cx="407.3" cy="487.2" r="2"/><ellipse cx="0" cy="0" rx="2.8" ry="1.8" transform="translate(426.5 470.5) rotate(8)"/><ellipse cx="0" cy="0" rx="2.6" ry="2" transform="translate(404.9 476.8) rotate(167)"/></g><g fill="#4e2a7e" fill-opacity="0.95"><ellipse cx="0" cy="0" rx="2" ry="1.4" transform="translate(438.3 480.3) rotate(135)"/><ellipse cx="0" cy="0" rx="2" ry="1.9" transform="translate(453.6 461.9) rotate(86)"/><circle cx="396.9" cy="497" r="1.3"/><circle cx="422.6" cy="444.8" r="1.6"/><circle cx="411.5" cy="482.1" r="1.5"/><ellipse cx="0" cy="0" rx="2" ry="1.6" transform="translate(458 481.1) rotate(70)"/><circle cx="435.1" cy="489.7" r="1.3"/><circle cx="449.6" cy="454.6" r="1.7"/><circle cx="439.8" cy="480.2" r="1.8"/><ellipse cx="0" cy="0" rx="2.3" ry="2" transform="translate(427.1 455.2) rotate(18)"/><circle cx="454.2" cy="491.6" r="1.3"/><circle cx="444.6" cy="468.1" r="1.3"/><ellipse cx="0" cy="0" rx="2.1" ry="1.5" transform="translate(460.9 479.6) rotate(57)"/><circle cx="458" cy="469.5" r="1.5"/><circle cx="394.4" cy="482.1" r="1.5"/><circle cx="457.6" cy="461.8" r="1.9"/><circle cx="393.8" cy="459.7" r="1.4"/><circle cx="445" cy="447" r="1.5"/><ellipse cx="0" cy="0" rx="2.1" ry="1.7" transform="translate(399.5 449.6) rotate(85)"/><circle cx="448.3" cy="443.3" r="1.7"/><circle cx="406" cy="440.4" r="1.5"/><circle cx="430.4" cy="465.4" r="1.6"/><circle cx="464.6" cy="493.1" r="1.8"/><ellipse cx="0" cy="0" rx="2" ry="1.5" transform="translate(457.1 490.5) rotate(52)"/><circle cx="415" cy="455.7" r="1.8"/><circle cx="427" cy="438.6" r="1.8"/><ellipse cx="0" cy="0" rx="2" ry="1.6" transform="translate(422.2 477.6) rotate(64)"/><circle cx="423.6" cy="466.7" r="1.8"/><circle cx="456.2" cy="439.2" r="2"/><circle cx="452.1" cy="459.9" r="1.4"/><circle cx="433.6" cy="459.4" r="1.8"/><ellipse cx="0" cy="0" rx="2.1" ry="1.5" transform="translate(413.7 485.7) rotate(172)"/><circle cx="454.9" cy="494.6" r="1.3"/><ellipse cx="0" cy="0" rx="2.2" ry="2" transform="translate(413.3 449.9) rotate(8)"/><circle cx="467.4" cy="476.9" r="1.5"/><circle cx="459.6" cy="443" r="1.9"/><circle cx="420.3" cy="481.6" r="1.4"/><circle cx="436.6" cy="440.6" r="1.8"/><ellipse cx="0" cy="0" rx="2.2" ry="1.7" transform="translate(386.7 439) rotate(63)"/><ellipse cx="0" cy="0" rx="2" ry="1.7" transform="translate(466.4 475.8) rotate(148)"/><ellipse cx="0" cy="0" rx="2.2" ry="1.3" transform="translate(390.4 479.4) rotate(83)"/><circle cx="450.5" cy="451.5" r="1.3"/><circle cx="420.6" cy="481.6" r="1.4"/><circle cx="441.4" cy="497.9" r="1.9"/><ellipse cx="0" cy="0" rx="2.3" ry="1.9" transform="translate(444.2 443) rotate(141)"/><circle cx="462" cy="474.6" r="1.8"/><ellipse cx="0" cy="0" rx="2.3" ry="1.5" transform="translate(421.8 494.7) rotate(132)"/><circle cx="398.5" cy="459.5" r="1.3"/></g><g fill="#8a64ae" fill-opacity="0.95"><circle cx="404.8" cy="495.6" r="1.4"/><circle cx="387.2" cy="489.4" r="1.5"/><ellipse cx="0" cy="0" rx="2.1" ry="1.8" transform="translate(400.4 489.2) rotate(81)"/><circle cx="458.4" cy="450.7" r="1.7"/><circle cx="399.8" cy="483.8" r="1.7"/><circle cx="443.9" cy="439.8" r="1.6"/><circle cx="464.8" cy="483.1" r="1.3"/><circle cx="467.2" cy="494" r="1.4"/><circle cx="398.1" cy="479.4" r="1.8"/><circle cx="411.3" cy="494.8" r="1.3"/><circle cx="452.2" cy="488.1" r="1.7"/><circle cx="413.3" cy="456.4" r="1.5"/><circle cx="461.4" cy="485.9" r="1.8"/><circle cx="460.5" cy="445.3" r="1.3"/><circle cx="464.2" cy="469.4" r="1.9"/><circle cx="389.8" cy="446.5" r="2"/><circle cx="386.6" cy="451.9" r="1.5"/><ellipse cx="0" cy="0" rx="2.1" ry="1.4" transform="translate(417.1 472.9) rotate(67)"/><ellipse cx="0" cy="0" rx="2.1" ry="1.7" transform="translate(393 483.4) rotate(154)"/><ellipse cx="0" cy="0" rx="2.2" ry="2" transform="translate(435.8 481.7) rotate(146)"/><circle cx="429.3" cy="440" r="1.9"/><circle cx="457.2" cy="482.5" r="1.3"/><circle cx="393.3" cy="475.7" r="1.8"/><ellipse cx="0" cy="0" rx="2.2" ry="1.4" transform="translate(453.9 489.2) rotate(30)"/><circle cx="395.1" cy="450.8" r="1.5"/><circle cx="437.6" cy="500" r="1.6"/><circle cx="420.7" cy="444.4" r="1.3"/><circle cx="457.3" cy="493.1" r="1.8"/><circle cx="410.8" cy="481.3" r="1.9"/><ellipse cx="0" cy="0" rx="2.3" ry="2.1" transform="translate(460.7 462.8) rotate(25)"/><circle cx="423.6" cy="487.1" r="1.3"/><ellipse cx="0" cy="0" rx="2.2" ry="1.9" transform="translate(416 457.1) rotate(15)"/><circle cx="394.7" cy="471.1" r="1.7"/><circle cx="421.8" cy="491.2" r="1.7"/><ellipse cx="0" cy="0" rx="2.3" ry="1.5" transform="translate(398.7 476.4) rotate(27)"/><circle cx="430.5" cy="472.2" r="1.7"/><circle cx="410.1" cy="456.5" r="1.6"/><circle cx="454" cy="438.6" r="1.5"/><ellipse cx="0" cy="0" rx="2.1" ry="1.7" transform="translate(394.7 466.4) rotate(146)"/><circle cx="433.9" cy="481.1" r="1.6"/><circle cx="420.9" cy="490.3" r="1.9"/><circle cx="418" cy="485.2" r="1.7"/><circle cx="408.3" cy="484.3" r="1.6"/><circle cx="406.8" cy="462.8" r="1.4"/><ellipse cx="0" cy="0" rx="2.1" ry="1.7" transform="translate(462.9 461.4) rotate(150)"/><circle cx="408.9" cy="449.1" r="1.7"/><ellipse cx="0" cy="0" rx="2.1" ry="1.4" transform="translate(468.7 492) rotate(54)"/></g><g fill="#6a4496" fill-opacity="0.95"><ellipse cx="0" cy="0" rx="2.2" ry="1.8" transform="translate(416.2 464.1) rotate(161)"/><ellipse cx="0" cy="0" rx="2.1" ry="1.7" transform="translate(425.1 443.2) rotate(155)"/><circle cx="406.4" cy="448.8" r="1.6"/><circle cx="391.2" cy="442.9" r="1.4"/><circle cx="397.2" cy="457.8" r="1.6"/><circle cx="462.1" cy="462.7" r="1.7"/><circle cx="426.5" cy="489.7" r="1.7"/><ellipse cx="0" cy="0" rx="2.3" ry="1.4" transform="translate(440.8 461.2) rotate(74)"/><circle cx="385.5" cy="457.9" r="1.3"/><circle cx="406.7" cy="469.3" r="1.9"/><circle cx="454.6" cy="472.2" r="1.8"/><circle cx="424.1" cy="460.3" r="1.3"/><circle cx="460.2" cy="487.8" r="1.4"/><ellipse cx="0" cy="0" rx="2.2" ry="1.4" transform="translate(413.6 487.8) rotate(73)"/><circle cx="459.3" cy="460.9" r="1.7"/><circle cx="464.3" cy="476.1" r="1.9"/><circle cx="455.9" cy="495.5" r="1.8"/><circle cx="398.2" cy="456.7" r="1.4"/><circle cx="457.2" cy="475.2" r="1.7"/><circle cx="388.1" cy="447.1" r="1.6"/><circle cx="426.5" cy="438.8" r="1.8"/><ellipse cx="0" cy="0" rx="2.1" ry="1.7" transform="translate(425.7 489) rotate(0)"/><circle cx="466.7" cy="483" r="1.8"/><circle cx="434.6" cy="479.9" r="1.9"/><circle cx="389.9" cy="473.8" r="1.4"/><circle cx="405.4" cy="498.8" r="1.3"/><circle cx="436.3" cy="461.1" r="1.7"/><ellipse cx="0" cy="0" rx="2.2" ry="1.7" transform="translate(406.6 492.1) rotate(13)"/><ellipse cx="0" cy="0" rx="2.2" ry="2" transform="translate(449.1 491.7) rotate(165)"/><circle cx="431.5" cy="470.3" r="1.8"/><circle cx="419" cy="470.8" r="1.8"/><circle cx="438.6" cy="500.4" r="1.4"/><circle cx="389.4" cy="479.5" r="1.9"/><circle cx="433" cy="447.6" r="1.7"/><ellipse cx="0" cy="0" rx="2.3" ry="1.9" transform="translate(420.3 491.4) rotate(33)"/><circle cx="446" cy="459" r="1.4"/><ellipse cx="0" cy="0" rx="2.2" ry="1.9" transform="translate(444.4 486) rotate(41)"/><ellipse cx="0" cy="0" rx="2.2" ry="1.9" transform="translate(407.3 446.3) rotate(96)"/><circle cx="420.8" cy="442.7" r="1.6"/><circle cx="413.4" cy="488.3" r="1.8"/><circle cx="454.5" cy="495.2" r="1.6"/><ellipse cx="0" cy="0" rx="2" ry="1.8" transform="translate(411.1 495.7) rotate(174)"/><circle cx="461.1" cy="443.3" r="1.4"/><circle cx="439.4" cy="493" r="1.8"/><ellipse cx="0" cy="0" rx="2" ry="1.5" transform="translate(391.8 438.7) rotate(18)"/><circle cx="401.9" cy="467.1" r="1.9"/></g><g fill="#5a3488" fill-opacity="0.95"><circle cx="403.4" cy="465.2" r="1.4"/><circle cx="410.5" cy="493.2" r="1.7"/><ellipse cx="0" cy="0" rx="2" ry="1.4" transform="translate(434.5 461.3) rotate(50)"/><circle cx="454.6" cy="459.9" r="1.9"/><circle cx="422.4" cy="482.2" r="1.3"/><circle cx="418.3" cy="482.4" r="1.8"/><ellipse cx="0" cy="0" rx="2.3" ry="1.8" transform="translate(429.8 461) rotate(7)"/><ellipse cx="0" cy="0" rx="2.2" ry="1.5" transform="translate(388.3 499.4) rotate(83)"/><circle cx="429.3" cy="479.6" r="2"/><circle cx="397.7" cy="485.2" r="2.1"/><circle cx="411.4" cy="497" r="1.9"/><circle cx="426.4" cy="463.3" r="1.7"/><circle cx="440.2" cy="453.6" r="1.5"/><circle cx="449.2" cy="447.8" r="2"/><circle cx="450.1" cy="445.2" r="1.3"/><ellipse cx="0" cy="0" rx="2.2" ry="1.4" transform="translate(421 465) rotate(0)"/><circle cx="398.8" cy="474.4" r="1.4"/><circle cx="465.7" cy="493.3" r="1.5"/><circle cx="397.7" cy="443.9" r="1.7"/><circle cx="442.7" cy="497.2" r="2"/><circle cx="467.9" cy="471.6" r="1.6"/><circle cx="401.3" cy="450.6" r="1.7"/><circle cx="427.9" cy="444.4" r="1.7"/><circle cx="441.1" cy="470.9" r="1.8"/><ellipse cx="0" cy="0" rx="2" ry="1.5" transform="translate(397.1 498.3) rotate(160)"/><circle cx="460" cy="481" r="1.5"/><ellipse cx="0" cy="0" rx="2.3" ry="1.5" transform="translate(410.4 460.1) rotate(33)"/><circle cx="431.1" cy="438.9" r="1.7"/><circle cx="397.6" cy="456" r="1.9"/><ellipse cx="0" cy="0" rx="2" ry="1.4" transform="translate(430.4 500.8) rotate(86)"/><ellipse cx="0" cy="0" rx="2" ry="1.8" transform="translate(408.4 474.6) rotate(62)"/><circle cx="465.1" cy="465.3" r="1.4"/><circle cx="387.6" cy="450.8" r="1.6"/><ellipse cx="0" cy="0" rx="2" ry="1.6" transform="translate(395.8 464.4) rotate(101)"/><ellipse cx="0" cy="0" rx="2.2" ry="1.8" transform="translate(399 459.4) rotate(33)"/><circle cx="415.9" cy="452.6" r="1.6"/><circle cx="390.4" cy="463.2" r="1.8"/><circle cx="411.2" cy="471.1" r="2"/><ellipse cx="0" cy="0" rx="2.1" ry="1.6" transform="translate(399.2 459) rotate(176)"/><circle cx="412.4" cy="471.6" r="1.9"/><circle cx="419" cy="494.2" r="1.7"/><circle cx="461.3" cy="495.2" r="1.6"/><circle cx="455.7" cy="446" r="1.5"/></g><g fill="#7a54a2" fill-opacity="0.95"><circle cx="386.6" cy="450.5" r="1.8"/><circle cx="413.2" cy="486.2" r="2.2"/><circle cx="405" cy="444.2" r="1.9"/><circle cx="395.3" cy="468.9" r="1.6"/><circle cx="465.1" cy="462.7" r="1.4"/><ellipse cx="0" cy="0" rx="2.1" ry="1.8" transform="translate(442.1 460.8) rotate(130)"/><circle cx="445.4" cy="451.6" r="1.9"/><circle cx="416.4" cy="467.2" r="1.5"/><circle cx="404.5" cy="480.1" r="1.9"/><ellipse cx="0" cy="0" rx="2.3" ry="1.6" transform="translate(449.6 459.3) rotate(153)"/><circle cx="425.7" cy="459" r="1.6"/><ellipse cx="0" cy="0" rx="2.2" ry="1.4" transform="translate(398.8 456.4) rotate(107)"/><ellipse cx="0" cy="0" rx="2.1" ry="1.5" transform="translate(439.4 477.7) rotate(59)"/><circle cx="411" cy="492.8" r="1.4"/><circle cx="451.8" cy="491.3" r="1.9"/><circle cx="454.3" cy="477.9" r="1.6"/><circle cx="465.6" cy="492.7" r="1.8"/><circle cx="390.9" cy="444.9" r="1.5"/><circle cx="465.8" cy="439.4" r="1.9"/><ellipse cx="0" cy="0" rx="2" ry="1.5" transform="translate(426 457.3) rotate(41)"/><circle cx="449.2" cy="490.1" r="1.7"/><circle cx="457.3" cy="488.7" r="1.4"/><ellipse cx="0" cy="0" rx="2.1" ry="1.2" transform="translate(454.7 458.8) rotate(89)"/><ellipse cx="0" cy="0" rx="2.2" ry="1.7" transform="translate(468.4 464) rotate(103)"/><ellipse cx="0" cy="0" rx="2.2" ry="1.6" transform="translate(462.4 452.7) rotate(128)"/><circle cx="453" cy="499.6" r="1.7"/><ellipse cx="0" cy="0" rx="2.2" ry="1.6" transform="translate(440.5 453.7) rotate(102)"/><circle cx="385.6" cy="464.9" r="1.3"/><circle cx="408.9" cy="493.3" r="1.8"/><circle cx="434.3" cy="444.2" r="2"/><circle cx="447.3" cy="457.6" r="1.5"/><circle cx="451.3" cy="473.7" r="1.9"/><circle cx="427.7" cy="491.4" r="1.5"/><ellipse cx="0" cy="0" rx="2.1" ry="1.4" transform="translate(415.9 450.1) rotate(46)"/><circle cx="412.3" cy="476.9" r="1.3"/><circle cx="415.9" cy="463.1" r="1.8"/><circle cx="421.3" cy="461.1" r="1.9"/><ellipse cx="0" cy="0" rx="2.2" ry="1.4" transform="translate(398.2 447.5) rotate(123)"/><circle cx="431.3" cy="459.5" r="1.8"/><ellipse cx="0" cy="0" rx="2.3" ry="2" transform="translate(412.4 455.5) rotate(14)"/><circle cx="388.6" cy="471" r="1.4"/><circle cx="396.7" cy="455.1" r="1.7"/><circle cx="388.9" cy="468.3" r="1.9"/><circle cx="386.6" cy="447.3" r="1.4"/><circle cx="426.5" cy="438.4" r="1.7"/><circle cx="434.3" cy="458.6" r="1.8"/></g><radialGradient id="g51262893"><stop offset="0" stop-color="#ffffff" stop-opacity="0.9"/><stop offset="0.6" stop-color="#ffffff" stop-opacity="0.63"/><stop offset="1" stop-color="#ffffff" stop-opacity="0"/></radialGradient><ellipse cx="449" cy="447" rx="4" ry="3" fill="url(#g51262893)"/><radialGradient id="g67688752"><stop offset="0" stop-color="#f4ecf6" stop-opacity="0.9"/><stop offset="0.6" stop-color="#f4ecf6" stop-opacity="0.63"/><stop offset="1" stop-color="#f4ecf6" stop-opacity="0"/></radialGradient><ellipse cx="457" cy="492" rx="5" ry="4" fill="url(#g67688752)"/><radialGradient id="g6743414"><stop offset="0" stop-color="#e8a0c0" stop-opacity="0.6"/><stop offset="0.6" stop-color="#e8a0c0" stop-opacity="0.42"/><stop offset="1" stop-color="#e8a0c0" stop-opacity="0"/></radialGradient><ellipse cx="432" cy="459" rx="5" ry="3" fill="url(#g6743414)"/></g><rect x="387.7" y="441.9" width="11.5" height="5.6" fill="#fbf8fb"/><text class="lb" x="388.5" y="446.4" font-size="4.6" fill="#555" textLength="9.9" lengthAdjust="spacingAndGlyphs">1000x</text></g><clipPath id="c17"><rect x="218" y="500.8" width="80.5" height="60.7"/></clipPath><g clip-path="url(#c17)"><g filter="url(#bl)"><rect x="218" y="500.8" width="80.5" height="60.7" fill="#faf6f2"/><ellipse cx="221.7" cy="522.5" rx="4" ry="4.5" fill="#9a74bc" stroke="#f4eef4" stroke-width="0.5"/><ellipse cx="229.9" cy="521" rx="5" ry="5" fill="#9a74bc" stroke="#f4eef4" stroke-width="0.5"/><ellipse cx="227.4" cy="514.3" rx="3" ry="3" fill="#8a62b0" stroke="#f4eef4" stroke-width="0.5"/><ellipse cx="242.1" cy="507.8" rx="4" ry="4" fill="#6a4298" stroke="#f4eef4" stroke-width="0.5"/><ellipse cx="247" cy="512" rx="3" ry="3" fill="#7a52a6" stroke="#f4eef4" stroke-width="0.5"/><ellipse cx="255.2" cy="518.4" rx="4" ry="4" fill="#8a62b0" stroke="#f4eef4" stroke-width="0.5"/><ellipse cx="260" cy="522.5" rx="5" ry="5" fill="#7a52a6" stroke="#f4eef4" stroke-width="0.5"/><ellipse cx="265" cy="507.8" rx="4" ry="4" fill="#8a62b0" stroke="#f4eef4" stroke-width="0.5"/><ellipse cx="266.7" cy="527.4" rx="4" ry="4" fill="#9a74bc" stroke="#f4eef4" stroke-width="0.5"/><ellipse cx="265" cy="544.6" rx="5" ry="5.5" fill="#6a4298" stroke="#f4eef4" stroke-width="0.5"/><ellipse cx="243.8" cy="542.9" rx="4" ry="3.5" fill="#7a52a6" stroke="#f4eef4" stroke-width="0.5"/><ellipse cx="252" cy="537.2" rx="3" ry="3" fill="#6a4298" stroke="#f4eef4" stroke-width="0.5"/><ellipse cx="286.3" cy="507.8" rx="4" ry="4" fill="#8a62b0" stroke="#f4eef4" stroke-width="0.5"/><ellipse cx="278.1" cy="509.4" rx="3" ry="3" fill="#7a52a6" stroke="#f4eef4" stroke-width="0.5"/><ellipse cx="287.9" cy="545.4" rx="6" ry="5" fill="#8a62b0" stroke="#f4eef4" stroke-width="0.5"/><ellipse cx="281.4" cy="541.3" rx="4" ry="4" fill="#7a52a6" stroke="#f4eef4" stroke-width="0.5"/><ellipse cx="253.6" cy="557.6" rx="4" ry="3" fill="#6a4298" stroke="#f4eef4" stroke-width="0.5"/><ellipse cx="220.9" cy="556" rx="3" ry="3" fill="#9a74bc" stroke="#f4eef4" stroke-width="0.5"/><ellipse cx="235.6" cy="554.4" rx="3" ry="2.5" fill="#7a52a6" stroke="#f4eef4" stroke-width="0.5"/><ellipse cx="278.9" cy="556" rx="3" ry="3" fill="#6a4298" stroke="#f4eef4" stroke-width="0.5"/><ellipse cx="222.5" cy="533.1" rx="3" ry="3" fill="#7a52a6" stroke="#f4eef4" stroke-width="0.5"/><ellipse cx="258" cy="530" rx="4" ry="3.5" fill="#8a62b0" stroke="#f4eef4" stroke-width="0.5"/><ellipse cx="270" cy="518" rx="3" ry="3.5" fill="#7a52a6" stroke="#f4eef4" stroke-width="0.5"/><ellipse cx="249" cy="525" rx="3" ry="3" fill="#6a4298" stroke="#f4eef4" stroke-width="0.5"/><ellipse cx="292" cy="548" rx="4" ry="4" fill="#7a52a6" stroke="#f4eef4" stroke-width="0.5"/><ellipse cx="296" cy="537" rx="3" ry="3" fill="#7a52a6" stroke="#f4eef4" stroke-width="0.5"/><ellipse cx="236" cy="527" rx="2.5" ry="2.5" fill="#8a62b0" stroke="#f4eef4" stroke-width="0.5"/><ellipse cx="232" cy="505" rx="3" ry="3" fill="#8a62b0" stroke="#f4eef4" stroke-width="0.5"/><ellipse cx="238" cy="512" rx="3.5" ry="3.5" fill="#7a52a6" stroke="#f4eef4" stroke-width="0.5"/><ellipse cx="250" cy="505" rx="3" ry="3" fill="#7a52a6" stroke="#f4eef4" stroke-width="0.5"/><ellipse cx="274" cy="512" rx="3.5" ry="3.5" fill="#7a52a6" stroke="#f4eef4" stroke-width="0.5"/><ellipse cx="286" cy="520" rx="3" ry="3" fill="#7a52a6" stroke="#f4eef4" stroke-width="0.5"/><ellipse cx="226" cy="545" rx="3.5" ry="3.5" fill="#9a74bc" stroke="#f4eef4" stroke-width="0.5"/><ellipse cx="272" cy="535" rx="3.5" ry="3.5" fill="#9a74bc" stroke="#f4eef4" stroke-width="0.5"/><ellipse cx="260" cy="552" rx="3" ry="3" fill="#7a52a6" stroke="#f4eef4" stroke-width="0.5"/><ellipse cx="245" cy="520" rx="3.5" ry="3.5" fill="#7a52a6" stroke="#f4eef4" stroke-width="0.5"/><ellipse cx="262" cy="512" rx="3" ry="3" fill="#7a52a6" stroke="#f4eef4" stroke-width="0.5"/><ellipse cx="283" cy="530" rx="3" ry="3" fill="#7a52a6" stroke="#f4eef4" stroke-width="0.5"/><ellipse cx="234" cy="527.5" rx="1.3" ry="1.3" fill="#201838"/><ellipse cx="265" cy="516" rx="1.5" ry="1.5" fill="#301858"/></g><rect x="219.2" y="502.3" width="10.5" height="5.6" fill="#fbf8fb"/><text class="lb" x="220" y="506.8" font-size="4.6" fill="#555" textLength="8.9" lengthAdjust="spacingAndGlyphs">500x</text></g><clipPath id="c18"><rect x="302.3" y="500.8" width="80.4" height="60.7"/></clipPath><g clip-path="url(#c18)"><g filter="url(#bl)"><rect x="302.3" y="500.8" width="80.4" height="60.7" fill="#c8aad8"/><radialGradient id="g44112956"><stop offset="0" stop-color="#e2c0dc" stop-opacity="0.9"/><stop offset="0.6" stop-color="#e2c0dc" stop-opacity="0.63"/><stop offset="1" stop-color="#e2c0dc" stop-opacity="0"/></radialGradient><ellipse cx="320" cy="525" rx="8" ry="6" fill="url(#g44112956)"/><radialGradient id="g10142396"><stop offset="0" stop-color="#e2c0dc" stop-opacity="0.9"/><stop offset="0.6" stop-color="#e2c0dc" stop-opacity="0.63"/><stop offset="1" stop-color="#e2c0dc" stop-opacity="0"/></radialGradient><ellipse cx="340" cy="540" rx="8" ry="5" fill="url(#g10142396)"/><radialGradient id="g62497237"><stop offset="0" stop-color="#e2c0dc" stop-opacity="0.9"/><stop offset="0.6" stop-color="#e2c0dc" stop-opacity="0.63"/><stop offset="1" stop-color="#e2c0dc" stop-opacity="0"/></radialGradient><ellipse cx="360" cy="520" rx="8" ry="6" fill="url(#g62497237)"/><g fill="#6a4a9a"><circle cx="332.1" cy="558.8" r="2"/><circle cx="346.1" cy="503.8" r="1.7"/><circle cx="337.1" cy="530.8" r="1.7"/><circle cx="324.2" cy="501.9" r="1.6"/><circle cx="374.9" cy="547.9" r="1.4"/><circle cx="331.5" cy="522.3" r="1.6"/><circle cx="367.3" cy="522.4" r="1.4"/><circle cx="383.4" cy="505.7" r="2"/><circle cx="305.2" cy="561.5" r="1.3"/><ellipse cx="0" cy="0" rx="2.1" ry="1.7" transform="translate(332.6 550) rotate(50)"/><circle cx="320.4" cy="557.6" r="1.4"/><circle cx="366.9" cy="513.8" r="1.4"/><circle cx="301.7" cy="515.7" r="2"/><circle cx="311.4" cy="508.1" r="1.7"/><circle cx="375.6" cy="534.2" r="1.7"/><ellipse cx="0" cy="0" rx="2.1" ry="1.4" transform="translate(370.7 517.6) rotate(4)"/><circle cx="359.2" cy="504.8" r="1.3"/><circle cx="364.3" cy="536.1" r="1.9"/><circle cx="334.8" cy="502.5" r="1.5"/><ellipse cx="0" cy="0" rx="2.1" ry="1.8" transform="translate(310.9 503.8) rotate(12)"/><circle cx="349.8" cy="534.8" r="1.3"/><circle cx="306.2" cy="500.9" r="1.6"/><circle cx="358.5" cy="551" r="1.8"/><circle cx="348.3" cy="527.4" r="1.3"/><circle cx="351.1" cy="552.1" r="1.7"/><circle cx="360.2" cy="554.6" r="1.4"/><circle cx="359.1" cy="523.3" r="2"/><circle cx="305.2" cy="550.3" r="2"/><circle cx="308.3" cy="547.7" r="2"/><ellipse cx="0" cy="0" rx="2.1" ry="1.4" transform="translate(317.4 500.6) rotate(171)"/><ellipse cx="0" cy="0" rx="2.1" ry="1.6" transform="translate(308.2 531.2) rotate(80)"/><circle cx="382" cy="562.9" r="1.3"/><circle cx="378" cy="529.6" r="1.5"/><circle cx="355.8" cy="543.5" r="1.3"/><circle cx="347.5" cy="544.7" r="1.5"/><circle cx="361" cy="528.8" r="1.8"/><circle cx="370.2" cy="562.4" r="1.9"/><circle cx="304.4" cy="547.4" r="1.7"/><circle cx="326.8" cy="540.5" r="2"/><circle cx="312.9" cy="519" r="1.8"/><circle cx="350.5" cy="521.7" r="1.8"/><circle cx="302.6" cy="552.7" r="1.4"/><circle cx="309.8" cy="548.1" r="2"/><ellipse cx="0" cy="0" rx="2.1" ry="1.6" transform="translate(356.1 556.4) rotate(82)"/><circle cx="347" cy="502.5" r="1.3"/><circle cx="305.9" cy="523.6" r="2"/><circle cx="378.9" cy="542" r="1.8"/><circle cx="319.8" cy="540.5" r="1.5"/><circle cx="323.7" cy="500.8" r="2"/><circle cx="356.2" cy="523.2" r="1.6"/><circle cx="305.8" cy="540.1" r="1.7"/><circle cx="332" cy="509.4" r="1.2"/><circle cx="344.9" cy="557.3" r="2"/><circle cx="353.1" cy="559.5" r="2"/><circle cx="322.9" cy="510" r="1.2"/><circle cx="366.5" cy="501.5" r="2"/><circle cx="317.6" cy="510.8" r="1.6"/><circle cx="340.7" cy="531.8" r="1.5"/><circle cx="380.3" cy="557" r="1.6"/><circle cx="340.1" cy="514.7" r="1.6"/><circle cx="301.2" cy="541" r="1.3"/><circle cx="345" cy="529" r="1.4"/></g><g fill="#3e2672"><circle cx="303.9" cy="560.5" r="1.4"/><circle cx="369.9" cy="510.5" r="1.5"/><circle cx="351" cy="521.9" r="1.5"/><circle cx="306.2" cy="535.2" r="1.7"/><circle cx="330.3" cy="562.6" r="1.3"/><ellipse cx="0" cy="0" rx="2" ry="1.4" transform="translate(360.5 500.9) rotate(57)"/><circle cx="329.1" cy="529.7" r="1.3"/><ellipse cx="0" cy="0" rx="2" ry="1.9" transform="translate(325.5 519.1) rotate(64)"/><circle cx="320.3" cy="540.9" r="2.1"/><circle cx="330.7" cy="554.8" r="1.4"/><circle cx="358.2" cy="506.3" r="1.6"/><circle cx="380.1" cy="525.9" r="1.6"/><circle cx="373.9" cy="530.7" r="1.4"/><circle cx="336.2" cy="503.2" r="1.4"/><circle cx="382.3" cy="536.8" r="2"/><circle cx="314.6" cy="563.1" r="2"/><circle cx="378.6" cy="543.5" r="1.9"/><circle cx="382.9" cy="543.2" r="1.8"/><circle cx="304.5" cy="538.7" r="1.7"/><circle cx="370.1" cy="542" r="1.8"/><circle cx="354.3" cy="553" r="1.6"/><circle cx="309.6" cy="514.5" r="2"/><circle cx="356" cy="509" r="1.4"/><circle cx="317" cy="500" r="1.8"/><circle cx="375.4" cy="513.9" r="1.4"/><circle cx="361.7" cy="499.2" r="1.3"/><circle cx="328.1" cy="504.4" r="1.4"/><circle cx="313.2" cy="523.8" r="1.9"/><circle cx="335.1" cy="562.1" r="1.8"/><circle cx="360.6" cy="526.9" r="1.9"/><circle cx="382.4" cy="521.8" r="1.8"/><circle cx="370.9" cy="518.1" r="2"/><circle cx="359.3" cy="531.5" r="1.3"/><ellipse cx="0" cy="0" rx="2.1" ry="1.7" transform="translate(352.8 525.4) rotate(155)"/><circle cx="313.1" cy="526.7" r="1.6"/><ellipse cx="0" cy="0" rx="2.1" ry="1.5" transform="translate(311.6 500.5) rotate(116)"/><circle cx="355.6" cy="509.2" r="1.6"/><circle cx="376" cy="559.7" r="1.4"/><circle cx="383.4" cy="540.8" r="1.6"/><ellipse cx="0" cy="0" rx="2" ry="1.4" transform="translate(369.1 526.3) rotate(29)"/><circle cx="305.9" cy="523.9" r="1.8"/><circle cx="309.5" cy="538.4" r="1.9"/><circle cx="336.9" cy="512.1" r="1.6"/><circle cx="330.1" cy="552.2" r="1.7"/><circle cx="327.3" cy="547.5" r="1.4"/><circle cx="347.6" cy="539.7" r="1.4"/><circle cx="300.3" cy="532.8" r="1.3"/><circle cx="321.6" cy="561.1" r="1.8"/><circle cx="381.1" cy="548.8" r="1.5"/><circle cx="317" cy="552.2" r="1.4"/><circle cx="346.1" cy="537" r="1.8"/><circle cx="372.6" cy="544.1" r="1.3"/><circle cx="342.1" cy="540.5" r="2"/><circle cx="332.6" cy="545.5" r="1.3"/><circle cx="314.9" cy="503.1" r="1.4"/><circle cx="326.7" cy="530.6" r="1.9"/><ellipse cx="0" cy="0" rx="2" ry="1.4" transform="translate(358.4 519.3) rotate(81)"/><circle cx="358" cy="508.2" r="1.9"/><circle cx="356.6" cy="556.6" r="1.6"/><circle cx="384.1" cy="517.7" r="1.8"/><circle cx="383" cy="523.5" r="1.9"/></g><g fill="#56388c"><circle cx="348.9" cy="546" r="1.4"/><circle cx="360.1" cy="535.4" r="1.7"/><circle cx="334.8" cy="561.3" r="1.8"/><circle cx="322.6" cy="545.3" r="1.8"/><circle cx="311.3" cy="555.6" r="1.8"/><circle cx="324.9" cy="533.9" r="2"/><circle cx="358.8" cy="511.8" r="2.1"/><circle cx="303.5" cy="501.1" r="1.3"/><circle cx="342.8" cy="554" r="1.4"/><ellipse cx="0" cy="0" rx="2" ry="1.4" transform="translate(361.3 544.9) rotate(61)"/><circle cx="353.7" cy="506.4" r="1.6"/><circle cx="319.6" cy="548.8" r="1.8"/><circle cx="334.6" cy="555.5" r="1.6"/><circle cx="332.8" cy="500.4" r="2.1"/><circle cx="356.6" cy="504.5" r="1.9"/><circle cx="312.6" cy="538.8" r="1.4"/><circle cx="362" cy="508.4" r="1.7"/><circle cx="310.4" cy="508.1" r="1.3"/><circle cx="370" cy="535.8" r="1.8"/><circle cx="331.5" cy="557.8" r="1.8"/><circle cx="346.3" cy="544.8" r="1.3"/><circle cx="365" cy="501" r="1.2"/><circle cx="302.3" cy="514.9" r="1.6"/><circle cx="356.5" cy="518.4" r="1.7"/><circle cx="325.8" cy="554.3" r="1.9"/><circle cx="309.8" cy="513.6" r="1.8"/><circle cx="367.1" cy="542.8" r="1.5"/><circle cx="314.4" cy="528.1" r="1.5"/><ellipse cx="0" cy="0" rx="2.1" ry="1.6" transform="translate(379.9 516.4) rotate(153)"/><circle cx="311.1" cy="550.4" r="1.6"/><circle cx="352.1" cy="544.6" r="1.3"/><circle cx="323" cy="527.3" r="1.5"/><circle cx="329" cy="508.5" r="1.6"/><circle cx="343.1" cy="538.2" r="1.8"/><circle cx="371.1" cy="533.5" r="1.6"/><ellipse cx="0" cy="0" rx="2" ry="1.7" transform="translate(367 500.9) rotate(61)"/><circle cx="346.1" cy="511.4" r="1.8"/><circle cx="317.8" cy="553.1" r="1.9"/><circle cx="325" cy="540.7" r="1.3"/><circle cx="311.1" cy="512" r="1.5"/><circle cx="325.2" cy="529.4" r="1.3"/><circle cx="363.6" cy="541.9" r="1.4"/><circle cx="357.5" cy="513.5" r="1.4"/><circle cx="316.3" cy="561" r="1.5"/><circle cx="378" cy="550.3" r="1.5"/><circle cx="303.7" cy="541.7" r="1.3"/><circle cx="326.8" cy="515" r="1.6"/><circle cx="330.6" cy="522.8" r="1.4"/><circle cx="354.3" cy="557.2" r="1.7"/><circle cx="382.4" cy="545.3" r="1.9"/><circle cx="333.8" cy="553.7" r="1.4"/><circle cx="347" cy="504.5" r="1.7"/><circle cx="306.6" cy="522.4" r="1.9"/><circle cx="367.7" cy="528.6" r="1.2"/><ellipse cx="0" cy="0" rx="2" ry="1.4" transform="translate(375.5 519.6) rotate(102)"/><circle cx="354" cy="550.4" r="1.4"/><circle cx="353.7" cy="503.5" r="1.6"/><circle cx="349.9" cy="556.8" r="1.4"/><circle cx="301.7" cy="548.5" r="1.6"/><circle cx="333.6" cy="556.1" r="1.9"/><ellipse cx="0" cy="0" rx="2.1" ry="1.7" transform="translate(338.5 532.4) rotate(155)"/><circle cx="351.1" cy="507.7" r="1.2"/><circle cx="301.8" cy="528.7" r="2"/><circle cx="377.8" cy="507.1" r="1.3"/><circle cx="362.9" cy="499" r="2"/><circle cx="331" cy="539.3" r="1.6"/><circle cx="332.7" cy="540.5" r="1.8"/><circle cx="361" cy="531" r="1.9"/><circle cx="378.5" cy="548.4" r="1.4"/></g><g fill="#4a2e80"><circle cx="301.9" cy="559.5" r="1.6"/><circle cx="310.8" cy="513.9" r="1.4"/><circle cx="343.8" cy="546.8" r="1.4"/><circle cx="381.5" cy="561.7" r="1.3"/><circle cx="306.5" cy="538.6" r="1.2"/><ellipse cx="0" cy="0" rx="2" ry="1.4" transform="translate(303.6 518.7) rotate(108)"/><circle cx="380.7" cy="547.8" r="1.9"/><circle cx="332.9" cy="522.5" r="1.3"/><circle cx="315.1" cy="531.3" r="1.3"/><circle cx="382.9" cy="532.8" r="1.6"/><ellipse cx="0" cy="0" rx="2.1" ry="1.8" transform="translate(303.5 554.8) rotate(103)"/><circle cx="341.8" cy="536" r="1.6"/><circle cx="366.8" cy="516.1" r="2"/><circle cx="313.5" cy="561.5" r="1.4"/><circle cx="382.5" cy="562.9" r="1.4"/><circle cx="328" cy="502.9" r="1.3"/><circle cx="355.8" cy="509.4" r="1.9"/><circle cx="320.6" cy="549.8" r="1.3"/><circle cx="301.5" cy="500.3" r="1.6"/><circle cx="311.9" cy="536.9" r="1.7"/><ellipse cx="0" cy="0" rx="2" ry="1.4" transform="translate(362.1 525.1) rotate(125)"/><circle cx="331.1" cy="553.1" r="1.9"/><circle cx="327.5" cy="538.8" r="2"/><circle cx="359.7" cy="521" r="1.5"/><circle cx="317.8" cy="528.9" r="1.4"/><ellipse cx="0" cy="0" rx="2" ry="1.4" transform="translate(323.4 561.9) rotate(38)"/><circle cx="372.2" cy="559.8" r="1.3"/><circle cx="329.3" cy="527.3" r="1.7"/><circle cx="310.3" cy="509.9" r="2"/><circle cx="343.9" cy="536.3" r="1.9"/><circle cx="332.3" cy="535.9" r="1.6"/><circle cx="366.3" cy="536.3" r="1.9"/><circle cx="363.1" cy="540.7" r="1.6"/><circle cx="331.1" cy="509.1" r="1.3"/><circle cx="319" cy="500.9" r="1.3"/><circle cx="310.8" cy="549.8" r="1.6"/><ellipse cx="0" cy="0" rx="2.1" ry="1.8" transform="translate(349 538.1) rotate(44)"/><circle cx="361.9" cy="510" r="1.4"/><circle cx="335.6" cy="533.4" r="1.2"/><circle cx="338" cy="532.2" r="1.7"/><circle cx="324.9" cy="504.6" r="1.7"/><circle cx="301.3" cy="556.2" r="1.2"/><circle cx="376.9" cy="514.1" r="1.6"/><circle cx="309" cy="508.2" r="1.7"/><circle cx="314.8" cy="508.7" r="1.6"/><circle cx="324.5" cy="559.9" r="1.6"/><circle cx="339.7" cy="515.3" r="1.3"/><circle cx="306.6" cy="530.6" r="1.4"/><circle cx="372" cy="561.8" r="1.5"/><circle cx="326" cy="531.8" r="1.4"/><circle cx="349.6" cy="550.6" r="1.7"/><circle cx="328.7" cy="523" r="1.6"/><circle cx="356.2" cy="535.6" r="1.6"/><circle cx="335.6" cy="503.2" r="1.7"/><circle cx="382.8" cy="516.2" r="1.6"/><circle cx="379.3" cy="537" r="1.4"/><ellipse cx="0" cy="0" rx="2.1" ry="1.6" transform="translate(332.2 556.3) rotate(12)"/><circle cx="344.9" cy="541.8" r="1.4"/><circle cx="361.4" cy="555.5" r="1.5"/><circle cx="324.3" cy="528.3" r="1.5"/><circle cx="357.9" cy="501.4" r="1.8"/><ellipse cx="0" cy="0" rx="2" ry="1.5" transform="translate(379.3 504.1) rotate(91)"/><circle cx="300.7" cy="511.5" r="1.5"/><circle cx="340.8" cy="538.6" r="1.3"/><circle cx="340.2" cy="513" r="1.5"/><circle cx="305.7" cy="550" r="1.8"/><circle cx="331.7" cy="525.4" r="1.6"/><circle cx="314.4" cy="515.6" r="1.7"/></g></g><rect x="303.5" y="502.3" width="10.5" height="5.6" fill="#fbf8fb"/><text class="lb" x="304.3" y="506.8" font-size="4.6" fill="#555" textLength="8.9" lengthAdjust="spacingAndGlyphs">500x</text></g><clipPath id="c19"><rect x="386.5" y="500.8" width="80.5" height="60.7"/></clipPath><g clip-path="url(#c19)"><g filter="url(#bl)"><rect x="386.5" y="500.8" width="80.5" height="60.7" fill="#f8f3f6"/><ellipse cx="404.8" cy="502.4" rx="3.9" ry="3.8" fill="#6a4498" stroke="#f4eef6" stroke-width="0.6"/><ellipse cx="410.9" cy="503.2" rx="3.7" ry="3.4" fill="#7050a0" stroke="#f4eef6" stroke-width="0.6"/><ellipse cx="419.4" cy="503.5" rx="4.1" ry="4.1" fill="#8a66b2" stroke="#f4eef6" stroke-width="0.6"/><ellipse cx="426.6" cy="504.4" rx="3.6" ry="3.3" fill="#7050a0" stroke="#f4eef6" stroke-width="0.6"/><ellipse cx="435.3" cy="504.5" rx="3.5" ry="3.4" fill="#5e3a8e" stroke="#f4eef6" stroke-width="0.6"/><ellipse cx="440.6" cy="503.5" rx="3.6" ry="3.5" fill="#5e3a8e" stroke="#f4eef6" stroke-width="0.6"/><ellipse cx="454.8" cy="504.7" rx="4.3" ry="3.7" fill="#6a4498" stroke="#f4eef6" stroke-width="0.6"/><ellipse cx="460.3" cy="503.8" rx="4.3" ry="4" fill="#6a4498" stroke="#f4eef6" stroke-width="0.6"/><ellipse cx="391.1" cy="511.6" rx="3.6" ry="3.6" fill="#6a4498" stroke="#f4eef6" stroke-width="0.6"/><ellipse cx="406.6" cy="511.6" rx="3.5" ry="3.1" fill="#6a4498" stroke="#f4eef6" stroke-width="0.6"/><ellipse cx="413.8" cy="511.7" rx="4.3" ry="4" fill="#7050a0" stroke="#f4eef6" stroke-width="0.6"/><ellipse cx="421.4" cy="511.9" rx="3.9" ry="3.5" fill="#6a4498" stroke="#f4eef6" stroke-width="0.6"/><ellipse cx="429.4" cy="511.7" rx="4.1" ry="3.9" fill="#6a4498" stroke="#f4eef6" stroke-width="0.6"/><ellipse cx="438.1" cy="511.2" rx="3.5" ry="3" fill="#5e3a8e" stroke="#f4eef6" stroke-width="0.6"/><ellipse cx="452.1" cy="510.3" rx="4.1" ry="4.1" fill="#8a66b2" stroke="#f4eef6" stroke-width="0.6"/><ellipse cx="459.6" cy="510.2" rx="4.4" ry="3.7" fill="#5e3a8e" stroke="#f4eef6" stroke-width="0.6"/><ellipse cx="397.8" cy="521.6" rx="4.2" ry="4" fill="#5e3a8e" stroke="#f4eef6" stroke-width="0.6"/><ellipse cx="410.3" cy="515.8" rx="3.5" ry="3.1" fill="#7a56a8" stroke="#f4eef6" stroke-width="0.6"/><ellipse cx="422.4" cy="520.2" rx="4.4" ry="4.3" fill="#5e3a8e" stroke="#f4eef6" stroke-width="0.6"/><ellipse cx="428" cy="518.6" rx="3.4" ry="3" fill="#6a4498" stroke="#f4eef6" stroke-width="0.6"/><ellipse cx="433.7" cy="522" rx="3.7" ry="3.2" fill="#8a66b2" stroke="#f4eef6" stroke-width="0.6"/><ellipse cx="440.9" cy="520" rx="4.2" ry="4" fill="#7a56a8" stroke="#f4eef6" stroke-width="0.6"/><ellipse cx="446.8" cy="521.2" rx="4" ry="3.4" fill="#8a66b2" stroke="#f4eef6" stroke-width="0.6"/><ellipse cx="452.9" cy="516.1" rx="3.9" ry="3.4" fill="#5e3a8e" stroke="#f4eef6" stroke-width="0.6"/><ellipse cx="414.9" cy="526.6" rx="3.6" ry="3.1" fill="#7a56a8" stroke="#f4eef6" stroke-width="0.6"/><ellipse cx="419.5" cy="530.4" rx="3.7" ry="3.2" fill="#6a4498" stroke="#f4eef6" stroke-width="0.6"/><ellipse cx="424.9" cy="526.8" rx="3.5" ry="3.3" fill="#5e3a8e" stroke="#f4eef6" stroke-width="0.6"/><ellipse cx="431.7" cy="528.6" rx="3.7" ry="3.7" fill="#7050a0" stroke="#f4eef6" stroke-width="0.6"/><ellipse cx="439" cy="531.9" rx="3.7" ry="3.2" fill="#7050a0" stroke="#f4eef6" stroke-width="0.6"/><ellipse cx="448.1" cy="528.6" rx="4.2" ry="3.6" fill="#5e3a8e" stroke="#f4eef6" stroke-width="0.6"/><ellipse cx="400.8" cy="541" rx="4.2" ry="3.6" fill="#6a4498" stroke="#f4eef6" stroke-width="0.6"/><ellipse cx="409.1" cy="540.5" rx="3.7" ry="3.6" fill="#7a56a8" stroke="#f4eef6" stroke-width="0.6"/><ellipse cx="417.1" cy="537.2" rx="4.2" ry="3.7" fill="#8a66b2" stroke="#f4eef6" stroke-width="0.6"/><ellipse cx="427.1" cy="539.3" rx="4" ry="3.7" fill="#7050a0" stroke="#f4eef6" stroke-width="0.6"/><ellipse cx="433.4" cy="543.7" rx="4.3" ry="3.7" fill="#7050a0" stroke="#f4eef6" stroke-width="0.6"/><ellipse cx="441.3" cy="541" rx="4.3" ry="4" fill="#6a4498" stroke="#f4eef6" stroke-width="0.6"/><ellipse cx="448.4" cy="541.7" rx="4.3" ry="3.7" fill="#7a56a8" stroke="#f4eef6" stroke-width="0.6"/><ellipse cx="453.2" cy="540.3" rx="4.1" ry="3.8" fill="#8a66b2" stroke="#f4eef6" stroke-width="0.6"/><ellipse cx="395.9" cy="548.3" rx="4.3" ry="3.7" fill="#7a56a8" stroke="#f4eef6" stroke-width="0.6"/><ellipse cx="403" cy="548.5" rx="4.3" ry="4.1" fill="#7050a0" stroke="#f4eef6" stroke-width="0.6"/><ellipse cx="415.6" cy="548.2" rx="3.9" ry="3.4" fill="#6a4498" stroke="#f4eef6" stroke-width="0.6"/><ellipse cx="423.7" cy="549.3" rx="4.1" ry="3.6" fill="#7050a0" stroke="#f4eef6" stroke-width="0.6"/><ellipse cx="451.5" cy="546.2" rx="4.2" ry="3.9" fill="#7050a0" stroke="#f4eef6" stroke-width="0.6"/><ellipse cx="457.2" cy="549.4" rx="3.9" ry="3.5" fill="#5e3a8e" stroke="#f4eef6" stroke-width="0.6"/><ellipse cx="393" cy="557.1" rx="3.4" ry="3.4" fill="#8a66b2" stroke="#f4eef6" stroke-width="0.6"/><ellipse cx="398" cy="557.8" rx="4.2" ry="3.7" fill="#7a56a8" stroke="#f4eef6" stroke-width="0.6"/><ellipse cx="409.3" cy="556.4" rx="3.6" ry="3.1" fill="#6a4498" stroke="#f4eef6" stroke-width="0.6"/><ellipse cx="421.1" cy="556.9" rx="3.8" ry="3.5" fill="#5e3a8e" stroke="#f4eef6" stroke-width="0.6"/><ellipse cx="438.9" cy="557.2" rx="4.3" ry="4.1" fill="#7a56a8" stroke="#f4eef6" stroke-width="0.6"/><ellipse cx="445.6" cy="556.2" rx="3.4" ry="3.4" fill="#7050a0" stroke="#f4eef6" stroke-width="0.6"/><ellipse cx="453.1" cy="557.6" rx="4.2" ry="4.1" fill="#7050a0" stroke="#f4eef6" stroke-width="0.6"/><ellipse cx="420" cy="521" rx="1.6" ry="1.6" fill="#f0e0ee"/><ellipse cx="418" cy="537" rx="1.5" ry="1.5" fill="#e8c8e0"/><ellipse cx="416" cy="530" rx="3" ry="2.5" fill="#c890c0"/></g><rect x="387.7" y="502.3" width="11.5" height="5.6" fill="#fbf8fb"/><text class="lb" x="388.5" y="506.8" font-size="4.6" fill="#555" textLength="9.9" lengthAdjust="spacingAndGlyphs">1000x</text></g><text x="219.2" y="28.2" font-size="10" text-anchor="start" fill="#222" textLength="139.3" lengthAdjust="spacingAndGlyphs">MDS/MPN + ML (Runx1<tspan font-size="7" dy="-3.6">R188Q/Δ</tspan><tspan dy="3.6">)</tspan></text><text x="401.6" y="28.2" font-size="10" text-anchor="start" fill="#222" textLength="81.3" lengthAdjust="spacingAndGlyphs">ML (Runx1<tspan font-size="7" dy="-3.6">R188Q/Δ</tspan><tspan dy="3.6">)</tspan></text><text x="252" y="151.1" font-size="8.2" text-anchor="middle" fill="#222" textLength="46.6" lengthAdjust="spacingAndGlyphs">Bone marrow</text><text x="324" y="151.1" font-size="8.2" text-anchor="middle" fill="#222" textLength="56.2" lengthAdjust="spacingAndGlyphs">Peripheral blood</text><text x="408.2" y="151.1" font-size="8.2" text-anchor="middle" fill="#222" textLength="46.6" lengthAdjust="spacingAndGlyphs">Bone marrow</text><text x="477.7" y="151.1" font-size="8.2" text-anchor="middle" fill="#222" textLength="56.2" lengthAdjust="spacingAndGlyphs">Peripheral blood</text><text x="297.2" y="203.8" font-size="10" text-anchor="middle" fill="#222">MDS/MPN + ML</text><text x="244.1" y="214.7" font-size="10" text-anchor="start" fill="#222" textLength="108" lengthAdjust="spacingAndGlyphs">(Nras<tspan font-size="7" dy="-3.6">G12D</tspan><tspan dy="3.6">, Runx1</tspan><tspan font-size="7" dy="-3.6">R188Q/Δ</tspan><tspan dy="3.6">)</tspan></text><text x="440.5" y="203.8" font-size="10" text-anchor="middle" fill="#222">T-ALL</text><text x="386.9" y="214.7" font-size="10" text-anchor="start" fill="#222" textLength="108.2" lengthAdjust="spacingAndGlyphs">(Nras<tspan font-size="7" dy="-3.6">G12D</tspan><tspan dy="3.6">, Runx1</tspan><tspan font-size="7" dy="-3.6">R188Q/Δ</tspan><tspan dy="3.6">)</tspan></text><text x="297.7" y="354.8" font-size="8.2" text-anchor="middle" fill="#222" textLength="46.6" lengthAdjust="spacingAndGlyphs">Bone marrow</text><text x="441.6" y="355.5" font-size="8.2" text-anchor="middle" fill="#222" textLength="27.8" lengthAdjust="spacingAndGlyphs">Thymus</text><text x="259.4" y="423.7" font-size="10" text-anchor="middle" fill="#222">MDS/ML</text><text x="229.2" y="434.8" font-size="10" text-anchor="start" fill="#222" textLength="58.3" lengthAdjust="spacingAndGlyphs">(Runx1<tspan font-size="7" dy="-3.6">188Q/+</tspan><tspan dy="3.6">)</tspan></text><text x="342.5" y="423.7" font-size="10" text-anchor="middle" fill="#222">MPN</text><text x="312.7" y="434.8" font-size="10" text-anchor="start" fill="#222" textLength="57.7" lengthAdjust="spacingAndGlyphs">(Runx1<tspan font-size="7" dy="-3.6">188Q/+</tspan><tspan dy="3.6">)</tspan></text><text x="426.4" y="423.7" font-size="10" text-anchor="middle" fill="#222">ML</text><text x="394.4" y="434.8" font-size="10" text-anchor="start" fill="#222" textLength="62.6" lengthAdjust="spacingAndGlyphs">(Runx1<tspan font-size="7" dy="-3.6">R188Q/Δ</tspan><tspan dy="3.6">)</tspan></text><text transform="translate(212.2,500.5) rotate(-90)" font-size="8" text-anchor="middle" textLength="41.4" lengthAdjust="spacingAndGlyphs" fill="#222">Bone marrow</text></svg>
</body></html>
